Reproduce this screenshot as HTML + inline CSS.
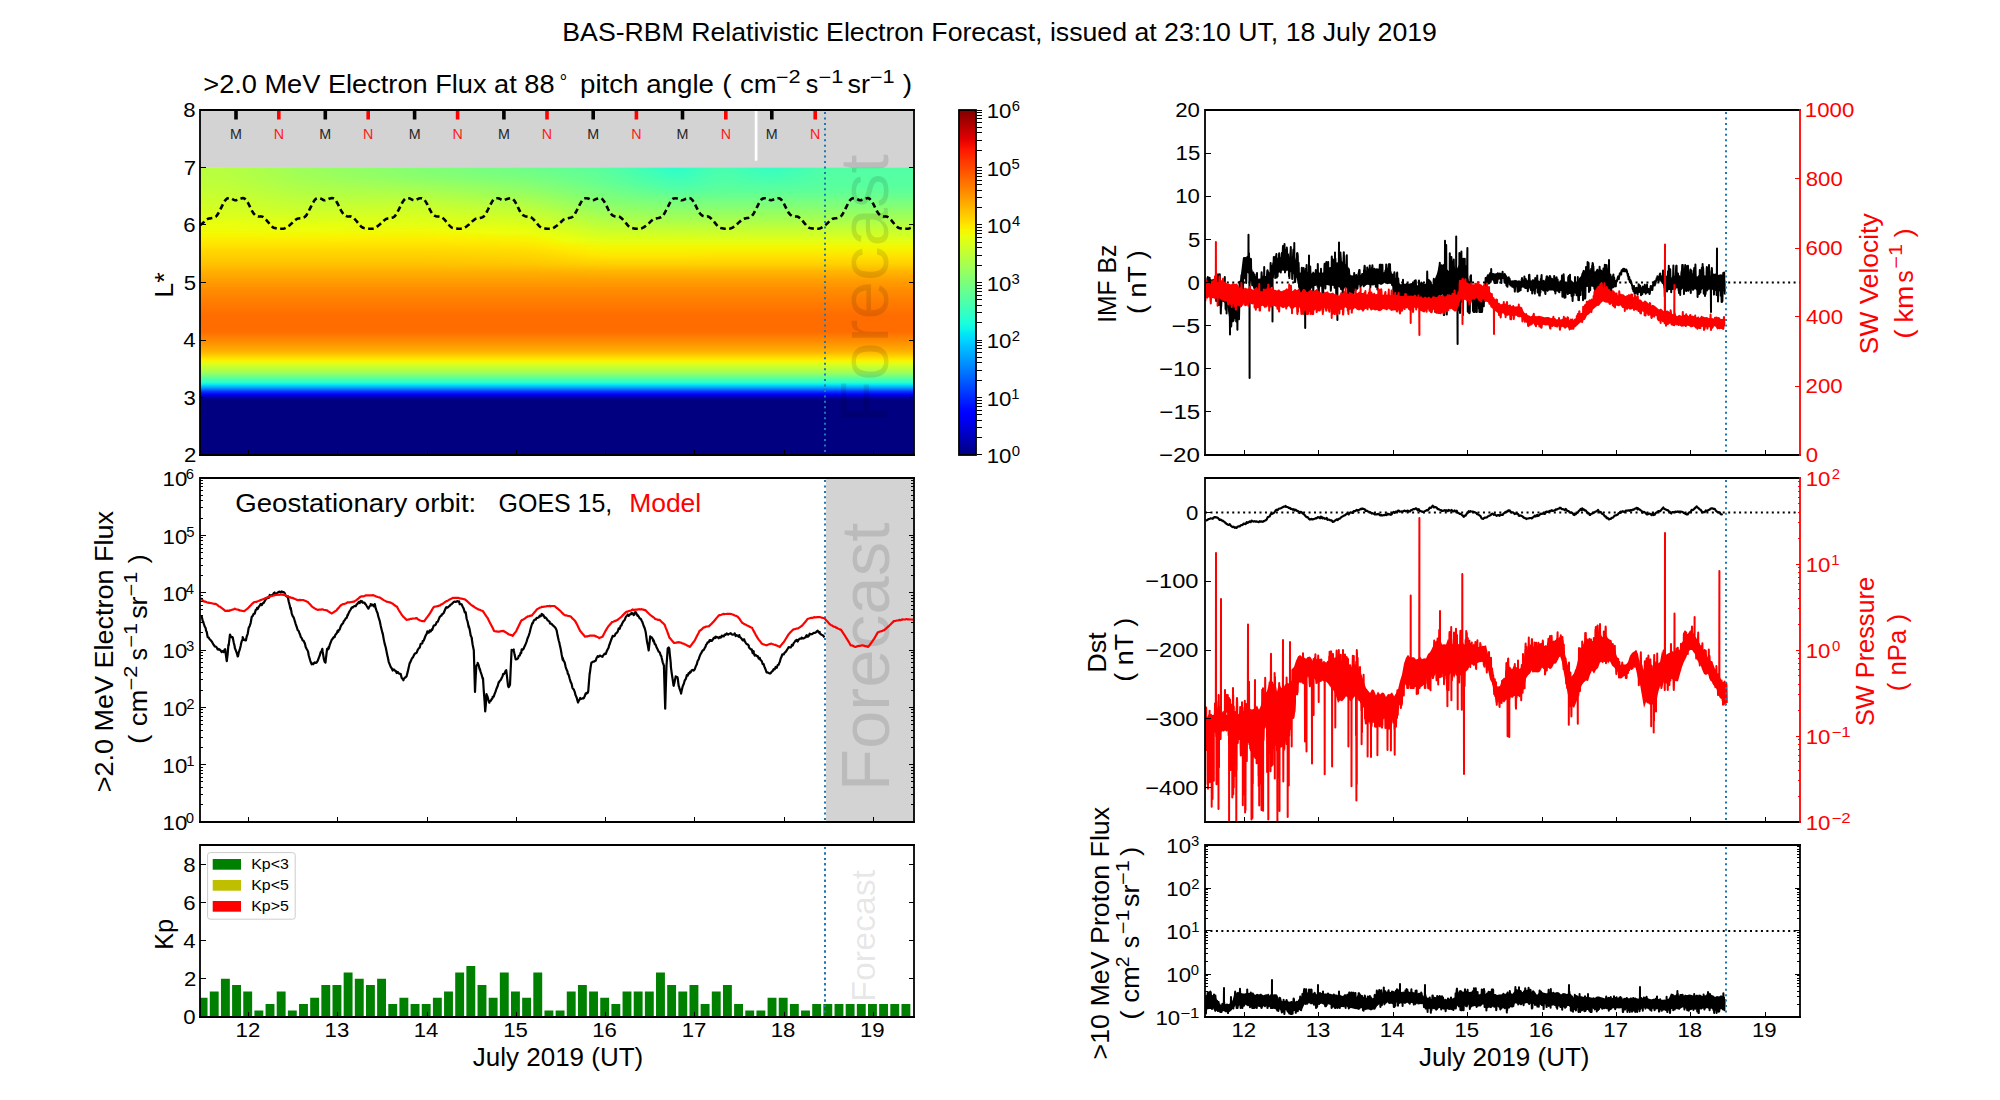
<!DOCTYPE html><html><head><meta charset="utf-8"><style>html,body{margin:0;padding:0;background:#fff}svg{display:block}text{font-family:"Liberation Sans",sans-serif}</style></head><body><svg width="2000" height="1100" viewBox="0 0 2000 1100"><defs><linearGradient id="cbar" x1="0" y1="0" x2="0" y2="1"><stop offset="0.0000" stop-color="#800000"/><stop offset="0.0167" stop-color="#930000"/><stop offset="0.0333" stop-color="#a60000"/><stop offset="0.0500" stop-color="#b90000"/><stop offset="0.0667" stop-color="#cd0000"/><stop offset="0.0833" stop-color="#e00000"/><stop offset="0.1000" stop-color="#f30900"/><stop offset="0.1167" stop-color="#ff1900"/><stop offset="0.1333" stop-color="#ff2900"/><stop offset="0.1500" stop-color="#ff3900"/><stop offset="0.1667" stop-color="#ff4800"/><stop offset="0.1833" stop-color="#ff5800"/><stop offset="0.2000" stop-color="#ff6800"/><stop offset="0.2167" stop-color="#ff7800"/><stop offset="0.2333" stop-color="#ff8700"/><stop offset="0.2500" stop-color="#ff9700"/><stop offset="0.2667" stop-color="#ffa700"/><stop offset="0.2833" stop-color="#ffb700"/><stop offset="0.3000" stop-color="#ffc600"/><stop offset="0.3167" stop-color="#ffd600"/><stop offset="0.3333" stop-color="#ffe600"/><stop offset="0.3500" stop-color="#f7f600"/><stop offset="0.3667" stop-color="#e9ff0e"/><stop offset="0.3833" stop-color="#dbff1b"/><stop offset="0.4000" stop-color="#ceff29"/><stop offset="0.4167" stop-color="#c0ff37"/><stop offset="0.4333" stop-color="#b2ff45"/><stop offset="0.4500" stop-color="#a5ff52"/><stop offset="0.4667" stop-color="#97ff60"/><stop offset="0.4833" stop-color="#89ff6e"/><stop offset="0.5000" stop-color="#7bff7b"/><stop offset="0.5167" stop-color="#6eff89"/><stop offset="0.5333" stop-color="#60ff97"/><stop offset="0.5500" stop-color="#52ffa5"/><stop offset="0.5667" stop-color="#45ffb2"/><stop offset="0.5833" stop-color="#37ffc0"/><stop offset="0.6000" stop-color="#29ffce"/><stop offset="0.6167" stop-color="#1bffdb"/><stop offset="0.6333" stop-color="#0ef7e9"/><stop offset="0.6500" stop-color="#00e5f7"/><stop offset="0.6667" stop-color="#00d5ff"/><stop offset="0.6833" stop-color="#00c3ff"/><stop offset="0.7000" stop-color="#00b3ff"/><stop offset="0.7167" stop-color="#00a2ff"/><stop offset="0.7333" stop-color="#0091ff"/><stop offset="0.7500" stop-color="#0080ff"/><stop offset="0.7667" stop-color="#006eff"/><stop offset="0.7833" stop-color="#005eff"/><stop offset="0.8000" stop-color="#004cff"/><stop offset="0.8167" stop-color="#003cff"/><stop offset="0.8333" stop-color="#002aff"/><stop offset="0.8500" stop-color="#001aff"/><stop offset="0.8667" stop-color="#0008ff"/><stop offset="0.8833" stop-color="#0000ff"/><stop offset="0.9000" stop-color="#0000f3"/><stop offset="0.9167" stop-color="#0000e0"/><stop offset="0.9333" stop-color="#0000cd"/><stop offset="0.9500" stop-color="#0000b9"/><stop offset="0.9667" stop-color="#0000a6"/><stop offset="0.9833" stop-color="#000093"/><stop offset="1.0000" stop-color="#000080"/></linearGradient><linearGradient id="spec" x1="0" y1="0" x2="0" y2="1"><stop offset="0.0000" stop-color="#84ff73"/><stop offset="0.0296" stop-color="#88ff6f"/><stop offset="0.0877" stop-color="#adff4a"/><stop offset="0.1443" stop-color="#ceff29"/><stop offset="0.2017" stop-color="#e6ff10"/><stop offset="0.2299" stop-color="#f7f600"/><stop offset="0.2870" stop-color="#ffd900"/><stop offset="0.3357" stop-color="#ffc200"/><stop offset="0.3440" stop-color="#ffbd00"/><stop offset="0.4007" stop-color="#ff9700"/><stop offset="0.4574" stop-color="#ff8000"/><stop offset="0.5148" stop-color="#ff6d00"/><stop offset="0.5715" stop-color="#ff6d00"/><stop offset="0.5906" stop-color="#ff8000"/><stop offset="0.6157" stop-color="#ff9700"/><stop offset="0.6410" stop-color="#ffb300"/><stop offset="0.6591" stop-color="#ffd900"/><stop offset="0.6713" stop-color="#fbf100"/><stop offset="0.6817" stop-color="#deff19"/><stop offset="0.6991" stop-color="#bdff3a"/><stop offset="0.7169" stop-color="#94ff63"/><stop offset="0.7322" stop-color="#5aff9c"/><stop offset="0.7475" stop-color="#29ffce"/><stop offset="0.7537" stop-color="#08f0ef"/><stop offset="0.7677" stop-color="#0094ff"/><stop offset="0.7802" stop-color="#002eff"/><stop offset="0.7903" stop-color="#0000f3"/><stop offset="0.8003" stop-color="#0000a2"/><stop offset="0.8080" stop-color="#000080"/><stop offset="1.0000" stop-color="#000080"/></linearGradient><linearGradient id="s0" x1="0" y1="0" x2="0" y2="1"><stop offset="0.000" stop-color="#b9ff3e"/><stop offset="0.069" stop-color="#bbff3b"/><stop offset="0.135" stop-color="#c0ff37"/><stop offset="0.200" stop-color="#c7ff30"/><stop offset="0.265" stop-color="#cdff29"/><stop offset="0.331" stop-color="#d3ff24"/><stop offset="0.396" stop-color="#dcff1b"/><stop offset="0.461" stop-color="#e9ff0e"/><stop offset="0.527" stop-color="#f2fb04"/><stop offset="0.592" stop-color="#feed00"/><stop offset="0.657" stop-color="#ffdd00"/><stop offset="0.722" stop-color="#ffcf00"/><stop offset="0.788" stop-color="#ffc200"/><stop offset="0.853" stop-color="#ffaf00"/><stop offset="0.918" stop-color="#ff9f00"/><stop offset="1.000" stop-color="#ff8c00"/></linearGradient><linearGradient id="s1" x1="0" y1="0" x2="0" y2="1"><stop offset="0.000" stop-color="#b8ff3f"/><stop offset="0.069" stop-color="#bbff3c"/><stop offset="0.135" stop-color="#bfff38"/><stop offset="0.200" stop-color="#c6ff31"/><stop offset="0.265" stop-color="#cdff2a"/><stop offset="0.331" stop-color="#d3ff24"/><stop offset="0.396" stop-color="#dcff1b"/><stop offset="0.461" stop-color="#e9ff0e"/><stop offset="0.527" stop-color="#f2fb04"/><stop offset="0.592" stop-color="#feed00"/><stop offset="0.657" stop-color="#ffdd00"/><stop offset="0.722" stop-color="#ffcf00"/><stop offset="0.788" stop-color="#ffc200"/><stop offset="0.853" stop-color="#ffaf00"/><stop offset="0.918" stop-color="#ff9f00"/><stop offset="1.000" stop-color="#ff8c00"/></linearGradient><linearGradient id="s2" x1="0" y1="0" x2="0" y2="1"><stop offset="0.000" stop-color="#b7ff40"/><stop offset="0.069" stop-color="#baff3d"/><stop offset="0.135" stop-color="#beff38"/><stop offset="0.200" stop-color="#c5ff32"/><stop offset="0.265" stop-color="#ccff2a"/><stop offset="0.331" stop-color="#d3ff24"/><stop offset="0.396" stop-color="#dcff1b"/><stop offset="0.461" stop-color="#e9ff0e"/><stop offset="0.527" stop-color="#f2fb04"/><stop offset="0.592" stop-color="#feed00"/><stop offset="0.657" stop-color="#ffdd00"/><stop offset="0.722" stop-color="#ffcf00"/><stop offset="0.788" stop-color="#ffc200"/><stop offset="0.853" stop-color="#ffaf00"/><stop offset="0.918" stop-color="#ff9f00"/><stop offset="1.000" stop-color="#ff8c00"/></linearGradient><linearGradient id="s3" x1="0" y1="0" x2="0" y2="1"><stop offset="0.000" stop-color="#b6ff41"/><stop offset="0.069" stop-color="#b9ff3e"/><stop offset="0.135" stop-color="#beff39"/><stop offset="0.200" stop-color="#c4ff32"/><stop offset="0.265" stop-color="#ccff2b"/><stop offset="0.331" stop-color="#d3ff24"/><stop offset="0.396" stop-color="#dcff1b"/><stop offset="0.461" stop-color="#e9ff0e"/><stop offset="0.527" stop-color="#f2fb04"/><stop offset="0.592" stop-color="#feed00"/><stop offset="0.657" stop-color="#ffdd00"/><stop offset="0.722" stop-color="#ffcf00"/><stop offset="0.788" stop-color="#ffc200"/><stop offset="0.853" stop-color="#ffaf00"/><stop offset="0.918" stop-color="#ff9f00"/><stop offset="1.000" stop-color="#ff8c00"/></linearGradient><linearGradient id="s4" x1="0" y1="0" x2="0" y2="1"><stop offset="0.000" stop-color="#b5ff41"/><stop offset="0.069" stop-color="#b8ff3f"/><stop offset="0.135" stop-color="#bdff3a"/><stop offset="0.200" stop-color="#c4ff33"/><stop offset="0.265" stop-color="#cbff2b"/><stop offset="0.331" stop-color="#d2ff24"/><stop offset="0.396" stop-color="#dcff1b"/><stop offset="0.461" stop-color="#e9ff0e"/><stop offset="0.527" stop-color="#f2fb04"/><stop offset="0.592" stop-color="#feed00"/><stop offset="0.657" stop-color="#ffdd00"/><stop offset="0.722" stop-color="#ffcf00"/><stop offset="0.788" stop-color="#ffc200"/><stop offset="0.853" stop-color="#ffaf00"/><stop offset="0.918" stop-color="#ff9f00"/><stop offset="1.000" stop-color="#ff8c00"/></linearGradient><linearGradient id="s5" x1="0" y1="0" x2="0" y2="1"><stop offset="0.000" stop-color="#b3ff44"/><stop offset="0.069" stop-color="#b6ff41"/><stop offset="0.135" stop-color="#bbff3c"/><stop offset="0.200" stop-color="#c2ff35"/><stop offset="0.265" stop-color="#caff2d"/><stop offset="0.331" stop-color="#d2ff25"/><stop offset="0.396" stop-color="#dcff1b"/><stop offset="0.461" stop-color="#e9ff0e"/><stop offset="0.527" stop-color="#f2fb05"/><stop offset="0.592" stop-color="#feed00"/><stop offset="0.657" stop-color="#ffdd00"/><stop offset="0.722" stop-color="#ffcf00"/><stop offset="0.788" stop-color="#ffc200"/><stop offset="0.853" stop-color="#ffaf00"/><stop offset="0.918" stop-color="#ff9f00"/><stop offset="1.000" stop-color="#ff8c00"/></linearGradient><linearGradient id="s6" x1="0" y1="0" x2="0" y2="1"><stop offset="0.000" stop-color="#b0ff47"/><stop offset="0.069" stop-color="#b3ff44"/><stop offset="0.135" stop-color="#b8ff3e"/><stop offset="0.200" stop-color="#c0ff37"/><stop offset="0.265" stop-color="#c8ff2f"/><stop offset="0.331" stop-color="#d0ff27"/><stop offset="0.396" stop-color="#dbff1c"/><stop offset="0.461" stop-color="#e8ff0f"/><stop offset="0.527" stop-color="#f2fb05"/><stop offset="0.592" stop-color="#feed00"/><stop offset="0.657" stop-color="#ffdd00"/><stop offset="0.722" stop-color="#ffcf00"/><stop offset="0.788" stop-color="#ffc200"/><stop offset="0.853" stop-color="#ffaf00"/><stop offset="0.918" stop-color="#ff9f00"/><stop offset="1.000" stop-color="#ff8c00"/></linearGradient><linearGradient id="s7" x1="0" y1="0" x2="0" y2="1"><stop offset="0.000" stop-color="#acff4b"/><stop offset="0.069" stop-color="#b0ff47"/><stop offset="0.135" stop-color="#b6ff41"/><stop offset="0.200" stop-color="#beff39"/><stop offset="0.265" stop-color="#c6ff31"/><stop offset="0.331" stop-color="#cfff28"/><stop offset="0.396" stop-color="#daff1d"/><stop offset="0.461" stop-color="#e7ff10"/><stop offset="0.527" stop-color="#f2fb05"/><stop offset="0.592" stop-color="#feed00"/><stop offset="0.657" stop-color="#ffdd00"/><stop offset="0.722" stop-color="#ffcf00"/><stop offset="0.788" stop-color="#ffc200"/><stop offset="0.853" stop-color="#ffaf00"/><stop offset="0.918" stop-color="#ff9f00"/><stop offset="1.000" stop-color="#ff8c00"/></linearGradient><linearGradient id="s8" x1="0" y1="0" x2="0" y2="1"><stop offset="0.000" stop-color="#a9ff4e"/><stop offset="0.069" stop-color="#adff4a"/><stop offset="0.135" stop-color="#b3ff44"/><stop offset="0.200" stop-color="#bbff3b"/><stop offset="0.265" stop-color="#c4ff33"/><stop offset="0.331" stop-color="#cdff2a"/><stop offset="0.396" stop-color="#d9ff1e"/><stop offset="0.461" stop-color="#e7ff10"/><stop offset="0.527" stop-color="#f2fc05"/><stop offset="0.592" stop-color="#feed00"/><stop offset="0.657" stop-color="#ffdd00"/><stop offset="0.722" stop-color="#ffcf00"/><stop offset="0.788" stop-color="#ffc200"/><stop offset="0.853" stop-color="#ffaf00"/><stop offset="0.918" stop-color="#ff9f00"/><stop offset="1.000" stop-color="#ff8c00"/></linearGradient><linearGradient id="s9" x1="0" y1="0" x2="0" y2="1"><stop offset="0.000" stop-color="#a5ff52"/><stop offset="0.069" stop-color="#aaff4d"/><stop offset="0.135" stop-color="#b0ff47"/><stop offset="0.200" stop-color="#b9ff3e"/><stop offset="0.265" stop-color="#c2ff35"/><stop offset="0.331" stop-color="#ccff2b"/><stop offset="0.396" stop-color="#d8ff1f"/><stop offset="0.461" stop-color="#e6ff11"/><stop offset="0.527" stop-color="#f1fc05"/><stop offset="0.592" stop-color="#feed00"/><stop offset="0.657" stop-color="#ffdd00"/><stop offset="0.722" stop-color="#ffcf00"/><stop offset="0.788" stop-color="#ffc200"/><stop offset="0.853" stop-color="#ffaf00"/><stop offset="0.918" stop-color="#ff9f00"/><stop offset="1.000" stop-color="#ff8c00"/></linearGradient><linearGradient id="s10" x1="0" y1="0" x2="0" y2="1"><stop offset="0.000" stop-color="#a2ff55"/><stop offset="0.069" stop-color="#a7ff50"/><stop offset="0.135" stop-color="#aeff49"/><stop offset="0.200" stop-color="#b7ff40"/><stop offset="0.265" stop-color="#c0ff37"/><stop offset="0.331" stop-color="#caff2c"/><stop offset="0.396" stop-color="#d7ff20"/><stop offset="0.461" stop-color="#e5ff11"/><stop offset="0.527" stop-color="#f1fc06"/><stop offset="0.592" stop-color="#feed00"/><stop offset="0.657" stop-color="#ffdd00"/><stop offset="0.722" stop-color="#ffcf00"/><stop offset="0.788" stop-color="#ffc200"/><stop offset="0.853" stop-color="#ffaf00"/><stop offset="0.918" stop-color="#ff9f00"/><stop offset="1.000" stop-color="#ff8c00"/></linearGradient><linearGradient id="s11" x1="0" y1="0" x2="0" y2="1"><stop offset="0.000" stop-color="#9eff59"/><stop offset="0.069" stop-color="#a3ff53"/><stop offset="0.135" stop-color="#abff4c"/><stop offset="0.200" stop-color="#b4ff42"/><stop offset="0.265" stop-color="#beff39"/><stop offset="0.331" stop-color="#c9ff2e"/><stop offset="0.396" stop-color="#d6ff21"/><stop offset="0.461" stop-color="#e5ff12"/><stop offset="0.527" stop-color="#f1fc06"/><stop offset="0.592" stop-color="#feed00"/><stop offset="0.657" stop-color="#ffdd00"/><stop offset="0.722" stop-color="#ffcf00"/><stop offset="0.788" stop-color="#ffc200"/><stop offset="0.853" stop-color="#ffaf00"/><stop offset="0.918" stop-color="#ff9f00"/><stop offset="1.000" stop-color="#ff8c00"/></linearGradient><linearGradient id="s12" x1="0" y1="0" x2="0" y2="1"><stop offset="0.000" stop-color="#9bff5c"/><stop offset="0.069" stop-color="#a1ff56"/><stop offset="0.135" stop-color="#a9ff4e"/><stop offset="0.200" stop-color="#b3ff44"/><stop offset="0.265" stop-color="#bdff3a"/><stop offset="0.331" stop-color="#c8ff2e"/><stop offset="0.396" stop-color="#d5ff21"/><stop offset="0.461" stop-color="#e4ff12"/><stop offset="0.527" stop-color="#f1fc06"/><stop offset="0.592" stop-color="#feed00"/><stop offset="0.657" stop-color="#ffdd00"/><stop offset="0.722" stop-color="#ffcf00"/><stop offset="0.788" stop-color="#ffc200"/><stop offset="0.853" stop-color="#ffaf00"/><stop offset="0.918" stop-color="#ff9f00"/><stop offset="1.000" stop-color="#ff8c00"/></linearGradient><linearGradient id="s13" x1="0" y1="0" x2="0" y2="1"><stop offset="0.000" stop-color="#99ff5e"/><stop offset="0.069" stop-color="#9fff58"/><stop offset="0.135" stop-color="#a7ff4f"/><stop offset="0.200" stop-color="#b2ff44"/><stop offset="0.265" stop-color="#bdff3a"/><stop offset="0.331" stop-color="#c9ff2e"/><stop offset="0.396" stop-color="#d6ff21"/><stop offset="0.461" stop-color="#e4ff12"/><stop offset="0.527" stop-color="#f1fc06"/><stop offset="0.592" stop-color="#feed00"/><stop offset="0.657" stop-color="#ffdd00"/><stop offset="0.722" stop-color="#ffcf00"/><stop offset="0.788" stop-color="#ffc200"/><stop offset="0.853" stop-color="#ffaf00"/><stop offset="0.918" stop-color="#ff9f00"/><stop offset="1.000" stop-color="#ff8c00"/></linearGradient><linearGradient id="s14" x1="0" y1="0" x2="0" y2="1"><stop offset="0.000" stop-color="#97ff60"/><stop offset="0.069" stop-color="#9cff5a"/><stop offset="0.135" stop-color="#a6ff51"/><stop offset="0.200" stop-color="#b2ff45"/><stop offset="0.265" stop-color="#bdff3a"/><stop offset="0.331" stop-color="#c9ff2e"/><stop offset="0.396" stop-color="#d6ff21"/><stop offset="0.461" stop-color="#e4ff12"/><stop offset="0.527" stop-color="#f1fc05"/><stop offset="0.592" stop-color="#feed00"/><stop offset="0.657" stop-color="#ffdd00"/><stop offset="0.722" stop-color="#ffcf00"/><stop offset="0.788" stop-color="#ffc200"/><stop offset="0.853" stop-color="#ffaf00"/><stop offset="0.918" stop-color="#ff9f00"/><stop offset="1.000" stop-color="#ff8c00"/></linearGradient><linearGradient id="s15" x1="0" y1="0" x2="0" y2="1"><stop offset="0.000" stop-color="#95ff62"/><stop offset="0.069" stop-color="#9aff5d"/><stop offset="0.135" stop-color="#a5ff52"/><stop offset="0.200" stop-color="#b1ff46"/><stop offset="0.265" stop-color="#bdff3a"/><stop offset="0.331" stop-color="#c9ff2e"/><stop offset="0.396" stop-color="#d6ff21"/><stop offset="0.461" stop-color="#e4ff12"/><stop offset="0.527" stop-color="#f2fc05"/><stop offset="0.592" stop-color="#ffed00"/><stop offset="0.657" stop-color="#ffdd00"/><stop offset="0.722" stop-color="#ffcf00"/><stop offset="0.788" stop-color="#ffc200"/><stop offset="0.853" stop-color="#ffaf00"/><stop offset="0.918" stop-color="#ff9f00"/><stop offset="1.000" stop-color="#ff8c00"/></linearGradient><linearGradient id="s16" x1="0" y1="0" x2="0" y2="1"><stop offset="0.000" stop-color="#93ff64"/><stop offset="0.069" stop-color="#98ff5f"/><stop offset="0.135" stop-color="#a3ff53"/><stop offset="0.200" stop-color="#b0ff47"/><stop offset="0.265" stop-color="#bdff3a"/><stop offset="0.331" stop-color="#c9ff2d"/><stop offset="0.396" stop-color="#d6ff20"/><stop offset="0.461" stop-color="#e4ff12"/><stop offset="0.527" stop-color="#f2fb05"/><stop offset="0.592" stop-color="#ffec00"/><stop offset="0.657" stop-color="#ffdd00"/><stop offset="0.722" stop-color="#ffcf00"/><stop offset="0.788" stop-color="#ffc200"/><stop offset="0.853" stop-color="#ffaf00"/><stop offset="0.918" stop-color="#ff9f00"/><stop offset="1.000" stop-color="#ff8c00"/></linearGradient><linearGradient id="s17" x1="0" y1="0" x2="0" y2="1"><stop offset="0.000" stop-color="#91ff66"/><stop offset="0.069" stop-color="#96ff61"/><stop offset="0.135" stop-color="#a2ff55"/><stop offset="0.200" stop-color="#b0ff47"/><stop offset="0.265" stop-color="#bcff3a"/><stop offset="0.331" stop-color="#caff2d"/><stop offset="0.396" stop-color="#d7ff20"/><stop offset="0.461" stop-color="#e4ff13"/><stop offset="0.527" stop-color="#f2fb05"/><stop offset="0.592" stop-color="#ffec00"/><stop offset="0.657" stop-color="#ffdd00"/><stop offset="0.722" stop-color="#ffcf00"/><stop offset="0.788" stop-color="#ffc200"/><stop offset="0.853" stop-color="#ffaf00"/><stop offset="0.918" stop-color="#ff9f00"/><stop offset="1.000" stop-color="#ff8c00"/></linearGradient><linearGradient id="s18" x1="0" y1="0" x2="0" y2="1"><stop offset="0.000" stop-color="#8fff68"/><stop offset="0.069" stop-color="#94ff63"/><stop offset="0.135" stop-color="#a1ff56"/><stop offset="0.200" stop-color="#afff48"/><stop offset="0.265" stop-color="#bcff3b"/><stop offset="0.331" stop-color="#caff2d"/><stop offset="0.396" stop-color="#d7ff20"/><stop offset="0.461" stop-color="#e4ff13"/><stop offset="0.527" stop-color="#f2fb05"/><stop offset="0.592" stop-color="#ffec00"/><stop offset="0.657" stop-color="#ffdd00"/><stop offset="0.722" stop-color="#ffcf00"/><stop offset="0.788" stop-color="#ffc200"/><stop offset="0.853" stop-color="#ffaf00"/><stop offset="0.918" stop-color="#ff9f00"/><stop offset="1.000" stop-color="#ff8c00"/></linearGradient><linearGradient id="s19" x1="0" y1="0" x2="0" y2="1"><stop offset="0.000" stop-color="#8dff6a"/><stop offset="0.069" stop-color="#92ff65"/><stop offset="0.135" stop-color="#9fff57"/><stop offset="0.200" stop-color="#aeff49"/><stop offset="0.265" stop-color="#bcff3b"/><stop offset="0.331" stop-color="#caff2c"/><stop offset="0.396" stop-color="#d7ff20"/><stop offset="0.461" stop-color="#e4ff13"/><stop offset="0.527" stop-color="#f2fa04"/><stop offset="0.592" stop-color="#ffec00"/><stop offset="0.657" stop-color="#ffdd00"/><stop offset="0.722" stop-color="#ffcf00"/><stop offset="0.788" stop-color="#ffc200"/><stop offset="0.853" stop-color="#ffaf00"/><stop offset="0.918" stop-color="#ff9f00"/><stop offset="1.000" stop-color="#ff8c00"/></linearGradient><linearGradient id="s20" x1="0" y1="0" x2="0" y2="1"><stop offset="0.000" stop-color="#8bff6c"/><stop offset="0.069" stop-color="#8fff67"/><stop offset="0.135" stop-color="#9eff59"/><stop offset="0.200" stop-color="#aeff49"/><stop offset="0.265" stop-color="#bcff3b"/><stop offset="0.331" stop-color="#cbff2c"/><stop offset="0.396" stop-color="#d7ff1f"/><stop offset="0.461" stop-color="#e4ff13"/><stop offset="0.527" stop-color="#f3fa04"/><stop offset="0.592" stop-color="#ffeb00"/><stop offset="0.657" stop-color="#ffdd00"/><stop offset="0.722" stop-color="#ffcf00"/><stop offset="0.788" stop-color="#ffc200"/><stop offset="0.853" stop-color="#ffaf00"/><stop offset="0.918" stop-color="#ff9f00"/><stop offset="1.000" stop-color="#ff8c00"/></linearGradient><linearGradient id="s21" x1="0" y1="0" x2="0" y2="1"><stop offset="0.000" stop-color="#89ff6e"/><stop offset="0.069" stop-color="#8dff6a"/><stop offset="0.135" stop-color="#9dff5a"/><stop offset="0.200" stop-color="#adff4a"/><stop offset="0.265" stop-color="#bcff3b"/><stop offset="0.331" stop-color="#cbff2c"/><stop offset="0.396" stop-color="#d8ff1f"/><stop offset="0.461" stop-color="#e4ff13"/><stop offset="0.527" stop-color="#f3fa04"/><stop offset="0.592" stop-color="#ffeb00"/><stop offset="0.657" stop-color="#ffdd00"/><stop offset="0.722" stop-color="#ffcf00"/><stop offset="0.788" stop-color="#ffc200"/><stop offset="0.853" stop-color="#ffaf00"/><stop offset="0.918" stop-color="#ff9f00"/><stop offset="1.000" stop-color="#ff8c00"/></linearGradient><linearGradient id="s22" x1="0" y1="0" x2="0" y2="1"><stop offset="0.000" stop-color="#87ff70"/><stop offset="0.069" stop-color="#8bff6c"/><stop offset="0.135" stop-color="#9bff5b"/><stop offset="0.200" stop-color="#acff4b"/><stop offset="0.265" stop-color="#bcff3b"/><stop offset="0.331" stop-color="#cbff2c"/><stop offset="0.396" stop-color="#d8ff1f"/><stop offset="0.461" stop-color="#e4ff13"/><stop offset="0.527" stop-color="#f3fa04"/><stop offset="0.592" stop-color="#ffeb00"/><stop offset="0.657" stop-color="#ffdd00"/><stop offset="0.722" stop-color="#ffcf00"/><stop offset="0.788" stop-color="#ffc200"/><stop offset="0.853" stop-color="#ffaf00"/><stop offset="0.918" stop-color="#ff9f00"/><stop offset="1.000" stop-color="#ff8c00"/></linearGradient><linearGradient id="s23" x1="0" y1="0" x2="0" y2="1"><stop offset="0.000" stop-color="#85ff72"/><stop offset="0.069" stop-color="#89ff6e"/><stop offset="0.135" stop-color="#9aff5d"/><stop offset="0.200" stop-color="#acff4b"/><stop offset="0.265" stop-color="#bcff3b"/><stop offset="0.331" stop-color="#cbff2b"/><stop offset="0.396" stop-color="#d8ff1f"/><stop offset="0.461" stop-color="#e4ff13"/><stop offset="0.527" stop-color="#f3f903"/><stop offset="0.592" stop-color="#ffeb00"/><stop offset="0.657" stop-color="#ffdd00"/><stop offset="0.722" stop-color="#ffcf00"/><stop offset="0.788" stop-color="#ffc200"/><stop offset="0.853" stop-color="#ffaf00"/><stop offset="0.918" stop-color="#ff9f00"/><stop offset="1.000" stop-color="#ff8c00"/></linearGradient><linearGradient id="s24" x1="0" y1="0" x2="0" y2="1"><stop offset="0.000" stop-color="#82ff74"/><stop offset="0.069" stop-color="#87ff70"/><stop offset="0.135" stop-color="#98ff5e"/><stop offset="0.200" stop-color="#aaff4d"/><stop offset="0.265" stop-color="#bbff3c"/><stop offset="0.331" stop-color="#cbff2c"/><stop offset="0.396" stop-color="#d8ff1f"/><stop offset="0.461" stop-color="#e4ff13"/><stop offset="0.527" stop-color="#f3fa04"/><stop offset="0.592" stop-color="#ffeb00"/><stop offset="0.657" stop-color="#ffdd00"/><stop offset="0.722" stop-color="#ffcf00"/><stop offset="0.788" stop-color="#ffc200"/><stop offset="0.853" stop-color="#ffaf00"/><stop offset="0.918" stop-color="#ff9f00"/><stop offset="1.000" stop-color="#ff8c00"/></linearGradient><linearGradient id="s25" x1="0" y1="0" x2="0" y2="1"><stop offset="0.000" stop-color="#80ff77"/><stop offset="0.069" stop-color="#85ff71"/><stop offset="0.135" stop-color="#96ff60"/><stop offset="0.200" stop-color="#a8ff4f"/><stop offset="0.265" stop-color="#b9ff3e"/><stop offset="0.331" stop-color="#c9ff2d"/><stop offset="0.396" stop-color="#d6ff20"/><stop offset="0.461" stop-color="#e3ff14"/><stop offset="0.527" stop-color="#f2fb04"/><stop offset="0.592" stop-color="#ffec00"/><stop offset="0.657" stop-color="#ffdd00"/><stop offset="0.722" stop-color="#ffd000"/><stop offset="0.788" stop-color="#ffc200"/><stop offset="0.853" stop-color="#ffaf00"/><stop offset="0.918" stop-color="#ff9f00"/><stop offset="1.000" stop-color="#ff8c00"/></linearGradient><linearGradient id="s26" x1="0" y1="0" x2="0" y2="1"><stop offset="0.000" stop-color="#7eff79"/><stop offset="0.069" stop-color="#84ff73"/><stop offset="0.135" stop-color="#94ff62"/><stop offset="0.200" stop-color="#a6ff51"/><stop offset="0.265" stop-color="#b7ff40"/><stop offset="0.331" stop-color="#c8ff2f"/><stop offset="0.396" stop-color="#d5ff22"/><stop offset="0.461" stop-color="#e2ff15"/><stop offset="0.527" stop-color="#f2fb05"/><stop offset="0.592" stop-color="#ffec00"/><stop offset="0.657" stop-color="#ffde00"/><stop offset="0.722" stop-color="#ffd000"/><stop offset="0.788" stop-color="#ffc300"/><stop offset="0.853" stop-color="#ffaf00"/><stop offset="0.918" stop-color="#ff9f00"/><stop offset="1.000" stop-color="#ff8c00"/></linearGradient><linearGradient id="s27" x1="0" y1="0" x2="0" y2="1"><stop offset="0.000" stop-color="#7cff7b"/><stop offset="0.069" stop-color="#82ff75"/><stop offset="0.135" stop-color="#93ff64"/><stop offset="0.200" stop-color="#a4ff53"/><stop offset="0.265" stop-color="#b5ff42"/><stop offset="0.331" stop-color="#c6ff31"/><stop offset="0.396" stop-color="#d4ff23"/><stop offset="0.461" stop-color="#e2ff15"/><stop offset="0.527" stop-color="#f1fc06"/><stop offset="0.592" stop-color="#feed00"/><stop offset="0.657" stop-color="#ffde00"/><stop offset="0.722" stop-color="#ffd100"/><stop offset="0.788" stop-color="#ffc300"/><stop offset="0.853" stop-color="#ffaf00"/><stop offset="0.918" stop-color="#ff9f00"/><stop offset="1.000" stop-color="#ff8c00"/></linearGradient><linearGradient id="s28" x1="0" y1="0" x2="0" y2="1"><stop offset="0.000" stop-color="#7aff7d"/><stop offset="0.069" stop-color="#81ff76"/><stop offset="0.135" stop-color="#91ff66"/><stop offset="0.200" stop-color="#a2ff55"/><stop offset="0.265" stop-color="#b3ff44"/><stop offset="0.331" stop-color="#c5ff32"/><stop offset="0.396" stop-color="#d3ff24"/><stop offset="0.461" stop-color="#e1ff16"/><stop offset="0.527" stop-color="#f0fd07"/><stop offset="0.592" stop-color="#feee00"/><stop offset="0.657" stop-color="#ffdf00"/><stop offset="0.722" stop-color="#ffd100"/><stop offset="0.788" stop-color="#ffc400"/><stop offset="0.853" stop-color="#ffaf00"/><stop offset="0.918" stop-color="#ff9f00"/><stop offset="1.000" stop-color="#ff8c00"/></linearGradient><linearGradient id="s29" x1="0" y1="0" x2="0" y2="1"><stop offset="0.000" stop-color="#77ff80"/><stop offset="0.069" stop-color="#7fff78"/><stop offset="0.135" stop-color="#8fff68"/><stop offset="0.200" stop-color="#a0ff57"/><stop offset="0.265" stop-color="#b1ff45"/><stop offset="0.331" stop-color="#c3ff34"/><stop offset="0.396" stop-color="#d2ff25"/><stop offset="0.461" stop-color="#e0ff17"/><stop offset="0.527" stop-color="#effe07"/><stop offset="0.592" stop-color="#fdee00"/><stop offset="0.657" stop-color="#ffdf00"/><stop offset="0.722" stop-color="#ffd100"/><stop offset="0.788" stop-color="#ffc400"/><stop offset="0.853" stop-color="#ffaf00"/><stop offset="0.918" stop-color="#ff9f00"/><stop offset="1.000" stop-color="#ff8c00"/></linearGradient><linearGradient id="s30" x1="0" y1="0" x2="0" y2="1"><stop offset="0.000" stop-color="#75ff82"/><stop offset="0.069" stop-color="#7dff79"/><stop offset="0.135" stop-color="#8dff6a"/><stop offset="0.200" stop-color="#9eff59"/><stop offset="0.265" stop-color="#b0ff47"/><stop offset="0.331" stop-color="#c2ff35"/><stop offset="0.396" stop-color="#d1ff26"/><stop offset="0.461" stop-color="#dfff17"/><stop offset="0.527" stop-color="#efff08"/><stop offset="0.592" stop-color="#fcef00"/><stop offset="0.657" stop-color="#ffe000"/><stop offset="0.722" stop-color="#ffd200"/><stop offset="0.788" stop-color="#ffc400"/><stop offset="0.853" stop-color="#ffaf00"/><stop offset="0.918" stop-color="#ff9f00"/><stop offset="1.000" stop-color="#ff8c00"/></linearGradient><linearGradient id="s31" x1="0" y1="0" x2="0" y2="1"><stop offset="0.000" stop-color="#73ff84"/><stop offset="0.069" stop-color="#7cff7b"/><stop offset="0.135" stop-color="#8bff6c"/><stop offset="0.200" stop-color="#9bff5b"/><stop offset="0.265" stop-color="#aeff49"/><stop offset="0.331" stop-color="#c0ff37"/><stop offset="0.396" stop-color="#d0ff27"/><stop offset="0.461" stop-color="#dfff18"/><stop offset="0.527" stop-color="#eeff09"/><stop offset="0.592" stop-color="#fcf000"/><stop offset="0.657" stop-color="#ffe000"/><stop offset="0.722" stop-color="#ffd200"/><stop offset="0.788" stop-color="#ffc500"/><stop offset="0.853" stop-color="#ffaf00"/><stop offset="0.918" stop-color="#ff9f00"/><stop offset="1.000" stop-color="#ff8c00"/></linearGradient><linearGradient id="s32" x1="0" y1="0" x2="0" y2="1"><stop offset="0.000" stop-color="#71ff86"/><stop offset="0.069" stop-color="#7aff7d"/><stop offset="0.135" stop-color="#89ff6e"/><stop offset="0.200" stop-color="#99ff5d"/><stop offset="0.265" stop-color="#acff4b"/><stop offset="0.331" stop-color="#bfff38"/><stop offset="0.396" stop-color="#ceff28"/><stop offset="0.461" stop-color="#deff19"/><stop offset="0.527" stop-color="#edff0a"/><stop offset="0.592" stop-color="#fbf000"/><stop offset="0.657" stop-color="#ffe100"/><stop offset="0.722" stop-color="#ffd300"/><stop offset="0.788" stop-color="#ffc500"/><stop offset="0.853" stop-color="#ffaf00"/><stop offset="0.918" stop-color="#ff9f00"/><stop offset="1.000" stop-color="#ff8c00"/></linearGradient><linearGradient id="s33" x1="0" y1="0" x2="0" y2="1"><stop offset="0.000" stop-color="#6eff88"/><stop offset="0.069" stop-color="#79ff7e"/><stop offset="0.135" stop-color="#87ff70"/><stop offset="0.200" stop-color="#97ff60"/><stop offset="0.265" stop-color="#aaff4d"/><stop offset="0.331" stop-color="#bdff3a"/><stop offset="0.396" stop-color="#cdff29"/><stop offset="0.461" stop-color="#ddff1a"/><stop offset="0.527" stop-color="#ecff0a"/><stop offset="0.592" stop-color="#fbf100"/><stop offset="0.657" stop-color="#ffe100"/><stop offset="0.722" stop-color="#ffd300"/><stop offset="0.788" stop-color="#ffc600"/><stop offset="0.853" stop-color="#ffaf00"/><stop offset="0.918" stop-color="#ff9f00"/><stop offset="1.000" stop-color="#ff8c00"/></linearGradient><linearGradient id="s34" x1="0" y1="0" x2="0" y2="1"><stop offset="0.000" stop-color="#6cff8b"/><stop offset="0.069" stop-color="#77ff80"/><stop offset="0.135" stop-color="#85ff72"/><stop offset="0.200" stop-color="#95ff62"/><stop offset="0.265" stop-color="#a8ff4e"/><stop offset="0.331" stop-color="#bcff3b"/><stop offset="0.396" stop-color="#ccff2b"/><stop offset="0.461" stop-color="#dcff1a"/><stop offset="0.527" stop-color="#ecff0b"/><stop offset="0.592" stop-color="#faf200"/><stop offset="0.657" stop-color="#ffe200"/><stop offset="0.722" stop-color="#ffd400"/><stop offset="0.788" stop-color="#ffc600"/><stop offset="0.853" stop-color="#ffaf00"/><stop offset="0.918" stop-color="#ff9f00"/><stop offset="1.000" stop-color="#ff8c00"/></linearGradient><linearGradient id="s35" x1="0" y1="0" x2="0" y2="1"><stop offset="0.000" stop-color="#6aff8d"/><stop offset="0.069" stop-color="#75ff82"/><stop offset="0.135" stop-color="#82ff75"/><stop offset="0.200" stop-color="#92ff65"/><stop offset="0.265" stop-color="#a5ff52"/><stop offset="0.331" stop-color="#b8ff3f"/><stop offset="0.396" stop-color="#c9ff2e"/><stop offset="0.461" stop-color="#daff1d"/><stop offset="0.527" stop-color="#e9ff0e"/><stop offset="0.592" stop-color="#f8f400"/><stop offset="0.657" stop-color="#ffe300"/><stop offset="0.722" stop-color="#ffd500"/><stop offset="0.788" stop-color="#ffc700"/><stop offset="0.853" stop-color="#ffaf00"/><stop offset="0.918" stop-color="#ff9f00"/><stop offset="1.000" stop-color="#ff8c00"/></linearGradient><linearGradient id="s36" x1="0" y1="0" x2="0" y2="1"><stop offset="0.000" stop-color="#67ff8f"/><stop offset="0.069" stop-color="#71ff85"/><stop offset="0.135" stop-color="#7eff79"/><stop offset="0.200" stop-color="#8eff69"/><stop offset="0.265" stop-color="#a0ff57"/><stop offset="0.331" stop-color="#b2ff44"/><stop offset="0.396" stop-color="#c4ff33"/><stop offset="0.461" stop-color="#d5ff22"/><stop offset="0.527" stop-color="#e5ff12"/><stop offset="0.592" stop-color="#f5f802"/><stop offset="0.657" stop-color="#ffe600"/><stop offset="0.722" stop-color="#ffd800"/><stop offset="0.788" stop-color="#ffc800"/><stop offset="0.853" stop-color="#ffb000"/><stop offset="0.918" stop-color="#ff9f00"/><stop offset="1.000" stop-color="#ff8c00"/></linearGradient><linearGradient id="s37" x1="0" y1="0" x2="0" y2="1"><stop offset="0.000" stop-color="#65ff92"/><stop offset="0.069" stop-color="#6eff89"/><stop offset="0.135" stop-color="#7aff7d"/><stop offset="0.200" stop-color="#89ff6d"/><stop offset="0.265" stop-color="#9bff5c"/><stop offset="0.331" stop-color="#adff4a"/><stop offset="0.396" stop-color="#bfff38"/><stop offset="0.461" stop-color="#d0ff27"/><stop offset="0.527" stop-color="#e1ff16"/><stop offset="0.592" stop-color="#f1fc05"/><stop offset="0.657" stop-color="#ffe900"/><stop offset="0.722" stop-color="#ffda00"/><stop offset="0.788" stop-color="#ffca00"/><stop offset="0.853" stop-color="#ffb000"/><stop offset="0.918" stop-color="#ff9f00"/><stop offset="1.000" stop-color="#ff8c00"/></linearGradient><linearGradient id="s38" x1="0" y1="0" x2="0" y2="1"><stop offset="0.000" stop-color="#63ff94"/><stop offset="0.069" stop-color="#6bff8c"/><stop offset="0.135" stop-color="#76ff80"/><stop offset="0.200" stop-color="#85ff72"/><stop offset="0.265" stop-color="#96ff61"/><stop offset="0.331" stop-color="#a7ff4f"/><stop offset="0.396" stop-color="#b9ff3d"/><stop offset="0.461" stop-color="#cbff2b"/><stop offset="0.527" stop-color="#ddff1a"/><stop offset="0.592" stop-color="#eeff09"/><stop offset="0.657" stop-color="#ffec00"/><stop offset="0.722" stop-color="#ffdd00"/><stop offset="0.788" stop-color="#ffcb00"/><stop offset="0.853" stop-color="#ffb100"/><stop offset="0.918" stop-color="#ff9f00"/><stop offset="1.000" stop-color="#ff8c00"/></linearGradient><linearGradient id="s39" x1="0" y1="0" x2="0" y2="1"><stop offset="0.000" stop-color="#60ff96"/><stop offset="0.069" stop-color="#68ff8f"/><stop offset="0.135" stop-color="#73ff84"/><stop offset="0.200" stop-color="#81ff76"/><stop offset="0.265" stop-color="#90ff66"/><stop offset="0.331" stop-color="#a2ff55"/><stop offset="0.396" stop-color="#b4ff43"/><stop offset="0.461" stop-color="#c7ff30"/><stop offset="0.527" stop-color="#d9ff1e"/><stop offset="0.592" stop-color="#ebff0c"/><stop offset="0.657" stop-color="#fcef00"/><stop offset="0.722" stop-color="#ffe000"/><stop offset="0.788" stop-color="#ffcc00"/><stop offset="0.853" stop-color="#ffb200"/><stop offset="0.918" stop-color="#ff9f00"/><stop offset="1.000" stop-color="#ff8c00"/></linearGradient><linearGradient id="s40" x1="0" y1="0" x2="0" y2="1"><stop offset="0.000" stop-color="#5eff99"/><stop offset="0.069" stop-color="#65ff92"/><stop offset="0.135" stop-color="#6fff88"/><stop offset="0.200" stop-color="#7dff7a"/><stop offset="0.265" stop-color="#8bff6b"/><stop offset="0.331" stop-color="#9cff5a"/><stop offset="0.396" stop-color="#afff48"/><stop offset="0.461" stop-color="#c2ff35"/><stop offset="0.527" stop-color="#d5ff22"/><stop offset="0.592" stop-color="#e7ff10"/><stop offset="0.657" stop-color="#faf200"/><stop offset="0.722" stop-color="#ffe200"/><stop offset="0.788" stop-color="#ffce00"/><stop offset="0.853" stop-color="#ffb200"/><stop offset="0.918" stop-color="#ff9f00"/><stop offset="1.000" stop-color="#ff8c00"/></linearGradient><linearGradient id="s41" x1="0" y1="0" x2="0" y2="1"><stop offset="0.000" stop-color="#5cff9b"/><stop offset="0.069" stop-color="#62ff95"/><stop offset="0.135" stop-color="#6bff8c"/><stop offset="0.200" stop-color="#79ff7e"/><stop offset="0.265" stop-color="#86ff71"/><stop offset="0.331" stop-color="#97ff60"/><stop offset="0.396" stop-color="#aaff4d"/><stop offset="0.461" stop-color="#bdff3a"/><stop offset="0.527" stop-color="#d1ff26"/><stop offset="0.592" stop-color="#e4ff13"/><stop offset="0.657" stop-color="#f7f500"/><stop offset="0.722" stop-color="#ffe500"/><stop offset="0.788" stop-color="#ffcf00"/><stop offset="0.853" stop-color="#ffb300"/><stop offset="0.918" stop-color="#ff9f00"/><stop offset="1.000" stop-color="#ff8c00"/></linearGradient><linearGradient id="s42" x1="0" y1="0" x2="0" y2="1"><stop offset="0.000" stop-color="#57ff9f"/><stop offset="0.069" stop-color="#5dff99"/><stop offset="0.135" stop-color="#67ff90"/><stop offset="0.200" stop-color="#75ff82"/><stop offset="0.265" stop-color="#83ff74"/><stop offset="0.331" stop-color="#93ff64"/><stop offset="0.396" stop-color="#a6ff50"/><stop offset="0.461" stop-color="#baff3c"/><stop offset="0.527" stop-color="#ceff29"/><stop offset="0.592" stop-color="#e2ff15"/><stop offset="0.657" stop-color="#f6f601"/><stop offset="0.722" stop-color="#ffe600"/><stop offset="0.788" stop-color="#ffd000"/><stop offset="0.853" stop-color="#ffb300"/><stop offset="0.918" stop-color="#ff9f00"/><stop offset="1.000" stop-color="#ff8c00"/></linearGradient><linearGradient id="s43" x1="0" y1="0" x2="0" y2="1"><stop offset="0.000" stop-color="#51ffa6"/><stop offset="0.069" stop-color="#58ff9f"/><stop offset="0.135" stop-color="#62ff94"/><stop offset="0.200" stop-color="#71ff86"/><stop offset="0.265" stop-color="#80ff76"/><stop offset="0.331" stop-color="#92ff65"/><stop offset="0.396" stop-color="#a5ff52"/><stop offset="0.461" stop-color="#b9ff3d"/><stop offset="0.527" stop-color="#ceff29"/><stop offset="0.592" stop-color="#e2ff15"/><stop offset="0.657" stop-color="#f6f601"/><stop offset="0.722" stop-color="#ffe600"/><stop offset="0.788" stop-color="#ffd000"/><stop offset="0.853" stop-color="#ffb300"/><stop offset="0.918" stop-color="#ff9f00"/><stop offset="1.000" stop-color="#ff8c00"/></linearGradient><linearGradient id="s44" x1="0" y1="0" x2="0" y2="1"><stop offset="0.000" stop-color="#4bffac"/><stop offset="0.069" stop-color="#53ffa4"/><stop offset="0.135" stop-color="#5eff99"/><stop offset="0.200" stop-color="#6dff8a"/><stop offset="0.265" stop-color="#7eff78"/><stop offset="0.331" stop-color="#90ff67"/><stop offset="0.396" stop-color="#a4ff53"/><stop offset="0.461" stop-color="#b9ff3e"/><stop offset="0.527" stop-color="#cdff29"/><stop offset="0.592" stop-color="#e2ff15"/><stop offset="0.657" stop-color="#f6f601"/><stop offset="0.722" stop-color="#ffe600"/><stop offset="0.788" stop-color="#ffd000"/><stop offset="0.853" stop-color="#ffb300"/><stop offset="0.918" stop-color="#ff9f00"/><stop offset="1.000" stop-color="#ff8c00"/></linearGradient><linearGradient id="s45" x1="0" y1="0" x2="0" y2="1"><stop offset="0.000" stop-color="#44ffb2"/><stop offset="0.069" stop-color="#4dffa9"/><stop offset="0.135" stop-color="#59ff9d"/><stop offset="0.200" stop-color="#69ff8e"/><stop offset="0.265" stop-color="#7cff7b"/><stop offset="0.331" stop-color="#8eff69"/><stop offset="0.396" stop-color="#a3ff54"/><stop offset="0.461" stop-color="#b8ff3f"/><stop offset="0.527" stop-color="#cdff2a"/><stop offset="0.592" stop-color="#e2ff15"/><stop offset="0.657" stop-color="#f6f601"/><stop offset="0.722" stop-color="#ffe600"/><stop offset="0.788" stop-color="#ffd000"/><stop offset="0.853" stop-color="#ffb300"/><stop offset="0.918" stop-color="#ff9f00"/><stop offset="1.000" stop-color="#ff8c00"/></linearGradient><linearGradient id="s46" x1="0" y1="0" x2="0" y2="1"><stop offset="0.000" stop-color="#3effb9"/><stop offset="0.069" stop-color="#48ffaf"/><stop offset="0.135" stop-color="#55ffa2"/><stop offset="0.200" stop-color="#65ff91"/><stop offset="0.265" stop-color="#7aff7d"/><stop offset="0.331" stop-color="#8cff6a"/><stop offset="0.396" stop-color="#a1ff55"/><stop offset="0.461" stop-color="#b7ff40"/><stop offset="0.527" stop-color="#cdff2a"/><stop offset="0.592" stop-color="#e2ff15"/><stop offset="0.657" stop-color="#f6f601"/><stop offset="0.722" stop-color="#ffe600"/><stop offset="0.788" stop-color="#ffd000"/><stop offset="0.853" stop-color="#ffb300"/><stop offset="0.918" stop-color="#ff9f00"/><stop offset="1.000" stop-color="#ff8c00"/></linearGradient><linearGradient id="s47" x1="0" y1="0" x2="0" y2="1"><stop offset="0.000" stop-color="#38ffbf"/><stop offset="0.069" stop-color="#43ffb4"/><stop offset="0.135" stop-color="#50ffa6"/><stop offset="0.200" stop-color="#62ff95"/><stop offset="0.265" stop-color="#78ff7f"/><stop offset="0.331" stop-color="#8bff6c"/><stop offset="0.396" stop-color="#a0ff57"/><stop offset="0.461" stop-color="#b6ff41"/><stop offset="0.527" stop-color="#ccff2b"/><stop offset="0.592" stop-color="#e2ff15"/><stop offset="0.657" stop-color="#f6f601"/><stop offset="0.722" stop-color="#ffe600"/><stop offset="0.788" stop-color="#ffd000"/><stop offset="0.853" stop-color="#ffb300"/><stop offset="0.918" stop-color="#ff9f00"/><stop offset="1.000" stop-color="#ff8c00"/></linearGradient><linearGradient id="s48" x1="0" y1="0" x2="0" y2="1"><stop offset="0.000" stop-color="#31ffc5"/><stop offset="0.069" stop-color="#3dffb9"/><stop offset="0.135" stop-color="#4cffab"/><stop offset="0.200" stop-color="#5eff99"/><stop offset="0.265" stop-color="#76ff81"/><stop offset="0.331" stop-color="#89ff6e"/><stop offset="0.396" stop-color="#9fff58"/><stop offset="0.461" stop-color="#b5ff42"/><stop offset="0.527" stop-color="#ccff2b"/><stop offset="0.592" stop-color="#e2ff15"/><stop offset="0.657" stop-color="#f6f601"/><stop offset="0.722" stop-color="#ffe600"/><stop offset="0.788" stop-color="#ffd000"/><stop offset="0.853" stop-color="#ffb300"/><stop offset="0.918" stop-color="#ff9f00"/><stop offset="1.000" stop-color="#ff8c00"/></linearGradient><linearGradient id="s49" x1="0" y1="0" x2="0" y2="1"><stop offset="0.000" stop-color="#2bffcc"/><stop offset="0.069" stop-color="#38ffbf"/><stop offset="0.135" stop-color="#47ffaf"/><stop offset="0.200" stop-color="#5aff9d"/><stop offset="0.265" stop-color="#74ff83"/><stop offset="0.331" stop-color="#87ff6f"/><stop offset="0.396" stop-color="#9dff59"/><stop offset="0.461" stop-color="#b4ff42"/><stop offset="0.527" stop-color="#cbff2b"/><stop offset="0.592" stop-color="#e2ff15"/><stop offset="0.657" stop-color="#f6f601"/><stop offset="0.722" stop-color="#ffe600"/><stop offset="0.788" stop-color="#ffd000"/><stop offset="0.853" stop-color="#ffb300"/><stop offset="0.918" stop-color="#ff9f00"/><stop offset="1.000" stop-color="#ff8c00"/></linearGradient><linearGradient id="s50" x1="0" y1="0" x2="0" y2="1"><stop offset="0.000" stop-color="#2fffc8"/><stop offset="0.069" stop-color="#3bffbc"/><stop offset="0.135" stop-color="#49ffae"/><stop offset="0.200" stop-color="#5aff9d"/><stop offset="0.265" stop-color="#73ff84"/><stop offset="0.331" stop-color="#87ff70"/><stop offset="0.396" stop-color="#9dff5a"/><stop offset="0.461" stop-color="#b4ff43"/><stop offset="0.527" stop-color="#cbff2c"/><stop offset="0.592" stop-color="#e2ff15"/><stop offset="0.657" stop-color="#f6f601"/><stop offset="0.722" stop-color="#ffe600"/><stop offset="0.788" stop-color="#ffd000"/><stop offset="0.853" stop-color="#ffb300"/><stop offset="0.918" stop-color="#ff9f00"/><stop offset="1.000" stop-color="#ff8c00"/></linearGradient><linearGradient id="s51" x1="0" y1="0" x2="0" y2="1"><stop offset="0.000" stop-color="#36ffc0"/><stop offset="0.069" stop-color="#41ffb6"/><stop offset="0.135" stop-color="#4cffab"/><stop offset="0.200" stop-color="#5cff9b"/><stop offset="0.265" stop-color="#73ff84"/><stop offset="0.331" stop-color="#87ff70"/><stop offset="0.396" stop-color="#9dff5a"/><stop offset="0.461" stop-color="#b4ff43"/><stop offset="0.527" stop-color="#cbff2c"/><stop offset="0.592" stop-color="#e2ff15"/><stop offset="0.657" stop-color="#f6f601"/><stop offset="0.722" stop-color="#ffe500"/><stop offset="0.788" stop-color="#ffd000"/><stop offset="0.853" stop-color="#ffb300"/><stop offset="0.918" stop-color="#ff9f00"/><stop offset="1.000" stop-color="#ff8c00"/></linearGradient><linearGradient id="s52" x1="0" y1="0" x2="0" y2="1"><stop offset="0.000" stop-color="#3effb8"/><stop offset="0.069" stop-color="#47ffb0"/><stop offset="0.135" stop-color="#50ffa7"/><stop offset="0.200" stop-color="#5dff9a"/><stop offset="0.265" stop-color="#73ff84"/><stop offset="0.331" stop-color="#87ff70"/><stop offset="0.396" stop-color="#9dff5a"/><stop offset="0.461" stop-color="#b4ff43"/><stop offset="0.527" stop-color="#cbff2c"/><stop offset="0.592" stop-color="#e2ff15"/><stop offset="0.657" stop-color="#f6f601"/><stop offset="0.722" stop-color="#ffe400"/><stop offset="0.788" stop-color="#ffd000"/><stop offset="0.853" stop-color="#ffb300"/><stop offset="0.918" stop-color="#ff9f00"/><stop offset="1.000" stop-color="#ff8c00"/></linearGradient><linearGradient id="s53" x1="0" y1="0" x2="0" y2="1"><stop offset="0.000" stop-color="#46ffb1"/><stop offset="0.069" stop-color="#4dffaa"/><stop offset="0.135" stop-color="#54ffa3"/><stop offset="0.200" stop-color="#5fff98"/><stop offset="0.265" stop-color="#73ff84"/><stop offset="0.331" stop-color="#87ff70"/><stop offset="0.396" stop-color="#9dff5a"/><stop offset="0.461" stop-color="#b4ff43"/><stop offset="0.527" stop-color="#cbff2c"/><stop offset="0.592" stop-color="#e2ff15"/><stop offset="0.657" stop-color="#f6f601"/><stop offset="0.722" stop-color="#ffe300"/><stop offset="0.788" stop-color="#ffd000"/><stop offset="0.853" stop-color="#ffb300"/><stop offset="0.918" stop-color="#ff9f00"/><stop offset="1.000" stop-color="#ff8c00"/></linearGradient><linearGradient id="s54" x1="0" y1="0" x2="0" y2="1"><stop offset="0.000" stop-color="#48ffaf"/><stop offset="0.069" stop-color="#4effa9"/><stop offset="0.135" stop-color="#55ffa2"/><stop offset="0.200" stop-color="#5fff97"/><stop offset="0.265" stop-color="#73ff84"/><stop offset="0.331" stop-color="#87ff70"/><stop offset="0.396" stop-color="#9dff5a"/><stop offset="0.461" stop-color="#b4ff43"/><stop offset="0.527" stop-color="#cbff2c"/><stop offset="0.592" stop-color="#e2ff15"/><stop offset="0.657" stop-color="#f6f601"/><stop offset="0.722" stop-color="#ffe300"/><stop offset="0.788" stop-color="#ffd000"/><stop offset="0.853" stop-color="#ffb300"/><stop offset="0.918" stop-color="#ff9f00"/><stop offset="1.000" stop-color="#ff8c00"/></linearGradient><linearGradient id="s55" x1="0" y1="0" x2="0" y2="1"><stop offset="0.000" stop-color="#43ffb4"/><stop offset="0.069" stop-color="#4bffac"/><stop offset="0.135" stop-color="#53ffa3"/><stop offset="0.200" stop-color="#5fff97"/><stop offset="0.265" stop-color="#73ff84"/><stop offset="0.331" stop-color="#87ff70"/><stop offset="0.396" stop-color="#9dff5a"/><stop offset="0.461" stop-color="#b4ff43"/><stop offset="0.527" stop-color="#cbff2c"/><stop offset="0.592" stop-color="#e2ff15"/><stop offset="0.657" stop-color="#f6f601"/><stop offset="0.722" stop-color="#ffe300"/><stop offset="0.788" stop-color="#ffd000"/><stop offset="0.853" stop-color="#ffb300"/><stop offset="0.918" stop-color="#ff9f00"/><stop offset="1.000" stop-color="#ff8c00"/></linearGradient><linearGradient id="s56" x1="0" y1="0" x2="0" y2="1"><stop offset="0.000" stop-color="#3effb9"/><stop offset="0.069" stop-color="#47ffaf"/><stop offset="0.135" stop-color="#52ffa5"/><stop offset="0.200" stop-color="#5fff97"/><stop offset="0.265" stop-color="#73ff84"/><stop offset="0.331" stop-color="#87ff70"/><stop offset="0.396" stop-color="#9dff5a"/><stop offset="0.461" stop-color="#b4ff43"/><stop offset="0.527" stop-color="#cbff2c"/><stop offset="0.592" stop-color="#e2ff15"/><stop offset="0.657" stop-color="#f6f601"/><stop offset="0.722" stop-color="#ffe300"/><stop offset="0.788" stop-color="#ffd000"/><stop offset="0.853" stop-color="#ffb300"/><stop offset="0.918" stop-color="#ff9f00"/><stop offset="1.000" stop-color="#ff8c00"/></linearGradient><linearGradient id="s57" x1="0" y1="0" x2="0" y2="1"><stop offset="0.000" stop-color="#39ffbd"/><stop offset="0.069" stop-color="#44ffb3"/><stop offset="0.135" stop-color="#51ffa6"/><stop offset="0.200" stop-color="#5fff97"/><stop offset="0.265" stop-color="#73ff84"/><stop offset="0.331" stop-color="#87ff70"/><stop offset="0.396" stop-color="#9dff5a"/><stop offset="0.461" stop-color="#b4ff43"/><stop offset="0.527" stop-color="#cbff2c"/><stop offset="0.592" stop-color="#e2ff15"/><stop offset="0.657" stop-color="#f6f601"/><stop offset="0.722" stop-color="#ffe300"/><stop offset="0.788" stop-color="#ffd000"/><stop offset="0.853" stop-color="#ffb300"/><stop offset="0.918" stop-color="#ff9f00"/><stop offset="1.000" stop-color="#ff8c00"/></linearGradient><linearGradient id="s58" x1="0" y1="0" x2="0" y2="1"><stop offset="0.000" stop-color="#35ffc2"/><stop offset="0.069" stop-color="#41ffb6"/><stop offset="0.135" stop-color="#4fffa8"/><stop offset="0.200" stop-color="#5fff97"/><stop offset="0.265" stop-color="#73ff84"/><stop offset="0.331" stop-color="#87ff70"/><stop offset="0.396" stop-color="#9dff5a"/><stop offset="0.461" stop-color="#b4ff43"/><stop offset="0.527" stop-color="#cbff2c"/><stop offset="0.592" stop-color="#e2ff15"/><stop offset="0.657" stop-color="#f6f601"/><stop offset="0.722" stop-color="#ffe300"/><stop offset="0.788" stop-color="#ffd000"/><stop offset="0.853" stop-color="#ffb300"/><stop offset="0.918" stop-color="#ff9f00"/><stop offset="1.000" stop-color="#ff8c00"/></linearGradient><linearGradient id="s59" x1="0" y1="0" x2="0" y2="1"><stop offset="0.000" stop-color="#33ffc4"/><stop offset="0.069" stop-color="#40ffb7"/><stop offset="0.135" stop-color="#4fffa8"/><stop offset="0.200" stop-color="#5fff97"/><stop offset="0.265" stop-color="#73ff84"/><stop offset="0.331" stop-color="#87ff70"/><stop offset="0.396" stop-color="#9dff5a"/><stop offset="0.461" stop-color="#b4ff43"/><stop offset="0.527" stop-color="#cbff2c"/><stop offset="0.592" stop-color="#e2ff15"/><stop offset="0.657" stop-color="#f6f601"/><stop offset="0.722" stop-color="#ffe300"/><stop offset="0.788" stop-color="#ffd000"/><stop offset="0.853" stop-color="#ffb300"/><stop offset="0.918" stop-color="#ff9f00"/><stop offset="1.000" stop-color="#ff8c00"/></linearGradient><linearGradient id="s60" x1="0" y1="0" x2="0" y2="1"><stop offset="0.000" stop-color="#39ffbe"/><stop offset="0.069" stop-color="#44ffb3"/><stop offset="0.135" stop-color="#50ffa6"/><stop offset="0.200" stop-color="#5fff97"/><stop offset="0.265" stop-color="#73ff84"/><stop offset="0.331" stop-color="#87ff70"/><stop offset="0.396" stop-color="#9dff5a"/><stop offset="0.461" stop-color="#b4ff43"/><stop offset="0.527" stop-color="#cbff2c"/><stop offset="0.592" stop-color="#e2ff15"/><stop offset="0.657" stop-color="#f6f601"/><stop offset="0.722" stop-color="#ffe300"/><stop offset="0.788" stop-color="#ffd000"/><stop offset="0.853" stop-color="#ffb300"/><stop offset="0.918" stop-color="#ff9f00"/><stop offset="1.000" stop-color="#ff8c00"/></linearGradient><linearGradient id="s61" x1="0" y1="0" x2="0" y2="1"><stop offset="0.000" stop-color="#3effb8"/><stop offset="0.069" stop-color="#48ffaf"/><stop offset="0.135" stop-color="#52ffa5"/><stop offset="0.200" stop-color="#5fff97"/><stop offset="0.265" stop-color="#73ff84"/><stop offset="0.331" stop-color="#87ff70"/><stop offset="0.396" stop-color="#9dff5a"/><stop offset="0.461" stop-color="#b4ff43"/><stop offset="0.527" stop-color="#cbff2c"/><stop offset="0.592" stop-color="#e2ff15"/><stop offset="0.657" stop-color="#f6f601"/><stop offset="0.722" stop-color="#ffe300"/><stop offset="0.788" stop-color="#ffd000"/><stop offset="0.853" stop-color="#ffb300"/><stop offset="0.918" stop-color="#ff9f00"/><stop offset="1.000" stop-color="#ff8c00"/></linearGradient><linearGradient id="s62" x1="0" y1="0" x2="0" y2="1"><stop offset="0.000" stop-color="#44ffb3"/><stop offset="0.069" stop-color="#4bffab"/><stop offset="0.135" stop-color="#54ffa3"/><stop offset="0.200" stop-color="#5fff97"/><stop offset="0.265" stop-color="#73ff84"/><stop offset="0.331" stop-color="#87ff70"/><stop offset="0.396" stop-color="#9dff5a"/><stop offset="0.461" stop-color="#b4ff43"/><stop offset="0.527" stop-color="#cbff2c"/><stop offset="0.592" stop-color="#e2ff15"/><stop offset="0.657" stop-color="#f6f601"/><stop offset="0.722" stop-color="#ffe300"/><stop offset="0.788" stop-color="#ffd000"/><stop offset="0.853" stop-color="#ffb300"/><stop offset="0.918" stop-color="#ff9f00"/><stop offset="1.000" stop-color="#ff8c00"/></linearGradient><linearGradient id="s63" x1="0" y1="0" x2="0" y2="1"><stop offset="0.000" stop-color="#4affad"/><stop offset="0.069" stop-color="#4fffa8"/><stop offset="0.135" stop-color="#55ffa1"/><stop offset="0.200" stop-color="#5fff97"/><stop offset="0.265" stop-color="#73ff84"/><stop offset="0.331" stop-color="#87ff70"/><stop offset="0.396" stop-color="#9dff5a"/><stop offset="0.461" stop-color="#b4ff43"/><stop offset="0.527" stop-color="#cbff2c"/><stop offset="0.592" stop-color="#e2ff15"/><stop offset="0.657" stop-color="#f6f601"/><stop offset="0.722" stop-color="#ffe300"/><stop offset="0.788" stop-color="#ffd000"/><stop offset="0.853" stop-color="#ffb300"/><stop offset="0.918" stop-color="#ff9f00"/><stop offset="1.000" stop-color="#ff8c00"/></linearGradient><linearGradient id="s64" x1="0" y1="0" x2="0" y2="1"><stop offset="0.000" stop-color="#4fffa7"/><stop offset="0.069" stop-color="#53ffa4"/><stop offset="0.135" stop-color="#57ffa0"/><stop offset="0.200" stop-color="#5fff97"/><stop offset="0.265" stop-color="#73ff84"/><stop offset="0.331" stop-color="#87ff70"/><stop offset="0.396" stop-color="#9dff5a"/><stop offset="0.461" stop-color="#b4ff43"/><stop offset="0.527" stop-color="#cbff2c"/><stop offset="0.592" stop-color="#e2ff15"/><stop offset="0.657" stop-color="#f6f601"/><stop offset="0.722" stop-color="#ffe300"/><stop offset="0.788" stop-color="#ffd000"/><stop offset="0.853" stop-color="#ffb300"/><stop offset="0.918" stop-color="#ff9f00"/><stop offset="1.000" stop-color="#ff8c00"/></linearGradient><linearGradient id="s65" x1="0" y1="0" x2="0" y2="1"><stop offset="0.000" stop-color="#52ffa5"/><stop offset="0.069" stop-color="#55ffa2"/><stop offset="0.135" stop-color="#58ff9f"/><stop offset="0.200" stop-color="#5fff97"/><stop offset="0.265" stop-color="#73ff84"/><stop offset="0.331" stop-color="#87ff70"/><stop offset="0.396" stop-color="#9dff5a"/><stop offset="0.461" stop-color="#b4ff43"/><stop offset="0.527" stop-color="#cbff2c"/><stop offset="0.592" stop-color="#e2ff15"/><stop offset="0.657" stop-color="#f6f601"/><stop offset="0.722" stop-color="#ffe300"/><stop offset="0.788" stop-color="#ffd000"/><stop offset="0.853" stop-color="#ffb300"/><stop offset="0.918" stop-color="#ff9f00"/><stop offset="1.000" stop-color="#ff8c00"/></linearGradient><linearGradient id="s66" x1="0" y1="0" x2="0" y2="1"><stop offset="0.000" stop-color="#52ffa5"/><stop offset="0.069" stop-color="#55ffa2"/><stop offset="0.135" stop-color="#58ff9f"/><stop offset="0.200" stop-color="#5fff97"/><stop offset="0.265" stop-color="#73ff84"/><stop offset="0.331" stop-color="#87ff70"/><stop offset="0.396" stop-color="#9dff5a"/><stop offset="0.461" stop-color="#b4ff43"/><stop offset="0.527" stop-color="#cbff2c"/><stop offset="0.592" stop-color="#e2ff15"/><stop offset="0.657" stop-color="#f6f601"/><stop offset="0.722" stop-color="#ffe300"/><stop offset="0.788" stop-color="#ffd000"/><stop offset="0.853" stop-color="#ffb300"/><stop offset="0.918" stop-color="#ff9f00"/><stop offset="1.000" stop-color="#ff8c00"/></linearGradient><linearGradient id="s67" x1="0" y1="0" x2="0" y2="1"><stop offset="0.000" stop-color="#52ffa5"/><stop offset="0.069" stop-color="#55ffa2"/><stop offset="0.135" stop-color="#58ff9f"/><stop offset="0.200" stop-color="#5fff97"/><stop offset="0.265" stop-color="#73ff84"/><stop offset="0.331" stop-color="#87ff70"/><stop offset="0.396" stop-color="#9dff5a"/><stop offset="0.461" stop-color="#b4ff43"/><stop offset="0.527" stop-color="#cbff2c"/><stop offset="0.592" stop-color="#e2ff15"/><stop offset="0.657" stop-color="#f6f601"/><stop offset="0.722" stop-color="#ffe300"/><stop offset="0.788" stop-color="#ffd000"/><stop offset="0.853" stop-color="#ffb300"/><stop offset="0.918" stop-color="#ff9f00"/><stop offset="1.000" stop-color="#ff8c00"/></linearGradient><linearGradient id="s68" x1="0" y1="0" x2="0" y2="1"><stop offset="0.000" stop-color="#52ffa5"/><stop offset="0.069" stop-color="#55ffa2"/><stop offset="0.135" stop-color="#58ff9f"/><stop offset="0.200" stop-color="#5fff97"/><stop offset="0.265" stop-color="#73ff84"/><stop offset="0.331" stop-color="#87ff70"/><stop offset="0.396" stop-color="#9dff5a"/><stop offset="0.461" stop-color="#b4ff43"/><stop offset="0.527" stop-color="#cbff2c"/><stop offset="0.592" stop-color="#e2ff15"/><stop offset="0.657" stop-color="#f6f601"/><stop offset="0.722" stop-color="#ffe300"/><stop offset="0.788" stop-color="#ffd000"/><stop offset="0.853" stop-color="#ffb300"/><stop offset="0.918" stop-color="#ff9f00"/><stop offset="1.000" stop-color="#ff8c00"/></linearGradient><linearGradient id="s69" x1="0" y1="0" x2="0" y2="1"><stop offset="0.000" stop-color="#52ffa5"/><stop offset="0.069" stop-color="#55ffa2"/><stop offset="0.135" stop-color="#58ff9f"/><stop offset="0.200" stop-color="#5fff97"/><stop offset="0.265" stop-color="#73ff84"/><stop offset="0.331" stop-color="#87ff70"/><stop offset="0.396" stop-color="#9dff5a"/><stop offset="0.461" stop-color="#b4ff43"/><stop offset="0.527" stop-color="#cbff2c"/><stop offset="0.592" stop-color="#e2ff15"/><stop offset="0.657" stop-color="#f6f601"/><stop offset="0.722" stop-color="#ffe300"/><stop offset="0.788" stop-color="#ffd000"/><stop offset="0.853" stop-color="#ffb300"/><stop offset="0.918" stop-color="#ff9f00"/><stop offset="1.000" stop-color="#ff8c00"/></linearGradient><linearGradient id="s70" x1="0" y1="0" x2="0" y2="1"><stop offset="0.000" stop-color="#52ffa5"/><stop offset="0.069" stop-color="#55ffa2"/><stop offset="0.135" stop-color="#58ff9f"/><stop offset="0.200" stop-color="#5fff97"/><stop offset="0.265" stop-color="#73ff84"/><stop offset="0.331" stop-color="#87ff70"/><stop offset="0.396" stop-color="#9dff5a"/><stop offset="0.461" stop-color="#b4ff43"/><stop offset="0.527" stop-color="#cbff2c"/><stop offset="0.592" stop-color="#e2ff15"/><stop offset="0.657" stop-color="#f6f601"/><stop offset="0.722" stop-color="#ffe300"/><stop offset="0.788" stop-color="#ffd000"/><stop offset="0.853" stop-color="#ffb300"/><stop offset="0.918" stop-color="#ff9f00"/><stop offset="1.000" stop-color="#ff8c00"/></linearGradient><linearGradient id="s71" x1="0" y1="0" x2="0" y2="1"><stop offset="0.000" stop-color="#52ffa5"/><stop offset="0.069" stop-color="#55ffa2"/><stop offset="0.135" stop-color="#58ff9f"/><stop offset="0.200" stop-color="#5fff97"/><stop offset="0.265" stop-color="#73ff84"/><stop offset="0.331" stop-color="#87ff70"/><stop offset="0.396" stop-color="#9dff5a"/><stop offset="0.461" stop-color="#b4ff43"/><stop offset="0.527" stop-color="#cbff2c"/><stop offset="0.592" stop-color="#e2ff15"/><stop offset="0.657" stop-color="#f6f601"/><stop offset="0.722" stop-color="#ffe300"/><stop offset="0.788" stop-color="#ffd000"/><stop offset="0.853" stop-color="#ffb300"/><stop offset="0.918" stop-color="#ff9f00"/><stop offset="1.000" stop-color="#ff8c00"/></linearGradient><linearGradient id="s72" x1="0" y1="0" x2="0" y2="1"><stop offset="0.000" stop-color="#52ffa5"/><stop offset="0.069" stop-color="#55ffa2"/><stop offset="0.135" stop-color="#58ff9f"/><stop offset="0.200" stop-color="#5fff97"/><stop offset="0.265" stop-color="#73ff84"/><stop offset="0.331" stop-color="#87ff70"/><stop offset="0.396" stop-color="#9dff5a"/><stop offset="0.461" stop-color="#b4ff43"/><stop offset="0.527" stop-color="#cbff2c"/><stop offset="0.592" stop-color="#e2ff15"/><stop offset="0.657" stop-color="#f6f601"/><stop offset="0.722" stop-color="#ffe300"/><stop offset="0.788" stop-color="#ffd000"/><stop offset="0.853" stop-color="#ffb300"/><stop offset="0.918" stop-color="#ff9f00"/><stop offset="1.000" stop-color="#ff8c00"/></linearGradient><linearGradient id="s73" x1="0" y1="0" x2="0" y2="1"><stop offset="0.000" stop-color="#52ffa5"/><stop offset="0.069" stop-color="#55ffa2"/><stop offset="0.135" stop-color="#58ff9f"/><stop offset="0.200" stop-color="#5fff97"/><stop offset="0.265" stop-color="#73ff84"/><stop offset="0.331" stop-color="#87ff70"/><stop offset="0.396" stop-color="#9dff5a"/><stop offset="0.461" stop-color="#b4ff43"/><stop offset="0.527" stop-color="#cbff2c"/><stop offset="0.592" stop-color="#e2ff15"/><stop offset="0.657" stop-color="#f6f601"/><stop offset="0.722" stop-color="#ffe300"/><stop offset="0.788" stop-color="#ffd000"/><stop offset="0.853" stop-color="#ffb300"/><stop offset="0.918" stop-color="#ff9f00"/><stop offset="1.000" stop-color="#ff8c00"/></linearGradient><linearGradient id="s74" x1="0" y1="0" x2="0" y2="1"><stop offset="0.000" stop-color="#52ffa5"/><stop offset="0.069" stop-color="#55ffa2"/><stop offset="0.135" stop-color="#58ff9f"/><stop offset="0.200" stop-color="#5fff97"/><stop offset="0.265" stop-color="#73ff84"/><stop offset="0.331" stop-color="#87ff70"/><stop offset="0.396" stop-color="#9dff5a"/><stop offset="0.461" stop-color="#b4ff43"/><stop offset="0.527" stop-color="#cbff2c"/><stop offset="0.592" stop-color="#e2ff15"/><stop offset="0.657" stop-color="#f6f601"/><stop offset="0.722" stop-color="#ffe300"/><stop offset="0.788" stop-color="#ffd000"/><stop offset="0.853" stop-color="#ffb300"/><stop offset="0.918" stop-color="#ff9f00"/><stop offset="1.000" stop-color="#ff8c00"/></linearGradient><linearGradient id="s75" x1="0" y1="0" x2="0" y2="1"><stop offset="0.000" stop-color="#52ffa5"/><stop offset="0.069" stop-color="#55ffa2"/><stop offset="0.135" stop-color="#58ff9f"/><stop offset="0.200" stop-color="#5fff97"/><stop offset="0.265" stop-color="#73ff84"/><stop offset="0.331" stop-color="#87ff70"/><stop offset="0.396" stop-color="#9dff5a"/><stop offset="0.461" stop-color="#b4ff43"/><stop offset="0.527" stop-color="#cbff2c"/><stop offset="0.592" stop-color="#e2ff15"/><stop offset="0.657" stop-color="#f6f601"/><stop offset="0.722" stop-color="#ffe300"/><stop offset="0.788" stop-color="#ffd000"/><stop offset="0.853" stop-color="#ffb300"/><stop offset="0.918" stop-color="#ff9f00"/><stop offset="1.000" stop-color="#ff8c00"/></linearGradient><filter id="hblur" x="150" y="160" width="820" height="140" filterUnits="userSpaceOnUse"><feGaussianBlur stdDeviation="7 0"/></filter><clipPath id="clipTL"><rect x="200" y="110" width="714" height="345"/></clipPath><clipPath id="clipML"><rect x="200" y="478" width="714" height="344"/></clipPath><clipPath id="clipBL"><rect x="200" y="845" width="714" height="172"/></clipPath><clipPath id="clipTR"><rect x="1205" y="110" width="595" height="345"/></clipPath><clipPath id="clipMR"><rect x="1205" y="478" width="595" height="344"/></clipPath><clipPath id="clipBR"><rect x="1205" y="845" width="595" height="172"/></clipPath></defs>
<text x="562.32" y="40.80" font-size="25.56" fill="#000" textLength="874.61" lengthAdjust="spacingAndGlyphs">BAS-RBM Relativistic Electron Forecast, issued at 23:10 UT, 18 July 2019</text>
<g clip-path="url(#clipTL)">
<rect x="200" y="110" width="714" height="57.5" fill="#d3d3d3"/>
<rect x="200" y="167.5" width="714" height="287.5" fill="url(#spec)"/>
<g filter="url(#hblur)"><rect x="180" y="167.5" width="10.5" height="122.5" fill="url(#s0)"/><rect x="190" y="167.5" width="10.5" height="122.5" fill="url(#s1)"/><rect x="200" y="167.5" width="10.5" height="122.5" fill="url(#s2)"/><rect x="210" y="167.5" width="10.5" height="122.5" fill="url(#s3)"/><rect x="220" y="167.5" width="10.5" height="122.5" fill="url(#s4)"/><rect x="230" y="167.5" width="10.5" height="122.5" fill="url(#s5)"/><rect x="240" y="167.5" width="10.5" height="122.5" fill="url(#s6)"/><rect x="250" y="167.5" width="10.5" height="122.5" fill="url(#s7)"/><rect x="260" y="167.5" width="10.5" height="122.5" fill="url(#s8)"/><rect x="270" y="167.5" width="10.5" height="122.5" fill="url(#s9)"/><rect x="280" y="167.5" width="10.5" height="122.5" fill="url(#s10)"/><rect x="290" y="167.5" width="10.5" height="122.5" fill="url(#s11)"/><rect x="300" y="167.5" width="10.5" height="122.5" fill="url(#s12)"/><rect x="310" y="167.5" width="10.5" height="122.5" fill="url(#s13)"/><rect x="320" y="167.5" width="10.5" height="122.5" fill="url(#s14)"/><rect x="330" y="167.5" width="10.5" height="122.5" fill="url(#s15)"/><rect x="340" y="167.5" width="10.5" height="122.5" fill="url(#s16)"/><rect x="350" y="167.5" width="10.5" height="122.5" fill="url(#s17)"/><rect x="360" y="167.5" width="10.5" height="122.5" fill="url(#s18)"/><rect x="370" y="167.5" width="10.5" height="122.5" fill="url(#s19)"/><rect x="380" y="167.5" width="10.5" height="122.5" fill="url(#s20)"/><rect x="390" y="167.5" width="10.5" height="122.5" fill="url(#s21)"/><rect x="400" y="167.5" width="10.5" height="122.5" fill="url(#s22)"/><rect x="410" y="167.5" width="10.5" height="122.5" fill="url(#s23)"/><rect x="420" y="167.5" width="10.5" height="122.5" fill="url(#s24)"/><rect x="430" y="167.5" width="10.5" height="122.5" fill="url(#s25)"/><rect x="440" y="167.5" width="10.5" height="122.5" fill="url(#s26)"/><rect x="450" y="167.5" width="10.5" height="122.5" fill="url(#s27)"/><rect x="460" y="167.5" width="10.5" height="122.5" fill="url(#s28)"/><rect x="470" y="167.5" width="10.5" height="122.5" fill="url(#s29)"/><rect x="480" y="167.5" width="10.5" height="122.5" fill="url(#s30)"/><rect x="490" y="167.5" width="10.5" height="122.5" fill="url(#s31)"/><rect x="500" y="167.5" width="10.5" height="122.5" fill="url(#s32)"/><rect x="510" y="167.5" width="10.5" height="122.5" fill="url(#s33)"/><rect x="520" y="167.5" width="10.5" height="122.5" fill="url(#s34)"/><rect x="530" y="167.5" width="10.5" height="122.5" fill="url(#s35)"/><rect x="540" y="167.5" width="10.5" height="122.5" fill="url(#s36)"/><rect x="550" y="167.5" width="10.5" height="122.5" fill="url(#s37)"/><rect x="560" y="167.5" width="10.5" height="122.5" fill="url(#s38)"/><rect x="570" y="167.5" width="10.5" height="122.5" fill="url(#s39)"/><rect x="580" y="167.5" width="10.5" height="122.5" fill="url(#s40)"/><rect x="590" y="167.5" width="10.5" height="122.5" fill="url(#s41)"/><rect x="600" y="167.5" width="10.5" height="122.5" fill="url(#s42)"/><rect x="610" y="167.5" width="10.5" height="122.5" fill="url(#s43)"/><rect x="620" y="167.5" width="10.5" height="122.5" fill="url(#s44)"/><rect x="630" y="167.5" width="10.5" height="122.5" fill="url(#s45)"/><rect x="640" y="167.5" width="10.5" height="122.5" fill="url(#s46)"/><rect x="650" y="167.5" width="10.5" height="122.5" fill="url(#s47)"/><rect x="660" y="167.5" width="10.5" height="122.5" fill="url(#s48)"/><rect x="670" y="167.5" width="10.5" height="122.5" fill="url(#s49)"/><rect x="680" y="167.5" width="10.5" height="122.5" fill="url(#s50)"/><rect x="690" y="167.5" width="10.5" height="122.5" fill="url(#s51)"/><rect x="700" y="167.5" width="10.5" height="122.5" fill="url(#s52)"/><rect x="710" y="167.5" width="10.5" height="122.5" fill="url(#s53)"/><rect x="720" y="167.5" width="10.5" height="122.5" fill="url(#s54)"/><rect x="730" y="167.5" width="10.5" height="122.5" fill="url(#s55)"/><rect x="740" y="167.5" width="10.5" height="122.5" fill="url(#s56)"/><rect x="750" y="167.5" width="10.5" height="122.5" fill="url(#s57)"/><rect x="760" y="167.5" width="10.5" height="122.5" fill="url(#s58)"/><rect x="770" y="167.5" width="10.5" height="122.5" fill="url(#s59)"/><rect x="780" y="167.5" width="10.5" height="122.5" fill="url(#s60)"/><rect x="790" y="167.5" width="10.5" height="122.5" fill="url(#s61)"/><rect x="800" y="167.5" width="10.5" height="122.5" fill="url(#s62)"/><rect x="810" y="167.5" width="10.5" height="122.5" fill="url(#s63)"/><rect x="820" y="167.5" width="10.5" height="122.5" fill="url(#s64)"/><rect x="830" y="167.5" width="10.5" height="122.5" fill="url(#s65)"/><rect x="840" y="167.5" width="10.5" height="122.5" fill="url(#s66)"/><rect x="850" y="167.5" width="10.5" height="122.5" fill="url(#s67)"/><rect x="860" y="167.5" width="10.5" height="122.5" fill="url(#s68)"/><rect x="870" y="167.5" width="10.5" height="122.5" fill="url(#s69)"/><rect x="880" y="167.5" width="10.5" height="122.5" fill="url(#s70)"/><rect x="890" y="167.5" width="10.5" height="122.5" fill="url(#s71)"/><rect x="900" y="167.5" width="10.5" height="122.5" fill="url(#s72)"/><rect x="910" y="167.5" width="10.5" height="122.5" fill="url(#s73)"/><rect x="920" y="167.5" width="10.5" height="122.5" fill="url(#s74)"/><rect x="930" y="167.5" width="10.5" height="122.5" fill="url(#s75)"/></g>
</g>
<g clip-path="url(#clipTL)">
<path d="M200.0,225.0 201.0,224.5 202.0,223.8 203.0,222.9 204.0,222.0 205.0,221.0 206.0,220.1 207.0,219.3 208.0,218.8 209.0,218.5 210.0,218.4 211.0,218.2 212.0,218.0 213.0,217.8 214.0,217.5 215.0,217.1 216.0,216.5 217.0,215.4 218.0,213.8 219.0,211.9 220.0,210.0 221.0,208.1 222.0,206.1 223.0,204.1 224.0,202.3 225.0,200.7 226.0,199.5 227.0,198.6 228.0,198.3 229.0,198.2 230.0,198.3 231.0,198.5 232.0,198.8 233.0,199.4 234.0,199.9 235.0,200.3 236.0,200.2 237.0,199.9 238.0,199.5 239.0,199.1 240.0,198.8 241.0,198.5 242.0,198.2 243.0,198.1 244.0,198.3 245.0,198.9 246.0,199.9 247.0,201.3 248.0,202.9 249.0,204.8 250.0,206.9 251.0,209.0 252.0,210.9 253.0,212.5 254.0,213.9 255.0,214.9 256.0,215.6 257.0,216.1 258.0,216.4 259.0,216.5 260.0,216.5 261.0,216.4 262.0,216.6 263.0,217.0 264.0,217.8 265.0,218.7 266.0,219.7 267.0,220.8 268.0,222.0 269.0,223.2 270.0,224.4 271.0,225.6 272.0,226.6 273.0,227.4 274.0,227.9 275.0,228.1 276.0,228.3 277.0,228.5 278.0,228.6 279.0,228.7 280.0,228.7 281.0,228.7 282.0,228.7 283.0,228.7 284.0,228.5 285.0,228.2 286.0,227.7 287.0,227.1 288.0,226.4 289.0,225.7 290.0,224.9 291.0,224.0 292.0,223.1 293.0,222.2 294.0,221.2 295.0,220.3 296.0,219.5 297.0,218.9 298.0,218.6 299.0,218.4 300.0,218.2 301.0,218.1 302.0,217.9 303.0,217.6 304.0,217.3 305.0,216.7 306.0,215.8 307.0,214.2 308.0,212.4 309.0,210.5 310.0,208.6 311.0,206.6 312.0,204.6 313.0,202.7 314.0,201.1 315.0,199.7 316.0,198.8 317.0,198.4 318.0,198.2 319.0,198.2 320.0,198.4 321.0,198.7 322.0,199.2 323.0,199.8 324.0,200.2 325.0,200.3 326.0,200.0 327.0,199.6 328.0,199.2 329.0,198.8 330.0,198.5 331.0,198.3 332.0,198.1 333.0,198.2 334.0,198.7 335.0,199.7 336.0,200.9 337.0,202.5 338.0,204.3 339.0,206.4 340.0,208.4 341.0,210.4 342.0,212.1 343.0,213.5 344.0,214.6 345.0,215.4 346.0,216.0 347.0,216.3 348.0,216.5 349.0,216.5 350.0,216.4 351.0,216.5 352.0,216.9 353.0,217.6 354.0,218.4 355.0,219.4 356.0,220.5 357.0,221.7 358.0,222.9 359.0,224.1 360.0,225.3 361.0,226.4 362.0,227.2 363.0,227.8 364.0,228.1 365.0,228.3 366.0,228.4 367.0,228.6 368.0,228.7 369.0,228.7 370.0,228.7 371.0,228.7 372.0,228.7 373.0,228.6 374.0,228.3 375.0,227.9 376.0,227.3 377.0,226.6 378.0,225.9 379.0,225.1 380.0,224.2 381.0,223.3 382.0,222.4 383.0,221.5 384.0,220.5 385.0,219.7 386.0,219.0 387.0,218.7 388.0,218.4 389.0,218.3 390.0,218.1 391.0,217.9 392.0,217.7 393.0,217.4 394.0,216.9 395.0,216.0 396.0,214.6 397.0,212.9 398.0,211.0 399.0,209.1 400.0,207.1 401.0,205.1 402.0,203.2 403.0,201.4 404.0,200.0 405.0,199.0 406.0,198.5 407.0,198.2 408.0,198.2 409.0,198.3 410.0,198.6 411.0,199.1 412.0,199.6 413.0,200.1 414.0,200.3 415.0,200.1 416.0,199.7 417.0,199.3 418.0,198.9 419.0,198.6 420.0,198.3 421.0,198.2 422.0,198.2 423.0,198.6 424.0,199.4 425.0,200.6 426.0,202.1 427.0,203.8 428.0,205.8 429.0,207.9 430.0,209.9 431.0,211.7 432.0,213.2 433.0,214.4 434.0,215.2 435.0,215.9 436.0,216.3 437.0,216.5 438.0,216.5 439.0,216.5 440.0,216.5 441.0,216.8 442.0,217.4 443.0,218.2 444.0,219.2 445.0,220.2 446.0,221.4 447.0,222.6 448.0,223.8 449.0,225.0 450.0,226.1 451.0,227.0 452.0,227.7 453.0,228.0 454.0,228.2 455.0,228.4 456.0,228.5 457.0,228.6 458.0,228.7 459.0,228.7 460.0,228.7 461.0,228.7 462.0,228.6 463.0,228.4 464.0,228.0 465.0,227.4 466.0,226.8 467.0,226.1 468.0,225.3 469.0,224.5 470.0,223.6 471.0,222.7 472.0,221.7 473.0,220.7 474.0,219.9 475.0,219.2 476.0,218.7 477.0,218.5 478.0,218.3 479.0,218.2 480.0,218.0 481.0,217.7 482.0,217.4 483.0,217.0 484.0,216.2 485.0,215.0 486.0,213.3 487.0,211.5 488.0,209.5 489.0,207.6 490.0,205.6 491.0,203.6 492.0,201.8 493.0,200.3 494.0,199.2 495.0,198.6 496.0,198.3 497.0,198.2 498.0,198.3 499.0,198.5 500.0,198.9 501.0,199.5 502.0,200.0 503.0,200.3 504.0,200.2 505.0,199.8 506.0,199.4 507.0,199.0 508.0,198.7 509.0,198.4 510.0,198.2 511.0,198.1 512.0,198.4 513.0,199.1 514.0,200.2 515.0,201.6 516.0,203.4 517.0,205.3 518.0,207.4 519.0,209.5 520.0,211.3 521.0,212.9 522.0,214.1 523.0,215.1 524.0,215.7 525.0,216.2 526.0,216.5 527.0,216.5 528.0,216.5 529.0,216.4 530.0,216.7 531.0,217.2 532.0,218.0 533.0,218.9 534.0,219.9 535.0,221.1 536.0,222.3 537.0,223.5 538.0,224.7 539.0,225.8 540.0,226.8 541.0,227.5 542.0,228.0 543.0,228.2 544.0,228.4 545.0,228.5 546.0,228.6 547.0,228.7 548.0,228.7 549.0,228.7 550.0,228.7 551.0,228.7 552.0,228.5 553.0,228.1 554.0,227.6 555.0,226.9 556.0,226.2 557.0,225.5 558.0,224.7 559.0,223.8 560.0,222.9 561.0,222.0 562.0,221.0 563.0,220.1 564.0,219.3 565.0,218.8 566.0,218.5 567.0,218.4 568.0,218.2 569.0,218.0 570.0,217.8 571.0,217.5 572.0,217.1 573.0,216.5 574.0,215.4 575.0,213.8 576.0,211.9 577.0,210.0 578.0,208.1 579.0,206.1 580.0,204.1 581.0,202.3 582.0,200.7 583.0,199.5 584.0,198.6 585.0,198.3 586.0,198.2 587.0,198.3 588.0,198.5 589.0,198.8 590.0,199.4 591.0,199.9 592.0,200.3 593.0,200.2 594.0,199.9 595.0,199.5 596.0,199.1 597.0,198.8 598.0,198.5 599.0,198.2 600.0,198.1 601.0,198.3 602.0,198.9 603.0,199.9 604.0,201.3 605.0,202.9 606.0,204.8 607.0,206.9 608.0,209.0 609.0,210.9 610.0,212.5 611.0,213.9 612.0,214.9 613.0,215.6 614.0,216.1 615.0,216.4 616.0,216.5 617.0,216.5 618.0,216.4 619.0,216.6 620.0,217.0 621.0,217.8 622.0,218.7 623.0,219.7 624.0,220.8 625.0,222.0 626.0,223.2 627.0,224.4 628.0,225.6 629.0,226.6 630.0,227.4 631.0,227.9 632.0,228.1 633.0,228.3 634.0,228.5 635.0,228.6 636.0,228.7 637.0,228.7 638.0,228.7 639.0,228.7 640.0,228.7 641.0,228.5 642.0,228.2 643.0,227.7 644.0,227.1 645.0,226.4 646.0,225.7 647.0,224.9 648.0,224.0 649.0,223.1 650.0,222.2 651.0,221.2 652.0,220.3 653.0,219.5 654.0,218.9 655.0,218.6 656.0,218.4 657.0,218.2 658.0,218.1 659.0,217.9 660.0,217.6 661.0,217.3 662.0,216.7 663.0,215.8 664.0,214.2 665.0,212.4 666.0,210.5 667.0,208.6 668.0,206.6 669.0,204.6 670.0,202.7 671.0,201.1 672.0,199.7 673.0,198.8 674.0,198.4 675.0,198.2 676.0,198.2 677.0,198.4 678.0,198.7 679.0,199.2 680.0,199.8 681.0,200.2 682.0,200.3 683.0,200.0 684.0,199.6 685.0,199.2 686.0,198.8 687.0,198.5 688.0,198.3 689.0,198.1 690.0,198.2 691.0,198.7 692.0,199.7 693.0,200.9 694.0,202.5 695.0,204.3 696.0,206.4 697.0,208.4 698.0,210.4 699.0,212.1 700.0,213.5 701.0,214.6 702.0,215.4 703.0,216.0 704.0,216.3 705.0,216.5 706.0,216.5 707.0,216.4 708.0,216.5 709.0,216.9 710.0,217.6 711.0,218.4 712.0,219.4 713.0,220.5 714.0,221.7 715.0,222.9 716.0,224.1 717.0,225.3 718.0,226.4 719.0,227.2 720.0,227.8 721.0,228.1 722.0,228.3 723.0,228.4 724.0,228.6 725.0,228.7 726.0,228.7 727.0,228.7 728.0,228.7 729.0,228.7 730.0,228.6 731.0,228.3 732.0,227.9 733.0,227.3 734.0,226.6 735.0,225.9 736.0,225.1 737.0,224.2 738.0,223.3 739.0,222.4 740.0,221.5 741.0,220.5 742.0,219.7 743.0,219.0 744.0,218.7 745.0,218.4 746.0,218.3 747.0,218.1 748.0,217.9 749.0,217.7 750.0,217.4 751.0,216.9 752.0,216.0 753.0,214.6 754.0,212.9 755.0,211.0 756.0,209.1 757.0,207.1 758.0,205.1 759.0,203.2 760.0,201.4 761.0,200.0 762.0,199.0 763.0,198.5 764.0,198.2 765.0,198.2 766.0,198.3 767.0,198.6 768.0,199.1 769.0,199.6 770.0,200.1 771.0,200.3 772.0,200.1 773.0,199.7 774.0,199.3 775.0,198.9 776.0,198.6 777.0,198.3 778.0,198.2 779.0,198.2 780.0,198.6 781.0,199.4 782.0,200.6 783.0,202.1 784.0,203.8 785.0,205.8 786.0,207.9 787.0,209.9 788.0,211.7 789.0,213.2 790.0,214.4 791.0,215.2 792.0,215.9 793.0,216.3 794.0,216.5 795.0,216.5 796.0,216.5 797.0,216.5 798.0,216.8 799.0,217.4 800.0,218.2 801.0,219.2 802.0,220.2 803.0,221.4 804.0,222.6 805.0,223.8 806.0,225.0 807.0,226.1 808.0,227.0 809.0,227.7 810.0,228.0 811.0,228.2 812.0,228.4 813.0,228.5 814.0,228.6 815.0,228.7 816.0,228.7 817.0,228.7 818.0,228.7 819.0,228.6 820.0,228.4 821.0,228.0 822.0,227.4 823.0,226.8 824.0,226.1 825.0,225.3 826.0,224.5 827.0,223.6 828.0,222.7 829.0,221.7 830.0,220.7 831.0,219.9 832.0,219.2 833.0,218.7 834.0,218.5 835.0,218.3 836.0,218.2 837.0,218.0 838.0,217.7 839.0,217.4 840.0,217.0 841.0,216.2 842.0,215.0 843.0,213.3 844.0,211.5 845.0,209.5 846.0,207.6 847.0,205.6 848.0,203.6 849.0,201.8 850.0,200.3 851.0,199.2 852.0,198.6 853.0,198.3 854.0,198.2 855.0,198.3 856.0,198.5 857.0,198.9 858.0,199.5 859.0,200.0 860.0,200.3 861.0,200.2 862.0,199.8 863.0,199.4 864.0,199.0 865.0,198.7 866.0,198.4 867.0,198.2 868.0,198.1 869.0,198.4 870.0,199.1 871.0,200.2 872.0,201.6 873.0,203.4 874.0,205.3 875.0,207.4 876.0,209.5 877.0,211.3 878.0,212.9 879.0,214.1 880.0,215.1 881.0,215.7 882.0,216.2 883.0,216.5 884.0,216.5 885.0,216.5 886.0,216.4 887.0,216.7 888.0,217.2 889.0,218.0 890.0,218.9 891.0,219.9 892.0,221.1 893.0,222.3 894.0,223.5 895.0,224.7 896.0,225.8 897.0,226.8 898.0,227.5 899.0,228.0 900.0,228.2 901.0,228.4 902.0,228.5 903.0,228.6 904.0,228.7 905.0,228.7 906.0,228.7 907.0,228.7 908.0,228.7 909.0,228.5 910.0,228.1 911.0,227.6 912.0,226.9 913.0,226.4 914.0,226.0" fill="none" stroke="#000" stroke-width="2.6" stroke-linejoin="round" stroke-dasharray="5.6 3.4"/>
</g>
<g clip-path="url(#clipTL)">
<text transform="translate(888.00,417.00) rotate(-90)" x="-6.03" y="0" font-size="67.63" fill="#000" fill-opacity="0.11" textLength="268.71" lengthAdjust="spacingAndGlyphs">Forecast</text>
</g>
<path d="M756.1,110 V160.7" stroke="#fff" stroke-width="2.7"/>
<path d="M236.0,110.5 V119.5" stroke="#000" stroke-width="3.6"/>
<path d="M278.8,110.5 V119.5" stroke="#f00" stroke-width="3.6"/>
<text x="230.07" y="139.00" font-size="14.70" fill="#262626" textLength="11.91" lengthAdjust="spacingAndGlyphs">M</text>
<text x="273.66" y="139.00" font-size="14.70" fill="#ff1a1a" textLength="10.32" lengthAdjust="spacingAndGlyphs">N</text>
<path d="M325.3,110.5 V119.5" stroke="#000" stroke-width="3.6"/>
<path d="M368.2,110.5 V119.5" stroke="#f00" stroke-width="3.6"/>
<text x="319.37" y="139.00" font-size="14.70" fill="#262626" textLength="11.91" lengthAdjust="spacingAndGlyphs">M</text>
<text x="363.06" y="139.00" font-size="14.70" fill="#ff1a1a" textLength="10.32" lengthAdjust="spacingAndGlyphs">N</text>
<path d="M414.6,110.5 V119.5" stroke="#000" stroke-width="3.6"/>
<path d="M457.6,110.5 V119.5" stroke="#f00" stroke-width="3.6"/>
<text x="408.67" y="139.00" font-size="14.70" fill="#262626" textLength="11.91" lengthAdjust="spacingAndGlyphs">M</text>
<text x="452.46" y="139.00" font-size="14.70" fill="#ff1a1a" textLength="10.32" lengthAdjust="spacingAndGlyphs">N</text>
<path d="M503.9,110.5 V119.5" stroke="#000" stroke-width="3.6"/>
<path d="M547.0,110.5 V119.5" stroke="#f00" stroke-width="3.6"/>
<text x="497.97" y="139.00" font-size="14.70" fill="#262626" textLength="11.91" lengthAdjust="spacingAndGlyphs">M</text>
<text x="541.86" y="139.00" font-size="14.70" fill="#ff1a1a" textLength="10.32" lengthAdjust="spacingAndGlyphs">N</text>
<path d="M593.2,110.5 V119.5" stroke="#000" stroke-width="3.6"/>
<path d="M636.4,110.5 V119.5" stroke="#f00" stroke-width="3.6"/>
<text x="587.27" y="139.00" font-size="14.70" fill="#262626" textLength="11.91" lengthAdjust="spacingAndGlyphs">M</text>
<text x="631.26" y="139.00" font-size="14.70" fill="#ff1a1a" textLength="10.32" lengthAdjust="spacingAndGlyphs">N</text>
<path d="M682.5,110.5 V119.5" stroke="#000" stroke-width="3.6"/>
<path d="M725.8,110.5 V119.5" stroke="#f00" stroke-width="3.6"/>
<text x="676.57" y="139.00" font-size="14.70" fill="#262626" textLength="11.91" lengthAdjust="spacingAndGlyphs">M</text>
<text x="720.66" y="139.00" font-size="14.70" fill="#ff1a1a" textLength="10.32" lengthAdjust="spacingAndGlyphs">N</text>
<path d="M771.8,110.5 V119.5" stroke="#000" stroke-width="3.6"/>
<path d="M815.2,110.5 V119.5" stroke="#f00" stroke-width="3.6"/>
<text x="765.87" y="139.00" font-size="14.70" fill="#262626" textLength="11.91" lengthAdjust="spacingAndGlyphs">M</text>
<text x="810.06" y="139.00" font-size="14.70" fill="#ff1a1a" textLength="10.32" lengthAdjust="spacingAndGlyphs">N</text>
<path d="M825,112 V455" stroke="#1f77b4" stroke-width="2" stroke-dasharray="2 3.45"/>
<path d="M825,480 V822" stroke="#1f77b4" stroke-width="2" stroke-dasharray="2 3.45"/>
<path d="M825,847 V1017" stroke="#1f77b4" stroke-width="2" stroke-dasharray="2 3.45"/>
<path d="M200,455 L200,110 L914,110" fill="none" stroke="#000" stroke-width="1.8" stroke-linecap="square"/>
<path d="M200,455 L914,455" fill="none" stroke="#000" stroke-width="1.8" stroke-linecap="square"/>
<path d="M914,110 L914,455" fill="none" stroke="#000" stroke-width="1.8" stroke-linecap="square"/>
<path d="M200.00,397.50h5.50M200.00,340.50h5.50M200.00,282.50h5.50M200.00,224.50h5.50M200.00,167.50h5.50" stroke="#000" stroke-width="1.15" fill="none" shape-rendering="crispEdges"/>
<path d="M914.00,397.50h-5.50M914.00,340.50h-5.50M914.00,282.50h-5.50M914.00,224.50h-5.50M914.00,167.50h-5.50" stroke="#000" stroke-width="1.15" fill="none" shape-rendering="crispEdges"/>
<path d="M248.50,455.00v-5.50M337.50,455.00v-5.50M427.50,455.00v-5.50M516.50,455.00v-5.50M605.50,455.00v-5.50M694.50,455.00v-5.50M784.50,455.00v-5.50M873.50,455.00v-5.50" stroke="#000" stroke-width="1.15" fill="none" shape-rendering="crispEdges"/>
<text x="184.02" y="462.20" font-size="20.66" fill="#000" textLength="12.34" lengthAdjust="spacingAndGlyphs">2</text>
<text x="183.63" y="404.70" font-size="20.66" fill="#000" textLength="12.34" lengthAdjust="spacingAndGlyphs">3</text>
<text x="183.15" y="347.20" font-size="20.66" fill="#000" textLength="12.34" lengthAdjust="spacingAndGlyphs">4</text>
<text x="183.73" y="289.70" font-size="20.66" fill="#000" textLength="12.34" lengthAdjust="spacingAndGlyphs">5</text>
<text x="183.25" y="232.20" font-size="20.66" fill="#000" textLength="12.34" lengthAdjust="spacingAndGlyphs">6</text>
<text x="183.73" y="174.70" font-size="20.66" fill="#000" textLength="12.34" lengthAdjust="spacingAndGlyphs">7</text>
<text x="183.34" y="117.20" font-size="20.66" fill="#000" textLength="12.34" lengthAdjust="spacingAndGlyphs">8</text>
<text transform="translate(172.80,295.50) rotate(-90)" x="-2.28" y="0" font-size="25.56" fill="#000" textLength="25.37" lengthAdjust="spacingAndGlyphs">L*</text>
<text x="203.28" y="92.90" font-size="25.56" fill="#000" textLength="351.30" lengthAdjust="spacingAndGlyphs">&gt;2.0 MeV Electron Flux at 88</text>
<text x="558.30" y="82.00" font-size="17.89" fill="#000" textLength="10.52" lengthAdjust="spacingAndGlyphs">∘</text>
<text x="580.04" y="92.90" font-size="25.56" fill="#000" textLength="133.94" lengthAdjust="spacingAndGlyphs">pitch angle</text>
<text x="722.26" y="92.90" font-size="25.56" fill="#000" textLength="9.36" lengthAdjust="spacingAndGlyphs">(</text>
<text x="740.08" y="92.90" font-size="25.56" fill="#000" textLength="36.58" lengthAdjust="spacingAndGlyphs">cm</text>
<text x="775.74" y="82.80" font-size="17.89" fill="#000" textLength="24.77" lengthAdjust="spacingAndGlyphs">−2</text>
<text x="805.68" y="92.90" font-size="25.56" fill="#000" textLength="12.50" lengthAdjust="spacingAndGlyphs">s</text>
<text x="818.54" y="82.80" font-size="17.89" fill="#000" textLength="24.77" lengthAdjust="spacingAndGlyphs">−1</text>
<text x="847.48" y="92.90" font-size="25.56" fill="#000" textLength="22.37" lengthAdjust="spacingAndGlyphs">sr</text>
<text x="869.84" y="82.80" font-size="17.89" fill="#000" textLength="24.77" lengthAdjust="spacingAndGlyphs">−1</text>
<text x="902.88" y="92.90" font-size="25.56" fill="#000" textLength="9.36" lengthAdjust="spacingAndGlyphs">)</text>
<rect x="959" y="110" width="17" height="345" fill="url(#cbar)"/>
<rect x="959" y="110" width="17" height="345" fill="none" stroke="#000" stroke-width="1.8"/>
<path d="M976.60,437.50h5.00M976.60,427.50h5.00M976.60,420.50h5.00M976.60,414.50h5.00M976.60,410.50h5.00M976.60,406.50h5.00M976.60,403.50h5.00M976.60,400.50h5.00M976.60,380.50h5.00M976.60,370.50h5.00M976.60,362.50h5.00M976.60,357.50h5.00M976.60,352.50h5.00M976.60,348.50h5.00M976.60,345.50h5.00M976.60,342.50h5.00M976.60,322.50h5.00M976.60,312.50h5.00M976.60,305.50h5.00M976.60,299.50h5.00M976.60,295.50h5.00M976.60,291.50h5.00M976.60,288.50h5.00M976.60,285.50h5.00M976.60,265.50h5.00M976.60,255.50h5.00M976.60,247.50h5.00M976.60,242.50h5.00M976.60,237.50h5.00M976.60,233.50h5.00M976.60,230.50h5.00M976.60,227.50h5.00M976.60,207.50h5.00M976.60,197.50h5.00M976.60,190.50h5.00M976.60,184.50h5.00M976.60,180.50h5.00M976.60,176.50h5.00M976.60,173.50h5.00M976.60,170.50h5.00M976.60,150.50h5.00M976.60,140.50h5.00M976.60,132.50h5.00M976.60,127.50h5.00M976.60,122.50h5.00M976.60,118.50h5.00M976.60,115.50h5.00M976.60,112.50h5.00M976.60,454.50h5.00M976.60,397.50h5.00M976.60,340.50h5.00M976.60,282.50h5.00M976.60,224.50h5.00M976.60,167.50h5.00M976.60,110.50h5.00" stroke="#000" stroke-width="1.15" fill="none" shape-rendering="crispEdges"/>
<text x="986.77" y="463.20" font-size="20.66" fill="#000" textLength="24.69" lengthAdjust="spacingAndGlyphs">10</text>
<text x="1011.75" y="456.20" font-size="13.84" fill="#000" textLength="8.27" lengthAdjust="spacingAndGlyphs">0</text>
<text x="986.77" y="405.70" font-size="20.66" fill="#000" textLength="24.69" lengthAdjust="spacingAndGlyphs">10</text>
<text x="1011.17" y="398.70" font-size="13.84" fill="#000" textLength="8.27" lengthAdjust="spacingAndGlyphs">1</text>
<text x="986.77" y="348.20" font-size="20.66" fill="#000" textLength="24.69" lengthAdjust="spacingAndGlyphs">10</text>
<text x="1011.69" y="341.20" font-size="13.84" fill="#000" textLength="8.27" lengthAdjust="spacingAndGlyphs">2</text>
<text x="986.77" y="290.70" font-size="20.66" fill="#000" textLength="24.69" lengthAdjust="spacingAndGlyphs">10</text>
<text x="1011.62" y="283.70" font-size="13.84" fill="#000" textLength="8.27" lengthAdjust="spacingAndGlyphs">3</text>
<text x="986.77" y="233.20" font-size="20.66" fill="#000" textLength="24.69" lengthAdjust="spacingAndGlyphs">10</text>
<text x="1011.95" y="226.20" font-size="13.84" fill="#000" textLength="8.27" lengthAdjust="spacingAndGlyphs">4</text>
<text x="986.77" y="175.70" font-size="20.66" fill="#000" textLength="24.69" lengthAdjust="spacingAndGlyphs">10</text>
<text x="1011.62" y="168.70" font-size="13.84" fill="#000" textLength="8.27" lengthAdjust="spacingAndGlyphs">5</text>
<text x="986.77" y="118.20" font-size="20.66" fill="#000" textLength="24.69" lengthAdjust="spacingAndGlyphs">10</text>
<text x="1011.69" y="111.20" font-size="13.84" fill="#000" textLength="8.27" lengthAdjust="spacingAndGlyphs">6</text>
<rect x="826" y="478" width="88" height="344" fill="#d3d3d3"/>
<g clip-path="url(#clipML)">
<text transform="translate(888.90,785.30) rotate(-90)" x="-6.03" y="0" font-size="67.63" fill="#000" fill-opacity="0.11" textLength="268.71" lengthAdjust="spacingAndGlyphs">Forecast</text>
</g>
<g clip-path="url(#clipML)">
<path d="M200.7,616.4 201.7,616.1 202.7,621.0 203.0,621.0 203.7,623.4 204.7,626.5 205.7,628.3 206.1,630.8 206.7,631.8 207.7,637.2 208.7,637.6 209.3,638.6 209.7,639.2 210.7,640.3 211.7,641.4 212.7,643.2 213.7,645.1 214.1,645.1 214.7,646.5 215.7,646.5 216.7,647.5 217.7,649.5 218.7,649.6 218.9,649.0 219.7,649.7 220.7,650.6 221.7,652.1 222.7,651.0 223.6,651.4 223.7,652.2 224.7,649.5 225.2,649.2 225.7,653.7 226.7,660.9 226.8,661.2 227.7,653.5 228.4,644.9 228.7,645.3 229.7,637.0 230.0,634.5 230.7,636.3 231.7,637.3 232.5,637.0 232.7,637.3 233.7,642.4 234.7,646.6 234.8,647.8 235.7,650.2 236.7,652.8 237.7,656.5 238.0,656.2 238.7,652.7 239.7,649.7 240.7,645.7 241.1,643.5 241.7,641.3 242.7,639.1 242.7,637.1 243.7,639.9 244.7,640.2 245.7,639.2 245.9,640.5 246.7,636.5 247.7,633.8 248.7,627.8 249.1,627.1 249.7,626.0 250.7,622.8 251.7,617.0 252.3,616.3 252.7,616.1 253.7,613.8 254.7,613.6 255.7,610.0 256.7,609.4 257.1,607.9 257.7,609.0 258.7,607.0 259.7,605.7 260.7,603.8 261.7,605.2 262.7,603.5 263.4,602.8 263.7,602.8 264.7,601.2 265.7,599.5 266.7,598.4 267.7,597.4 268.7,597.9 269.7,595.0 269.8,595.5 270.7,595.3 271.7,595.2 272.7,595.0 273.7,593.2 274.6,592.5 274.7,593.6 275.7,594.1 276.7,593.4 277.7,592.6 278.7,591.8 279.3,592.0 279.7,591.6 280.7,592.5 281.7,591.4 282.7,592.1 283.7,592.0 284.1,592.5 284.7,593.0 285.7,595.8 286.7,596.3 287.3,597.0 287.7,596.3 288.7,601.5 289.7,605.3 290.5,609.0 290.7,607.8 291.7,613.3 292.7,616.2 293.7,617.5 294.7,620.8 295.2,622.4 295.7,624.1 296.7,626.9 297.7,630.2 298.7,631.0 299.7,634.0 300.0,634.2 300.7,636.8 301.7,638.1 302.7,640.5 303.7,640.8 304.7,643.4 304.8,643.1 305.7,647.1 306.7,649.0 307.7,650.8 308.0,651.3 308.7,655.2 309.7,658.7 310.2,660.5 310.7,662.0 311.7,664.4 312.7,663.5 313.4,664.0 313.7,663.3 314.7,662.4 315.7,662.9 316.7,662.4 317.5,661.2 317.7,660.9 318.7,658.2 319.7,655.7 320.7,652.1 320.7,652.8 321.7,650.8 322.3,648.8 322.7,651.9 323.7,658.0 323.9,659.3 324.7,661.9 325.5,662.5 325.7,660.3 326.7,652.0 327.1,648.9 327.7,649.6 328.7,647.0 328.7,648.8 329.7,644.9 330.7,642.3 331.7,639.8 331.8,639.6 332.7,638.7 333.7,637.1 334.7,637.1 335.0,635.5 335.7,634.4 336.7,633.3 337.7,630.7 338.2,631.8 338.7,630.2 339.7,629.5 340.7,626.4 341.7,624.6 342.7,623.5 343.0,623.5 343.7,621.3 344.7,620.3 345.7,618.4 346.7,617.8 347.7,614.6 347.7,615.7 348.7,612.9 349.7,611.0 350.7,609.5 351.7,607.5 352.5,607.2 352.7,607.6 353.7,606.4 354.7,606.0 355.7,606.1 356.7,604.4 357.3,604.0 357.7,603.5 358.7,602.0 359.7,603.1 360.7,600.8 361.7,602.0 362.1,601.3 362.7,602.7 363.7,602.6 364.7,602.9 365.2,604.1 365.7,604.2 366.7,606.0 367.7,607.6 368.4,608.6 368.7,608.1 369.7,606.2 370.7,605.3 370.7,604.0 371.7,605.4 372.7,604.6 373.7,606.3 374.7,606.4 374.8,604.1 375.7,608.4 376.7,611.2 377.7,613.5 378.0,615.4 378.7,617.7 379.7,620.8 380.7,625.8 381.7,629.9 382.7,634.1 382.7,633.2 383.7,639.1 384.7,643.9 385.7,647.2 386.7,652.2 387.5,656.3 387.7,656.7 388.7,661.8 389.7,664.3 390.7,666.8 390.7,667.0 391.7,668.2 392.7,670.5 393.7,669.4 394.7,670.3 395.5,671.1 395.7,670.8 396.7,673.1 397.7,671.8 398.7,673.4 399.7,673.7 400.3,674.3 400.7,674.0 401.7,678.1 402.7,678.8 403.4,680.3 403.7,679.2 404.7,677.8 405.7,677.2 406.6,676.2 406.7,675.6 407.7,671.9 408.7,667.5 409.7,663.0 409.8,663.3 410.7,661.3 411.7,658.8 412.7,657.4 413.0,657.3 413.7,655.6 414.7,653.8 415.7,653.2 416.7,652.7 417.7,649.9 417.8,650.0 418.7,648.3 419.7,647.6 420.7,643.8 421.7,643.7 422.5,642.9 422.7,641.1 423.7,640.7 424.7,638.0 425.7,635.3 426.7,633.8 427.3,631.4 427.7,631.8 428.7,632.8 429.7,630.3 430.7,631.5 431.7,629.5 432.1,630.0 432.7,628.5 433.7,625.6 434.7,625.4 435.7,624.6 436.7,622.3 436.8,622.0 437.7,621.8 438.7,619.4 439.7,617.0 440.7,616.0 441.6,615.6 441.7,614.5 442.7,614.0 443.7,613.0 444.7,610.5 445.7,608.2 446.4,607.1 446.7,607.7 447.7,607.6 448.7,606.5 449.7,605.9 450.7,604.5 451.7,604.2 452.7,602.9 452.8,603.0 453.7,602.0 454.7,601.5 455.7,602.0 456.7,601.3 457.7,601.1 458.7,601.9 459.1,601.3 459.7,604.2 460.7,604.1 461.7,604.3 462.3,606.0 462.7,606.8 463.7,608.6 464.7,612.3 465.5,612.9 465.7,612.3 466.7,619.0 467.7,622.0 468.7,627.2 468.7,625.9 469.7,629.6 470.7,635.5 471.7,637.6 471.8,639.0 472.7,645.0 473.7,649.9 473.8,650.0 474.7,681.6 475.0,692.0 475.7,676.9 476.3,666.4 476.7,665.3 477.6,664.4 477.7,662.9 478.7,665.4 479.7,669.4 479.8,668.8 480.7,672.1 481.7,675.0 482.7,678.7 483.0,678.2 483.7,689.7 484.7,703.0 485.2,711.4 485.7,706.1 486.5,694.1 486.7,694.7 487.7,697.2 488.7,701.2 489.4,702.7 489.7,701.1 490.7,700.9 491.7,699.1 492.5,698.3 492.7,696.9 493.7,696.6 494.7,693.7 495.7,691.3 495.7,691.0 496.7,688.2 497.7,686.0 498.7,682.2 498.9,682.6 499.7,681.0 500.7,680.0 501.7,678.1 502.7,675.9 503.0,674.1 503.7,674.4 504.7,673.0 505.7,670.7 506.2,670.1 506.7,673.9 507.7,682.8 508.1,686.0 508.7,687.1 509.7,685.4 510.0,684.7 510.7,668.9 511.6,649.9 511.7,651.0 512.7,650.3 513.7,649.5 513.9,651.0 514.7,655.1 515.7,659.4 515.8,659.5 516.7,659.3 517.7,658.5 518.0,658.5 518.7,656.0 519.7,655.6 520.7,652.7 521.2,653.0 521.7,649.3 522.7,649.8 523.7,648.5 524.4,646.6 524.7,646.2 525.7,643.9 526.7,641.3 527.5,638.5 527.7,638.1 528.7,635.6 529.7,632.5 530.7,628.3 531.7,625.0 532.3,623.1 532.7,623.3 533.7,620.8 534.7,619.6 535.7,619.6 536.7,617.8 537.1,617.8 537.7,617.8 538.7,617.4 539.7,615.7 540.7,616.3 541.7,613.9 541.9,615.4 542.7,614.6 543.7,615.6 544.7,617.8 545.0,617.3 545.7,617.6 546.7,618.8 547.7,620.4 548.7,621.0 549.7,621.9 549.8,622.8 550.0,623.4 550.7,623.7 551.7,623.9 552.7,625.3 553.2,625.3 553.7,626.3 554.7,626.9 555.7,628.3 556.4,629.9 556.7,630.7 557.7,636.1 558.7,640.5 559.5,643.2 559.7,644.4 560.7,648.9 561.7,654.7 562.7,659.8 562.7,657.9 563.7,661.0 564.7,662.4 565.7,667.1 566.7,670.0 567.5,671.5 567.7,673.5 568.7,674.9 569.7,678.8 570.7,682.1 571.7,684.1 572.3,687.2 572.7,688.5 573.7,689.3 574.7,691.8 575.5,695.0 575.7,695.4 576.7,697.7 577.7,701.5 578.0,702.5 578.7,700.9 579.7,699.4 580.2,698.0 580.7,699.0 581.7,698.7 582.7,698.2 583.4,698.5 583.7,698.2 584.7,696.3 585.7,693.4 586.6,693.6 586.7,692.9 587.7,693.0 588.2,691.5 588.7,685.3 589.7,673.1 589.8,673.5 590.7,666.7 591.4,662.6 591.7,662.8 592.7,661.8 593.7,661.7 594.6,661.2 594.7,661.1 595.7,660.7 596.7,657.6 597.7,656.4 597.7,656.2 598.7,656.9 599.7,655.6 600.7,655.9 601.7,656.4 602.5,656.8 602.7,656.1 603.7,654.8 604.7,653.6 605.7,653.6 605.7,654.1 606.7,651.3 607.7,649.3 608.7,647.4 608.9,646.2 609.7,644.0 610.7,641.1 611.7,638.5 612.1,637.3 612.7,635.8 613.7,636.4 614.7,635.8 615.7,633.4 616.7,632.9 616.8,632.7 617.7,631.6 618.7,628.3 619.7,628.8 620.7,625.7 621.6,625.4 621.7,624.4 622.7,622.4 623.7,620.9 624.7,620.0 625.7,617.1 626.4,616.3 626.7,616.0 627.7,614.5 628.7,615.9 629.7,614.8 630.7,613.7 631.1,614.2 631.7,612.9 632.7,613.7 633.7,615.1 634.3,614.7 634.7,612.6 635.7,612.1 636.7,614.1 637.5,615.8 637.7,615.0 638.7,616.5 639.7,618.4 640.7,618.7 641.7,620.8 642.3,621.9 642.7,623.0 643.7,626.0 644.7,628.3 645.5,631.3 645.7,632.2 646.7,639.4 647.1,642.3 647.7,644.7 648.6,650.1 648.7,650.5 649.7,641.1 650.2,636.4 650.7,637.2 651.7,637.4 652.7,638.9 653.4,641.4 653.7,640.3 654.7,643.9 655.7,644.9 656.6,647.4 656.7,647.6 657.7,649.6 658.7,651.7 659.7,652.4 660.7,655.3 661.4,656.4 661.7,657.9 662.7,662.3 663.7,665.0 663.9,665.4 664.7,692.6 665.2,708.7 665.7,691.4 666.5,665.4 666.7,663.2 667.7,648.8 667.7,648.3 668.7,647.5 669.3,648.6 669.7,653.3 670.7,662.6 670.9,666.8 671.7,673.1 672.7,679.7 673.5,685.4 673.7,685.8 674.7,681.4 675.7,676.4 675.7,677.1 676.7,677.0 677.3,677.0 677.7,678.1 678.7,686.2 678.9,686.2 679.7,689.2 680.7,691.8 681.1,693.6 681.7,690.4 682.7,686.3 683.7,683.8 683.7,684.2 684.7,680.5 685.7,679.2 686.7,675.9 686.8,675.1 687.7,675.7 688.7,673.0 689.7,673.3 690.0,671.9 690.7,672.1 691.7,670.3 692.7,669.9 693.7,670.6 694.7,669.3 694.8,669.1 695.7,666.5 696.7,664.6 697.7,660.8 698.0,660.4 698.7,659.2 699.7,656.2 700.7,653.8 701.2,653.2 701.7,652.1 702.7,650.4 703.7,650.1 704.7,648.0 705.7,646.4 705.9,645.2 706.7,644.1 707.7,642.4 708.7,642.2 709.7,640.0 710.7,640.1 710.7,641.0 711.7,640.9 712.7,639.8 713.7,637.9 714.7,638.1 715.5,636.7 715.7,637.8 716.7,636.9 717.7,637.3 718.7,638.3 719.7,636.9 720.7,637.6 721.7,635.9 721.8,635.5 722.7,636.4 723.7,636.4 724.7,634.6 725.7,634.8 726.7,633.5 727.7,634.1 728.2,634.7 728.7,634.0 729.7,633.7 730.7,633.1 731.7,634.4 732.7,634.7 733.7,634.5 734.6,634.3 734.7,633.3 735.7,636.0 736.7,635.2 737.7,635.7 738.7,636.8 739.3,635.1 739.7,636.9 740.7,637.7 741.7,638.8 742.7,640.3 743.7,640.5 744.1,639.2 744.7,641.1 745.7,642.8 746.7,644.1 747.7,644.4 748.7,645.5 748.9,647.2 749.7,648.2 750.7,649.3 751.7,649.4 752.7,653.2 753.7,651.2 753.7,653.0 754.7,655.6 755.7,655.0 756.7,656.1 757.7,656.0 758.7,658.7 759.7,657.8 760.0,659.1 760.7,660.2 761.7,661.0 762.7,664.1 763.7,664.1 763.8,664.8 764.7,667.5 765.7,669.7 766.4,672.0 766.7,672.5 767.7,672.4 768.7,672.9 769.6,673.5 769.7,673.5 770.7,673.3 771.7,671.6 772.7,671.0 772.8,670.6 773.7,669.1 774.7,669.3 775.7,667.0 775.9,667.5 776.7,667.8 777.7,665.0 778.7,664.7 779.1,663.2 779.7,662.2 780.7,658.5 781.7,656.3 782.3,654.4 782.7,654.5 783.7,654.5 784.7,652.6 785.7,651.8 786.7,650.3 787.1,649.8 787.7,648.8 788.7,647.1 789.7,647.4 790.7,647.5 791.7,645.7 791.8,644.9 792.7,645.5 793.7,643.1 794.7,641.9 795.7,640.5 796.6,639.8 796.7,640.3 797.7,641.5 798.7,639.6 799.7,638.7 800.7,638.7 801.4,638.7 801.7,637.5 802.7,638.3 803.7,638.3 804.7,637.6 805.7,637.3 806.2,635.8 806.7,635.2 807.7,636.7 808.7,636.1 809.7,633.7 810.7,634.4 810.9,634.1 811.7,634.2 812.7,633.7 813.7,632.8 814.7,633.0 815.7,632.6 815.7,632.5 816.7,631.4 817.7,630.7 818.7,632.4 819.7,632.0 819.8,633.3 820.7,634.3 821.7,634.8 822.7,635.2 823.7,636.3 824.3,637.5" fill="none" stroke="#000" stroke-width="2.2" stroke-linejoin="round"/>
<path d="M200.7,598.4 202.2,599.7 203.7,601.2 204.5,601.7 205.2,601.6 206.7,602.2 208.2,602.6 209.3,602.9 209.7,602.8 211.2,603.2 212.7,603.5 214.2,603.8 215.7,603.9 215.7,604.0 217.2,604.7 218.7,606.2 220.2,606.7 220.5,607.2 221.7,608.0 223.2,609.2 224.7,610.4 225.2,610.8 226.2,610.9 227.7,610.7 229.2,610.8 230.0,610.3 230.7,610.3 232.2,609.7 233.7,609.4 234.8,608.7 235.2,609.0 236.7,609.5 238.2,609.7 239.6,610.4 239.7,610.3 241.2,610.7 242.7,611.0 244.2,611.1 244.3,611.1 245.7,610.0 247.2,608.8 248.7,607.5 249.1,607.0 250.2,605.9 251.7,604.3 253.2,602.9 253.9,602.3 254.7,602.0 256.2,601.9 257.7,601.2 258.6,601.0 259.2,600.8 260.7,600.1 262.2,599.5 263.7,599.0 265.0,598.6 265.2,598.2 266.7,597.9 268.2,597.1 269.7,596.6 271.2,596.1 271.4,596.0 272.7,595.8 274.2,595.4 275.7,595.0 277.2,594.8 277.7,594.5 278.7,594.8 280.2,594.6 281.7,594.5 283.2,594.9 284.1,594.6 284.7,594.8 286.2,595.8 287.7,596.2 289.2,597.1 290.5,597.4 290.7,597.6 292.2,597.9 293.7,598.4 295.2,599.1 296.7,599.7 296.8,599.8 298.2,600.1 299.7,599.8 301.2,600.1 302.7,600.0 303.2,600.0 304.2,600.4 305.7,601.1 307.2,601.8 308.0,602.1 308.7,603.0 310.2,604.5 311.7,606.2 312.7,607.1 313.2,607.4 314.7,608.4 316.2,609.2 317.5,609.9 317.7,609.9 319.2,609.7 320.7,609.6 322.2,609.4 322.3,609.3 323.7,609.8 325.2,610.0 326.7,610.5 327.1,610.4 328.2,611.4 329.7,612.2 331.2,613.1 331.8,613.5 332.7,612.8 334.2,611.8 335.7,611.0 336.6,610.3 337.2,609.4 338.7,607.9 340.2,605.9 341.4,605.0 341.7,604.7 343.2,604.1 344.7,603.8 346.2,603.2 347.7,602.3 347.7,602.4 349.2,602.3 350.7,602.2 352.2,601.8 353.7,601.7 354.1,601.8 355.2,600.8 356.7,599.8 358.2,598.6 359.7,597.3 360.5,596.8 361.2,596.4 362.7,596.3 364.2,596.1 365.7,595.4 366.8,595.4 367.2,595.4 368.7,595.3 370.2,595.3 371.7,595.3 373.2,595.2 373.2,595.3 374.7,595.8 376.2,596.4 377.7,597.0 379.2,597.3 379.6,597.6 380.7,598.1 382.2,599.1 383.7,600.1 385.2,600.9 385.9,601.3 386.7,601.6 388.2,602.0 389.7,602.4 391.2,602.9 392.3,603.4 392.7,603.6 394.2,605.0 395.7,606.0 397.1,606.7 397.2,607.3 398.7,610.0 400.2,612.3 401.7,614.8 401.8,614.9 403.2,616.6 404.7,618.0 406.2,619.5 406.6,619.8 407.7,619.7 409.2,619.4 410.7,618.8 411.4,618.9 412.2,618.7 413.7,618.5 415.2,618.4 416.2,618.2 416.7,618.1 418.2,619.5 419.7,620.2 420.9,620.7 421.2,620.8 422.7,621.1 424.1,621.2 424.2,621.3 425.7,619.2 427.2,617.2 428.7,615.1 428.9,614.9 430.2,612.9 431.7,610.4 433.2,607.8 433.7,607.1 434.7,606.7 436.2,606.5 437.7,606.2 439.2,605.5 440.0,605.6 440.7,604.8 442.2,604.0 443.7,603.1 445.2,601.9 446.4,601.2 446.7,601.2 448.2,600.4 449.7,599.4 451.2,598.8 452.7,597.8 452.8,598.0 454.2,597.8 455.7,597.9 457.2,597.9 458.7,597.9 459.1,598.1 460.2,598.4 461.7,598.7 463.2,599.0 464.7,599.4 465.5,599.7 466.2,600.4 467.7,601.7 469.2,603.1 470.7,604.5 471.8,605.5 472.2,605.5 473.7,606.5 475.2,607.6 476.7,608.5 478.2,609.2 478.2,609.4 479.7,609.8 481.2,610.5 482.7,610.9 483.0,611.3 484.2,613.0 485.7,615.3 487.2,617.5 487.8,618.2 488.7,620.2 490.2,623.3 491.7,626.1 493.2,629.1 494.1,630.9 494.7,631.1 496.2,631.3 497.7,631.6 498.9,631.6 499.2,631.7 500.7,631.2 502.2,631.2 503.7,630.9 503.7,631.2 505.2,632.0 506.7,632.9 508.2,634.0 508.4,634.2 509.7,634.6 511.2,635.1 512.6,635.6 512.7,635.9 514.2,633.7 515.7,631.9 516.4,630.8 517.2,629.0 518.7,625.9 520.2,622.7 521.2,620.8 521.7,620.3 523.2,619.5 524.7,618.6 526.2,617.4 527.5,616.7 527.7,616.4 529.2,616.1 530.7,615.6 532.2,615.3 532.3,614.9 533.7,613.3 535.2,611.6 536.7,609.6 537.1,609.3 538.2,608.6 539.7,607.8 541.2,607.2 541.9,606.8 542.7,607.0 544.2,606.7 545.7,606.5 547.2,606.2 548.2,606.1 548.7,606.1 550.0,605.8 550.2,606.3 551.7,606.0 553.2,606.0 554.7,606.1 554.8,606.2 556.2,607.5 557.7,608.6 559.2,610.0 559.5,610.2 560.7,611.3 562.2,612.9 563.7,614.4 564.3,614.8 565.2,615.4 566.7,615.4 568.2,616.0 569.7,616.2 570.7,616.5 571.2,617.1 572.7,618.7 574.2,620.0 575.5,621.4 575.7,622.1 577.2,624.8 578.7,627.9 580.2,631.0 580.2,630.9 581.7,632.8 583.2,634.4 584.7,636.4 585.0,636.7 586.2,636.3 587.7,636.3 589.2,635.8 589.8,635.7 590.7,635.6 592.2,635.6 593.7,635.7 594.6,635.7 595.2,636.1 596.7,636.6 598.2,637.4 599.3,638.1 599.7,637.8 601.2,637.2 602.5,636.8 602.7,636.3 604.2,633.5 605.7,630.6 607.2,628.1 607.3,627.9 608.7,625.9 610.2,624.3 611.7,622.3 612.1,622.1 613.2,621.7 614.7,621.1 616.2,620.6 616.8,620.2 617.7,619.8 619.2,618.5 620.7,617.3 621.6,616.7 622.2,615.9 623.7,614.4 625.2,612.9 626.4,611.7 626.7,612.0 628.2,611.3 629.7,610.8 631.2,610.5 632.7,609.5 632.7,609.9 634.2,609.8 635.7,609.6 637.2,609.6 638.7,609.2 640.2,609.3 640.7,609.4 641.7,609.2 643.2,609.6 644.7,610.1 645.5,610.2 646.2,610.9 647.7,612.5 649.2,614.0 650.2,614.8 650.7,615.4 652.2,616.4 653.7,617.5 655.0,618.5 655.2,619.0 656.7,619.3 658.2,619.9 659.7,619.9 659.8,620.0 661.2,621.5 662.7,622.8 664.2,624.3 664.6,624.6 665.7,627.6 667.2,631.4 668.7,635.5 669.3,637.5 670.2,638.4 671.7,640.3 673.2,641.9 674.1,643.0 674.7,642.8 676.2,642.6 677.7,642.3 678.9,642.1 679.2,642.4 680.7,642.6 682.2,643.3 683.7,643.5 683.7,643.8 685.2,644.4 686.7,645.2 688.2,645.9 689.7,646.9 690.0,646.8 691.2,645.1 692.7,643.1 694.2,641.2 694.8,640.4 695.7,638.5 697.2,635.6 698.7,632.7 699.6,630.8 700.2,630.5 701.7,629.4 703.2,627.8 704.3,627.3 704.7,627.3 706.2,626.6 707.7,626.5 709.1,626.0 709.2,626.1 710.7,624.5 712.2,623.1 713.7,621.4 713.9,621.3 715.2,619.7 716.7,617.9 718.2,616.1 718.7,615.6 719.7,615.1 721.2,614.8 722.7,614.3 723.4,613.8 724.2,614.1 725.7,614.0 727.2,613.9 728.7,613.9 730.2,613.9 731.4,614.0 731.7,614.2 733.2,614.6 734.7,615.5 736.2,615.9 737.7,616.7 737.7,616.7 739.2,618.4 740.7,620.7 742.2,622.8 742.5,622.9 743.7,623.7 745.2,624.4 746.7,625.2 747.3,625.5 748.2,625.9 749.7,626.7 751.2,627.5 752.1,627.7 752.7,629.2 754.2,631.9 755.7,634.7 756.8,636.6 757.2,637.4 758.7,639.6 760.2,641.4 761.6,643.5 761.7,643.6 763.2,644.3 764.7,644.8 766.2,645.2 766.4,645.3 767.7,644.9 769.2,644.1 770.7,643.9 771.2,643.6 772.2,644.0 773.7,644.5 775.2,644.9 775.9,645.1 776.7,645.6 778.2,646.2 779.7,646.8 779.8,647.0 781.2,645.1 782.7,643.3 783.9,642.0 784.2,641.5 785.7,639.0 787.2,636.6 788.7,634.2 788.7,634.2 790.2,632.6 791.7,631.0 793.2,629.7 793.4,629.3 794.7,629.1 796.2,628.7 797.7,628.5 798.2,628.3 799.2,627.6 800.7,626.6 802.2,625.5 803.0,624.7 803.7,623.7 805.2,622.0 806.7,620.1 807.8,618.8 808.2,618.7 809.7,618.3 811.2,617.9 812.7,617.8 814.1,617.2 814.2,617.2 815.7,617.3 817.2,617.2 818.7,617.1 820.2,617.1 820.5,617.3 821.7,617.6 823.2,618.0 824.3,618.1 824.7,618.6 826.2,620.4 827.7,621.8 829.2,623.6 830.0,624.4 830.7,624.9 832.2,625.6 833.7,626.6 835.2,626.8 836.4,627.9 836.7,627.8 838.2,628.6 839.7,629.4 841.2,629.9 841.2,630.1 842.7,632.4 844.2,634.6 845.7,636.9 845.9,637.3 847.2,639.4 848.7,641.8 850.2,644.6 850.7,645.3 851.7,645.3 853.2,646.0 854.7,646.8 855.5,647.0 856.2,646.7 857.7,646.1 859.2,645.9 860.7,645.7 861.9,645.3 862.2,645.3 863.7,645.6 865.2,646.2 866.7,646.4 868.2,646.9 868.2,646.9 869.7,645.0 871.2,642.9 872.7,640.9 873.0,640.3 874.2,638.6 875.7,636.0 877.2,633.4 877.8,632.3 878.7,632.1 880.2,631.5 881.7,631.2 883.2,630.4 884.1,630.1 884.7,629.6 886.2,628.5 887.7,627.0 888.9,626.1 889.2,625.7 890.7,624.3 892.2,622.8 893.7,621.4 893.7,621.2 895.2,621.0 896.7,620.5 898.2,620.5 899.7,619.8 900.0,620.1 901.2,619.9 902.7,619.4 904.2,619.5 905.7,619.3 906.4,619.0 907.2,619.3 908.7,619.3 910.2,619.5 911.7,619.5 913.2,619.7 914.4,619.8" fill="none" stroke="#f00" stroke-width="2.2" stroke-linejoin="round"/>
</g>
<path d="M200,822 L200,478 L914,478" fill="none" stroke="#000" stroke-width="1.8" stroke-linecap="square"/>
<path d="M200,822 L914,822" fill="none" stroke="#000" stroke-width="1.8" stroke-linecap="square"/>
<path d="M914,478 L914,822" fill="none" stroke="#000" stroke-width="1.8" stroke-linecap="square"/>
<path d="M200.00,764.50h5.50M200.00,707.50h5.50M200.00,650.50h5.50M200.00,592.50h5.50M200.00,535.50h5.50" stroke="#000" stroke-width="1.15" fill="none" shape-rendering="crispEdges"/>
<path d="M200.00,804.50h3.00M200.00,794.50h3.00M200.00,787.50h3.00M200.00,781.50h3.00M200.00,777.50h3.00M200.00,773.50h3.00M200.00,770.50h3.00M200.00,767.50h3.00M200.00,747.50h3.00M200.00,737.50h3.00M200.00,730.50h3.00M200.00,724.50h3.00M200.00,720.50h3.00M200.00,716.50h3.00M200.00,712.50h3.00M200.00,709.50h3.00M200.00,690.50h3.00M200.00,679.50h3.00M200.00,672.50h3.00M200.00,667.50h3.00M200.00,662.50h3.00M200.00,658.50h3.00M200.00,655.50h3.00M200.00,652.50h3.00M200.00,632.50h3.00M200.00,622.50h3.00M200.00,615.50h3.00M200.00,609.50h3.00M200.00,605.50h3.00M200.00,601.50h3.00M200.00,598.50h3.00M200.00,595.50h3.00M200.00,575.50h3.00M200.00,565.50h3.00M200.00,558.50h3.00M200.00,552.50h3.00M200.00,548.50h3.00M200.00,544.50h3.00M200.00,540.50h3.00M200.00,537.50h3.00M200.00,518.50h3.00M200.00,507.50h3.00M200.00,500.50h3.00M200.00,495.50h3.00M200.00,490.50h3.00M200.00,486.50h3.00M200.00,483.50h3.00M200.00,480.50h3.00" stroke="#000" stroke-width="1.15" fill="none" shape-rendering="crispEdges"/>
<path d="M914.00,764.50h-5.50M914.00,707.50h-5.50M914.00,650.50h-5.50M914.00,592.50h-5.50M914.00,535.50h-5.50" stroke="#000" stroke-width="1.15" fill="none" shape-rendering="crispEdges"/>
<path d="M914.00,804.50h-3.00M914.00,794.50h-3.00M914.00,787.50h-3.00M914.00,781.50h-3.00M914.00,777.50h-3.00M914.00,773.50h-3.00M914.00,770.50h-3.00M914.00,767.50h-3.00M914.00,747.50h-3.00M914.00,737.50h-3.00M914.00,730.50h-3.00M914.00,724.50h-3.00M914.00,720.50h-3.00M914.00,716.50h-3.00M914.00,712.50h-3.00M914.00,709.50h-3.00M914.00,690.50h-3.00M914.00,679.50h-3.00M914.00,672.50h-3.00M914.00,667.50h-3.00M914.00,662.50h-3.00M914.00,658.50h-3.00M914.00,655.50h-3.00M914.00,652.50h-3.00M914.00,632.50h-3.00M914.00,622.50h-3.00M914.00,615.50h-3.00M914.00,609.50h-3.00M914.00,605.50h-3.00M914.00,601.50h-3.00M914.00,598.50h-3.00M914.00,595.50h-3.00M914.00,575.50h-3.00M914.00,565.50h-3.00M914.00,558.50h-3.00M914.00,552.50h-3.00M914.00,548.50h-3.00M914.00,544.50h-3.00M914.00,540.50h-3.00M914.00,537.50h-3.00M914.00,518.50h-3.00M914.00,507.50h-3.00M914.00,500.50h-3.00M914.00,495.50h-3.00M914.00,490.50h-3.00M914.00,486.50h-3.00M914.00,483.50h-3.00M914.00,480.50h-3.00" stroke="#000" stroke-width="1.15" fill="none" shape-rendering="crispEdges"/>
<path d="M248.50,822.00v-5.50M337.50,822.00v-5.50M427.50,822.00v-5.50M516.50,822.00v-5.50M605.50,822.00v-5.50M694.50,822.00v-5.50M784.50,822.00v-5.50M873.50,822.00v-5.50" stroke="#000" stroke-width="1.15" fill="none" shape-rendering="crispEdges"/>
<text x="185.89" y="823.20" font-size="13.84" fill="#000" textLength="8.27" lengthAdjust="spacingAndGlyphs">0</text>
<text x="162.62" y="830.20" font-size="20.66" fill="#000" textLength="24.69" lengthAdjust="spacingAndGlyphs">10</text>
<text x="186.22" y="765.87" font-size="13.84" fill="#000" textLength="8.27" lengthAdjust="spacingAndGlyphs">1</text>
<text x="162.62" y="772.87" font-size="20.66" fill="#000" textLength="24.69" lengthAdjust="spacingAndGlyphs">10</text>
<text x="186.34" y="708.53" font-size="13.84" fill="#000" textLength="8.27" lengthAdjust="spacingAndGlyphs">2</text>
<text x="162.62" y="715.53" font-size="20.66" fill="#000" textLength="24.69" lengthAdjust="spacingAndGlyphs">10</text>
<text x="186.09" y="651.20" font-size="13.84" fill="#000" textLength="8.27" lengthAdjust="spacingAndGlyphs">3</text>
<text x="162.62" y="658.20" font-size="20.66" fill="#000" textLength="24.69" lengthAdjust="spacingAndGlyphs">10</text>
<text x="185.76" y="593.87" font-size="13.84" fill="#000" textLength="8.27" lengthAdjust="spacingAndGlyphs">4</text>
<text x="162.62" y="600.87" font-size="20.66" fill="#000" textLength="24.69" lengthAdjust="spacingAndGlyphs">10</text>
<text x="186.15" y="536.54" font-size="13.84" fill="#000" textLength="8.27" lengthAdjust="spacingAndGlyphs">5</text>
<text x="162.62" y="543.54" font-size="20.66" fill="#000" textLength="24.69" lengthAdjust="spacingAndGlyphs">10</text>
<text x="185.83" y="479.20" font-size="13.84" fill="#000" textLength="8.27" lengthAdjust="spacingAndGlyphs">6</text>
<text x="162.62" y="486.20" font-size="20.66" fill="#000" textLength="24.69" lengthAdjust="spacingAndGlyphs">10</text>
<text x="235.28" y="511.80" font-size="25.56" fill="#000" textLength="241.00" lengthAdjust="spacingAndGlyphs">Geostationary orbit:</text>
<text x="498.58" y="511.80" font-size="25.56" fill="#000" textLength="113.69" lengthAdjust="spacingAndGlyphs">GOES 15,</text>
<text x="629.16" y="511.80" font-size="25.56" fill="#f00" textLength="72.06" lengthAdjust="spacingAndGlyphs">Model</text>
<text transform="translate(113.30,789.80) rotate(-90)" x="-2.52" y="0" font-size="25.56" fill="#000" textLength="281.39" lengthAdjust="spacingAndGlyphs">&gt;2.0 MeV Electron Flux</text>
<text transform="translate(146.60,742.00) rotate(-90)" x="-2.04" y="0" font-size="25.56" fill="#000" textLength="9.36" lengthAdjust="spacingAndGlyphs">(</text>
<text transform="translate(146.60,724.90) rotate(-90)" x="-1.32" y="0" font-size="25.56" fill="#000" textLength="36.58" lengthAdjust="spacingAndGlyphs">cm</text>
<text transform="translate(136.50,688.80) rotate(-90)" x="-1.76" y="0" font-size="17.89" fill="#000" textLength="24.77" lengthAdjust="spacingAndGlyphs">−2</text>
<text transform="translate(146.60,659.30) rotate(-90)" x="-1.32" y="0" font-size="25.56" fill="#000" textLength="12.50" lengthAdjust="spacingAndGlyphs">s</text>
<text transform="translate(136.50,646.00) rotate(-90)" x="-1.76" y="0" font-size="17.89" fill="#000" textLength="24.77" lengthAdjust="spacingAndGlyphs">−1</text>
<text transform="translate(146.60,617.50) rotate(-90)" x="-1.32" y="0" font-size="25.56" fill="#000" textLength="22.37" lengthAdjust="spacingAndGlyphs">sr</text>
<text transform="translate(136.50,594.70) rotate(-90)" x="-1.76" y="0" font-size="17.89" fill="#000" textLength="24.77" lengthAdjust="spacingAndGlyphs">−1</text>
<text transform="translate(146.60,561.50) rotate(-90)" x="-1.92" y="0" font-size="25.56" fill="#000" textLength="9.36" lengthAdjust="spacingAndGlyphs">)</text>
<g clip-path="url(#clipBL)">
<text transform="translate(875.30,998.80) rotate(-90)" x="-2.96" y="0" font-size="33.23" fill="#000" fill-opacity="0.11" textLength="132.03" lengthAdjust="spacingAndGlyphs">Forecast</text>
<path d="M198.63,997.80H207.53V1017H198.63ZM209.78,991.53H218.68V1017H209.78ZM220.94,978.80H229.84V1017H220.94ZM232.09,985.07H240.99V1017H232.09ZM243.25,991.53H252.15V1017H243.25ZM254.41,1010.53H263.31V1017H254.41ZM265.56,1004.07H274.46V1017H265.56ZM276.72,991.53H285.62V1017H276.72ZM287.87,1010.53H296.77V1017H287.87ZM299.03,1004.07H307.93V1017H299.03ZM310.19,997.80H319.09V1017H310.19ZM321.34,985.07H330.24V1017H321.34ZM332.50,985.07H341.40V1017H332.50ZM343.65,972.53H352.55V1017H343.65ZM354.81,978.80H363.71V1017H354.81ZM365.97,985.07H374.87V1017H365.97ZM377.12,978.80H386.02V1017H377.12ZM388.28,1004.07H397.18V1017H388.28ZM399.43,997.80H408.33V1017H399.43ZM410.59,1004.07H419.49V1017H410.59ZM421.75,1004.07H430.65V1017H421.75ZM432.90,997.80H441.80V1017H432.90ZM444.06,991.53H452.96V1017H444.06ZM455.21,972.53H464.11V1017H455.21ZM466.37,966.07H475.27V1017H466.37ZM477.53,985.07H486.43V1017H477.53ZM488.68,997.80H497.58V1017H488.68ZM499.84,972.53H508.74V1017H499.84ZM510.99,991.53H519.89V1017H510.99ZM522.15,997.80H531.05V1017H522.15ZM533.31,972.53H542.21V1017H533.31ZM544.46,1010.53H553.36V1017H544.46ZM555.62,1010.53H564.52V1017H555.62ZM566.77,991.53H575.67V1017H566.77ZM577.93,985.07H586.83V1017H577.93ZM589.09,991.53H597.99V1017H589.09ZM600.24,997.80H609.14V1017H600.24ZM611.40,1004.07H620.30V1017H611.40ZM622.55,991.53H631.45V1017H622.55ZM633.71,991.53H642.61V1017H633.71ZM644.87,991.53H653.77V1017H644.87ZM656.02,972.53H664.92V1017H656.02ZM667.18,985.07H676.08V1017H667.18ZM678.33,991.53H687.23V1017H678.33ZM689.49,985.07H698.39V1017H689.49ZM700.65,1004.07H709.55V1017H700.65ZM711.80,991.53H720.70V1017H711.80ZM722.96,985.07H731.86V1017H722.96ZM734.11,1004.07H743.01V1017H734.11ZM745.27,1010.53H754.17V1017H745.27ZM756.43,1010.53H765.33V1017H756.43ZM767.58,997.80H776.48V1017H767.58ZM778.74,997.80H787.64V1017H778.74ZM789.89,1004.07H798.79V1017H789.89ZM801.05,1010.53H809.95V1017H801.05ZM812.21,1004.07H821.11V1017H812.21ZM823.36,1004.07H832.26V1017H823.36ZM834.52,1004.07H843.42V1017H834.52ZM845.67,1004.07H854.57V1017H845.67ZM856.83,1004.07H865.73V1017H856.83ZM867.99,1004.07H876.89V1017H867.99ZM879.14,1004.07H888.04V1017H879.14ZM890.30,1004.07H899.20V1017H890.30ZM901.45,1004.07H910.35V1017H901.45Z" fill="#008000"/>
</g>
<path d="M825,847 V1017" stroke="#1f77b4" stroke-width="2" stroke-dasharray="2 3.45"/>
<rect x="207.6" y="852.6" width="87.6" height="66.6" rx="2.5" fill="#fff" fill-opacity="0.8" stroke="#cccccc" stroke-width="1"/>
<rect x="212.7" y="859.0" width="28.3" height="10.7" fill="#008000"/>
<text x="251.21" y="868.80" font-size="14.48" fill="#000" textLength="37.60" lengthAdjust="spacingAndGlyphs">Kp&lt;3</text>
<rect x="212.7" y="880.0" width="28.3" height="10.7" fill="#bfbf00"/>
<text x="251.21" y="889.80" font-size="14.48" fill="#000" textLength="37.60" lengthAdjust="spacingAndGlyphs">Kp&lt;5</text>
<rect x="212.7" y="901.0" width="28.3" height="10.7" fill="#ff0000"/>
<text x="251.21" y="910.80" font-size="14.48" fill="#000" textLength="37.60" lengthAdjust="spacingAndGlyphs">Kp&gt;5</text>
<path d="M200,1017 L200,845 L914,845" fill="none" stroke="#000" stroke-width="1.8" stroke-linecap="square"/>
<path d="M200,1017 L914,1017" fill="none" stroke="#000" stroke-width="1.8" stroke-linecap="square"/>
<path d="M914,845 L914,1017" fill="none" stroke="#000" stroke-width="1.8" stroke-linecap="square"/>
<path d="M200.00,978.50h5.50M200.00,940.50h5.50M200.00,902.50h5.50M200.00,864.50h5.50" stroke="#000" stroke-width="1.15" fill="none" shape-rendering="crispEdges"/>
<path d="M914.00,978.50h-5.50M914.00,940.50h-5.50M914.00,902.50h-5.50M914.00,864.50h-5.50" stroke="#000" stroke-width="1.15" fill="none" shape-rendering="crispEdges"/>
<path d="M248.50,1017.00v-5.50M337.50,1017.00v-5.50M427.50,1017.00v-5.50M516.50,1017.00v-5.50M605.50,1017.00v-5.50M694.50,1017.00v-5.50M784.50,1017.00v-5.50M873.50,1017.00v-5.50" stroke="#000" stroke-width="1.15" fill="none" shape-rendering="crispEdges"/>
<text x="183.34" y="1024.00" font-size="20.66" fill="#000" textLength="12.34" lengthAdjust="spacingAndGlyphs">0</text>
<text x="184.02" y="986.00" font-size="20.66" fill="#000" textLength="12.34" lengthAdjust="spacingAndGlyphs">2</text>
<text x="183.15" y="948.00" font-size="20.66" fill="#000" textLength="12.34" lengthAdjust="spacingAndGlyphs">4</text>
<text x="183.25" y="910.00" font-size="20.66" fill="#000" textLength="12.34" lengthAdjust="spacingAndGlyphs">6</text>
<text x="183.34" y="872.00" font-size="20.66" fill="#000" textLength="12.34" lengthAdjust="spacingAndGlyphs">8</text>
<text x="235.58" y="1037.00" font-size="20.66" fill="#000" textLength="24.69" lengthAdjust="spacingAndGlyphs">12</text>
<text x="324.64" y="1037.00" font-size="20.66" fill="#000" textLength="24.69" lengthAdjust="spacingAndGlyphs">13</text>
<text x="413.65" y="1037.00" font-size="20.66" fill="#000" textLength="24.69" lengthAdjust="spacingAndGlyphs">14</text>
<text x="503.19" y="1037.00" font-size="20.66" fill="#000" textLength="24.69" lengthAdjust="spacingAndGlyphs">15</text>
<text x="592.20" y="1037.00" font-size="20.66" fill="#000" textLength="24.69" lengthAdjust="spacingAndGlyphs">16</text>
<text x="681.69" y="1037.00" font-size="20.66" fill="#000" textLength="24.69" lengthAdjust="spacingAndGlyphs">17</text>
<text x="770.74" y="1037.00" font-size="20.66" fill="#000" textLength="24.69" lengthAdjust="spacingAndGlyphs">18</text>
<text x="860.04" y="1037.00" font-size="20.66" fill="#000" textLength="24.69" lengthAdjust="spacingAndGlyphs">19</text>
<text transform="translate(173.00,947.50) rotate(-90)" x="-2.28" y="0" font-size="25.56" fill="#000" textLength="30.97" lengthAdjust="spacingAndGlyphs">Kp</text>
<text x="472.82" y="1065.80" font-size="25.56" fill="#000" textLength="170.45" lengthAdjust="spacingAndGlyphs">July 2019 (UT)</text>
<g clip-path="url(#clipTR)">
<path d="M1205,282.5 H1800" stroke="#000" stroke-width="2" stroke-dasharray="2 3.45"/>
<path d="M1205.0,281.3 1207.0,281.1 1209.0,281.4 1211.0,282.1 1213.0,281.1 1215.0,282.2 1217.0,284.1 1219.0,283.7 1221.0,284.0 1223.0,284.1 1225.0,284.5 1227.0,290.1 1229.0,298.0 1231.0,303.6 1233.0,303.9 1235.0,302.7 1237.0,303.4 1239.0,288.3 1241.0,273.4 1243.0,257.3 1245.0,257.0 1247.0,257.3 1249.0,255.4 1251.0,262.9 1253.0,274.4 1255.0,280.6 1257.0,278.6 1259.0,278.9 1261.0,278.2 1263.0,278.2 1265.0,276.0 1267.0,279.7 1269.0,278.8 1271.0,268.9 1273.0,263.3 1275.0,256.1 1277.0,257.4 1279.0,258.6 1281.0,256.6 1283.0,256.7 1285.0,258.1 1287.0,257.5 1289.0,256.9 1291.0,257.8 1293.0,256.9 1295.0,256.7 1297.0,264.2 1299.0,272.3 1301.0,278.3 1303.0,277.8 1305.0,278.6 1307.0,280.3 1309.0,275.9 1311.0,275.1 1313.0,271.3 1315.0,273.3 1317.0,271.3 1319.0,272.2 1321.0,273.5 1323.0,272.5 1325.0,272.1 1327.0,271.9 1329.0,273.2 1331.0,271.2 1333.0,267.2 1335.0,265.9 1337.0,264.7 1339.0,263.8 1341.0,267.9 1343.0,264.7 1345.0,263.0 1347.0,269.2 1349.0,273.4 1351.0,275.3 1353.0,275.5 1355.0,274.6 1357.0,275.4 1359.0,276.1 1361.0,274.7 1363.0,274.8 1365.0,273.6 1367.0,274.0 1369.0,275.4 1371.0,274.8 1373.0,272.9 1375.0,272.9 1377.0,273.9 1379.0,273.2 1381.0,272.7 1383.0,272.5 1385.0,272.0 1387.0,272.4 1389.0,272.5 1391.0,272.5 1393.0,274.7 1395.0,281.3 1397.0,282.9 1399.0,282.9 1401.0,284.5 1403.0,282.9 1405.0,284.0 1407.0,282.7 1409.0,283.8 1411.0,283.2 1413.0,282.8 1415.0,283.8 1417.0,285.2 1419.0,285.3 1421.0,281.2 1423.0,282.8 1425.0,283.9 1427.0,283.2 1429.0,284.0 1431.0,283.2 1433.0,284.5 1435.0,278.5 1437.0,273.6 1439.0,265.0 1441.0,268.2 1443.0,264.6 1445.0,262.8 1447.0,269.2 1449.0,271.2 1451.0,264.7 1453.0,260.6 1455.0,268.1 1457.0,268.6 1459.0,264.8 1461.0,267.8 1463.0,267.1 1465.0,266.7 1467.0,272.5 1469.0,281.4 1471.0,287.9 1473.0,288.4 1475.0,289.1 1477.0,288.5 1479.0,289.2 1481.0,288.2 1483.0,289.3 1485.0,284.1 1487.0,277.3 1489.0,273.2 1491.0,273.2 1493.0,273.0 1495.0,273.4 1497.0,273.3 1499.0,273.0 1501.0,273.1 1503.0,273.7 1505.0,272.8 1507.0,276.1 1509.0,278.9 1511.0,281.3 1513.0,280.9 1515.0,279.8 1517.0,280.9 1519.0,280.2 1521.0,281.3 1523.0,280.2 1525.0,279.8 1527.0,280.5 1529.0,280.8 1531.0,280.4 1533.0,280.3 1535.0,280.4 1537.0,279.6 1539.0,280.8 1541.0,281.4 1543.0,281.2 1545.0,281.2 1547.0,281.2 1549.0,281.4 1551.0,281.3 1553.0,282.7 1555.0,281.0 1557.0,282.1 1559.0,282.7 1561.0,281.4 1563.0,281.0 1565.0,281.7 1567.0,282.0 1569.0,283.0 1571.0,280.0 1573.0,281.7 1575.0,283.4 1577.0,283.2 1579.0,278.3 1581.0,275.9 1583.0,269.7 1585.0,270.5 1587.0,268.3 1589.0,268.7 1591.0,273.4 1593.0,269.8 1595.0,272.0 1597.0,268.5 1599.0,269.7 1601.0,269.2 1603.0,271.3 1605.0,267.5 1607.0,267.3 1609.0,271.3 1611.0,276.1 1613.0,281.8 1615.0,284.8 1617.0,280.4 1619.0,275.2 1621.0,271.0 1623.0,267.8 1625.0,267.9 1627.0,271.6 1629.0,276.7 1631.0,281.9 1633.0,285.3 1635.0,287.5 1637.0,287.4 1639.0,287.3 1641.0,287.3 1643.0,287.2 1645.0,287.3 1647.0,288.5 1649.0,289.2 1651.0,288.4 1653.0,285.1 1655.0,281.7 1657.0,278.4 1659.0,275.9 1661.0,275.8 1663.0,276.3 1665.0,275.7 1667.0,275.7 1669.0,276.5 1671.0,278.1 1673.0,275.6 1675.0,275.7 1677.0,277.4 1679.0,275.0 1681.0,276.5 1683.0,276.9 1685.0,275.6 1687.0,275.8 1689.0,275.4 1691.0,277.3 1693.0,273.5 1695.0,276.1 1697.0,277.1 1699.0,274.7 1701.0,275.7 1703.0,274.9 1705.0,275.6 1707.0,275.2 1709.0,274.8 1711.0,275.9 1713.0,274.2 1715.0,275.5 1717.0,275.9 1719.0,274.8 1721.0,274.3 1723.0,275.0 1725.0,275.7 L1725.0,291.0 1723.0,291.4 1721.0,289.0 1719.0,291.1 1717.0,290.5 1715.0,291.1 1713.0,290.0 1711.0,289.2 1709.0,288.7 1707.0,292.0 1705.0,289.4 1703.0,288.7 1701.0,290.4 1699.0,290.7 1697.0,290.8 1695.0,289.1 1693.0,291.2 1691.0,288.7 1689.0,288.8 1687.0,288.5 1685.0,292.3 1683.0,288.5 1681.0,290.0 1679.0,290.2 1677.0,287.7 1675.0,290.5 1673.0,289.5 1671.0,290.0 1669.0,290.1 1667.0,291.0 1665.0,288.6 1663.0,284.7 1661.0,281.0 1659.0,279.7 1657.0,280.8 1655.0,284.2 1653.0,287.4 1651.0,291.3 1649.0,292.7 1647.0,293.6 1645.0,293.0 1643.0,292.7 1641.0,292.5 1639.0,293.0 1637.0,292.9 1635.0,291.6 1633.0,288.7 1631.0,284.0 1629.0,278.6 1627.0,273.8 1625.0,270.2 1623.0,270.2 1621.0,273.1 1619.0,277.7 1617.0,282.3 1615.0,286.9 1613.0,288.6 1611.0,288.2 1609.0,288.0 1607.0,289.2 1605.0,287.2 1603.0,289.4 1601.0,288.9 1599.0,287.2 1597.0,289.5 1595.0,287.4 1593.0,286.9 1591.0,286.1 1589.0,286.5 1587.0,287.1 1585.0,286.7 1583.0,288.3 1581.0,291.9 1579.0,292.6 1577.0,294.0 1575.0,293.3 1573.0,293.7 1571.0,293.9 1569.0,294.0 1567.0,293.6 1565.0,291.9 1563.0,291.8 1561.0,291.1 1559.0,290.9 1557.0,291.5 1555.0,291.6 1553.0,290.5 1551.0,290.6 1549.0,290.6 1547.0,291.4 1545.0,289.6 1543.0,290.7 1541.0,289.8 1539.0,289.4 1537.0,288.6 1535.0,289.4 1533.0,288.3 1531.0,288.4 1529.0,288.4 1527.0,287.7 1525.0,287.5 1523.0,287.2 1521.0,287.1 1519.0,287.4 1517.0,286.5 1515.0,287.3 1513.0,287.3 1511.0,286.3 1509.0,284.0 1507.0,281.0 1505.0,279.1 1503.0,277.8 1501.0,278.4 1499.0,279.3 1497.0,279.0 1495.0,279.2 1493.0,279.0 1491.0,278.1 1489.0,279.6 1487.0,286.2 1485.0,293.7 1483.0,300.4 1481.0,302.6 1479.0,300.9 1477.0,302.0 1475.0,302.0 1473.0,300.1 1471.0,301.6 1469.0,298.8 1467.0,296.4 1465.0,295.6 1463.0,295.4 1461.0,292.4 1459.0,295.2 1457.0,296.4 1455.0,293.8 1453.0,293.6 1451.0,292.1 1449.0,296.1 1447.0,294.0 1445.0,297.2 1443.0,294.2 1441.0,295.1 1439.0,292.6 1437.0,297.7 1435.0,298.6 1433.0,298.3 1431.0,297.9 1429.0,300.9 1427.0,298.5 1425.0,297.0 1423.0,301.4 1421.0,299.2 1419.0,298.3 1417.0,296.1 1415.0,297.9 1413.0,298.3 1411.0,297.1 1409.0,297.0 1407.0,296.2 1405.0,297.9 1403.0,297.5 1401.0,296.2 1399.0,297.3 1397.0,295.5 1395.0,292.8 1393.0,287.2 1391.0,283.8 1389.0,283.7 1387.0,284.2 1385.0,282.3 1383.0,283.9 1381.0,284.9 1379.0,283.9 1377.0,283.9 1375.0,284.8 1373.0,285.5 1371.0,285.3 1369.0,284.9 1367.0,284.5 1365.0,286.3 1363.0,285.0 1361.0,286.4 1359.0,284.4 1357.0,288.0 1355.0,287.3 1353.0,287.0 1351.0,287.8 1349.0,286.0 1347.0,288.4 1345.0,287.9 1343.0,289.8 1341.0,289.5 1339.0,287.0 1337.0,287.6 1335.0,286.3 1333.0,285.7 1331.0,286.2 1329.0,285.4 1327.0,284.9 1325.0,285.1 1323.0,285.7 1321.0,287.2 1319.0,284.1 1317.0,285.8 1315.0,284.4 1313.0,285.7 1311.0,289.4 1309.0,292.8 1307.0,297.0 1305.0,299.9 1303.0,297.5 1301.0,299.2 1299.0,289.4 1297.0,280.1 1295.0,272.8 1293.0,270.9 1291.0,271.3 1289.0,270.4 1287.0,270.7 1285.0,271.0 1283.0,270.6 1281.0,270.9 1279.0,273.1 1277.0,271.9 1275.0,270.4 1273.0,279.0 1271.0,286.3 1269.0,294.5 1267.0,293.8 1265.0,294.7 1263.0,292.6 1261.0,293.3 1259.0,292.0 1257.0,292.8 1255.0,293.8 1253.0,287.2 1251.0,278.8 1249.0,273.6 1247.0,272.7 1245.0,272.5 1243.0,274.0 1241.0,288.9 1239.0,301.3 1237.0,318.6 1235.0,319.6 1233.0,317.8 1231.0,317.8 1229.0,317.0 1227.0,304.7 1225.0,302.9 1223.0,301.7 1221.0,301.3 1219.0,303.7 1217.0,297.4 1215.0,292.5 1213.0,286.9 1211.0,287.5 1209.0,287.0 1207.0,286.7 1205.0,287.8Z" fill="#000"/>
<path d="M1205.0,285.0 1205.2,288.2 1205.4,285.5 1205.6,286.6 1205.8,287.0 1206.0,289.8 1206.2,288.7 1206.4,285.4 1206.6,287.0 1206.8,285.3 1207.0,281.9 1207.2,283.7 1207.4,278.1 1207.6,279.0 1207.8,277.0 1208.0,282.4 1208.2,280.7 1208.4,283.8 1208.6,285.3 1208.8,283.5 1209.0,284.4 1209.2,286.4 1209.4,282.5 1209.6,277.8 1209.8,281.5 1210.0,286.1 1210.2,286.3 1210.4,286.8 1210.6,286.6 1210.8,279.9 1211.0,280.9 1211.2,280.8 1211.4,282.7 1211.6,284.4 1211.8,284.8 1212.0,287.0 1212.2,284.7 1212.4,288.0 1212.6,281.8 1212.8,284.2 1213.0,281.8 1213.2,279.8 1213.4,285.4 1213.6,283.6 1213.8,285.1 1214.0,290.8 1214.2,286.3 1214.4,291.5 1214.6,286.1 1214.8,285.9 1215.0,283.3 1215.2,286.2 1215.4,284.9 1215.6,284.1 1215.8,284.0 1216.0,292.4 1216.2,301.0 1216.4,291.3 1216.6,298.3 1216.8,288.8 1217.0,291.8 1217.2,288.4 1217.4,290.6 1217.6,291.1 1217.8,288.4 1218.0,274.2 1218.2,287.2 1218.4,293.3 1218.6,302.7 1218.8,305.1 1219.0,292.8 1219.2,287.4 1219.4,284.7 1219.6,289.6 1219.8,274.3 1220.0,285.4 1220.2,292.8 1220.4,288.0 1220.6,298.6 1220.8,313.6 1221.0,307.5 1221.2,306.2 1221.4,302.4 1221.6,286.2 1221.8,284.5 1222.0,286.5 1222.2,298.2 1222.4,299.7 1222.6,294.0 1222.8,291.1 1223.0,294.3 1223.2,285.3 1223.4,284.3 1223.6,288.3 1223.8,294.0 1224.0,285.1 1224.2,300.8 1224.4,288.2 1224.6,280.6 1224.8,276.9 1225.0,290.7 1225.2,297.6 1225.4,302.4 1225.6,308.9 1225.8,307.3 1226.0,308.2 1226.2,310.2 1226.4,297.2 1226.6,313.6 1226.8,304.8 1227.0,300.8 1227.2,301.3 1227.4,302.7 1227.6,296.1 1227.8,286.7 1228.0,302.0 1228.2,303.7 1228.4,300.9 1228.6,304.2 1228.8,301.9 1229.0,307.5 1229.2,295.8 1229.4,299.4 1229.6,311.7 1229.8,307.9 1230.0,334.6 1230.0,316.3 1230.2,320.8 1230.4,322.9 1230.6,323.1 1230.8,323.1 1231.0,320.5 1231.2,326.5 1231.4,322.8 1231.6,310.0 1231.8,313.0 1232.0,316.3 1232.2,300.1 1232.4,307.9 1232.6,310.9 1232.8,314.4 1233.0,321.2 1233.2,318.9 1233.4,307.4 1233.6,320.4 1233.8,314.3 1234.0,310.0 1234.2,306.6 1234.4,299.5 1234.6,301.5 1234.8,304.9 1235.0,308.5 1235.2,315.4 1235.4,305.9 1235.6,307.9 1235.8,297.3 1236.0,308.4 1236.2,321.6 1236.4,320.6 1236.6,311.6 1236.8,312.5 1237.0,319.2 1237.2,311.4 1237.4,329.7 1237.6,303.1 1237.8,302.0 1238.0,306.9 1238.2,316.0 1238.4,314.2 1238.6,314.6 1238.8,314.6 1239.0,319.3 1239.2,310.5 1239.4,301.7 1239.6,281.7 1239.8,294.2 1240.0,303.5 1240.2,300.3 1240.4,295.1 1240.6,306.2 1240.8,306.0 1241.0,282.9 1241.2,286.1 1241.4,285.6 1241.6,274.9 1241.8,276.4 1242.0,282.7 1242.2,284.0 1242.4,287.6 1242.6,278.3 1242.8,289.7 1243.0,289.5 1243.2,276.4 1243.4,274.9 1243.6,276.3 1243.8,268.3 1244.0,278.5 1244.2,275.7 1244.4,274.1 1244.6,274.3 1244.8,274.0 1245.0,273.1 1245.2,274.1 1245.4,264.6 1245.6,264.9 1245.8,265.5 1246.0,278.0 1246.2,282.9 1246.4,274.5 1246.6,270.1 1246.8,269.0 1247.0,266.8 1247.2,266.7 1247.4,256.8 1247.6,259.1 1247.8,268.9 1248.0,258.0 1248.2,257.2 1248.4,259.5 1248.5,234.7 1248.6,272.6 1248.8,263.5 1249.0,253.2 1249.2,264.8 1249.4,261.5 1249.6,378.0 1249.6,272.1 1249.8,265.3 1250.0,269.0 1250.2,266.8 1250.4,280.4 1250.6,274.1 1250.8,258.7 1251.0,259.5 1251.2,272.2 1251.4,270.1 1251.6,278.4 1251.8,272.3 1252.0,278.5 1252.2,285.2 1252.4,283.2 1252.6,285.2 1252.8,283.2 1253.0,273.3 1253.2,272.4 1253.4,274.6 1253.6,278.6 1253.8,285.9 1254.0,284.9 1254.2,281.1 1254.4,282.6 1254.6,274.5 1254.8,284.0 1255.0,284.9 1255.2,276.7 1255.4,283.0 1255.6,279.1 1255.8,287.7 1256.0,293.5 1256.2,288.8 1256.4,287.5 1256.6,279.1 1256.8,277.5 1257.0,273.1 1257.2,290.0 1257.4,293.7 1257.6,284.5 1257.8,279.9 1258.0,285.0 1258.2,288.8 1258.4,280.7 1258.6,287.1 1258.8,291.6 1259.0,279.4 1259.2,282.9 1259.4,281.3 1259.6,292.4 1259.8,289.9 1260.0,295.7 1260.2,294.7 1260.4,288.1 1260.6,288.1 1260.8,291.4 1261.0,292.2 1261.2,283.5 1261.4,277.4 1261.6,272.3 1261.8,276.5 1262.0,283.3 1262.2,284.3 1262.4,286.5 1262.6,283.4 1262.8,288.5 1263.0,295.9 1263.2,276.6 1263.4,291.0 1263.6,293.1 1263.8,288.4 1264.0,287.0 1264.2,267.0 1264.4,288.7 1264.6,290.4 1264.8,283.7 1265.0,292.9 1265.2,290.7 1265.4,277.0 1265.6,292.3 1265.8,299.0 1266.0,290.2 1266.2,288.3 1266.4,297.3 1266.6,295.7 1266.8,279.2 1267.0,275.2 1267.2,271.9 1267.4,270.3 1267.6,270.5 1267.8,277.5 1268.0,271.8 1268.2,277.9 1268.4,285.0 1268.6,286.5 1268.8,288.7 1269.0,281.6 1269.2,286.6 1269.4,282.0 1269.6,291.1 1269.8,273.0 1270.0,277.3 1270.2,282.6 1270.4,278.1 1270.6,262.9 1270.8,270.7 1271.0,279.9 1271.2,286.0 1271.4,274.3 1271.6,278.6 1271.8,280.0 1272.0,280.5 1272.2,271.3 1272.4,269.7 1272.5,321.5 1272.6,265.6 1272.8,268.8 1273.0,277.3 1273.2,263.3 1273.4,274.1 1273.6,262.1 1273.8,256.9 1274.0,269.4 1274.2,266.0 1274.4,263.3 1274.6,267.4 1274.8,266.3 1275.0,266.8 1275.2,278.0 1275.4,263.3 1275.6,256.6 1275.8,261.5 1276.0,256.3 1276.2,256.0 1276.4,254.1 1276.6,271.3 1276.8,277.5 1277.0,268.1 1277.2,268.5 1277.4,271.9 1277.6,276.2 1277.8,264.0 1278.0,265.0 1278.2,264.0 1278.4,269.9 1278.6,267.5 1278.8,264.3 1279.0,255.0 1279.2,253.2 1279.4,254.1 1279.6,264.0 1279.8,258.7 1280.0,258.6 1280.2,262.2 1280.4,260.8 1280.6,262.3 1280.8,272.5 1281.0,264.5 1281.2,265.2 1281.4,259.0 1281.6,262.6 1281.8,257.8 1282.0,252.7 1282.2,261.4 1282.4,266.3 1282.6,256.2 1282.8,250.0 1283.0,246.1 1283.2,247.5 1283.4,269.3 1283.6,256.7 1283.8,265.1 1284.0,251.5 1284.2,262.2 1284.4,254.8 1284.5,244.0 1284.6,263.4 1284.8,256.8 1285.0,272.4 1285.2,271.3 1285.4,267.3 1285.6,262.6 1285.8,249.7 1286.0,250.5 1286.2,257.9 1286.4,251.2 1286.6,254.0 1286.8,247.6 1287.0,250.1 1287.2,256.7 1287.4,263.2 1287.6,263.2 1287.8,261.0 1288.0,254.2 1288.2,257.3 1288.4,262.2 1288.6,265.6 1288.8,265.5 1289.0,276.3 1289.2,271.3 1289.4,278.1 1289.6,272.7 1289.8,260.4 1290.0,258.9 1290.2,258.1 1290.4,252.8 1290.6,251.6 1290.8,247.1 1291.0,259.4 1291.2,267.6 1291.4,265.9 1291.6,271.7 1291.8,270.6 1292.0,268.1 1292.2,279.0 1292.4,272.5 1292.6,271.9 1292.8,270.9 1293.0,257.3 1293.2,252.5 1293.4,249.6 1293.6,257.0 1293.8,264.7 1294.0,273.1 1294.2,254.2 1294.3,243.0 1294.4,258.0 1294.6,274.3 1294.8,282.0 1295.0,281.4 1295.2,282.0 1295.4,274.3 1295.6,261.3 1295.8,263.6 1296.0,267.4 1296.2,275.9 1296.4,276.9 1296.6,274.3 1296.8,270.9 1297.0,253.2 1297.2,261.6 1297.4,253.1 1297.6,254.2 1297.8,256.3 1298.0,270.0 1298.2,275.3 1298.4,273.7 1298.6,262.7 1298.8,268.3 1299.0,282.8 1299.2,287.0 1299.4,286.8 1299.6,279.9 1299.8,273.3 1300.0,281.1 1300.2,293.1 1300.4,287.8 1300.6,290.9 1300.8,300.4 1301.0,288.8 1301.2,287.6 1301.4,276.0 1301.6,274.2 1301.8,267.8 1302.0,278.8 1302.2,294.9 1302.4,296.5 1302.6,294.8 1302.8,297.0 1303.0,279.8 1303.2,276.1 1303.4,286.7 1303.6,267.9 1303.8,271.7 1304.0,274.3 1304.2,277.9 1304.4,274.4 1304.6,280.8 1304.8,302.7 1305.0,294.2 1305.2,328.0 1305.2,286.9 1305.4,290.9 1305.6,291.5 1305.8,268.8 1306.0,296.3 1306.2,287.4 1306.4,274.7 1306.6,264.9 1306.8,275.9 1307.0,285.3 1307.2,302.6 1307.4,280.4 1307.6,292.3 1307.8,294.4 1308.0,278.8 1308.2,293.9 1308.4,283.4 1308.6,272.7 1308.8,281.6 1309.0,255.5 1309.0,270.3 1309.2,275.7 1309.4,277.7 1309.6,283.4 1309.8,282.7 1310.0,283.7 1310.2,266.4 1310.4,271.6 1310.6,274.4 1310.8,278.2 1311.0,274.0 1311.2,287.0 1311.4,279.5 1311.6,280.8 1311.8,284.6 1312.0,284.9 1312.2,275.5 1312.4,274.5 1312.6,279.4 1312.8,274.4 1313.0,281.5 1313.2,293.4 1313.4,287.9 1313.6,285.1 1313.8,273.8 1314.0,275.5 1314.2,276.0 1314.4,283.4 1314.6,277.8 1314.8,277.6 1315.0,276.8 1315.2,284.9 1315.4,276.3 1315.6,274.4 1315.8,270.0 1316.0,279.5 1316.2,273.8 1316.4,278.0 1316.6,284.2 1316.8,275.0 1317.0,280.2 1317.2,281.9 1317.4,279.4 1317.6,286.6 1317.8,264.0 1318.0,275.4 1318.2,284.7 1318.4,293.8 1318.6,293.8 1318.8,294.2 1319.0,285.9 1319.2,287.1 1319.4,284.3 1319.6,284.8 1319.8,285.8 1320.0,280.5 1320.2,277.7 1320.4,279.1 1320.6,281.3 1320.8,275.1 1321.0,268.7 1321.2,275.6 1321.4,280.1 1321.6,273.3 1321.8,273.5 1322.0,275.0 1322.2,284.9 1322.4,292.1 1322.6,296.0 1322.8,291.7 1323.0,292.2 1323.2,296.0 1323.4,278.7 1323.6,276.6 1323.8,280.1 1324.0,276.8 1324.2,276.1 1324.4,266.8 1324.6,263.8 1324.8,267.2 1325.0,265.6 1325.2,269.5 1325.4,288.4 1325.6,278.1 1325.8,268.8 1326.0,270.4 1326.2,263.3 1326.4,262.0 1326.6,271.0 1326.8,275.4 1327.0,280.4 1327.2,280.3 1327.4,275.0 1327.6,277.7 1327.8,269.3 1328.0,276.3 1328.2,262.0 1328.4,281.6 1328.6,274.7 1328.8,278.6 1329.0,276.4 1329.2,280.9 1329.4,268.4 1329.6,273.1 1329.8,278.0 1330.0,280.2 1330.2,267.9 1330.4,283.6 1330.6,279.8 1330.8,290.7 1331.0,287.7 1331.2,277.4 1331.4,271.0 1331.6,273.1 1331.8,256.6 1332.0,269.4 1332.2,270.0 1332.4,280.5 1332.6,271.8 1332.8,270.7 1333.0,259.5 1333.2,261.9 1333.4,269.0 1333.6,271.8 1333.8,266.5 1334.0,265.3 1334.2,273.4 1334.4,262.5 1334.6,287.8 1334.8,281.1 1335.0,252.5 1335.2,277.4 1335.4,258.8 1335.6,270.7 1335.8,284.4 1336.0,283.8 1336.2,292.3 1336.4,297.5 1336.6,284.8 1336.8,269.8 1337.0,271.5 1337.2,263.2 1337.4,320.0 1337.4,271.5 1337.6,264.1 1337.8,278.5 1338.0,275.5 1338.2,272.3 1338.4,265.9 1338.6,275.7 1338.8,269.4 1339.0,242.5 1339.0,270.8 1339.2,283.3 1339.4,286.1 1339.6,266.5 1339.8,272.2 1340.0,282.3 1340.2,275.0 1340.4,252.4 1340.6,255.8 1340.8,258.3 1341.0,263.6 1341.2,289.2 1341.4,288.1 1341.6,272.8 1341.8,282.7 1342.0,262.5 1342.2,263.1 1342.4,264.7 1342.6,287.0 1342.8,296.7 1343.0,270.3 1343.2,276.5 1343.4,263.0 1343.6,256.9 1343.8,252.2 1344.0,257.0 1344.2,262.3 1344.4,281.6 1344.6,282.6 1344.8,281.2 1345.0,278.4 1345.2,265.1 1345.4,265.8 1345.6,277.6 1345.8,280.9 1346.0,280.8 1346.2,264.7 1346.4,272.4 1346.6,256.0 1346.8,255.3 1347.0,270.8 1347.2,271.5 1347.4,283.1 1347.6,267.5 1347.8,279.5 1348.0,291.1 1348.2,297.2 1348.4,289.6 1348.6,297.2 1348.8,269.1 1349.0,270.2 1349.2,273.6 1349.4,282.4 1349.6,278.0 1349.8,283.4 1350.0,287.4 1350.2,296.2 1350.4,292.1 1350.6,282.5 1350.8,284.4 1351.0,291.3 1351.2,282.2 1351.4,288.1 1351.6,287.4 1351.8,291.3 1352.0,289.4 1352.2,289.4 1352.4,292.4 1352.6,293.1 1352.8,282.2 1353.0,285.7 1353.2,284.8 1353.4,286.9 1353.6,293.5 1353.8,287.8 1354.0,277.2 1354.2,272.9 1354.4,282.1 1354.6,278.5 1354.8,279.7 1355.0,282.2 1355.2,283.4 1355.4,282.2 1355.6,290.6 1355.8,289.8 1356.0,282.5 1356.2,277.0 1356.4,275.1 1356.6,283.9 1356.8,288.0 1357.0,288.2 1357.2,286.3 1357.4,288.7 1357.6,287.0 1357.8,277.9 1358.0,282.5 1358.2,280.0 1358.4,278.9 1358.6,273.0 1358.8,275.4 1359.0,271.9 1359.2,270.1 1359.4,272.3 1359.6,270.0 1359.8,277.3 1360.0,275.9 1360.2,278.6 1360.4,287.1 1360.6,285.5 1360.8,280.3 1361.0,283.2 1361.2,281.1 1361.4,279.3 1361.6,279.0 1361.8,276.8 1362.0,274.9 1362.2,273.9 1362.4,277.5 1362.6,274.2 1362.8,283.3 1363.0,281.4 1363.2,280.8 1363.4,279.4 1363.6,285.9 1363.8,286.3 1364.0,270.2 1364.2,280.0 1364.4,267.8 1364.6,265.7 1364.8,266.2 1365.0,270.7 1365.2,271.0 1365.4,275.8 1365.6,281.9 1365.8,276.4 1366.0,283.8 1366.2,280.9 1366.4,281.5 1366.6,283.8 1366.8,283.3 1367.0,280.3 1367.2,267.4 1367.4,279.6 1367.6,274.7 1367.8,281.0 1368.0,282.5 1368.2,278.6 1368.4,282.4 1368.6,277.3 1368.8,269.2 1369.0,274.9 1369.2,274.2 1369.4,271.2 1369.6,268.5 1369.8,265.4 1370.0,278.4 1370.2,280.0 1370.4,287.4 1370.6,275.6 1370.8,274.4 1371.0,276.4 1371.2,276.7 1371.4,269.2 1371.6,272.5 1371.8,271.0 1372.0,267.6 1372.2,267.7 1372.4,265.3 1372.6,267.9 1372.8,271.0 1373.0,270.2 1373.2,274.4 1373.4,284.0 1373.6,280.1 1373.8,282.2 1374.0,269.3 1374.2,274.0 1374.4,280.2 1374.6,268.7 1374.8,279.5 1375.0,269.5 1375.2,278.5 1375.4,274.4 1375.6,276.4 1375.8,286.3 1376.0,286.8 1376.2,282.8 1376.4,274.5 1376.6,270.0 1376.8,269.3 1377.0,271.2 1377.2,274.0 1377.4,289.6 1377.6,283.2 1377.8,274.1 1378.0,269.5 1378.2,276.9 1378.4,276.4 1378.6,270.2 1378.8,273.4 1379.0,278.8 1379.2,278.8 1379.4,270.1 1379.6,269.9 1379.8,264.8 1380.0,266.8 1380.2,265.2 1380.4,264.8 1380.6,267.2 1380.8,266.2 1381.0,264.7 1381.2,269.1 1381.4,275.5 1381.6,269.9 1381.8,278.4 1382.0,271.3 1382.2,278.8 1382.4,264.8 1382.6,272.3 1382.8,275.4 1383.0,278.1 1383.2,277.7 1383.4,278.8 1383.6,273.4 1383.8,282.1 1384.0,281.8 1384.2,276.6 1384.4,278.5 1384.6,276.3 1384.8,273.3 1385.0,279.8 1385.2,274.6 1385.4,270.5 1385.6,275.6 1385.8,279.6 1386.0,270.5 1386.2,264.4 1386.4,266.3 1386.6,275.3 1386.8,268.3 1387.0,271.4 1387.2,269.3 1387.4,273.5 1387.6,280.9 1387.8,281.5 1388.0,275.3 1388.2,272.8 1388.4,271.3 1388.6,274.8 1388.8,264.3 1389.0,273.6 1389.2,268.3 1389.4,264.2 1389.6,266.0 1389.8,269.6 1390.0,264.2 1390.2,272.2 1390.4,273.8 1390.6,271.8 1390.8,273.2 1391.0,275.6 1391.2,277.9 1391.4,278.6 1391.6,278.3 1391.8,283.6 1392.0,282.9 1392.2,285.1 1392.4,277.7 1392.6,277.0 1392.8,278.9 1393.0,274.5 1393.2,278.8 1393.4,294.1 1393.6,286.8 1393.8,291.5 1394.0,276.2 1394.2,280.5 1394.4,272.2 1394.6,278.2 1394.8,280.4 1395.0,290.3 1395.2,295.0 1395.4,288.5 1395.6,284.9 1395.8,294.0 1396.0,280.4 1396.2,295.6 1396.4,301.7 1396.6,291.4 1396.8,273.5 1397.0,284.5 1397.2,272.6 1397.4,282.5 1397.6,303.3 1397.8,285.3 1398.0,288.6 1398.2,278.3 1398.4,280.9 1398.6,284.3 1398.8,293.8 1399.0,298.1 1399.2,287.5 1399.4,293.8 1399.6,294.9 1399.8,292.7 1400.0,289.8 1400.2,294.9 1400.4,304.3 1400.6,296.8 1400.8,286.5 1401.0,307.0 1401.2,306.7 1401.4,307.0 1401.6,306.2 1401.8,299.1 1402.0,296.6 1402.2,307.0 1402.4,293.1 1402.6,295.1 1402.8,299.9 1403.0,279.8 1403.2,290.5 1403.4,289.0 1403.6,295.4 1403.8,294.8 1404.0,290.9 1404.2,288.9 1404.4,291.0 1404.6,298.5 1404.8,307.0 1405.0,301.3 1405.2,291.5 1405.4,299.1 1405.6,291.2 1405.8,304.9 1406.0,290.5 1406.2,294.9 1406.4,297.3 1406.6,299.9 1406.8,305.3 1407.0,303.6 1407.2,297.6 1407.4,293.2 1407.6,291.1 1407.8,292.4 1408.0,296.4 1408.2,305.9 1408.4,292.7 1408.6,294.1 1408.8,298.8 1409.0,293.0 1409.2,296.5 1409.4,289.8 1409.6,289.8 1409.8,294.3 1410.0,291.1 1410.2,287.1 1410.4,293.5 1410.6,294.9 1410.8,295.2 1411.0,285.7 1411.2,284.4 1411.4,294.4 1411.6,307.0 1411.8,298.0 1412.0,304.2 1412.2,291.3 1412.4,287.4 1412.6,295.9 1412.8,292.7 1413.0,292.5 1413.2,287.8 1413.4,283.4 1413.6,299.3 1413.8,301.3 1414.0,296.8 1414.2,286.6 1414.4,285.4 1414.6,280.7 1414.8,292.0 1415.0,287.1 1415.2,297.4 1415.4,297.0 1415.6,289.5 1415.8,280.2 1416.0,285.6 1416.2,291.8 1416.4,292.4 1416.6,296.2 1416.8,297.5 1417.0,301.8 1417.2,306.4 1417.4,297.9 1417.6,300.7 1417.8,305.5 1418.0,302.0 1418.2,296.5 1418.4,301.4 1418.6,296.3 1418.8,292.6 1419.0,280.5 1419.2,286.3 1419.4,292.0 1419.6,308.3 1419.8,301.8 1420.0,302.3 1420.2,296.3 1420.4,304.0 1420.6,294.6 1420.8,297.2 1421.0,309.3 1421.2,303.9 1421.4,297.9 1421.6,298.2 1421.8,296.0 1422.0,299.8 1422.2,304.6 1422.4,304.7 1422.6,300.3 1422.8,285.5 1423.0,310.6 1423.2,310.7 1423.4,309.5 1423.6,310.9 1423.8,293.9 1424.0,299.3 1424.2,297.0 1424.4,299.2 1424.6,296.6 1424.8,303.4 1425.0,305.8 1425.2,296.4 1425.4,290.6 1425.6,287.5 1425.8,294.2 1426.0,301.3 1426.2,290.4 1426.4,295.7 1426.6,291.4 1426.8,282.8 1427.0,286.3 1427.2,271.6 1427.4,281.1 1427.6,289.2 1427.8,280.5 1428.0,292.5 1428.2,297.1 1428.4,294.4 1428.6,282.2 1428.8,280.0 1429.0,282.0 1429.2,289.5 1429.4,300.5 1429.6,290.5 1429.8,287.5 1430.0,281.2 1430.2,289.8 1430.4,303.9 1430.6,292.2 1430.8,282.3 1431.0,288.8 1431.2,288.8 1431.4,286.3 1431.6,311.0 1431.8,309.6 1432.0,300.5 1432.2,295.3 1432.4,294.7 1432.6,295.2 1432.8,286.6 1433.0,299.9 1433.2,293.9 1433.4,298.6 1433.6,282.0 1433.8,278.8 1434.0,290.8 1434.2,280.9 1434.4,282.9 1434.6,279.8 1434.8,292.0 1435.0,291.5 1435.2,312.1 1435.4,309.0 1435.6,292.1 1435.8,305.7 1436.0,295.1 1436.2,287.7 1436.4,281.2 1436.6,282.2 1436.8,288.9 1437.0,292.8 1437.2,291.7 1437.4,293.8 1437.6,299.1 1437.8,304.2 1438.0,277.7 1438.2,277.0 1438.4,281.7 1438.6,299.8 1438.8,301.2 1439.0,273.7 1439.2,268.8 1439.4,277.9 1439.6,266.3 1439.8,262.8 1440.0,283.5 1440.2,270.6 1440.4,298.7 1440.6,291.3 1440.8,273.5 1441.0,272.9 1441.2,280.3 1441.4,266.7 1441.6,265.3 1441.8,271.3 1442.0,281.6 1442.2,265.6 1442.4,280.6 1442.6,281.3 1442.8,274.2 1443.0,285.1 1443.2,280.0 1443.4,289.0 1443.6,297.8 1443.8,315.0 1444.0,295.8 1444.2,315.0 1444.4,311.4 1444.6,297.8 1444.8,298.8 1445.0,240.8 1445.0,308.6 1445.2,286.1 1445.4,285.4 1445.6,279.9 1445.8,263.5 1446.0,256.6 1446.2,245.0 1446.4,274.2 1446.6,295.6 1446.8,314.4 1447.0,285.2 1447.2,279.3 1447.4,282.4 1447.6,290.7 1447.8,275.5 1448.0,277.6 1448.2,288.7 1448.4,303.9 1448.6,286.6 1448.8,279.6 1449.0,282.2 1449.2,288.9 1449.4,292.5 1449.6,287.1 1449.8,253.2 1450.0,277.0 1450.2,275.9 1450.4,271.5 1450.6,276.9 1450.8,298.4 1451.0,286.6 1451.2,262.6 1451.4,257.0 1451.6,260.6 1451.8,273.0 1452.0,282.4 1452.2,306.3 1452.4,305.0 1452.6,281.4 1452.8,285.1 1453.0,266.2 1453.2,261.8 1453.4,286.8 1453.6,277.2 1453.8,259.6 1454.0,272.6 1454.2,275.3 1454.4,297.8 1454.6,287.7 1454.8,281.8 1455.0,286.3 1455.2,283.6 1455.4,280.0 1455.6,284.7 1455.8,299.3 1456.0,291.6 1456.2,236.5 1456.2,284.6 1456.4,291.6 1456.6,289.8 1456.8,294.0 1457.0,277.0 1457.2,303.4 1457.4,299.6 1457.6,343.9 1457.6,284.8 1457.8,295.1 1458.0,310.3 1458.2,298.1 1458.4,290.1 1458.6,310.2 1458.8,284.2 1459.0,293.7 1459.2,281.0 1459.4,253.0 1459.6,268.9 1459.8,279.0 1460.0,312.9 1460.2,309.8 1460.4,301.9 1460.6,290.3 1460.8,277.2 1461.0,291.2 1461.2,280.0 1461.4,251.5 1461.6,269.1 1461.8,292.6 1462.0,301.4 1462.2,300.1 1462.4,298.9 1462.6,283.8 1462.8,281.4 1463.0,315.0 1463.2,275.1 1463.4,258.8 1463.6,270.4 1463.8,265.0 1464.0,273.8 1464.2,292.2 1464.4,274.7 1464.6,279.4 1464.8,258.8 1465.0,294.1 1465.2,290.7 1465.4,272.3 1465.6,281.6 1465.8,293.3 1466.0,266.6 1466.2,270.0 1466.4,269.2 1466.6,289.5 1466.8,284.7 1467.0,287.1 1467.2,260.0 1467.4,248.0 1467.4,272.4 1467.6,294.2 1467.8,311.7 1468.0,304.5 1468.2,292.2 1468.4,289.4 1468.6,303.6 1468.8,284.4 1469.0,291.3 1469.2,313.2 1469.4,310.2 1469.6,313.0 1469.8,311.9 1470.0,281.8 1470.2,292.0 1470.4,276.3 1470.6,283.8 1470.8,294.3 1471.0,275.2 1471.2,286.5 1471.4,294.4 1471.6,298.1 1471.8,300.1 1472.0,291.3 1472.2,297.3 1472.4,299.3 1472.6,297.0 1472.8,297.8 1473.0,311.1 1473.2,303.4 1473.4,309.3 1473.6,312.0 1473.8,312.0 1474.0,309.8 1474.2,308.1 1474.4,312.0 1474.6,309.4 1474.8,304.8 1475.0,298.8 1475.2,296.5 1475.4,299.6 1475.6,305.0 1475.8,309.5 1476.0,300.3 1476.2,312.0 1476.4,312.0 1476.6,312.0 1476.8,312.0 1477.0,301.6 1477.2,300.8 1477.4,301.8 1477.6,304.7 1477.8,301.9 1478.0,295.2 1478.2,288.2 1478.4,297.6 1478.6,297.0 1478.8,300.0 1479.0,308.8 1479.2,305.7 1479.4,312.0 1479.6,309.6 1479.8,312.0 1480.0,303.7 1480.2,305.0 1480.4,312.0 1480.6,312.0 1480.8,301.6 1481.0,301.3 1481.2,305.0 1481.4,312.0 1481.6,310.4 1481.8,312.0 1482.0,312.0 1482.2,310.2 1482.4,302.8 1482.6,293.6 1482.8,293.2 1483.0,296.5 1483.2,294.7 1483.4,296.6 1483.6,302.9 1483.8,306.2 1484.0,298.7 1484.2,290.6 1484.4,285.8 1484.6,288.2 1484.8,284.6 1485.0,288.4 1485.2,288.4 1485.4,286.3 1485.6,278.0 1485.8,284.8 1486.0,290.8 1486.2,288.3 1486.4,279.9 1486.6,277.5 1486.8,279.8 1487.0,279.2 1487.2,279.4 1487.4,281.1 1487.6,277.9 1487.8,275.2 1488.0,275.2 1488.2,278.9 1488.4,282.4 1488.6,283.6 1488.8,280.3 1489.0,283.0 1489.2,282.1 1489.4,283.0 1489.6,280.0 1489.8,281.5 1490.0,277.0 1490.2,273.1 1490.4,279.1 1490.6,279.5 1490.8,281.8 1491.0,275.1 1491.2,269.0 1491.4,277.6 1491.6,276.7 1491.8,278.0 1492.0,276.0 1492.2,275.5 1492.4,277.5 1492.6,279.5 1492.8,278.3 1493.0,275.7 1493.2,275.7 1493.4,276.5 1493.6,278.8 1493.8,280.6 1494.0,279.2 1494.2,278.4 1494.4,281.9 1494.6,283.0 1494.8,283.0 1495.0,282.3 1495.2,282.0 1495.4,281.0 1495.6,283.0 1495.8,282.3 1496.0,280.4 1496.2,278.8 1496.4,277.0 1496.6,274.4 1496.8,281.9 1497.0,283.0 1497.2,281.8 1497.4,281.4 1497.6,275.6 1497.8,273.2 1498.0,274.6 1498.2,277.1 1498.4,278.8 1498.6,274.9 1498.8,274.6 1499.0,274.2 1499.2,276.4 1499.4,274.6 1499.6,275.0 1499.8,273.6 1500.0,277.6 1500.2,278.2 1500.4,276.0 1500.6,279.7 1500.8,277.8 1501.0,279.4 1501.2,281.2 1501.4,283.0 1501.6,276.3 1501.8,278.3 1502.0,277.6 1502.2,273.4 1502.4,274.5 1502.6,271.8 1502.8,276.2 1503.0,277.4 1503.2,277.9 1503.4,276.9 1503.6,276.6 1503.8,277.7 1504.0,275.8 1504.2,277.9 1504.4,281.0 1504.6,282.6 1504.8,282.7 1505.0,277.4 1505.2,277.6 1505.4,278.6 1505.6,282.3 1505.8,281.9 1506.0,278.0 1506.2,279.2 1506.4,285.4 1506.6,285.7 1506.8,281.9 1507.0,281.5 1507.2,281.2 1507.4,286.8 1507.6,285.1 1507.8,284.6 1508.0,279.2 1508.2,280.5 1508.4,279.0 1508.6,280.0 1508.8,277.3 1509.0,281.3 1509.2,278.8 1509.4,281.5 1509.6,278.7 1509.8,280.5 1510.0,284.3 1510.2,282.4 1510.4,285.5 1510.6,281.2 1510.8,284.3 1511.0,283.2 1511.2,283.5 1511.4,281.4 1511.6,283.6 1511.8,283.8 1512.0,282.2 1512.2,286.4 1512.4,286.8 1512.6,284.9 1512.8,281.3 1513.0,281.8 1513.2,284.5 1513.4,281.4 1513.6,282.8 1513.8,285.5 1514.0,284.8 1514.2,287.9 1514.4,283.6 1514.6,285.6 1514.8,291.6 1515.0,288.9 1515.2,287.0 1515.4,283.1 1515.6,284.9 1515.8,283.8 1516.0,285.9 1516.2,281.8 1516.4,283.1 1516.6,281.3 1516.8,281.8 1517.0,282.3 1517.2,282.8 1517.4,288.9 1517.6,291.8 1517.8,291.8 1518.0,284.1 1518.2,286.6 1518.4,288.4 1518.6,291.4 1518.8,291.2 1519.0,291.0 1519.2,289.7 1519.4,289.1 1519.6,283.6 1519.8,285.6 1520.0,285.0 1520.2,288.0 1520.4,288.9 1520.6,290.2 1520.8,285.5 1521.0,284.0 1521.2,283.1 1521.4,287.2 1521.6,279.8 1521.8,280.2 1522.0,278.1 1522.2,281.7 1522.4,280.2 1522.6,280.4 1522.8,282.3 1523.0,285.6 1523.2,286.3 1523.4,286.4 1523.6,285.9 1523.8,286.8 1524.0,285.9 1524.2,284.1 1524.4,276.4 1524.6,279.7 1524.8,284.4 1525.0,283.5 1525.2,288.0 1525.4,287.6 1525.6,282.8 1525.8,279.1 1526.0,280.7 1526.2,283.5 1526.4,288.1 1526.6,287.7 1526.8,282.0 1527.0,284.8 1527.2,287.8 1527.4,284.5 1527.6,282.7 1527.8,291.2 1528.0,288.8 1528.2,280.6 1528.4,283.2 1528.6,282.5 1528.8,282.4 1529.0,275.1 1529.2,277.5 1529.4,274.8 1529.6,280.4 1529.8,279.9 1530.0,284.1 1530.2,282.3 1530.4,282.4 1530.6,287.2 1530.8,289.9 1531.0,288.9 1531.2,285.1 1531.4,287.7 1531.6,285.4 1531.8,288.1 1532.0,285.3 1532.2,293.4 1532.4,291.3 1532.6,286.4 1532.8,280.2 1533.0,282.6 1533.2,287.7 1533.4,287.1 1533.6,285.8 1533.8,280.5 1534.0,290.1 1534.2,287.1 1534.4,290.8 1534.6,289.7 1534.8,293.6 1535.0,289.5 1535.2,277.9 1535.4,280.9 1535.6,283.4 1535.8,285.6 1536.0,286.0 1536.2,285.2 1536.4,280.2 1536.6,285.1 1536.8,285.1 1537.0,285.5 1537.2,275.4 1537.4,282.0 1537.6,292.6 1537.8,290.3 1538.0,288.6 1538.2,291.1 1538.4,286.2 1538.6,291.6 1538.8,292.8 1539.0,292.8 1539.2,295.5 1539.4,291.6 1539.6,294.4 1539.8,295.6 1540.0,291.0 1540.2,290.1 1540.4,292.4 1540.6,284.8 1540.8,279.0 1541.0,282.7 1541.2,283.3 1541.4,276.7 1541.6,275.0 1541.8,283.5 1542.0,283.8 1542.2,287.8 1542.4,286.6 1542.6,283.9 1542.8,281.7 1543.0,284.1 1543.2,287.6 1543.4,290.4 1543.6,286.1 1543.8,280.8 1544.0,285.4 1544.2,287.4 1544.4,283.2 1544.6,282.3 1544.8,283.6 1545.0,286.6 1545.2,293.1 1545.4,294.0 1545.6,284.9 1545.8,286.3 1546.0,280.9 1546.2,278.9 1546.4,287.7 1546.6,276.5 1546.8,276.2 1547.0,276.9 1547.2,285.3 1547.4,285.9 1547.6,290.8 1547.8,278.7 1548.0,277.5 1548.2,283.3 1548.4,281.8 1548.6,283.1 1548.8,283.1 1549.0,286.0 1549.2,283.1 1549.4,282.7 1549.6,280.2 1549.8,276.1 1550.0,278.9 1550.2,276.3 1550.4,277.6 1550.6,281.8 1550.8,285.0 1551.0,286.3 1551.2,288.6 1551.4,285.9 1551.6,281.5 1551.8,281.9 1552.0,278.7 1552.2,285.5 1552.4,285.8 1552.6,286.7 1552.8,283.8 1553.0,280.8 1553.2,288.6 1553.4,283.9 1553.6,288.9 1553.8,287.4 1554.0,283.6 1554.2,275.9 1554.4,278.6 1554.6,277.7 1554.8,290.8 1555.0,291.5 1555.2,289.0 1555.4,293.5 1555.6,284.9 1555.8,283.7 1556.0,287.8 1556.2,288.0 1556.4,284.4 1556.6,277.3 1556.8,284.4 1557.0,286.6 1557.2,283.3 1557.4,281.7 1557.6,279.4 1557.8,282.5 1558.0,281.9 1558.2,287.9 1558.4,291.3 1558.6,290.6 1558.8,287.9 1559.0,289.4 1559.2,292.2 1559.4,292.2 1559.6,287.1 1559.8,288.5 1560.0,287.5 1560.2,289.8 1560.4,281.3 1560.6,283.3 1560.8,289.2 1561.0,289.3 1561.2,283.7 1561.4,282.9 1561.6,281.3 1561.8,280.8 1562.0,275.6 1562.2,282.6 1562.4,296.8 1562.6,287.0 1562.8,289.0 1563.0,281.8 1563.2,282.2 1563.4,278.0 1563.6,274.3 1563.8,277.3 1564.0,283.8 1564.2,290.1 1564.4,297.8 1564.6,291.8 1564.8,289.4 1565.0,292.8 1565.2,294.0 1565.4,297.6 1565.6,292.1 1565.8,291.6 1566.0,289.3 1566.2,292.2 1566.4,287.1 1566.6,285.9 1566.8,286.0 1567.0,286.4 1567.2,291.0 1567.4,288.1 1567.6,291.3 1567.8,294.1 1568.0,290.2 1568.2,277.2 1568.4,288.1 1568.6,284.5 1568.8,275.9 1569.0,282.1 1569.2,284.9 1569.4,286.8 1569.6,285.2 1569.8,284.0 1570.0,274.8 1570.2,286.1 1570.4,291.7 1570.6,293.1 1570.8,292.7 1571.0,291.6 1571.2,285.3 1571.4,292.9 1571.6,296.0 1571.8,291.6 1572.0,286.1 1572.2,288.2 1572.4,295.2 1572.6,300.9 1572.8,293.1 1573.0,287.2 1573.2,287.0 1573.4,294.7 1573.6,295.4 1573.8,291.8 1574.0,289.8 1574.2,288.0 1574.4,292.1 1574.6,284.6 1574.8,286.7 1575.0,277.0 1575.2,285.6 1575.4,282.2 1575.6,287.2 1575.8,285.5 1576.0,287.3 1576.2,293.5 1576.4,290.7 1576.6,295.2 1576.8,290.5 1577.0,292.3 1577.2,286.7 1577.4,283.2 1577.6,291.4 1577.8,277.1 1578.0,290.7 1578.2,294.4 1578.4,300.1 1578.6,300.0 1578.8,293.0 1579.0,300.3 1579.2,292.4 1579.4,292.7 1579.6,291.5 1579.8,294.0 1580.0,292.0 1580.2,294.6 1580.4,291.1 1580.6,294.9 1580.8,283.9 1581.0,280.8 1581.2,283.1 1581.4,278.3 1581.6,287.4 1581.8,278.1 1582.0,285.1 1582.2,279.6 1582.4,281.0 1582.6,273.7 1582.8,281.9 1583.0,300.3 1583.2,285.6 1583.4,285.6 1583.6,286.5 1583.8,282.8 1584.0,298.5 1584.2,287.0 1584.4,294.5 1584.6,297.6 1584.8,288.3 1585.0,292.1 1585.2,298.4 1585.4,295.7 1585.6,272.2 1585.8,275.2 1586.0,267.1 1586.2,270.6 1586.4,274.0 1586.6,275.5 1586.8,275.7 1587.0,268.9 1587.2,281.3 1587.4,276.0 1587.6,262.1 1587.8,266.8 1588.0,269.3 1588.2,263.4 1588.4,270.3 1588.6,262.9 1588.8,281.2 1589.0,291.9 1589.2,280.7 1589.4,270.6 1589.6,280.5 1589.8,285.1 1590.0,283.8 1590.2,290.2 1590.4,276.0 1590.6,286.5 1590.8,281.7 1591.0,279.6 1591.2,268.7 1591.4,270.1 1591.6,278.2 1591.8,273.1 1592.0,269.6 1592.2,265.6 1592.4,271.3 1592.6,262.9 1592.8,267.2 1593.0,264.1 1593.2,276.5 1593.4,266.4 1593.6,271.9 1593.8,280.8 1594.0,283.6 1594.2,274.5 1594.4,288.8 1594.6,288.4 1594.8,279.5 1595.0,290.2 1595.2,283.0 1595.4,281.0 1595.6,272.8 1595.8,289.7 1596.0,299.0 1596.2,294.5 1596.4,293.6 1596.6,282.6 1596.8,293.1 1597.0,281.8 1597.2,273.4 1597.4,272.3 1597.6,278.9 1597.8,287.3 1598.0,286.8 1598.2,279.1 1598.4,284.5 1598.6,287.7 1598.8,289.4 1599.0,296.4 1599.2,282.6 1599.4,282.1 1599.6,266.8 1599.8,275.2 1600.0,288.4 1600.2,286.6 1600.4,272.4 1600.6,281.0 1600.8,278.2 1601.0,281.4 1601.2,282.9 1601.4,277.7 1601.6,285.4 1601.8,274.7 1602.0,288.0 1602.2,284.3 1602.4,271.6 1602.6,278.5 1602.8,282.6 1603.0,281.6 1603.2,279.6 1603.4,268.5 1603.6,273.0 1603.8,282.0 1604.0,287.6 1604.2,279.3 1604.4,269.2 1604.6,275.6 1604.8,264.7 1605.0,265.6 1605.2,273.1 1605.4,273.5 1605.6,265.0 1605.8,276.6 1606.0,274.9 1606.2,267.6 1606.4,265.9 1606.6,265.1 1606.8,269.6 1607.0,270.8 1607.2,277.7 1607.4,282.8 1607.6,273.3 1607.8,280.1 1608.0,282.8 1608.2,286.8 1608.4,282.1 1608.6,289.4 1608.8,280.9 1609.0,260.0 1609.2,280.3 1609.4,290.4 1609.6,287.6 1609.8,280.1 1610.0,277.0 1610.2,274.5 1610.4,274.8 1610.6,275.9 1610.8,277.6 1611.0,288.9 1611.2,293.8 1611.4,280.4 1611.6,283.5 1611.8,286.0 1612.0,279.3 1612.2,281.8 1612.4,284.3 1612.6,280.3 1612.8,276.2 1613.0,278.8 1613.2,276.5 1613.4,274.5 1613.6,281.1 1613.8,282.1 1614.0,283.5 1614.2,277.5 1614.4,283.3 1614.6,280.8 1614.8,281.6 1615.0,281.8 1615.2,285.1 1615.4,284.0 1615.6,285.3 1615.8,286.4 1616.0,283.3 1616.2,281.6 1616.4,280.5 1616.6,281.8 1616.8,281.4 1617.0,280.8 1617.2,279.5 1617.4,279.6 1617.6,278.8 1617.8,277.2 1618.0,276.9 1618.2,276.4 1618.4,277.0 1618.6,277.5 1618.8,279.2 1619.0,278.3 1619.2,276.4 1619.4,276.3 1619.6,275.1 1619.8,273.4 1620.0,274.7 1620.2,274.4 1620.4,273.0 1620.6,272.5 1620.8,272.7 1621.0,272.9 1621.2,274.6 1621.4,272.0 1621.6,270.3 1621.8,271.9 1622.0,270.6 1622.2,271.0 1622.4,269.9 1622.6,271.0 1622.8,270.6 1623.0,269.2 1623.2,270.3 1623.4,269.6 1623.6,270.1 1623.8,268.9 1624.0,271.3 1624.2,270.6 1624.4,271.2 1624.6,271.3 1624.8,270.9 1625.0,271.3 1625.2,271.4 1625.4,270.1 1625.6,270.0 1625.8,270.3 1626.0,269.6 1626.2,269.5 1626.4,270.0 1626.6,270.3 1626.8,271.4 1627.0,271.1 1627.2,273.0 1627.4,273.2 1627.6,274.2 1627.8,275.9 1628.0,273.8 1628.2,275.1 1628.4,277.0 1628.6,279.3 1628.8,276.9 1629.0,278.0 1629.2,276.9 1629.4,278.3 1629.6,280.0 1629.8,282.0 1630.0,281.7 1630.2,282.2 1630.4,281.9 1630.6,280.2 1630.8,281.1 1631.0,283.2 1631.2,282.0 1631.4,283.7 1631.6,283.7 1631.8,284.4 1632.0,285.6 1632.2,285.4 1632.4,286.3 1632.6,288.7 1632.8,289.2 1633.0,288.1 1633.2,289.0 1633.4,291.2 1633.6,288.8 1633.8,286.6 1634.0,285.9 1634.2,289.2 1634.4,290.6 1634.6,293.7 1634.8,292.9 1635.0,293.4 1635.2,291.4 1635.4,293.4 1635.6,292.1 1635.8,292.2 1636.0,290.0 1636.2,287.9 1636.4,287.7 1636.6,288.0 1636.8,292.4 1637.0,291.8 1637.2,290.7 1637.4,292.7 1637.6,294.6 1637.8,290.4 1638.0,288.6 1638.2,289.7 1638.4,292.2 1638.6,284.2 1638.8,288.3 1639.0,288.2 1639.2,290.2 1639.4,285.1 1639.6,285.7 1639.8,286.7 1640.0,285.8 1640.2,286.0 1640.4,290.3 1640.6,291.1 1640.8,292.1 1641.0,295.2 1641.2,294.2 1641.4,294.9 1641.6,293.7 1641.8,291.6 1642.0,291.2 1642.2,291.8 1642.4,293.9 1642.6,287.8 1642.8,286.5 1643.0,290.6 1643.2,288.6 1643.4,287.5 1643.6,288.0 1643.8,288.7 1644.0,289.6 1644.2,291.8 1644.4,291.0 1644.6,286.3 1644.8,284.7 1645.0,289.3 1645.2,291.2 1645.4,292.3 1645.6,293.7 1645.8,293.1 1646.0,293.0 1646.2,291.8 1646.4,289.4 1646.6,286.0 1646.8,287.9 1647.0,284.5 1647.2,288.2 1647.4,291.7 1647.6,291.1 1647.8,288.9 1648.0,290.7 1648.2,291.7 1648.4,290.5 1648.6,288.9 1648.8,292.0 1649.0,292.9 1649.2,289.8 1649.4,292.7 1649.6,294.0 1649.8,293.7 1650.0,290.5 1650.2,289.8 1650.4,287.9 1650.6,287.1 1650.8,285.9 1651.0,286.5 1651.2,288.4 1651.4,289.8 1651.6,289.3 1651.8,289.4 1652.0,287.9 1652.2,289.4 1652.4,290.0 1652.6,287.4 1652.8,285.4 1653.0,284.8 1653.2,284.8 1653.4,283.5 1653.6,282.3 1653.8,285.1 1654.0,283.3 1654.2,284.8 1654.4,283.5 1654.6,281.3 1654.8,285.4 1655.0,282.0 1655.2,283.0 1655.4,283.7 1655.6,282.7 1655.8,281.4 1656.0,280.7 1656.2,280.4 1656.4,279.9 1656.6,278.3 1656.8,279.4 1657.0,278.6 1657.2,279.2 1657.4,276.2 1657.6,276.6 1657.8,278.0 1658.0,277.7 1658.2,278.2 1658.4,280.1 1658.6,281.6 1658.8,280.0 1659.0,279.4 1659.2,278.1 1659.4,276.2 1659.6,277.3 1659.8,274.1 1660.0,279.4 1660.2,273.5 1660.4,277.0 1660.6,277.2 1660.8,277.0 1661.0,279.9 1661.2,278.4 1661.4,281.3 1661.6,279.2 1661.8,276.5 1662.0,281.5 1662.2,281.9 1662.4,281.4 1662.6,282.8 1662.8,280.7 1663.0,270.4 1663.2,277.5 1663.4,277.3 1663.6,273.8 1663.8,280.5 1664.0,283.8 1664.2,284.0 1664.4,288.0 1664.6,288.3 1664.8,296.8 1665.0,284.8 1665.2,275.9 1665.4,285.8 1665.6,290.9 1665.8,279.2 1666.0,284.5 1666.2,285.7 1666.4,279.9 1666.6,286.1 1666.8,277.6 1667.0,291.6 1667.2,280.7 1667.4,285.9 1667.6,286.9 1667.8,276.9 1668.0,271.2 1668.2,280.5 1668.4,274.6 1668.6,276.6 1668.8,265.8 1669.0,274.1 1669.2,276.9 1669.4,276.8 1669.6,279.1 1669.8,281.5 1670.0,274.2 1670.2,269.3 1670.4,275.3 1670.6,284.9 1670.8,285.4 1671.0,282.4 1671.2,292.3 1671.4,281.6 1671.6,287.8 1671.8,285.9 1672.0,288.6 1672.2,286.7 1672.4,288.9 1672.6,284.9 1672.8,286.9 1673.0,283.4 1673.2,272.0 1673.4,265.6 1673.6,276.9 1673.8,284.1 1674.0,277.2 1674.2,282.8 1674.4,287.9 1674.6,280.0 1674.8,286.2 1675.0,285.1 1675.2,280.1 1675.4,285.2 1675.6,287.0 1675.8,274.7 1676.0,270.6 1676.2,265.8 1676.4,279.1 1676.6,265.8 1676.8,277.6 1677.0,275.2 1677.2,274.3 1677.4,281.7 1677.6,286.1 1677.8,282.8 1678.0,273.6 1678.2,279.1 1678.4,280.4 1678.6,290.4 1678.8,287.9 1679.0,292.9 1679.2,292.1 1679.4,277.5 1679.6,289.8 1679.8,276.7 1680.0,283.0 1680.2,294.9 1680.4,284.9 1680.6,282.4 1680.8,286.5 1681.0,289.1 1681.2,276.6 1681.4,273.0 1681.6,271.6 1681.8,270.7 1682.0,271.2 1682.2,265.1 1682.4,269.9 1682.6,276.1 1682.8,265.1 1683.0,269.6 1683.2,273.2 1683.4,278.1 1683.6,280.5 1683.8,287.4 1684.0,294.1 1684.2,282.6 1684.4,276.3 1684.6,276.7 1684.8,272.3 1685.0,268.3 1685.2,265.1 1685.4,272.7 1685.6,268.3 1685.8,273.7 1686.0,281.5 1686.2,286.7 1686.4,291.1 1686.6,277.2 1686.8,277.4 1687.0,273.1 1687.2,266.0 1687.4,283.5 1687.6,283.2 1687.8,287.5 1688.0,265.8 1688.2,279.2 1688.4,290.7 1688.6,276.6 1688.8,289.9 1689.0,286.9 1689.2,278.3 1689.4,281.6 1689.6,283.0 1689.8,272.7 1690.0,279.4 1690.2,270.8 1690.4,269.6 1690.6,277.6 1690.8,293.1 1691.0,277.0 1691.2,274.6 1691.4,270.5 1691.6,271.4 1691.8,279.4 1692.0,282.3 1692.2,276.4 1692.4,279.5 1692.6,280.1 1692.8,278.1 1693.0,284.4 1693.2,274.1 1693.4,278.9 1693.6,282.3 1693.8,281.3 1694.0,270.5 1694.2,268.0 1694.4,275.7 1694.6,281.8 1694.8,279.2 1695.0,283.1 1695.2,271.2 1695.4,264.5 1695.6,271.1 1695.8,278.9 1696.0,278.0 1696.2,283.4 1696.4,282.0 1696.6,277.4 1696.8,287.1 1697.0,277.5 1697.2,279.5 1697.4,288.2 1697.6,297.1 1697.8,286.7 1698.0,290.8 1698.2,284.9 1698.4,281.1 1698.6,280.9 1698.8,279.4 1699.0,280.6 1699.2,294.0 1699.4,291.9 1699.6,277.3 1699.8,269.9 1700.0,283.8 1700.2,289.3 1700.4,292.4 1700.6,273.9 1700.8,277.0 1701.0,273.3 1701.2,273.9 1701.4,273.6 1701.6,278.4 1701.8,267.8 1702.0,278.0 1702.2,277.0 1702.4,274.2 1702.6,264.1 1702.8,276.2 1703.0,266.9 1703.2,269.0 1703.4,273.0 1703.6,285.9 1703.8,293.6 1704.0,284.9 1704.2,293.7 1704.4,292.2 1704.6,292.2 1704.8,287.7 1705.0,295.9 1705.2,286.4 1705.4,289.7 1705.6,294.0 1705.8,287.9 1706.0,285.7 1706.2,284.8 1706.4,282.5 1706.6,271.4 1706.8,267.0 1707.0,269.4 1707.2,283.3 1707.4,276.8 1707.6,289.6 1707.8,288.7 1708.0,282.4 1708.2,285.9 1708.4,278.7 1708.6,273.6 1708.8,269.3 1709.0,264.9 1709.2,276.0 1709.4,281.4 1709.6,277.2 1709.8,286.5 1710.0,281.3 1710.2,289.1 1710.4,278.1 1710.6,280.7 1710.8,289.8 1711.0,312.0 1711.0,286.9 1711.2,282.0 1711.4,271.0 1711.6,273.5 1711.8,267.9 1712.0,269.8 1712.2,282.9 1712.4,287.4 1712.6,277.7 1712.8,279.7 1713.0,280.3 1713.2,287.7 1713.4,281.8 1713.6,274.4 1713.8,288.2 1714.0,294.6 1714.2,284.2 1714.4,278.4 1714.6,277.2 1714.8,282.1 1715.0,279.2 1715.2,281.4 1715.4,274.4 1715.6,287.4 1715.8,278.0 1716.0,275.5 1716.2,281.4 1716.4,284.4 1716.6,295.1 1716.8,286.4 1717.0,248.5 1717.0,279.1 1717.2,278.1 1717.4,279.5 1717.6,282.8 1717.8,278.3 1718.0,301.5 1718.2,293.9 1718.4,296.0 1718.6,275.7 1718.8,283.7 1719.0,283.2 1719.2,281.5 1719.4,277.2 1719.6,282.1 1719.8,290.5 1720.0,287.4 1720.2,288.2 1720.4,289.8 1720.6,290.4 1720.8,287.7 1721.0,295.9 1721.2,281.5 1721.4,290.7 1721.6,301.9 1721.8,301.9 1722.0,300.3 1722.2,301.7 1722.4,301.0 1722.6,291.2 1722.8,289.7 1723.0,280.8 1723.2,273.0 1723.4,278.5 1723.6,285.0 1723.8,285.2 1724.0,280.4 1724.2,272.4 1724.4,285.9 1724.6,281.1 1724.8,294.5" fill="none" stroke="#000" stroke-width="2.0" stroke-linejoin="round"/>
<path d="M1205.0,280.6 1207.0,281.6 1209.0,281.7 1211.0,284.6 1213.0,279.2 1215.0,280.2 1217.0,282.4 1219.0,281.2 1221.0,282.1 1223.0,283.4 1225.0,281.5 1227.0,283.5 1229.0,283.8 1231.0,284.6 1233.0,283.1 1235.0,284.1 1237.0,283.4 1239.0,287.2 1241.0,288.3 1243.0,289.6 1245.0,287.6 1247.0,288.5 1249.0,288.4 1251.0,288.4 1253.0,290.2 1255.0,288.2 1257.0,286.8 1259.0,291.3 1261.0,291.5 1263.0,291.3 1265.0,288.6 1267.0,289.6 1269.0,288.5 1271.0,289.1 1273.0,289.8 1275.0,289.8 1277.0,290.4 1279.0,289.2 1281.0,291.5 1283.0,290.7 1285.0,289.8 1287.0,287.9 1289.0,291.1 1291.0,291.5 1293.0,290.8 1295.0,288.8 1297.0,290.3 1299.0,288.3 1301.0,292.7 1303.0,288.9 1305.0,289.2 1307.0,292.6 1309.0,290.8 1311.0,289.6 1313.0,291.2 1315.0,290.3 1317.0,288.8 1319.0,291.6 1321.0,292.5 1323.0,293.3 1325.0,291.7 1327.0,293.0 1329.0,293.1 1331.0,293.2 1333.0,292.4 1335.0,294.5 1337.0,295.0 1339.0,296.1 1341.0,291.8 1343.0,293.2 1345.0,291.5 1347.0,293.3 1349.0,294.2 1351.0,292.8 1353.0,293.4 1355.0,294.9 1357.0,294.4 1359.0,291.2 1361.0,293.0 1363.0,293.0 1365.0,293.9 1367.0,294.5 1369.0,292.7 1371.0,293.9 1373.0,294.8 1375.0,294.1 1377.0,295.1 1379.0,293.9 1381.0,292.9 1383.0,295.2 1385.0,292.7 1387.0,295.2 1389.0,294.3 1391.0,295.5 1393.0,294.9 1395.0,294.7 1397.0,295.3 1399.0,295.8 1401.0,295.9 1403.0,296.3 1405.0,297.2 1407.0,296.1 1409.0,295.7 1411.0,295.5 1413.0,296.0 1415.0,294.7 1417.0,296.7 1419.0,297.5 1421.0,295.9 1423.0,298.1 1425.0,296.4 1427.0,297.8 1429.0,296.6 1431.0,298.5 1433.0,295.9 1435.0,296.7 1437.0,297.3 1439.0,294.7 1441.0,295.4 1443.0,296.0 1445.0,296.6 1447.0,295.8 1449.0,295.8 1451.0,294.7 1453.0,294.5 1455.0,296.0 1457.0,295.7 1459.0,290.1 1461.0,285.6 1463.0,284.8 1465.0,284.3 1467.0,283.5 1469.0,282.9 1471.0,285.3 1473.0,283.9 1475.0,285.1 1477.0,282.3 1479.0,284.8 1481.0,284.2 1483.0,285.9 1485.0,285.9 1487.0,286.5 1489.0,290.5 1491.0,293.1 1493.0,298.3 1495.0,299.6 1497.0,303.6 1499.0,302.5 1501.0,304.4 1503.0,303.6 1505.0,305.9 1507.0,304.8 1509.0,306.1 1511.0,306.1 1513.0,306.0 1515.0,306.5 1517.0,306.4 1519.0,306.4 1521.0,307.4 1523.0,310.3 1525.0,314.2 1527.0,315.4 1529.0,315.3 1531.0,316.7 1533.0,315.2 1535.0,316.0 1537.0,316.3 1539.0,315.8 1541.0,316.2 1543.0,316.7 1545.0,317.7 1547.0,317.1 1549.0,317.3 1551.0,318.3 1553.0,317.4 1555.0,317.9 1557.0,319.7 1559.0,318.6 1561.0,319.7 1563.0,318.5 1565.0,318.9 1567.0,320.3 1569.0,320.4 1571.0,320.1 1573.0,320.5 1575.0,319.0 1577.0,317.7 1579.0,316.0 1581.0,313.0 1583.0,312.4 1585.0,308.3 1587.0,305.4 1589.0,303.8 1591.0,301.9 1593.0,298.4 1595.0,294.6 1597.0,293.8 1599.0,292.8 1601.0,287.7 1603.0,289.6 1605.0,287.2 1607.0,289.2 1609.0,288.6 1611.0,291.2 1613.0,290.0 1615.0,291.9 1617.0,294.7 1619.0,295.7 1621.0,294.9 1623.0,294.1 1625.0,295.7 1627.0,296.4 1629.0,297.3 1631.0,297.1 1633.0,298.0 1635.0,298.7 1637.0,300.3 1639.0,299.2 1641.0,299.7 1643.0,302.3 1645.0,300.3 1647.0,302.1 1649.0,303.7 1651.0,305.6 1653.0,304.8 1655.0,305.9 1657.0,307.7 1659.0,309.6 1661.0,308.5 1663.0,310.8 1665.0,311.7 1667.0,310.2 1669.0,311.6 1671.0,313.0 1673.0,314.3 1675.0,313.8 1677.0,316.4 1679.0,314.8 1681.0,315.8 1683.0,316.5 1685.0,317.0 1687.0,315.4 1689.0,315.9 1691.0,316.0 1693.0,315.6 1695.0,317.1 1697.0,317.5 1699.0,318.1 1701.0,317.1 1703.0,316.5 1705.0,317.3 1707.0,316.9 1709.0,318.3 1711.0,318.0 1713.0,318.3 1715.0,318.8 1717.0,316.9 1719.0,317.7 1721.0,318.9 1723.0,319.1 1725.0,318.8 L1725.0,326.2 1723.0,326.7 1721.0,327.0 1719.0,327.6 1717.0,328.2 1715.0,326.2 1713.0,326.6 1711.0,326.6 1709.0,327.5 1707.0,326.0 1705.0,326.4 1703.0,326.4 1701.0,327.1 1699.0,326.3 1697.0,327.2 1695.0,327.2 1693.0,326.2 1691.0,327.6 1689.0,326.1 1687.0,325.8 1685.0,326.1 1683.0,326.4 1681.0,324.9 1679.0,323.5 1677.0,325.5 1675.0,324.5 1673.0,323.8 1671.0,323.4 1669.0,323.9 1667.0,321.6 1665.0,321.2 1663.0,320.9 1661.0,318.9 1659.0,317.7 1657.0,316.3 1655.0,315.8 1653.0,315.2 1651.0,314.5 1649.0,313.7 1647.0,312.8 1645.0,312.0 1643.0,311.6 1641.0,310.9 1639.0,309.9 1637.0,310.7 1635.0,309.8 1633.0,308.8 1631.0,309.4 1629.0,307.7 1627.0,310.4 1625.0,307.4 1623.0,308.2 1621.0,305.4 1619.0,305.6 1617.0,305.8 1615.0,305.4 1613.0,303.4 1611.0,304.0 1609.0,302.8 1607.0,302.7 1605.0,302.4 1603.0,301.3 1601.0,302.9 1599.0,305.8 1597.0,306.1 1595.0,307.8 1593.0,309.5 1591.0,312.0 1589.0,314.3 1587.0,315.4 1585.0,319.8 1583.0,320.5 1581.0,322.1 1579.0,323.7 1577.0,325.8 1575.0,327.5 1573.0,327.4 1571.0,326.9 1569.0,327.2 1567.0,327.3 1565.0,329.0 1563.0,326.7 1561.0,327.5 1559.0,326.1 1557.0,327.2 1555.0,327.1 1553.0,325.8 1551.0,326.6 1549.0,325.4 1547.0,325.3 1545.0,325.3 1543.0,324.7 1541.0,326.7 1539.0,324.0 1537.0,324.6 1535.0,324.2 1533.0,323.4 1531.0,322.9 1529.0,323.2 1527.0,322.9 1525.0,322.0 1523.0,319.5 1521.0,316.4 1519.0,317.6 1517.0,316.1 1515.0,315.6 1513.0,315.8 1511.0,315.9 1509.0,315.2 1507.0,315.9 1505.0,315.6 1503.0,313.0 1501.0,315.0 1499.0,314.6 1497.0,312.2 1495.0,311.1 1493.0,309.1 1491.0,306.9 1489.0,302.9 1487.0,301.6 1485.0,302.0 1483.0,298.5 1481.0,300.7 1479.0,301.2 1477.0,298.2 1475.0,298.5 1473.0,298.9 1471.0,298.4 1469.0,299.7 1467.0,301.2 1465.0,299.8 1463.0,300.3 1461.0,298.6 1459.0,304.8 1457.0,310.3 1455.0,311.7 1453.0,310.2 1451.0,308.6 1449.0,308.3 1447.0,310.0 1445.0,308.7 1443.0,308.8 1441.0,307.9 1439.0,309.2 1437.0,308.5 1435.0,309.6 1433.0,308.5 1431.0,308.2 1429.0,306.7 1427.0,308.3 1425.0,307.9 1423.0,307.6 1421.0,306.0 1419.0,306.2 1417.0,308.6 1415.0,306.9 1413.0,309.2 1411.0,308.5 1409.0,307.9 1407.0,308.6 1405.0,308.1 1403.0,308.9 1401.0,307.8 1399.0,309.4 1397.0,309.0 1395.0,310.3 1393.0,310.6 1391.0,310.9 1389.0,307.9 1387.0,310.5 1385.0,309.6 1383.0,308.9 1381.0,310.8 1379.0,311.3 1377.0,310.0 1375.0,310.6 1373.0,309.4 1371.0,310.8 1369.0,307.6 1367.0,308.3 1365.0,309.3 1363.0,311.9 1361.0,309.6 1359.0,310.4 1357.0,309.7 1355.0,308.1 1353.0,309.7 1351.0,309.2 1349.0,310.2 1347.0,308.6 1345.0,307.0 1343.0,308.6 1341.0,309.9 1339.0,309.1 1337.0,308.2 1335.0,310.3 1333.0,307.5 1331.0,309.0 1329.0,307.6 1327.0,309.2 1325.0,308.8 1323.0,306.5 1321.0,311.3 1319.0,309.1 1317.0,306.3 1315.0,306.8 1313.0,306.8 1311.0,307.8 1309.0,308.8 1307.0,308.7 1305.0,308.0 1303.0,308.6 1301.0,310.0 1299.0,306.6 1297.0,307.7 1295.0,306.9 1293.0,309.1 1291.0,309.2 1289.0,305.9 1287.0,307.4 1285.0,307.3 1283.0,308.3 1281.0,307.1 1279.0,305.1 1277.0,303.6 1275.0,304.4 1273.0,306.0 1271.0,305.7 1269.0,306.9 1267.0,305.0 1265.0,308.5 1263.0,305.7 1261.0,305.9 1259.0,304.1 1257.0,303.9 1255.0,302.8 1253.0,304.5 1251.0,304.1 1249.0,301.7 1247.0,305.8 1245.0,305.7 1243.0,303.1 1241.0,305.3 1239.0,305.9 1237.0,302.3 1235.0,304.0 1233.0,302.3 1231.0,303.4 1229.0,304.1 1227.0,301.7 1225.0,300.9 1223.0,300.0 1221.0,299.3 1219.0,298.2 1217.0,298.2 1215.0,299.0 1213.0,298.0 1211.0,298.5 1209.0,297.0 1207.0,298.9 1205.0,296.3Z" fill="#f00"/>
<path d="M1205.0,290.2 1205.2,294.6 1205.4,300.5 1205.6,291.1 1205.8,290.2 1206.0,290.2 1206.2,280.0 1206.4,281.4 1206.6,291.7 1206.8,291.9 1207.0,295.4 1207.2,291.0 1207.4,287.8 1207.6,287.7 1207.8,292.6 1208.0,295.4 1208.2,288.8 1208.4,288.0 1208.6,289.2 1208.8,290.6 1209.0,292.0 1209.2,295.8 1209.4,296.2 1209.6,289.7 1209.8,287.7 1210.0,286.6 1210.2,293.0 1210.4,298.7 1210.6,301.0 1210.8,303.4 1211.0,298.9 1211.2,298.3 1211.4,286.0 1211.6,290.9 1211.8,281.7 1212.0,284.2 1212.2,287.4 1212.4,295.9 1212.6,296.0 1212.8,286.9 1213.0,292.7 1213.2,295.6 1213.4,296.8 1213.6,289.8 1213.8,292.5 1214.0,297.3 1214.2,292.3 1214.4,294.2 1214.6,297.0 1214.8,288.6 1215.0,276.3 1215.2,282.9 1215.4,283.6 1215.6,286.8 1215.8,287.5 1215.9,242.0 1216.0,292.4 1216.2,289.7 1216.4,282.2 1216.6,291.3 1216.8,290.7 1217.0,296.5 1217.2,288.5 1217.4,292.2 1217.6,305.7 1217.8,295.2 1218.0,283.1 1218.2,295.6 1218.4,288.7 1218.6,292.6 1218.8,292.4 1219.0,292.9 1219.2,288.0 1219.4,276.5 1219.6,281.3 1219.8,279.1 1220.0,290.7 1220.2,292.2 1220.4,293.0 1220.6,291.2 1220.8,284.7 1221.0,285.1 1221.2,282.2 1221.4,288.3 1221.6,281.3 1221.8,288.5 1222.0,294.2 1222.2,299.8 1222.4,291.6 1222.6,286.4 1222.8,280.6 1223.0,278.7 1223.2,282.5 1223.4,287.3 1223.6,288.2 1223.8,297.9 1224.0,295.4 1224.2,300.3 1224.4,298.5 1224.6,292.9 1224.8,292.2 1225.0,282.6 1225.2,295.7 1225.4,296.1 1225.6,297.4 1225.8,290.3 1226.0,291.9 1226.2,291.8 1226.4,296.4 1226.6,297.3 1226.8,297.3 1227.0,298.9 1227.2,295.2 1227.4,289.3 1227.6,289.3 1227.8,293.4 1228.0,304.0 1228.2,304.4 1228.4,302.4 1228.6,297.3 1228.8,298.5 1229.0,292.6 1229.2,288.0 1229.4,287.7 1229.6,294.8 1229.8,292.4 1230.0,289.8 1230.2,295.0 1230.4,296.3 1230.6,303.7 1230.8,293.6 1231.0,286.5 1231.2,292.7 1231.4,295.1 1231.6,299.7 1231.8,307.1 1232.0,296.2 1232.2,289.1 1232.4,287.6 1232.6,287.9 1232.8,289.4 1233.0,300.9 1233.2,303.5 1233.4,300.6 1233.6,291.2 1233.8,292.6 1234.0,293.7 1234.2,294.3 1234.4,295.8 1234.6,302.0 1234.8,306.3 1235.0,301.0 1235.2,297.0 1235.4,298.9 1235.6,297.1 1235.8,309.6 1236.0,309.6 1236.2,303.0 1236.4,299.7 1236.6,286.0 1236.8,296.5 1237.0,297.6 1237.2,300.4 1237.4,300.3 1237.6,286.4 1237.8,290.1 1238.0,301.2 1238.2,305.3 1238.4,298.5 1238.6,298.2 1238.8,295.9 1239.0,293.7 1239.2,294.4 1239.4,303.3 1239.6,296.6 1239.8,297.2 1240.0,296.3 1240.2,300.7 1240.4,303.9 1240.6,306.3 1240.8,305.0 1241.0,287.8 1241.2,293.3 1241.4,283.1 1241.6,285.9 1241.8,293.3 1242.0,301.0 1242.2,304.0 1242.4,303.7 1242.6,304.7 1242.8,300.3 1243.0,296.7 1243.2,294.6 1243.4,298.1 1243.6,295.2 1243.8,293.9 1244.0,292.0 1244.2,296.9 1244.4,302.3 1244.6,299.9 1244.8,298.7 1245.0,298.4 1245.2,304.8 1245.4,305.3 1245.6,296.6 1245.8,294.8 1246.0,291.6 1246.2,291.1 1246.4,289.9 1246.6,303.1 1246.8,303.5 1247.0,303.5 1247.2,298.7 1247.4,296.1 1247.6,292.5 1247.8,293.1 1248.0,299.0 1248.2,304.2 1248.4,305.8 1248.6,299.0 1248.8,296.0 1249.0,295.9 1249.2,302.0 1249.4,300.3 1249.6,288.5 1249.8,287.6 1250.0,286.9 1250.2,296.5 1250.4,299.4 1250.6,292.4 1250.8,297.9 1251.0,297.8 1251.2,299.0 1251.4,294.7 1251.6,290.1 1251.8,298.0 1252.0,299.5 1252.2,297.7 1252.4,300.7 1252.6,300.4 1252.8,302.0 1253.0,297.3 1253.2,296.1 1253.4,300.4 1253.6,296.1 1253.8,296.8 1254.0,302.2 1254.2,300.5 1254.4,303.1 1254.6,307.4 1254.8,300.6 1255.0,297.2 1255.2,299.8 1255.4,301.1 1255.6,302.7 1255.8,309.7 1256.0,306.2 1256.2,300.8 1256.4,306.4 1256.6,307.6 1256.8,300.7 1257.0,304.8 1257.2,302.0 1257.4,305.0 1257.6,305.9 1257.8,302.1 1258.0,301.4 1258.2,306.9 1258.4,302.2 1258.6,299.4 1258.8,292.2 1259.0,290.9 1259.2,284.1 1259.4,298.5 1259.6,310.6 1259.8,309.5 1260.0,310.6 1260.2,307.3 1260.4,305.6 1260.6,303.7 1260.8,292.0 1261.0,300.1 1261.2,302.5 1261.4,296.5 1261.6,299.1 1261.8,300.1 1262.0,304.3 1262.2,297.0 1262.4,297.3 1262.6,296.7 1262.8,298.5 1263.0,301.0 1263.2,295.9 1263.4,297.0 1263.6,295.7 1263.8,289.4 1264.0,291.8 1264.2,297.0 1264.4,299.2 1264.6,305.8 1264.8,296.5 1265.0,300.0 1265.2,295.7 1265.4,301.5 1265.6,298.4 1265.8,297.9 1266.0,299.7 1266.2,295.0 1266.4,305.9 1266.6,306.2 1266.8,303.1 1267.0,300.7 1267.2,295.7 1267.4,288.6 1267.6,295.0 1267.8,293.0 1268.0,292.9 1268.2,284.6 1268.4,300.0 1268.6,301.3 1268.8,299.3 1269.0,298.7 1269.2,310.8 1269.4,307.8 1269.6,299.8 1269.8,304.6 1270.0,295.7 1270.2,288.9 1270.4,298.3 1270.6,302.1 1270.8,296.9 1271.0,303.3 1271.2,301.4 1271.4,306.6 1271.6,298.6 1271.8,290.7 1272.0,290.2 1272.2,303.4 1272.4,293.1 1272.6,295.2 1272.8,295.4 1273.0,287.5 1273.2,294.5 1273.4,298.1 1273.6,297.6 1273.8,298.5 1274.0,295.9 1274.2,303.2 1274.4,304.9 1274.6,303.8 1274.8,303.4 1275.0,294.8 1275.2,299.3 1275.4,298.1 1275.6,305.7 1275.8,299.8 1276.0,302.3 1276.2,297.1 1276.4,294.4 1276.6,298.4 1276.8,297.7 1277.0,303.9 1277.2,304.4 1277.4,308.8 1277.6,304.3 1277.8,300.7 1278.0,298.7 1278.2,298.5 1278.4,303.0 1278.6,299.6 1278.8,305.9 1279.0,311.4 1279.2,311.4 1279.4,299.6 1279.6,303.6 1279.8,294.3 1280.0,295.2 1280.2,299.1 1280.4,300.3 1280.6,296.0 1280.8,291.9 1281.0,296.2 1281.2,299.7 1281.4,305.7 1281.6,304.0 1281.8,306.0 1282.0,300.0 1282.2,302.2 1282.4,302.1 1282.6,296.4 1282.8,302.0 1283.0,301.0 1283.2,291.4 1283.4,297.4 1283.6,298.1 1283.8,301.0 1284.0,303.1 1284.2,300.9 1284.4,296.5 1284.6,294.3 1284.8,300.5 1285.0,301.2 1285.2,300.2 1285.4,300.0 1285.6,294.1 1285.8,299.8 1286.0,299.7 1286.2,308.5 1286.4,304.4 1286.6,303.3 1286.8,294.7 1287.0,293.4 1287.2,295.0 1287.4,292.8 1287.6,293.5 1287.8,293.5 1288.0,292.0 1288.2,293.0 1288.4,290.0 1288.6,290.2 1288.8,295.7 1289.0,292.4 1289.2,284.4 1289.4,294.1 1289.6,293.2 1289.8,298.2 1290.0,299.8 1290.2,300.6 1290.4,298.9 1290.6,289.6 1290.8,291.4 1291.0,285.7 1291.2,292.7 1291.4,294.2 1291.6,299.1 1291.8,301.1 1292.0,313.2 1292.2,303.5 1292.4,305.7 1292.6,303.4 1292.8,306.3 1293.0,304.3 1293.2,301.2 1293.4,302.2 1293.6,303.9 1293.8,304.7 1294.0,299.6 1294.2,299.6 1294.4,298.9 1294.6,292.0 1294.8,296.0 1295.0,297.3 1295.2,301.6 1295.4,300.6 1295.6,296.4 1295.8,295.6 1296.0,299.5 1296.2,300.0 1296.4,293.4 1296.6,299.7 1296.8,305.0 1297.0,302.2 1297.2,311.1 1297.4,313.9 1297.6,309.1 1297.8,309.8 1298.0,311.7 1298.2,297.4 1298.4,301.8 1298.6,303.1 1298.8,297.5 1299.0,296.8 1299.2,294.9 1299.4,303.3 1299.6,299.1 1299.8,294.6 1300.0,304.0 1300.2,296.1 1300.4,303.1 1300.6,308.0 1300.8,306.3 1301.0,305.0 1301.2,311.1 1301.4,314.0 1301.6,301.3 1301.8,298.7 1302.0,293.1 1302.2,298.1 1302.4,306.6 1302.6,305.4 1302.8,302.6 1303.0,300.4 1303.2,314.0 1303.4,311.4 1303.6,308.3 1303.8,309.6 1304.0,306.1 1304.2,296.4 1304.4,302.9 1304.6,299.8 1304.8,309.7 1305.0,306.6 1305.2,307.2 1305.4,302.6 1305.6,299.0 1305.8,296.9 1306.0,306.1 1306.2,306.1 1306.4,307.4 1306.6,312.1 1306.8,314.0 1307.0,310.7 1307.2,303.2 1307.4,307.5 1307.6,301.9 1307.8,314.0 1308.0,313.9 1308.2,310.1 1308.4,300.8 1308.6,307.0 1308.8,307.0 1309.0,299.5 1309.2,301.7 1309.4,300.9 1309.6,305.1 1309.8,305.0 1310.0,311.3 1310.2,309.5 1310.4,314.0 1310.6,310.9 1310.8,295.4 1311.0,304.4 1311.2,310.9 1311.4,304.0 1311.6,305.4 1311.8,306.4 1312.0,308.0 1312.2,314.0 1312.4,307.4 1312.6,313.0 1312.8,314.0 1313.0,314.0 1313.2,314.0 1313.4,305.8 1313.6,302.7 1313.8,293.3 1314.0,304.8 1314.2,309.4 1314.4,309.5 1314.6,307.3 1314.8,305.8 1315.0,308.0 1315.2,308.4 1315.4,302.1 1315.6,302.5 1315.8,305.6 1316.0,305.1 1316.2,308.5 1316.4,303.4 1316.6,312.1 1316.8,306.4 1317.0,303.1 1317.2,297.2 1317.4,300.5 1317.6,308.6 1317.8,310.6 1318.0,309.3 1318.2,304.1 1318.4,306.6 1318.6,307.1 1318.8,294.7 1319.0,295.7 1319.2,293.3 1319.4,310.6 1319.6,307.6 1319.8,304.2 1320.0,308.3 1320.2,300.7 1320.4,299.3 1320.6,300.9 1320.8,303.5 1321.0,306.2 1321.2,304.6 1321.4,302.0 1321.6,298.3 1321.8,304.0 1322.0,298.1 1322.2,298.7 1322.4,296.4 1322.6,305.1 1322.8,314.0 1323.0,306.3 1323.2,311.6 1323.4,304.6 1323.6,298.9 1323.8,302.9 1324.0,304.7 1324.2,300.6 1324.4,299.9 1324.6,304.9 1324.8,305.1 1325.0,300.4 1325.2,294.9 1325.4,296.5 1325.6,295.7 1325.8,309.5 1326.0,304.2 1326.2,310.7 1326.4,309.0 1326.6,303.2 1326.8,301.6 1327.0,292.6 1327.2,301.6 1327.4,298.2 1327.6,292.5 1327.8,293.8 1328.0,301.8 1328.2,304.3 1328.4,306.5 1328.6,304.3 1328.8,310.4 1329.0,307.0 1329.2,303.6 1329.4,311.8 1329.6,305.4 1329.8,303.7 1330.0,305.4 1330.2,306.8 1330.4,306.9 1330.6,304.7 1330.8,299.2 1331.0,305.1 1331.2,306.8 1331.4,303.1 1331.6,309.7 1331.7,318.0 1331.8,308.4 1332.0,301.2 1332.2,310.3 1332.4,314.0 1332.6,313.6 1332.8,309.6 1333.0,304.6 1333.2,311.6 1333.4,305.9 1333.6,313.3 1333.8,306.3 1334.0,311.4 1334.2,308.7 1334.4,307.5 1334.6,310.5 1334.8,314.1 1335.0,310.4 1335.2,307.8 1335.4,300.7 1335.6,295.6 1335.8,295.0 1336.0,296.8 1336.2,301.2 1336.4,301.8 1336.6,303.6 1336.8,311.1 1337.0,314.2 1337.2,311.3 1337.4,301.8 1337.6,298.8 1337.8,309.4 1338.0,302.7 1338.2,305.1 1338.4,305.2 1338.6,304.0 1338.8,305.4 1339.0,301.3 1339.2,310.7 1339.4,313.6 1339.6,304.5 1339.8,308.0 1340.0,305.8 1340.2,302.8 1340.4,302.9 1340.6,305.7 1340.8,300.8 1341.0,300.5 1341.2,308.6 1341.4,295.2 1341.6,299.3 1341.8,301.7 1342.0,295.7 1342.2,298.1 1342.4,298.8 1342.6,303.9 1342.8,301.9 1343.0,314.4 1343.2,314.4 1343.4,310.5 1343.6,306.2 1343.8,302.6 1344.0,304.7 1344.2,306.5 1344.4,306.7 1344.6,300.2 1344.8,292.1 1345.0,305.1 1345.2,305.4 1345.4,300.7 1345.6,288.0 1345.8,291.4 1346.0,295.7 1346.2,295.9 1346.4,298.1 1346.6,301.1 1346.8,303.7 1347.0,303.1 1347.2,302.6 1347.4,300.6 1347.6,306.4 1347.8,310.8 1348.0,304.5 1348.2,306.5 1348.4,314.0 1348.6,302.3 1348.8,300.1 1349.0,295.8 1349.2,296.9 1349.4,293.8 1349.6,293.9 1349.8,292.9 1350.0,303.8 1350.2,295.4 1350.4,294.6 1350.6,298.3 1350.8,299.0 1351.0,301.7 1351.2,300.4 1351.4,302.2 1351.6,307.0 1351.8,312.6 1352.0,309.4 1352.2,302.5 1352.4,302.3 1352.6,303.9 1352.8,302.8 1353.0,304.0 1353.2,303.0 1353.4,298.0 1353.6,296.0 1353.8,295.2 1354.0,300.3 1354.2,298.6 1354.4,301.4 1354.6,298.1 1354.8,297.1 1355.0,306.2 1355.2,300.7 1355.4,297.1 1355.6,289.4 1355.8,294.1 1356.0,299.1 1356.2,299.2 1356.4,301.9 1356.6,303.8 1356.8,302.5 1357.0,295.3 1357.2,293.9 1357.4,303.9 1357.6,306.9 1357.8,299.6 1358.0,294.5 1358.2,294.8 1358.4,295.2 1358.6,300.5 1358.8,303.6 1359.0,308.7 1359.2,295.4 1359.4,299.5 1359.6,304.0 1359.8,301.7 1360.0,294.8 1360.2,299.9 1360.4,298.3 1360.6,288.2 1360.8,297.9 1361.0,293.8 1361.2,298.1 1361.4,299.2 1361.6,296.4 1361.8,295.1 1362.0,294.8 1362.2,300.0 1362.4,296.8 1362.6,294.5 1362.8,298.8 1363.0,296.3 1363.2,300.0 1363.4,305.9 1363.6,303.4 1363.8,301.3 1364.0,296.7 1364.2,293.2 1364.4,298.1 1364.6,296.5 1364.8,303.7 1365.0,304.8 1365.2,293.7 1365.4,291.0 1365.6,297.0 1365.8,300.9 1366.0,307.8 1366.2,307.7 1366.4,305.1 1366.6,299.8 1366.8,299.7 1367.0,308.0 1367.2,297.7 1367.4,307.1 1367.6,309.3 1367.8,306.7 1368.0,302.4 1368.2,299.8 1368.4,303.7 1368.6,298.0 1368.8,293.4 1369.0,292.4 1369.2,294.1 1369.4,292.4 1369.6,292.4 1369.8,288.7 1370.0,296.2 1370.2,307.2 1370.4,300.9 1370.6,301.4 1370.8,302.3 1371.0,301.6 1371.2,295.4 1371.4,292.6 1371.6,296.2 1371.8,293.6 1372.0,296.8 1372.2,301.0 1372.4,307.0 1372.6,307.0 1372.8,297.1 1373.0,295.2 1373.2,303.2 1373.4,299.0 1373.6,304.1 1373.8,300.3 1374.0,294.4 1374.2,293.8 1374.4,298.1 1374.6,295.8 1374.8,300.5 1375.0,300.8 1375.2,302.2 1375.4,301.7 1375.6,298.8 1375.8,297.8 1376.0,304.0 1376.2,297.2 1376.4,295.1 1376.6,304.1 1376.8,295.8 1377.0,296.2 1377.2,296.5 1377.4,300.6 1377.6,303.1 1377.8,298.7 1378.0,297.0 1378.2,295.6 1378.4,289.0 1378.6,294.8 1378.8,294.9 1379.0,298.5 1379.2,302.8 1379.4,300.9 1379.6,300.0 1379.8,302.7 1380.0,292.6 1380.2,296.4 1380.4,289.7 1380.6,299.8 1380.8,293.3 1381.0,290.9 1381.2,289.2 1381.4,290.8 1381.6,293.7 1381.8,302.7 1382.0,302.8 1382.2,301.3 1382.4,306.3 1382.6,300.4 1382.8,303.4 1383.0,300.8 1383.2,304.5 1383.4,304.3 1383.6,301.0 1383.8,299.2 1384.0,299.3 1384.2,298.3 1384.4,299.5 1384.6,296.0 1384.8,295.5 1385.0,298.6 1385.2,292.7 1385.4,291.9 1385.6,301.6 1385.8,302.6 1386.0,296.2 1386.2,296.3 1386.4,296.5 1386.6,307.7 1386.8,302.9 1387.0,306.9 1387.2,306.6 1387.4,298.4 1387.6,303.8 1387.8,303.6 1388.0,301.5 1388.2,296.3 1388.4,293.7 1388.6,293.5 1388.8,289.6 1389.0,297.9 1389.2,308.5 1389.4,304.4 1389.6,303.4 1389.8,301.1 1390.0,296.8 1390.2,303.5 1390.4,303.5 1390.6,300.5 1390.8,301.4 1391.0,301.3 1391.2,302.5 1391.4,294.5 1391.6,290.6 1391.8,292.8 1392.0,298.0 1392.2,305.1 1392.4,304.6 1392.6,297.0 1392.8,295.3 1393.0,304.6 1393.2,301.5 1393.4,307.0 1393.6,303.6 1393.8,302.6 1394.0,304.9 1394.2,302.4 1394.4,300.0 1394.6,308.5 1394.8,303.6 1395.0,296.4 1395.2,293.1 1395.4,300.8 1395.6,303.4 1395.8,309.1 1396.0,305.7 1396.2,306.0 1396.4,310.4 1396.6,308.5 1396.8,296.3 1397.0,311.4 1397.2,307.8 1397.4,300.2 1397.6,299.3 1397.8,301.3 1398.0,296.6 1398.2,294.6 1398.4,298.3 1398.6,293.0 1398.8,298.5 1399.0,304.5 1399.2,310.5 1399.4,310.2 1399.6,312.2 1399.8,308.1 1400.0,313.5 1400.2,307.1 1400.4,309.3 1400.6,311.5 1400.8,310.3 1401.0,302.4 1401.2,303.6 1401.4,298.8 1401.6,307.6 1401.8,310.3 1402.0,304.8 1402.2,310.5 1402.4,302.0 1402.6,301.3 1402.8,299.3 1403.0,298.1 1403.2,296.8 1403.4,305.7 1403.6,303.6 1403.8,303.1 1404.0,305.3 1404.2,301.8 1404.4,302.9 1404.6,309.1 1404.8,306.1 1405.0,302.2 1405.2,294.1 1405.4,296.9 1405.6,304.0 1405.8,294.1 1406.0,294.5 1406.2,302.0 1406.4,299.7 1406.6,302.9 1406.8,301.5 1407.0,300.1 1407.2,302.2 1407.4,303.9 1407.6,301.4 1407.8,301.2 1408.0,305.8 1408.2,302.8 1408.4,301.5 1408.6,303.4 1408.8,304.7 1409.0,309.0 1409.2,308.8 1409.4,305.1 1409.6,305.8 1409.8,309.3 1410.0,309.8 1410.2,306.3 1410.4,301.0 1410.6,303.8 1410.7,323.0 1410.8,304.2 1411.0,299.6 1411.2,305.9 1411.4,308.4 1411.6,302.9 1411.8,308.0 1412.0,307.3 1412.2,307.6 1412.4,307.6 1412.6,306.8 1412.8,309.2 1413.0,311.9 1413.2,311.2 1413.4,304.3 1413.6,301.9 1413.8,301.3 1414.0,299.3 1414.2,301.0 1414.4,297.7 1414.6,298.5 1414.8,295.8 1415.0,296.4 1415.2,302.8 1415.4,305.3 1415.6,307.1 1415.8,306.7 1416.0,304.7 1416.2,309.4 1416.4,303.4 1416.6,307.8 1416.8,301.9 1417.0,304.0 1417.2,298.9 1417.4,301.8 1417.6,304.5 1417.8,299.4 1418.0,300.1 1418.2,301.7 1418.4,295.5 1418.6,303.3 1418.8,302.5 1419.0,302.0 1419.2,309.4 1419.4,335.0 1419.4,304.3 1419.6,306.3 1419.8,307.5 1420.0,306.8 1420.2,299.2 1420.4,300.2 1420.6,303.1 1420.8,302.1 1421.0,305.7 1421.2,304.5 1421.4,310.2 1421.6,307.6 1421.8,309.0 1422.0,308.2 1422.2,306.8 1422.4,309.0 1422.6,310.6 1422.8,306.2 1423.0,307.0 1423.2,309.2 1423.4,306.0 1423.6,305.6 1423.8,309.5 1424.0,311.4 1424.2,304.1 1424.4,307.4 1424.6,304.3 1424.8,310.5 1425.0,307.5 1425.2,307.4 1425.4,308.4 1425.6,305.3 1425.8,306.4 1426.0,306.0 1426.2,309.6 1426.4,310.0 1426.6,311.7 1426.8,309.2 1427.0,307.2 1427.2,307.6 1427.4,306.5 1427.6,306.7 1427.8,308.0 1428.0,308.3 1428.2,308.5 1428.4,305.9 1428.6,302.9 1428.8,303.3 1429.0,306.7 1429.2,307.4 1429.4,310.8 1429.6,309.6 1429.8,306.5 1430.0,306.6 1430.2,311.0 1430.4,308.9 1430.6,309.3 1430.8,310.8 1431.0,312.1 1431.2,312.2 1431.4,312.2 1431.6,312.2 1431.8,306.8 1432.0,305.9 1432.2,307.1 1432.4,305.0 1432.6,305.0 1432.8,304.8 1433.0,308.7 1433.2,305.6 1433.4,302.9 1433.6,301.8 1433.8,302.7 1434.0,303.5 1434.2,302.5 1434.4,309.3 1434.6,307.9 1434.8,310.4 1435.0,309.3 1435.2,308.5 1435.4,308.0 1435.6,304.0 1435.8,312.2 1436.0,307.9 1436.2,308.8 1436.4,312.7 1436.6,306.9 1436.8,306.4 1437.0,308.9 1437.2,312.8 1437.4,310.7 1437.6,306.6 1437.8,305.6 1438.0,304.6 1438.2,312.9 1438.4,312.9 1438.6,312.9 1438.8,313.0 1439.0,311.7 1439.2,308.5 1439.4,309.8 1439.6,311.9 1439.8,313.1 1440.0,311.5 1440.2,312.7 1440.4,313.1 1440.6,310.6 1440.8,313.2 1441.0,310.1 1441.2,306.9 1441.4,305.8 1441.6,312.3 1441.8,301.4 1442.0,304.5 1442.2,305.5 1442.4,298.9 1442.6,299.0 1442.8,296.1 1443.0,300.1 1443.2,303.8 1443.4,305.0 1443.6,313.5 1443.8,312.7 1444.0,311.2 1444.2,308.3 1444.4,304.4 1444.6,304.6 1444.8,301.2 1445.0,305.7 1445.2,306.7 1445.4,303.4 1445.6,305.2 1445.8,305.3 1446.0,307.8 1446.2,310.6 1446.4,307.1 1446.6,308.8 1446.8,301.8 1447.0,305.2 1447.2,311.3 1447.4,302.7 1447.6,295.2 1447.8,298.8 1448.0,309.1 1448.2,304.7 1448.4,309.9 1448.6,301.3 1448.8,298.5 1449.0,297.6 1449.2,303.3 1449.4,295.3 1449.6,296.9 1449.8,297.5 1450.0,306.8 1450.2,307.1 1450.4,308.2 1450.6,302.8 1450.8,304.3 1451.0,301.9 1451.2,297.2 1451.4,298.9 1451.6,305.0 1451.8,302.4 1452.0,305.9 1452.2,302.4 1452.4,298.2 1452.6,293.8 1452.8,296.7 1453.0,303.7 1453.2,303.2 1453.4,306.0 1453.6,305.0 1453.8,299.5 1454.0,298.5 1454.2,299.6 1454.4,294.7 1454.6,290.4 1454.8,294.1 1455.0,302.6 1455.2,301.1 1455.4,306.7 1455.6,301.3 1455.8,296.8 1456.0,299.1 1456.2,295.2 1456.4,297.2 1456.6,298.8 1456.8,305.5 1457.0,305.3 1457.2,306.9 1457.4,305.7 1457.6,304.2 1457.8,303.0 1458.0,298.1 1458.2,297.2 1458.4,292.3 1458.6,297.7 1458.8,297.0 1459.0,301.3 1459.2,299.4 1459.4,300.3 1459.6,285.7 1459.8,281.2 1460.0,280.7 1460.2,285.5 1460.4,289.3 1460.6,295.2 1460.8,290.4 1461.0,285.2 1461.2,289.1 1461.4,280.7 1461.6,280.9 1461.8,288.2 1462.0,289.8 1462.2,284.2 1462.4,279.1 1462.5,324.0 1462.6,279.1 1462.8,286.9 1463.0,288.2 1463.2,279.2 1463.4,284.1 1463.6,291.5 1463.8,292.0 1464.0,289.6 1464.2,283.7 1464.4,290.0 1464.6,292.6 1464.8,287.2 1465.0,283.4 1465.2,283.9 1465.4,279.3 1465.6,283.4 1465.8,285.7 1466.0,283.7 1466.2,284.0 1466.4,289.3 1466.6,289.9 1466.8,283.6 1467.0,284.5 1467.2,283.4 1467.4,286.6 1467.6,291.6 1467.8,289.0 1468.0,291.7 1468.2,288.4 1468.4,295.6 1468.6,299.6 1468.8,298.0 1469.0,299.4 1469.2,302.2 1469.4,304.4 1469.6,292.9 1469.8,293.8 1470.0,289.6 1470.2,299.6 1470.4,299.6 1470.6,298.9 1470.8,302.0 1471.0,298.1 1471.2,283.3 1471.4,290.3 1471.6,294.5 1471.8,298.9 1472.0,295.8 1472.2,293.9 1472.4,286.5 1472.6,288.5 1472.8,298.3 1473.0,295.3 1473.2,298.1 1473.4,294.5 1473.6,288.8 1473.8,289.2 1474.0,291.1 1474.2,298.8 1474.4,290.9 1474.6,292.4 1474.8,287.4 1475.0,290.1 1475.2,283.7 1475.4,296.2 1475.6,287.1 1475.8,289.8 1476.0,290.6 1476.2,286.4 1476.4,286.9 1476.6,291.2 1476.8,289.3 1477.0,287.6 1477.2,291.2 1477.4,292.8 1477.6,289.4 1477.8,286.4 1478.0,282.1 1478.2,283.9 1478.4,284.7 1478.6,291.0 1478.8,298.7 1479.0,294.2 1479.2,299.5 1479.4,295.2 1479.6,298.0 1479.8,285.1 1480.0,285.6 1480.2,294.4 1480.4,293.6 1480.6,292.8 1480.8,297.3 1481.0,298.3 1481.2,301.6 1481.4,300.4 1481.6,294.1 1481.8,296.0 1482.0,295.2 1482.2,298.5 1482.4,297.9 1482.6,290.2 1482.8,292.6 1483.0,287.8 1483.2,290.9 1483.4,288.6 1483.6,297.6 1483.8,298.0 1484.0,293.5 1484.2,285.0 1484.4,292.5 1484.6,289.9 1484.8,290.1 1485.0,290.2 1485.2,293.9 1485.4,296.8 1485.6,297.5 1485.8,299.3 1486.0,293.1 1486.2,298.6 1486.4,300.1 1486.6,294.8 1486.8,288.3 1487.0,283.5 1487.2,292.0 1487.4,301.0 1487.6,299.7 1487.8,299.2 1488.0,295.2 1488.2,290.5 1488.4,296.8 1488.6,293.7 1488.8,290.7 1489.0,287.1 1489.2,297.4 1489.4,303.8 1489.6,293.0 1489.8,293.5 1490.0,296.7 1490.2,299.7 1490.4,295.2 1490.6,294.5 1490.8,295.6 1491.0,298.2 1491.2,297.6 1491.4,306.6 1491.6,301.7 1491.8,293.9 1492.0,296.4 1492.2,300.8 1492.4,302.7 1492.6,307.2 1492.8,301.6 1493.0,304.7 1493.2,307.4 1493.4,298.1 1493.6,298.3 1493.8,300.2 1494.0,334.0 1494.0,302.0 1494.2,299.8 1494.4,299.8 1494.6,309.2 1494.8,307.8 1495.0,307.1 1495.2,303.0 1495.4,307.4 1495.6,305.9 1495.8,310.1 1496.0,305.9 1496.2,304.6 1496.4,299.5 1496.6,302.5 1496.8,300.3 1497.0,299.9 1497.2,304.5 1497.4,308.4 1497.6,303.8 1497.8,309.8 1498.0,305.0 1498.2,304.5 1498.4,306.1 1498.6,308.5 1498.8,309.7 1499.0,315.0 1499.2,309.4 1499.4,313.3 1499.6,314.8 1499.8,310.6 1500.0,312.6 1500.2,315.5 1500.4,315.5 1500.6,317.4 1500.8,317.1 1501.0,311.3 1501.2,312.3 1501.4,306.4 1501.6,306.9 1501.8,308.7 1502.0,310.8 1502.2,307.1 1502.4,305.0 1502.6,306.3 1502.8,307.7 1503.0,307.1 1503.2,310.6 1503.4,306.7 1503.6,307.5 1503.8,302.0 1504.0,309.0 1504.2,307.8 1504.4,306.2 1504.6,306.2 1504.8,307.7 1505.0,306.8 1505.2,310.4 1505.4,304.6 1505.6,317.3 1505.8,312.0 1506.0,304.6 1506.2,313.3 1506.4,306.3 1506.6,305.1 1506.8,305.8 1507.0,302.0 1507.2,304.2 1507.4,307.3 1507.6,312.8 1507.8,307.8 1508.0,313.4 1508.2,312.6 1508.4,306.7 1508.6,307.3 1508.8,311.6 1509.0,306.0 1509.2,307.8 1509.4,309.9 1509.6,307.1 1509.8,305.6 1510.0,305.4 1510.2,315.3 1510.4,319.2 1510.6,314.0 1510.8,315.0 1511.0,319.2 1511.2,319.3 1511.4,313.7 1511.6,312.8 1511.8,311.2 1512.0,310.7 1512.2,314.4 1512.4,311.8 1512.6,313.7 1512.8,310.0 1513.0,308.6 1513.2,306.1 1513.4,307.7 1513.6,314.5 1513.8,319.0 1514.0,316.2 1514.2,312.1 1514.4,315.9 1514.6,310.0 1514.8,313.9 1515.0,309.3 1515.2,311.8 1515.4,309.0 1515.6,311.5 1515.8,310.6 1516.0,312.2 1516.2,312.6 1516.4,311.0 1516.6,309.4 1516.8,309.0 1517.0,311.9 1517.2,307.6 1517.4,309.1 1517.6,314.1 1517.8,315.7 1518.0,315.4 1518.2,312.7 1518.4,311.2 1518.6,310.7 1518.8,304.6 1519.0,308.0 1519.2,307.3 1519.4,311.2 1519.6,313.1 1519.8,307.2 1520.0,308.5 1520.2,311.3 1520.4,312.0 1520.6,308.1 1520.8,313.5 1521.0,316.3 1521.2,308.3 1521.4,308.0 1521.6,312.7 1521.8,314.4 1522.0,310.0 1522.2,314.6 1522.4,321.4 1522.6,315.9 1522.8,314.0 1523.0,313.5 1523.2,315.8 1523.4,316.6 1523.6,318.1 1523.8,314.0 1524.0,316.9 1524.2,313.7 1524.4,317.2 1524.6,319.2 1524.8,321.7 1525.0,319.8 1525.2,316.0 1525.4,317.3 1525.6,318.5 1525.8,314.6 1526.0,316.6 1526.2,314.1 1526.4,315.6 1526.6,320.4 1526.8,315.2 1527.0,315.5 1527.2,319.1 1527.4,321.4 1527.6,319.9 1527.8,319.1 1528.0,325.3 1528.2,326.1 1528.4,323.3 1528.6,320.6 1528.8,324.1 1529.0,322.9 1529.2,324.0 1529.4,325.3 1529.6,323.0 1529.8,323.2 1530.0,322.5 1530.2,322.9 1530.4,323.0 1530.6,319.7 1530.8,318.0 1531.0,324.5 1531.2,318.3 1531.4,317.1 1531.6,320.0 1531.8,320.8 1532.0,323.8 1532.2,322.6 1532.4,322.7 1532.6,319.2 1532.8,319.6 1533.0,318.7 1533.2,316.4 1533.4,314.8 1533.6,315.3 1533.8,313.7 1534.0,317.4 1534.2,320.6 1534.4,320.3 1534.6,318.5 1534.8,323.2 1535.0,324.5 1535.2,322.0 1535.4,319.6 1535.6,318.6 1535.8,322.4 1536.0,326.2 1536.2,325.6 1536.4,323.2 1536.6,320.8 1536.8,320.4 1537.0,323.9 1537.2,323.6 1537.4,322.5 1537.6,323.1 1537.8,317.9 1538.0,322.1 1538.2,317.5 1538.4,319.4 1538.6,324.2 1538.8,324.2 1539.0,324.6 1539.2,324.4 1539.4,326.4 1539.6,325.5 1539.8,321.9 1540.0,320.6 1540.2,322.6 1540.4,325.8 1540.6,325.0 1540.8,324.1 1541.0,327.4 1541.2,327.0 1541.4,327.7 1541.6,327.5 1541.8,325.1 1542.0,321.2 1542.2,320.2 1542.4,323.5 1542.6,321.7 1542.8,319.8 1543.0,320.0 1543.2,320.4 1543.4,320.5 1543.6,320.1 1543.8,323.2 1544.0,318.5 1544.2,320.9 1544.4,321.0 1544.6,318.5 1544.8,320.7 1545.0,320.2 1545.2,324.3 1545.4,318.3 1545.6,322.5 1545.8,321.2 1546.0,322.8 1546.2,324.3 1546.4,321.4 1546.6,318.7 1546.8,320.1 1547.0,322.5 1547.2,319.1 1547.4,320.2 1547.6,317.9 1547.8,318.5 1548.0,319.0 1548.2,322.8 1548.4,321.8 1548.6,321.7 1548.8,318.5 1549.0,318.7 1549.2,323.4 1549.4,321.9 1549.6,324.8 1549.8,326.8 1550.0,327.7 1550.2,328.6 1550.4,328.6 1550.6,323.4 1550.8,323.9 1551.0,322.3 1551.2,324.6 1551.4,324.5 1551.6,320.2 1551.8,322.0 1552.0,324.3 1552.2,321.4 1552.4,326.0 1552.6,323.0 1552.8,321.7 1553.0,319.2 1553.2,322.8 1553.4,316.7 1553.6,322.1 1553.8,324.9 1554.0,324.9 1554.2,321.3 1554.4,322.2 1554.6,319.4 1554.8,320.9 1555.0,324.3 1555.2,321.8 1555.4,323.8 1555.6,322.5 1555.8,325.4 1556.0,325.2 1556.2,322.1 1556.4,323.9 1556.6,324.9 1556.8,324.3 1557.0,323.0 1557.2,326.5 1557.4,320.4 1557.6,324.8 1557.8,320.8 1558.0,323.3 1558.2,322.4 1558.4,323.8 1558.6,323.9 1558.8,323.2 1559.0,318.1 1559.2,319.6 1559.4,320.5 1559.6,325.4 1559.8,329.3 1560.0,329.6 1560.2,326.6 1560.4,324.0 1560.6,323.2 1560.8,321.2 1561.0,323.9 1561.2,324.5 1561.4,324.8 1561.6,322.9 1561.8,320.8 1562.0,320.4 1562.2,321.3 1562.4,323.9 1562.6,322.1 1562.8,324.7 1563.0,325.1 1563.2,322.7 1563.4,323.1 1563.6,320.5 1563.8,316.7 1564.0,319.5 1564.2,320.3 1564.4,321.5 1564.6,323.6 1564.8,321.5 1565.0,321.7 1565.2,321.0 1565.4,318.2 1565.6,323.0 1565.8,322.4 1566.0,322.2 1566.2,322.2 1566.4,320.3 1566.6,323.5 1566.8,321.8 1567.0,322.7 1567.2,319.8 1567.4,318.6 1567.6,317.2 1567.8,319.9 1568.0,323.6 1568.2,318.0 1568.4,323.3 1568.6,325.3 1568.8,326.0 1569.0,327.6 1569.2,327.0 1569.4,327.0 1569.6,329.4 1569.8,328.4 1570.0,323.3 1570.2,320.9 1570.4,325.2 1570.6,328.8 1570.8,319.5 1571.0,320.7 1571.2,326.3 1571.4,327.7 1571.6,325.4 1571.8,328.7 1572.0,323.8 1572.2,320.8 1572.4,319.4 1572.6,322.0 1572.8,326.4 1573.0,325.4 1573.2,324.6 1573.4,328.8 1573.6,324.2 1573.8,326.3 1574.0,324.3 1574.2,324.5 1574.4,323.7 1574.6,324.7 1574.8,320.5 1575.0,319.5 1575.2,321.1 1575.4,320.9 1575.6,321.1 1575.8,319.4 1576.0,320.1 1576.2,323.9 1576.4,323.0 1576.6,322.1 1576.8,316.1 1577.0,319.0 1577.2,320.6 1577.4,316.4 1577.6,316.2 1577.8,314.0 1578.0,315.1 1578.2,320.4 1578.4,320.5 1578.6,318.3 1578.8,318.8 1579.0,321.4 1579.2,311.4 1579.4,311.2 1579.6,314.6 1579.8,317.0 1580.0,317.7 1580.2,317.4 1580.4,316.4 1580.6,316.3 1580.8,314.2 1581.0,319.0 1581.2,321.5 1581.4,316.5 1581.6,321.7 1581.8,317.3 1582.0,317.1 1582.2,321.9 1582.4,319.7 1582.6,318.7 1582.8,316.8 1583.0,314.3 1583.2,306.8 1583.4,308.2 1583.6,315.1 1583.8,315.2 1584.0,309.9 1584.2,310.5 1584.4,308.2 1584.6,311.6 1584.8,306.7 1585.0,305.5 1585.2,306.8 1585.4,304.7 1585.6,306.6 1585.8,308.5 1586.0,312.0 1586.2,308.0 1586.4,307.1 1586.6,306.8 1586.8,301.7 1587.0,308.1 1587.2,308.9 1587.4,302.7 1587.6,305.0 1587.8,309.2 1588.0,305.0 1588.2,303.5 1588.4,301.4 1588.6,301.8 1588.8,307.8 1589.0,307.0 1589.2,304.6 1589.4,303.2 1589.6,300.7 1589.8,300.2 1590.0,301.3 1590.2,304.9 1590.4,301.6 1590.6,304.6 1590.8,308.8 1591.0,306.2 1591.2,308.6 1591.4,312.1 1591.6,301.7 1591.8,299.6 1592.0,299.7 1592.2,299.7 1592.4,301.9 1592.6,302.3 1592.8,305.3 1593.0,303.0 1593.2,301.8 1593.4,302.3 1593.6,296.1 1593.8,298.2 1594.0,297.2 1594.2,299.4 1594.4,293.0 1594.6,291.6 1594.8,291.7 1595.0,291.1 1595.2,290.9 1595.4,295.2 1595.6,296.6 1595.8,294.5 1596.0,295.0 1596.2,304.7 1596.4,297.6 1596.6,289.2 1596.8,292.0 1597.0,297.9 1597.2,295.5 1597.4,289.0 1597.6,287.8 1597.8,287.5 1598.0,298.9 1598.2,299.1 1598.4,287.0 1598.6,286.9 1598.8,286.6 1599.0,289.1 1599.2,302.4 1599.4,296.8 1599.6,291.4 1599.8,296.5 1600.0,286.3 1600.2,285.5 1600.4,284.2 1600.6,285.2 1600.8,293.6 1601.0,293.2 1601.2,296.0 1601.4,292.3 1601.6,283.1 1601.8,283.9 1602.0,287.7 1602.2,289.4 1602.4,289.8 1602.6,289.3 1602.8,294.4 1603.0,294.4 1603.2,293.6 1603.4,290.5 1603.6,293.8 1603.8,294.9 1604.0,300.2 1604.2,292.8 1604.4,283.2 1604.6,289.1 1604.8,288.1 1605.0,296.8 1605.2,295.9 1605.4,294.6 1605.6,300.9 1605.8,300.6 1606.0,297.0 1606.2,297.9 1606.4,300.1 1606.6,292.3 1606.8,287.1 1607.0,288.0 1607.2,293.2 1607.4,298.2 1607.6,294.7 1607.8,295.1 1608.0,290.7 1608.2,290.7 1608.4,292.9 1608.6,292.1 1608.8,294.0 1609.0,294.1 1609.2,302.9 1609.4,298.6 1609.6,303.8 1609.8,300.5 1610.0,303.9 1610.2,294.0 1610.4,295.0 1610.6,297.8 1610.8,293.1 1611.0,297.4 1611.2,297.8 1611.4,298.4 1611.6,299.7 1611.8,296.6 1612.0,300.3 1612.2,301.8 1612.4,302.0 1612.6,295.1 1612.8,305.3 1613.0,305.1 1613.2,301.6 1613.4,303.1 1613.6,306.2 1613.8,302.5 1614.0,300.3 1614.2,297.3 1614.4,301.2 1614.6,306.4 1614.8,304.8 1615.0,307.5 1615.2,296.9 1615.4,294.3 1615.6,300.5 1615.8,299.2 1616.0,303.1 1616.2,300.7 1616.4,299.3 1616.6,293.5 1616.8,298.9 1617.0,299.4 1617.2,301.1 1617.4,300.4 1617.6,304.3 1617.8,304.7 1618.0,304.5 1618.2,301.5 1618.4,299.8 1618.6,302.6 1618.8,305.2 1619.0,299.3 1619.2,291.2 1619.4,292.9 1619.6,297.8 1619.8,302.2 1620.0,297.2 1620.2,296.9 1620.4,299.7 1620.6,297.6 1620.8,297.4 1621.0,294.8 1621.2,300.7 1621.4,298.0 1621.6,298.0 1621.8,301.9 1622.0,303.9 1622.2,305.8 1622.4,305.7 1622.6,306.5 1622.8,305.7 1623.0,306.9 1623.2,305.6 1623.4,301.6 1623.6,300.0 1623.8,299.5 1624.0,297.7 1624.2,299.6 1624.4,302.8 1624.6,303.4 1624.8,310.9 1625.0,306.6 1625.2,303.5 1625.4,302.3 1625.6,302.3 1625.8,302.3 1626.0,302.4 1626.2,301.4 1626.4,298.3 1626.6,303.4 1626.8,299.1 1627.0,299.8 1627.2,296.0 1627.4,297.3 1627.6,299.1 1627.8,299.3 1628.0,303.4 1628.2,303.6 1628.4,307.6 1628.6,305.4 1628.8,300.0 1629.0,295.0 1629.2,295.6 1629.4,302.5 1629.6,304.8 1629.8,304.8 1630.0,308.7 1630.2,297.2 1630.4,300.6 1630.6,298.9 1630.8,299.5 1631.0,302.1 1631.2,294.4 1631.4,301.7 1631.6,303.5 1631.8,299.9 1632.0,295.8 1632.2,294.7 1632.4,302.2 1632.6,297.3 1632.8,301.2 1633.0,300.7 1633.2,297.9 1633.4,301.5 1633.6,302.6 1633.8,306.8 1634.0,310.0 1634.2,305.0 1634.4,307.2 1634.6,300.8 1634.8,299.5 1635.0,295.6 1635.2,303.1 1635.4,299.0 1635.6,303.2 1635.8,303.4 1636.0,302.6 1636.2,302.1 1636.4,300.5 1636.6,300.3 1636.8,298.1 1637.0,299.1 1637.2,296.4 1637.4,296.4 1637.6,296.5 1637.8,296.6 1638.0,300.6 1638.2,307.3 1638.4,307.9 1638.6,311.1 1638.8,304.6 1639.0,310.1 1639.2,305.7 1639.4,307.1 1639.6,304.5 1639.8,307.4 1640.0,308.1 1640.2,313.0 1640.4,310.8 1640.6,307.0 1640.8,307.9 1641.0,313.4 1641.2,308.8 1641.4,309.9 1641.6,308.4 1641.8,303.4 1642.0,304.6 1642.2,306.8 1642.4,304.1 1642.6,306.3 1642.8,307.4 1643.0,307.3 1643.2,304.3 1643.4,307.0 1643.6,310.7 1643.8,304.8 1644.0,303.3 1644.2,306.4 1644.4,308.1 1644.6,315.3 1644.8,307.7 1645.0,308.8 1645.2,312.1 1645.4,314.1 1645.6,315.5 1645.8,310.8 1646.0,310.5 1646.2,309.2 1646.4,310.3 1646.6,306.3 1646.8,309.3 1647.0,311.5 1647.2,310.5 1647.4,312.8 1647.6,309.2 1647.8,307.5 1648.0,307.2 1648.2,314.6 1648.4,310.9 1648.6,314.7 1648.8,315.0 1649.0,311.5 1649.2,310.8 1649.4,313.8 1649.6,309.2 1649.8,303.1 1650.0,304.5 1650.2,303.5 1650.4,307.5 1650.6,310.5 1650.8,309.7 1651.0,311.9 1651.2,315.8 1651.4,317.6 1651.6,317.9 1651.8,316.4 1652.0,317.1 1652.2,315.9 1652.4,310.2 1652.6,315.6 1652.8,311.8 1653.0,310.5 1653.2,307.1 1653.4,315.1 1653.6,311.1 1653.8,314.8 1654.0,315.4 1654.2,316.6 1654.4,312.0 1654.6,313.8 1654.8,311.8 1655.0,312.8 1655.2,313.2 1655.4,312.4 1655.6,310.0 1655.8,312.8 1656.0,311.6 1656.2,312.0 1656.4,314.0 1656.6,314.1 1656.8,310.6 1657.0,314.9 1657.2,313.8 1657.4,312.1 1657.6,312.9 1657.8,318.9 1658.0,318.2 1658.2,318.8 1658.4,312.7 1658.6,320.3 1658.8,315.0 1659.0,317.7 1659.2,314.3 1659.4,316.0 1659.6,317.9 1659.8,316.7 1660.0,320.2 1660.2,319.5 1660.4,319.1 1660.6,322.9 1660.8,317.9 1661.0,318.3 1661.2,320.2 1661.4,310.9 1661.6,318.8 1661.8,315.2 1662.0,320.0 1662.2,312.1 1662.4,312.4 1662.6,315.0 1662.8,318.7 1663.0,321.3 1663.2,321.2 1663.4,319.9 1663.6,317.6 1663.8,320.9 1664.0,319.0 1664.2,318.9 1664.4,318.3 1664.6,323.3 1664.8,321.0 1665.0,244.6 1665.0,314.5 1665.2,318.7 1665.4,321.0 1665.6,322.0 1665.8,320.8 1666.0,325.8 1666.2,319.5 1666.4,319.0 1666.6,320.6 1666.8,320.4 1667.0,317.5 1667.2,319.3 1667.4,319.7 1667.6,320.7 1667.8,324.2 1668.0,323.2 1668.2,320.5 1668.4,319.2 1668.6,315.8 1668.8,316.1 1669.0,315.5 1669.2,316.5 1669.4,317.5 1669.6,319.2 1669.8,320.6 1670.0,317.5 1670.2,316.5 1670.4,313.9 1670.6,310.3 1670.8,311.5 1671.0,313.8 1671.2,318.1 1671.4,321.0 1671.6,324.5 1671.8,324.1 1672.0,322.3 1672.2,321.7 1672.4,320.5 1672.6,319.6 1672.8,321.1 1673.0,320.8 1673.2,324.9 1673.4,318.9 1673.6,321.2 1673.8,316.4 1674.0,317.2 1674.2,315.6 1674.4,285.0 1674.4,325.2 1674.6,313.3 1674.8,313.2 1675.0,317.1 1675.2,317.6 1675.4,317.9 1675.6,318.6 1675.8,323.4 1676.0,320.7 1676.2,321.3 1676.4,323.2 1676.6,319.0 1676.8,317.0 1677.0,321.7 1677.2,324.2 1677.4,319.6 1677.6,319.9 1677.8,318.2 1678.0,322.0 1678.2,320.5 1678.4,318.4 1678.6,321.0 1678.8,325.1 1679.0,323.4 1679.2,323.9 1679.4,323.7 1679.6,320.7 1679.8,319.7 1680.0,316.5 1680.2,317.9 1680.4,320.1 1680.6,319.0 1680.8,323.1 1681.0,325.3 1681.2,319.6 1681.4,322.3 1681.6,319.6 1681.8,323.9 1682.0,325.8 1682.2,320.4 1682.4,320.8 1682.6,316.3 1682.8,311.9 1683.0,318.9 1683.2,320.6 1683.4,316.9 1683.6,315.7 1683.8,320.0 1684.0,321.4 1684.2,318.5 1684.4,319.2 1684.6,319.6 1684.8,318.1 1685.0,318.0 1685.2,315.5 1685.4,316.7 1685.6,318.4 1685.8,326.1 1686.0,321.4 1686.2,314.3 1686.4,322.7 1686.6,317.4 1686.8,319.5 1687.0,316.6 1687.2,316.2 1687.4,318.2 1687.6,322.2 1687.8,320.3 1688.0,321.6 1688.2,318.1 1688.4,319.1 1688.6,321.0 1688.8,321.7 1689.0,321.8 1689.2,319.8 1689.4,320.0 1689.6,321.2 1689.8,317.9 1690.0,315.2 1690.2,316.8 1690.4,315.0 1690.6,321.3 1690.8,318.4 1691.0,319.6 1691.2,318.8 1691.4,320.4 1691.6,323.4 1691.8,319.4 1692.0,322.6 1692.2,326.1 1692.4,319.0 1692.6,317.5 1692.8,321.8 1693.0,323.9 1693.2,320.7 1693.4,322.7 1693.6,321.5 1693.8,318.7 1694.0,323.7 1694.2,321.6 1694.4,319.7 1694.6,319.2 1694.8,321.5 1695.0,316.9 1695.2,315.6 1695.4,320.6 1695.6,320.5 1695.8,327.5 1696.0,324.8 1696.2,325.8 1696.4,324.1 1696.6,324.9 1696.8,321.7 1697.0,318.5 1697.2,325.8 1697.4,328.7 1697.6,328.1 1697.8,325.3 1698.0,321.8 1698.2,317.6 1698.4,321.9 1698.6,324.4 1698.8,324.3 1699.0,324.6 1699.2,322.1 1699.4,328.0 1699.6,323.3 1699.8,325.7 1700.0,326.7 1700.2,327.4 1700.4,328.1 1700.6,323.1 1700.8,326.2 1701.0,325.1 1701.2,323.2 1701.4,324.2 1701.6,316.7 1701.8,323.0 1702.0,324.5 1702.2,322.3 1702.4,325.5 1702.6,323.2 1702.8,325.0 1703.0,322.8 1703.2,319.3 1703.4,320.6 1703.6,325.9 1703.8,326.8 1704.0,330.0 1704.2,327.9 1704.4,325.6 1704.6,328.8 1704.8,327.1 1705.0,323.9 1705.2,323.6 1705.4,326.4 1705.6,323.1 1705.8,326.1 1706.0,325.6 1706.2,320.6 1706.4,323.9 1706.6,324.2 1706.8,323.1 1707.0,323.2 1707.2,326.8 1707.4,328.6 1707.6,323.6 1707.8,326.8 1708.0,324.4 1708.2,325.3 1708.4,323.9 1708.6,319.8 1708.8,322.0 1709.0,322.5 1709.2,324.0 1709.4,325.1 1709.6,322.8 1709.8,323.1 1710.0,325.3 1710.2,324.5 1710.4,317.9 1710.6,314.6 1710.8,327.6 1711.0,330.0 1711.2,326.9 1711.4,323.3 1711.6,322.9 1711.8,327.4 1712.0,328.0 1712.2,321.2 1712.4,322.7 1712.6,321.8 1712.8,327.0 1713.0,322.0 1713.2,321.6 1713.4,320.4 1713.6,320.2 1713.8,320.5 1714.0,321.7 1714.2,322.9 1714.4,322.3 1714.6,324.2 1714.8,323.6 1715.0,317.7 1715.2,320.8 1715.4,318.2 1715.6,323.9 1715.8,324.7 1716.0,322.2 1716.2,320.4 1716.4,317.4 1716.6,321.7 1716.8,318.8 1717.0,322.4 1717.2,323.9 1717.4,325.1 1717.6,328.4 1717.8,328.3 1718.0,324.2 1718.2,327.0 1718.4,324.9 1718.6,325.1 1718.8,318.0 1719.0,318.6 1719.2,322.1 1719.4,324.4 1719.6,328.3 1719.8,322.5 1720.0,324.5 1720.2,324.9 1720.4,324.1 1720.6,322.3 1720.8,320.7 1721.0,324.9 1721.2,326.4 1721.4,328.1 1721.6,325.5 1721.8,322.2 1722.0,324.2 1722.2,327.1 1722.4,327.4 1722.6,328.1 1722.8,328.5 1723.0,327.4 1723.2,328.9 1723.4,328.0 1723.6,324.7 1723.8,318.2 1724.0,317.0 1724.2,321.6 1724.4,322.7 1724.6,323.4 1724.8,323.8" fill="none" stroke="#f00" stroke-width="2.0" stroke-linejoin="round"/>
</g>
<path d="M1205,455 L1205,110 L1800,110" fill="none" stroke="#000" stroke-width="1.8" stroke-linecap="square"/>
<path d="M1205,455 L1800,455" fill="none" stroke="#000" stroke-width="1.8" stroke-linecap="square"/>
<path d="M1800,110 L1800,455" fill="none" stroke="#f00" stroke-width="1.8" stroke-linecap="square"/>
<path d="M1205.00,411.50h5.50M1205.00,368.50h5.50M1205.00,325.50h5.50M1205.00,282.50h5.50M1205.00,239.50h5.50M1205.00,196.50h5.50M1205.00,153.50h5.50" stroke="#000" stroke-width="1.15" fill="none" shape-rendering="crispEdges"/>
<path d="M1244.50,455.00v-5.50M1318.50,455.00v-5.50M1393.50,455.00v-5.50M1467.50,455.00v-5.50M1542.50,455.00v-5.50M1616.50,455.00v-5.50M1690.50,455.00v-5.50M1765.50,455.00v-5.50" stroke="#000" stroke-width="1.15" fill="none" shape-rendering="crispEdges"/>
<path d="M1800.00,386.50h-5.50M1800.00,316.50h-5.50M1800.00,248.50h-5.50M1800.00,178.50h-5.50" stroke="#f00" stroke-width="1.15" fill="none" shape-rendering="crispEdges"/>
<text x="1158.93" y="462.20" font-size="20.66" fill="#000" textLength="40.94" lengthAdjust="spacingAndGlyphs">−20</text>
<text x="1159.31" y="419.07" font-size="20.66" fill="#000" textLength="40.94" lengthAdjust="spacingAndGlyphs">−15</text>
<text x="1158.93" y="375.95" font-size="20.66" fill="#000" textLength="40.94" lengthAdjust="spacingAndGlyphs">−10</text>
<text x="1171.63" y="332.82" font-size="20.66" fill="#000" textLength="28.60" lengthAdjust="spacingAndGlyphs">−5</text>
<text x="1187.54" y="289.70" font-size="20.66" fill="#000" textLength="12.34" lengthAdjust="spacingAndGlyphs">0</text>
<text x="1187.93" y="246.57" font-size="20.66" fill="#000" textLength="12.34" lengthAdjust="spacingAndGlyphs">5</text>
<text x="1175.22" y="203.45" font-size="20.66" fill="#000" textLength="24.69" lengthAdjust="spacingAndGlyphs">10</text>
<text x="1175.61" y="160.32" font-size="20.66" fill="#000" textLength="24.69" lengthAdjust="spacingAndGlyphs">15</text>
<text x="1175.22" y="117.20" font-size="20.66" fill="#000" textLength="24.69" lengthAdjust="spacingAndGlyphs">20</text>
<text x="1805.74" y="462.20" font-size="20.66" fill="#f00" textLength="12.34" lengthAdjust="spacingAndGlyphs">0</text>
<text x="1805.64" y="393.20" font-size="20.66" fill="#f00" textLength="37.03" lengthAdjust="spacingAndGlyphs">200</text>
<text x="1806.03" y="324.20" font-size="20.66" fill="#f00" textLength="37.03" lengthAdjust="spacingAndGlyphs">400</text>
<text x="1805.64" y="255.20" font-size="20.66" fill="#f00" textLength="37.03" lengthAdjust="spacingAndGlyphs">600</text>
<text x="1805.74" y="186.20" font-size="20.66" fill="#f00" textLength="37.03" lengthAdjust="spacingAndGlyphs">800</text>
<text x="1804.87" y="117.20" font-size="20.66" fill="#f00" textLength="49.37" lengthAdjust="spacingAndGlyphs">1000</text>
<text transform="translate(1116.00,320.60) rotate(-90)" x="-2.28" y="0" font-size="25.56" fill="#000" textLength="78.28" lengthAdjust="spacingAndGlyphs">IMF Bz</text>
<text transform="translate(1145.60,312.00) rotate(-90)" x="-2.04" y="0" font-size="25.56" fill="#000" textLength="63.86" lengthAdjust="spacingAndGlyphs">( nT )</text>
<text transform="translate(1878.40,352.60) rotate(-90)" x="-1.56" y="0" font-size="25.56" fill="#f00" textLength="140.74" lengthAdjust="spacingAndGlyphs">SW Velocity</text>
<text transform="translate(1912.50,336.70) rotate(-90)" x="-2.04" y="0" font-size="25.56" fill="#f00" textLength="9.36" lengthAdjust="spacingAndGlyphs">(</text>
<text transform="translate(1912.50,320.70) rotate(-90)" x="-2.16" y="0" font-size="25.56" fill="#f00" textLength="37.28" lengthAdjust="spacingAndGlyphs">km</text>
<text transform="translate(1912.50,281.50) rotate(-90)" x="-1.32" y="0" font-size="25.56" fill="#f00" textLength="12.50" lengthAdjust="spacingAndGlyphs">s</text>
<text transform="translate(1902.40,266.90) rotate(-90)" x="-1.76" y="0" font-size="17.89" fill="#f00" textLength="24.77" lengthAdjust="spacingAndGlyphs">−1</text>
<text transform="translate(1912.50,235.60) rotate(-90)" x="-1.92" y="0" font-size="25.56" fill="#f00" textLength="9.36" lengthAdjust="spacingAndGlyphs">)</text>
<g clip-path="url(#clipMR)">
<path d="M1205,512.4 H1800" stroke="#000" stroke-width="2" stroke-dasharray="2 3.45"/>
<path d="M1205.7,520.5 1206.7,520.3 1207.7,519.7 1208.7,519.0 1209.7,518.9 1210.7,518.3 1211.7,518.5 1212.7,518.8 1213.7,517.5 1214.7,517.1 1215.7,517.3 1215.9,517.2 1216.7,517.6 1217.7,517.7 1218.7,518.9 1219.7,519.9 1220.7,519.5 1221.7,520.6 1222.7,520.6 1223.7,521.6 1224.7,522.0 1225.5,523.2 1225.7,522.9 1226.7,524.1 1227.7,524.6 1228.7,524.9 1229.7,524.2 1230.7,525.7 1231.7,526.5 1232.7,527.1 1233.7,526.7 1234.7,527.8 1235.0,527.6 1235.7,527.4 1236.7,527.9 1237.7,526.5 1238.7,526.4 1239.7,526.4 1240.7,525.3 1241.4,525.2 1241.7,525.2 1242.7,524.7 1243.7,523.6 1244.7,523.8 1245.7,524.1 1246.7,522.2 1247.7,522.9 1248.7,522.1 1249.7,521.3 1250.7,522.2 1250.9,521.5 1251.7,520.6 1252.7,521.3 1253.7,521.6 1254.7,521.2 1255.7,521.7 1256.7,521.4 1257.7,521.8 1258.7,522.2 1259.7,521.2 1260.7,521.7 1261.7,521.4 1262.7,521.8 1263.6,521.2 1263.7,521.4 1264.7,520.7 1265.7,520.3 1266.7,519.5 1267.7,517.3 1268.7,516.7 1269.7,516.4 1270.7,514.2 1271.7,514.0 1272.7,513.3 1273.7,513.1 1274.7,511.8 1275.7,510.4 1276.4,509.8 1276.7,509.7 1277.7,510.2 1278.7,508.8 1279.7,508.5 1280.7,508.4 1281.7,507.8 1282.7,507.3 1283.7,506.5 1284.7,506.6 1285.7,506.0 1285.9,506.8 1286.7,506.9 1287.7,507.0 1288.7,507.8 1289.7,507.8 1290.7,509.0 1291.7,508.9 1292.7,509.7 1293.7,509.2 1294.7,510.5 1295.4,509.8 1295.7,509.7 1296.7,510.9 1297.7,510.9 1298.7,511.7 1299.7,513.0 1300.7,511.8 1301.7,512.2 1301.8,512.6 1302.7,513.6 1303.7,514.1 1304.7,515.0 1305.7,516.3 1306.7,517.1 1307.7,517.2 1308.7,518.6 1309.7,519.5 1309.8,519.0 1310.7,519.5 1311.7,518.8 1312.7,519.5 1313.7,519.0 1314.7,518.7 1315.7,518.2 1316.7,518.3 1317.7,517.2 1318.7,517.4 1319.7,518.0 1320.7,516.6 1320.9,518.1 1321.7,516.9 1322.7,518.4 1323.7,517.8 1324.7,518.8 1325.7,518.7 1326.7,518.0 1327.3,519.5 1327.7,519.8 1328.7,519.5 1329.7,519.9 1330.7,520.4 1331.7,520.4 1332.7,521.9 1333.6,521.5 1333.7,521.7 1334.7,520.7 1335.7,520.2 1336.7,519.3 1337.7,520.0 1338.7,518.8 1339.7,518.7 1340.7,517.7 1341.7,516.8 1342.7,516.4 1343.7,515.7 1344.7,515.4 1345.7,514.6 1346.3,514.3 1346.7,513.6 1347.7,513.5 1348.7,514.4 1349.7,512.9 1350.7,512.3 1351.7,512.7 1352.7,512.9 1353.7,511.1 1354.7,511.3 1355.7,510.8 1356.7,509.8 1357.7,510.7 1358.7,510.0 1359.7,509.7 1360.7,508.9 1361.7,509.1 1362.2,508.5 1362.7,508.9 1363.7,508.9 1364.7,509.3 1365.7,511.0 1366.7,510.6 1367.7,511.4 1368.7,511.7 1369.7,512.0 1370.7,512.4 1371.7,513.5 1371.8,513.0 1372.7,513.3 1373.7,513.6 1374.7,514.4 1375.7,514.3 1376.7,514.4 1377.7,514.1 1378.7,513.9 1379.7,515.2 1380.7,515.4 1381.3,515.0 1381.7,515.3 1382.7,515.3 1383.7,515.2 1384.7,515.1 1385.7,514.3 1386.7,515.1 1387.7,513.6 1388.7,514.5 1389.7,514.2 1390.7,514.3 1390.9,514.8 1391.7,514.3 1392.7,512.6 1393.7,512.0 1394.7,512.9 1395.7,511.6 1396.7,511.8 1397.2,512.0 1397.7,510.8 1398.7,510.5 1399.7,511.7 1400.7,511.5 1401.7,511.4 1402.7,511.5 1403.7,511.0 1404.7,510.6 1405.7,511.3 1406.7,510.9 1407.7,510.5 1408.7,511.6 1409.7,511.2 1410.0,511.5 1410.7,510.4 1411.7,510.1 1412.7,509.5 1413.7,509.1 1414.7,509.2 1415.7,508.3 1416.3,508.6 1416.7,508.8 1417.7,510.3 1418.7,509.1 1419.7,510.9 1420.7,511.0 1421.7,511.6 1422.7,511.5 1422.7,512.0 1423.7,512.1 1424.7,511.2 1425.7,510.8 1426.7,510.1 1427.7,510.4 1428.7,509.3 1429.7,507.7 1430.7,508.0 1431.7,506.9 1432.7,505.7 1433.7,506.6 1433.8,507.5 1434.7,507.3 1435.7,507.1 1436.7,507.7 1437.7,509.2 1438.7,509.2 1439.7,509.7 1440.7,510.1 1441.7,510.6 1441.8,511.0 1442.7,510.9 1443.7,510.7 1444.7,510.1 1445.7,510.9 1446.7,510.3 1447.7,511.2 1448.7,510.0 1449.7,510.6 1450.7,510.6 1451.7,510.0 1452.7,511.5 1453.7,511.4 1454.5,510.4 1454.7,511.1 1455.7,511.6 1456.7,510.7 1457.7,512.7 1458.7,513.1 1459.7,513.8 1460.7,513.8 1461.7,514.8 1462.7,515.5 1463.7,516.8 1464.1,516.5 1464.7,515.7 1465.7,515.6 1466.7,513.7 1467.7,512.9 1468.7,511.2 1469.7,512.0 1470.4,511.1 1470.7,511.2 1471.7,511.5 1472.7,511.6 1473.7,512.1 1474.7,512.2 1475.7,512.7 1476.7,513.2 1476.8,513.9 1477.7,514.3 1478.7,514.9 1479.7,515.5 1480.7,516.4 1481.7,518.4 1482.7,518.8 1483.1,518.9 1483.7,518.4 1484.7,517.6 1485.7,517.6 1486.7,517.5 1487.7,516.4 1488.7,516.0 1489.7,515.5 1490.7,515.2 1491.7,513.8 1492.7,514.0 1492.7,513.7 1493.7,514.8 1494.7,514.2 1495.7,515.1 1496.7,515.8 1497.7,515.1 1498.7,515.2 1499.5,515.8 1499.7,515.6 1500.7,514.6 1501.7,514.8 1502.7,515.0 1503.7,513.4 1504.7,512.8 1505.7,511.9 1506.7,512.0 1507.7,510.7 1508.7,510.3 1509.1,511.3 1509.7,510.4 1510.7,511.9 1511.7,512.5 1512.7,512.3 1513.7,512.9 1514.7,514.0 1515.7,513.4 1516.7,513.6 1517.7,513.7 1518.6,514.8 1518.7,515.6 1519.7,515.8 1520.7,515.4 1521.7,515.9 1522.7,516.6 1523.7,517.6 1524.7,517.8 1525.7,518.6 1526.6,519.0 1526.7,518.7 1527.7,518.5 1528.7,518.4 1529.7,518.0 1530.7,518.0 1531.7,518.4 1532.7,517.4 1533.7,516.9 1534.7,515.7 1535.7,516.5 1536.7,515.0 1537.7,515.0 1537.7,516.1 1538.7,515.7 1539.7,514.8 1540.7,513.7 1541.7,513.9 1542.7,513.4 1543.7,513.6 1544.7,514.0 1545.7,512.6 1545.7,512.1 1546.7,511.6 1547.7,511.9 1548.7,511.6 1549.7,510.8 1550.7,511.1 1551.7,510.2 1552.7,511.0 1553.7,510.7 1554.7,510.5 1555.7,509.4 1556.7,509.6 1557.7,509.0 1558.7,508.6 1559.7,508.3 1560.0,507.7 1560.7,507.9 1561.7,509.2 1562.7,509.0 1563.7,509.4 1564.7,510.1 1565.7,509.0 1566.3,509.6 1566.7,510.3 1567.7,511.0 1568.7,511.2 1569.7,512.5 1570.7,512.7 1571.7,512.6 1572.7,513.4 1573.7,514.8 1574.3,515.0 1574.7,513.5 1575.7,514.3 1576.7,513.1 1577.7,512.7 1578.7,511.0 1579.7,510.3 1580.7,509.0 1581.7,510.1 1582.2,508.3 1582.7,509.6 1583.7,509.3 1584.7,510.5 1585.7,510.4 1586.7,511.8 1587.7,513.3 1588.7,513.0 1589.7,514.9 1590.2,514.9 1590.7,514.0 1591.7,513.7 1592.7,513.2 1593.7,512.9 1594.7,512.1 1595.7,511.5 1596.7,511.2 1597.7,510.3 1598.1,510.0 1598.7,511.1 1599.7,512.3 1600.7,511.9 1601.7,513.5 1602.7,514.0 1603.7,514.6 1604.7,516.3 1605.7,516.4 1606.7,518.2 1607.7,517.9 1608.7,519.3 1609.3,519.4 1609.7,518.9 1610.7,518.9 1611.7,517.9 1612.7,517.7 1613.7,516.7 1614.7,515.6 1615.7,515.4 1616.7,514.9 1617.7,514.7 1618.7,513.1 1619.7,512.9 1620.4,511.7 1620.7,512.8 1621.7,511.7 1622.7,511.2 1623.7,511.8 1624.7,512.2 1625.7,510.7 1626.7,510.7 1627.7,510.7 1628.7,510.3 1629.7,510.9 1629.9,510.2 1630.7,510.0 1631.7,510.4 1632.7,509.5 1633.7,509.8 1634.7,508.8 1635.7,508.4 1636.7,507.8 1637.7,509.4 1637.9,508.2 1638.7,509.1 1639.7,509.6 1640.7,510.4 1641.7,511.0 1642.7,512.6 1643.7,511.8 1644.7,512.3 1645.7,513.2 1645.9,513.1 1646.7,514.3 1647.7,514.4 1648.7,513.7 1649.7,513.6 1650.7,514.2 1651.7,515.2 1652.7,513.2 1653.7,515.0 1653.8,514.2 1654.7,514.7 1655.7,512.9 1656.7,512.7 1657.7,511.4 1658.7,511.0 1659.7,511.5 1660.7,510.6 1661.7,509.3 1662.7,508.4 1663.3,507.5 1663.7,508.4 1664.7,509.1 1665.7,509.6 1666.7,510.1 1667.7,510.1 1668.7,511.2 1669.7,511.7 1670.7,512.9 1671.3,513.5 1671.7,512.4 1672.7,512.0 1673.7,512.3 1674.7,511.9 1675.7,511.7 1676.7,512.0 1677.7,511.4 1678.7,512.1 1679.7,511.6 1680.7,511.7 1680.8,511.5 1681.7,511.7 1682.7,512.0 1683.7,512.9 1684.7,513.2 1685.7,514.1 1686.7,514.5 1687.2,514.1 1687.7,514.4 1688.7,512.8 1689.7,512.3 1690.7,511.7 1691.7,509.9 1692.7,510.2 1693.7,509.4 1694.7,508.4 1695.7,507.4 1696.7,506.6 1696.7,506.3 1697.7,507.6 1698.7,508.3 1699.7,509.5 1700.7,509.8 1701.7,511.4 1702.7,512.3 1703.1,512.5 1703.7,512.0 1704.7,512.1 1705.7,510.5 1706.7,511.1 1707.7,510.5 1708.7,510.0 1709.7,509.6 1710.7,508.6 1711.7,508.4 1712.6,508.4 1712.7,508.4 1713.7,508.9 1714.7,508.8 1715.7,510.5 1716.7,511.5 1717.7,512.1 1718.7,512.5 1719.7,512.3 1720.7,514.2 1721.7,514.4 1722.2,513.5" fill="none" stroke="#000" stroke-width="2.2" stroke-linejoin="round"/>
<path d="M1205.0,711.7 1207.0,717.5 1209.0,713.8 1211.0,715.1 1213.0,715.0 1215.0,714.7 1217.0,717.0 1219.0,714.8 1221.0,715.6 1223.0,710.4 1225.0,714.4 1227.0,715.1 1229.0,715.1 1231.0,715.6 1233.0,716.1 1235.0,715.3 1237.0,714.3 1239.0,713.9 1241.0,710.8 1243.0,711.2 1245.0,709.6 1247.0,705.6 1249.0,707.6 1251.0,709.6 1253.0,709.2 1255.0,708.0 1257.0,705.6 1259.0,709.9 1261.0,705.2 1263.0,697.9 1265.0,697.1 1267.0,691.1 1269.0,683.6 1271.0,684.2 1273.0,685.3 1275.0,683.9 1277.0,691.8 1279.0,683.0 1281.0,687.5 1283.0,689.0 1285.0,684.6 1287.0,683.5 1289.0,683.8 1291.0,682.7 1293.0,678.3 L1293.0,700.4 1291.0,709.9 1289.0,709.5 1287.0,713.4 1285.0,713.9 1283.0,716.2 1281.0,718.1 1279.0,717.3 1277.0,717.4 1275.0,719.7 1273.0,712.0 1271.0,715.2 1269.0,716.1 1267.0,723.1 1265.0,721.5 1263.0,728.1 1261.0,728.6 1259.0,737.5 1257.0,733.1 1255.0,734.5 1253.0,732.7 1251.0,729.3 1249.0,735.2 1247.0,734.0 1245.0,730.9 1243.0,729.0 1241.0,733.2 1239.0,730.6 1237.0,732.0 1235.0,729.7 1233.0,732.4 1231.0,732.6 1229.0,728.5 1227.0,731.8 1225.0,730.5 1223.0,731.1 1221.0,732.1 1219.0,732.0 1217.0,730.0 1215.0,730.9 1213.0,732.4 1211.0,731.2 1209.0,731.8 1207.0,732.6 1205.0,730.7Z" fill="#f00"/>
<path d="M1292.0,669.0 1294.0,666.9 1296.0,660.8 1298.0,656.4 1300.0,655.1 1302.0,656.7 1304.0,657.6 1306.0,658.7 1308.0,657.1 1310.0,656.5 1312.0,659.5 1314.0,662.8 1316.0,662.3 1318.0,658.2 1320.0,660.4 1322.0,663.6 1324.0,660.9 1326.0,662.6 1328.0,661.8 1330.0,662.4 1332.0,663.7 1334.0,661.7 1336.0,663.8 1338.0,666.0 1340.0,663.3 1342.0,662.2 1344.0,668.7 1346.0,665.1 1348.0,667.0 1350.0,664.9 1352.0,667.8 1354.0,664.3 1356.0,664.5 1358.0,665.2 1360.0,672.2 1362.0,675.7 1364.0,682.4 1366.0,688.1 1368.0,690.4 1370.0,693.1 1372.0,689.2 1374.0,690.3 1376.0,695.6 1378.0,691.6 1380.0,694.5 1382.0,692.6 1384.0,692.9 1386.0,696.9 1388.0,693.9 1390.0,694.2 1392.0,692.3 1394.0,696.5 1396.0,693.2 1398.0,689.5 1400.0,680.9 1402.0,674.5 1404.0,663.5 1406.0,657.7 1408.0,654.7 1410.0,657.5 1412.0,657.2 1414.0,657.2 1416.0,659.5 1418.0,658.7 1420.0,656.4 1422.0,659.2 1424.0,658.3 1426.0,658.6 1428.0,654.0 1430.0,652.3 1432.0,648.5 1434.0,644.1 1436.0,640.9 1438.0,643.4 1440.0,638.8 1442.0,644.5 1444.0,644.3 1446.0,644.5 1448.0,638.7 1450.0,642.1 1452.0,643.7 1454.0,644.1 1456.0,640.1 1458.0,643.9 1460.0,644.5 1462.0,639.6 1464.0,644.8 1466.0,643.5 1468.0,643.6 1470.0,645.1 1472.0,645.4 1474.0,643.5 1476.0,646.1 1478.0,647.1 1480.0,647.9 1482.0,645.8 1484.0,646.0 1486.0,645.2 1488.0,654.3 1490.0,662.4 1492.0,670.8 1494.0,678.6 1496.0,685.9 1498.0,686.5 1500.0,686.0 1502.0,679.8 1504.0,677.8 1506.0,677.7 1508.0,667.6 1510.0,666.6 1512.0,669.5 1514.0,665.3 1516.0,667.3 1518.0,668.8 1520.0,668.8 1522.0,665.2 1524.0,658.7 1526.0,652.4 1528.0,650.8 1530.0,645.1 1532.0,642.5 1534.0,648.1 1536.0,645.4 1538.0,646.5 1540.0,647.8 1542.0,647.8 1544.0,645.9 1546.0,645.1 1548.0,646.9 1550.0,645.8 1552.0,644.6 1554.0,643.3 1556.0,640.2 1558.0,638.8 1560.0,636.6 1562.0,640.4 1564.0,650.1 1566.0,658.9 1568.0,665.5 1570.0,677.2 1572.0,675.9 1574.0,673.2 1576.0,667.9 1578.0,660.0 1580.0,658.2 1582.0,656.3 1584.0,642.0 1586.0,644.2 1588.0,649.7 1590.0,643.4 1592.0,644.2 1594.0,646.0 1596.0,640.3 1598.0,638.1 1600.0,631.7 1602.0,637.1 1604.0,636.7 1606.0,637.4 1608.0,638.2 1610.0,639.8 1612.0,643.2 1614.0,647.4 1616.0,653.4 1618.0,660.0 1620.0,664.9 1622.0,664.0 1624.0,664.6 1626.0,664.5 1628.0,662.0 1630.0,655.7 1632.0,653.1 1634.0,651.4 1636.0,650.4 1638.0,653.8 1640.0,665.0 1642.0,666.0 1644.0,670.2 1646.0,667.5 1648.0,669.5 1650.0,669.8 1652.0,669.3 1654.0,664.4 1656.0,660.7 1658.0,664.2 1660.0,661.9 1662.0,651.1 1664.0,655.5 1666.0,654.7 1668.0,653.5 1670.0,652.6 1672.0,651.6 1674.0,652.8 1676.0,655.3 1678.0,652.6 1680.0,648.9 1682.0,641.9 1684.0,640.9 1686.0,638.6 1688.0,633.8 1690.0,630.5 1692.0,633.2 1694.0,635.3 1696.0,637.6 1698.0,641.2 1700.0,643.8 1702.0,651.5 1704.0,653.3 1706.0,653.1 1708.0,657.9 1710.0,660.3 1712.0,661.4 1714.0,665.9 1716.0,671.8 1718.0,675.3 1720.0,677.0 1722.0,681.5 1724.0,683.7 1726.0,686.5 L1726.0,705.9 1724.0,703.2 1722.0,697.8 1720.0,698.4 1718.0,693.1 1716.0,688.1 1714.0,685.8 1712.0,682.0 1710.0,680.3 1708.0,673.8 1706.0,675.0 1704.0,673.9 1702.0,669.3 1700.0,663.1 1698.0,661.2 1696.0,656.4 1694.0,652.3 1692.0,649.9 1690.0,650.1 1688.0,652.5 1686.0,658.0 1684.0,661.8 1682.0,667.1 1680.0,674.0 1678.0,681.2 1676.0,681.2 1674.0,680.8 1672.0,679.0 1670.0,678.7 1668.0,680.5 1666.0,680.4 1664.0,681.3 1662.0,688.0 1660.0,685.8 1658.0,693.2 1656.0,702.9 1654.0,701.0 1652.0,704.6 1650.0,702.0 1648.0,703.7 1646.0,702.0 1644.0,708.0 1642.0,695.9 1640.0,684.3 1638.0,678.7 1636.0,669.6 1634.0,663.4 1632.0,666.5 1630.0,668.0 1628.0,672.4 1626.0,673.7 1624.0,673.3 1622.0,673.7 1620.0,673.6 1618.0,672.5 1616.0,669.7 1614.0,667.3 1612.0,665.4 1610.0,661.1 1608.0,663.6 1606.0,659.1 1604.0,661.6 1602.0,661.8 1600.0,662.6 1598.0,668.0 1596.0,669.8 1594.0,673.8 1592.0,670.4 1590.0,674.7 1588.0,680.9 1586.0,680.5 1584.0,682.2 1582.0,684.7 1580.0,689.8 1578.0,697.5 1576.0,703.0 1574.0,707.9 1572.0,705.9 1570.0,706.8 1568.0,695.2 1566.0,684.5 1564.0,673.5 1562.0,662.2 1560.0,655.3 1558.0,659.7 1556.0,663.5 1554.0,663.8 1552.0,667.8 1550.0,669.3 1548.0,667.3 1546.0,669.4 1544.0,669.6 1542.0,667.6 1540.0,671.4 1538.0,672.5 1536.0,672.2 1534.0,672.3 1532.0,670.2 1530.0,673.5 1528.0,675.3 1526.0,678.5 1524.0,688.4 1522.0,691.4 1520.0,697.5 1518.0,696.0 1516.0,696.0 1514.0,696.0 1512.0,697.5 1510.0,694.8 1508.0,698.4 1506.0,699.9 1504.0,702.4 1502.0,700.9 1500.0,701.5 1498.0,702.1 1496.0,703.2 1494.0,692.1 1492.0,683.0 1490.0,679.5 1488.0,669.7 1486.0,663.0 1484.0,663.0 1482.0,661.8 1480.0,662.2 1478.0,661.9 1476.0,663.1 1474.0,666.0 1472.0,664.3 1470.0,665.3 1468.0,669.7 1466.0,671.6 1464.0,671.7 1462.0,674.0 1460.0,675.7 1458.0,678.9 1456.0,673.1 1454.0,678.6 1452.0,671.9 1450.0,674.3 1448.0,677.8 1446.0,676.2 1444.0,673.6 1442.0,673.5 1440.0,674.0 1438.0,678.0 1436.0,673.3 1434.0,676.7 1432.0,676.6 1430.0,677.3 1428.0,679.7 1426.0,675.8 1424.0,679.6 1422.0,679.6 1420.0,679.4 1418.0,681.4 1416.0,677.7 1414.0,679.0 1412.0,679.2 1410.0,679.6 1408.0,678.9 1406.0,679.3 1404.0,688.7 1402.0,698.5 1400.0,701.2 1398.0,712.7 1396.0,719.4 1394.0,721.3 1392.0,715.5 1390.0,717.0 1388.0,720.4 1386.0,719.0 1384.0,717.1 1382.0,718.4 1380.0,717.1 1378.0,716.3 1376.0,718.1 1374.0,718.8 1372.0,717.8 1370.0,717.6 1368.0,716.1 1366.0,712.8 1364.0,708.3 1362.0,705.0 1360.0,701.8 1358.0,699.9 1356.0,695.3 1354.0,697.2 1352.0,699.9 1350.0,701.3 1348.0,697.7 1346.0,696.2 1344.0,699.2 1342.0,701.3 1340.0,700.5 1338.0,703.1 1336.0,696.0 1334.0,691.2 1332.0,688.6 1330.0,686.5 1328.0,683.4 1326.0,681.4 1324.0,681.6 1322.0,680.5 1320.0,681.8 1318.0,683.9 1316.0,680.4 1314.0,678.4 1312.0,682.5 1310.0,680.4 1308.0,675.9 1306.0,680.5 1304.0,677.7 1302.0,680.6 1300.0,681.1 1298.0,679.2 1296.0,695.4 1294.0,698.8 1292.0,708.6Z" fill="#f00"/>
<path d="M1205.0,728.0 1205.1,788.6 1205.2,710.0 1205.4,716.7 1205.6,711.5 1205.8,716.5 1206.0,727.4 1206.2,707.4 1206.4,732.5 1206.6,750.1 1206.8,730.4 1207.0,735.6 1207.2,723.4 1207.4,725.1 1207.6,730.1 1207.7,784.3 1207.8,723.0 1208.0,788.8 1208.0,731.0 1208.1,762.1 1208.2,719.6 1208.4,730.3 1208.6,733.6 1208.8,733.3 1209.0,734.2 1209.2,729.6 1209.4,719.3 1209.6,710.8 1209.7,782.3 1209.8,721.0 1210.0,724.3 1210.2,740.8 1210.4,745.1 1210.6,728.7 1210.8,727.9 1211.0,719.7 1211.2,715.1 1211.4,728.1 1211.6,726.6 1211.7,806.8 1211.8,725.7 1212.0,719.3 1212.2,728.4 1212.4,725.2 1212.5,799.1 1212.6,732.0 1212.8,725.9 1213.0,726.8 1213.2,739.8 1213.4,739.7 1213.6,741.5 1213.8,780.7 1213.8,738.9 1214.0,716.5 1214.2,717.4 1214.4,731.4 1214.6,714.4 1214.8,718.9 1215.0,703.5 1215.2,715.6 1215.4,707.6 1215.6,702.6 1215.8,724.4 1216.0,553.0 1216.0,729.1 1216.2,736.8 1216.4,729.6 1216.5,784.2 1216.6,740.0 1216.8,722.1 1217.0,722.0 1217.2,714.5 1217.2,781.9 1217.4,734.2 1217.6,738.3 1217.8,710.4 1218.0,709.0 1218.2,706.3 1218.4,701.3 1218.5,809.1 1218.6,695.0 1218.8,719.2 1219.0,767.2 1219.0,724.5 1219.2,719.1 1219.4,724.1 1219.6,715.7 1219.8,707.7 1220.0,719.9 1220.2,716.3 1220.4,729.3 1220.6,738.9 1220.8,723.9 1221.0,599.0 1221.0,726.3 1221.2,720.8 1221.4,729.0 1221.6,717.2 1221.8,714.5 1222.0,717.1 1222.2,723.0 1222.4,727.0 1222.6,719.4 1222.8,714.5 1223.0,718.0 1223.2,727.3 1223.4,721.4 1223.6,730.6 1223.8,712.2 1224.0,712.5 1224.2,721.9 1224.4,718.8 1224.6,725.3 1224.8,715.7 1225.0,690.0 1225.0,708.9 1225.2,704.5 1225.4,721.3 1225.6,708.6 1225.8,712.2 1226.0,695.0 1226.2,704.9 1226.4,695.0 1226.6,695.0 1226.8,698.3 1227.0,711.5 1227.2,707.0 1227.4,708.2 1227.6,708.2 1227.8,695.0 1228.0,704.9 1228.2,724.4 1228.4,716.1 1228.6,735.2 1228.8,714.5 1229.0,697.9 1229.1,820.4 1229.2,706.4 1229.4,712.0 1229.6,703.9 1229.8,704.4 1230.0,699.6 1230.2,704.7 1230.4,720.2 1230.5,770.0 1230.6,704.5 1230.8,706.2 1231.0,718.4 1231.2,711.1 1231.4,726.4 1231.6,709.8 1231.8,704.8 1232.0,714.4 1232.2,708.9 1232.3,797.4 1232.4,721.6 1232.6,715.1 1232.8,715.8 1233.0,688.0 1233.0,704.6 1233.2,695.0 1233.3,794.2 1233.4,710.4 1233.6,706.2 1233.8,706.5 1233.8,787.4 1233.8,765.6 1234.0,719.8 1234.2,728.8 1234.2,776.6 1234.2,772.8 1234.4,712.1 1234.6,711.8 1234.8,716.6 1235.0,728.6 1235.2,723.5 1235.4,717.0 1235.6,722.4 1235.8,719.6 1236.0,715.0 1236.2,722.8 1236.3,820.6 1236.4,717.8 1236.6,708.4 1236.6,770.0 1236.8,702.3 1237.0,698.1 1237.2,702.9 1237.4,721.7 1237.6,729.4 1237.8,742.9 1238.0,733.4 1238.2,734.1 1238.4,728.4 1238.6,732.3 1238.8,732.6 1239.0,729.2 1239.2,718.9 1239.4,738.9 1239.6,724.8 1239.8,717.6 1240.0,714.1 1240.2,706.9 1240.4,725.5 1240.6,747.8 1240.8,755.4 1241.0,747.2 1241.2,742.4 1241.4,732.3 1241.6,746.5 1241.8,741.8 1242.0,702.3 1242.2,718.6 1242.4,707.6 1242.6,740.7 1242.8,741.5 1242.8,805.2 1243.0,745.7 1243.2,746.5 1243.4,739.6 1243.6,794.5 1243.6,729.7 1243.8,720.8 1244.0,743.0 1244.2,744.7 1244.4,793.1 1244.4,719.6 1244.6,714.3 1244.8,700.8 1245.0,731.0 1245.1,812.5 1245.2,726.5 1245.3,803.7 1245.4,727.7 1245.5,809.9 1245.6,751.1 1245.8,703.8 1246.0,723.8 1246.2,727.9 1246.4,759.1 1246.6,760.9 1246.8,761.0 1247.0,738.4 1247.2,742.0 1247.4,742.6 1247.6,709.5 1247.8,703.6 1248.0,624.5 1248.0,689.6 1248.2,719.5 1248.4,724.3 1248.6,709.8 1248.8,701.0 1249.0,681.8 1249.2,721.3 1249.4,744.3 1249.6,724.7 1249.8,737.3 1250.0,718.1 1250.2,748.5 1250.4,739.4 1250.6,738.1 1250.8,750.4 1251.0,745.2 1251.2,727.0 1251.4,737.3 1251.5,819.5 1251.6,740.7 1251.8,753.5 1252.0,762.3 1252.2,721.4 1252.4,727.7 1252.4,817.9 1252.6,730.4 1252.8,783.4 1252.8,736.0 1253.0,731.4 1253.2,732.0 1253.4,733.5 1253.6,728.4 1253.8,737.9 1254.0,756.6 1254.2,750.8 1254.4,713.1 1254.6,729.7 1254.8,719.2 1255.0,680.0 1255.0,745.0 1255.2,731.4 1255.4,757.9 1255.6,745.1 1255.8,719.2 1256.0,721.4 1256.2,709.6 1256.4,726.1 1256.6,763.3 1256.8,752.9 1257.0,726.7 1257.2,737.6 1257.4,750.7 1257.6,746.5 1257.8,738.8 1258.0,743.5 1258.2,747.3 1258.4,731.8 1258.5,776.1 1258.6,731.9 1258.7,785.9 1258.8,753.3 1259.0,744.7 1259.2,710.5 1259.2,805.6 1259.4,724.4 1259.6,720.3 1259.8,725.9 1260.0,727.1 1260.2,732.8 1260.4,731.1 1260.6,762.9 1260.8,728.9 1261.0,783.5 1261.0,749.7 1261.2,739.5 1261.4,717.8 1261.5,810.0 1261.6,733.7 1261.8,756.5 1262.0,733.4 1262.2,689.8 1262.4,698.2 1262.6,809.4 1262.6,726.3 1262.8,691.7 1263.0,688.2 1263.1,810.8 1263.2,697.1 1263.4,739.1 1263.6,740.0 1263.8,729.8 1264.0,724.0 1264.2,717.7 1264.4,708.5 1264.6,704.9 1264.8,727.4 1265.0,696.4 1265.2,677.7 1265.4,725.4 1265.6,694.5 1265.8,715.9 1266.0,718.5 1266.2,692.7 1266.4,711.2 1266.6,710.2 1266.8,699.5 1267.0,720.0 1267.1,772.0 1267.2,699.4 1267.4,697.5 1267.6,705.0 1267.8,695.3 1268.0,707.3 1268.2,708.1 1268.3,819.4 1268.4,744.1 1268.6,753.0 1268.8,752.8 1269.0,740.5 1269.2,721.7 1269.4,702.6 1269.6,682.6 1269.8,683.8 1270.0,714.8 1270.2,690.0 1270.4,688.6 1270.5,771.3 1270.6,680.2 1270.8,679.5 1271.0,653.7 1271.2,693.2 1271.4,693.3 1271.5,766.0 1271.6,715.8 1271.8,751.5 1272.0,712.9 1272.2,682.6 1272.4,698.5 1272.6,706.4 1272.6,764.8 1272.8,728.7 1273.0,728.1 1273.2,696.7 1273.4,685.2 1273.5,747.9 1273.6,711.3 1273.8,719.9 1274.0,736.7 1274.2,722.2 1274.4,715.1 1274.6,673.1 1274.8,778.4 1274.8,694.5 1275.0,677.0 1275.2,699.0 1275.4,687.4 1275.6,710.3 1275.8,716.9 1276.0,706.8 1276.2,740.4 1276.4,715.6 1276.6,718.7 1276.8,745.4 1276.8,718.2 1277.0,751.1 1277.2,717.0 1277.4,821.4 1277.4,711.3 1277.6,735.6 1277.6,777.0 1277.8,721.9 1278.0,726.9 1278.2,711.3 1278.4,707.2 1278.6,721.7 1278.8,708.3 1279.0,695.9 1279.2,682.9 1279.4,705.1 1279.5,810.9 1279.6,695.4 1279.8,728.4 1280.0,702.2 1280.2,740.1 1280.4,730.0 1280.6,734.4 1280.8,723.5 1281.0,724.6 1281.2,746.6 1281.4,725.9 1281.6,733.9 1281.8,724.3 1282.0,707.6 1282.2,723.2 1282.4,718.9 1282.6,696.7 1282.8,699.9 1283.0,640.0 1283.0,738.8 1283.2,744.8 1283.3,781.5 1283.4,727.1 1283.6,700.6 1283.8,750.3 1284.0,738.7 1284.2,738.0 1284.4,748.8 1284.6,722.4 1284.8,707.7 1285.0,740.6 1285.2,703.1 1285.4,719.1 1285.6,710.2 1285.8,734.3 1286.0,723.7 1286.2,736.0 1286.4,691.0 1286.6,744.1 1286.6,677.6 1286.8,715.3 1287.0,714.7 1287.2,729.9 1287.4,705.7 1287.6,742.5 1287.6,718.3 1287.7,816.9 1287.8,684.0 1288.0,775.5 1288.0,732.6 1288.2,718.6 1288.4,733.4 1288.6,732.7 1288.8,785.4 1288.8,730.4 1289.0,724.1 1289.2,735.9 1289.4,726.4 1289.6,699.0 1289.8,719.4 1290.0,642.0 1290.0,715.6 1290.2,698.7 1290.4,702.3 1290.6,707.8 1290.8,729.1 1291.0,725.1 1291.2,703.8 1291.4,707.7 1291.6,681.6 1291.7,746.4 1291.8,695.0 1292.0,688.8 1292.2,694.8 1292.4,670.0 1292.6,706.7 1292.8,692.7 1293.0,681.1 1293.2,710.4 1293.4,717.9 1293.6,716.7 1293.8,715.5 1294.0,712.7 1294.2,697.1 1294.4,711.8 1294.6,710.5 1294.8,707.2 1295.0,702.1 1295.0,686.1 1295.2,669.8 1295.4,677.6 1295.6,674.7 1295.8,692.1 1296.0,678.0 1296.2,689.5 1296.4,694.2 1296.6,686.0 1296.8,684.4 1297.0,692.2 1297.2,694.3 1297.4,682.6 1297.6,692.2 1297.8,685.0 1298.0,682.7 1298.2,675.0 1298.4,671.2 1298.6,673.1 1298.8,658.6 1299.0,657.4 1299.2,665.2 1299.4,666.7 1299.6,674.8 1299.8,681.6 1300.0,680.0 1300.2,678.4 1300.4,677.0 1300.6,681.7 1300.8,676.6 1301.0,673.8 1301.2,666.6 1301.4,669.8 1301.6,670.7 1301.8,671.5 1302.0,673.3 1302.2,675.9 1302.4,682.0 1302.6,682.7 1302.8,662.4 1303.0,653.2 1303.2,660.4 1303.4,661.6 1303.6,670.8 1303.8,672.5 1304.0,683.5 1304.2,665.8 1304.4,666.3 1304.6,672.4 1304.8,662.1 1305.0,741.4 1305.0,666.9 1305.2,672.6 1305.4,667.2 1305.6,677.2 1305.8,665.0 1306.0,660.5 1306.2,663.6 1306.4,662.5 1306.5,751.6 1306.6,663.2 1306.8,667.3 1307.0,667.5 1307.2,665.8 1307.4,667.7 1307.6,665.4 1307.8,666.0 1308.0,658.2 1308.2,674.7 1308.4,668.6 1308.6,671.7 1308.8,663.0 1309.0,669.9 1309.2,670.4 1309.4,678.9 1309.6,683.0 1309.8,686.3 1310.0,679.1 1310.2,673.2 1310.4,674.0 1310.6,674.1 1310.8,661.2 1311.0,666.3 1311.2,668.4 1311.4,682.4 1311.6,679.8 1311.8,666.7 1312.0,763.6 1312.0,670.2 1312.2,665.4 1312.4,670.7 1312.6,681.4 1312.8,683.6 1313.0,671.5 1313.2,667.8 1313.4,674.3 1313.6,714.9 1313.6,658.9 1313.8,661.9 1314.0,667.9 1314.2,664.9 1314.4,663.4 1314.6,668.8 1314.8,663.9 1315.0,657.4 1315.2,659.4 1315.4,654.2 1315.6,660.0 1315.8,667.3 1316.0,675.4 1316.2,681.2 1316.4,683.1 1316.6,674.0 1316.8,661.5 1317.0,671.6 1317.2,674.7 1317.4,670.1 1317.6,659.7 1317.8,659.2 1318.0,661.6 1318.2,655.5 1318.4,676.0 1318.6,671.0 1318.7,702.0 1318.8,677.1 1319.0,666.3 1319.2,667.6 1319.4,666.4 1319.6,660.4 1319.8,662.0 1320.0,659.7 1320.2,666.2 1320.4,670.7 1320.6,674.3 1320.8,681.0 1321.0,670.3 1321.2,659.5 1321.4,659.7 1321.6,673.6 1321.8,671.7 1322.0,668.7 1322.2,672.1 1322.4,676.1 1322.6,666.3 1322.8,663.4 1323.0,673.8 1323.2,673.9 1323.4,665.6 1323.6,662.2 1323.8,666.5 1324.0,669.6 1324.2,677.6 1324.4,671.9 1324.6,674.1 1324.7,774.2 1324.8,672.8 1325.0,679.4 1325.2,677.5 1325.4,666.9 1325.6,664.9 1325.8,666.8 1326.0,668.4 1326.2,675.5 1326.4,674.2 1326.6,668.9 1326.8,674.6 1327.0,674.3 1327.2,677.2 1327.4,668.4 1327.6,674.6 1327.8,661.8 1328.0,669.2 1328.2,680.2 1328.4,665.5 1328.6,661.9 1328.8,664.3 1329.0,666.4 1329.2,656.6 1329.4,665.8 1329.6,651.8 1329.8,651.8 1330.0,661.6 1330.2,662.2 1330.4,665.5 1330.6,661.7 1330.8,651.6 1331.0,657.6 1331.2,651.5 1331.4,662.7 1331.6,664.5 1331.8,666.6 1332.0,670.8 1332.1,766.4 1332.2,661.6 1332.4,665.9 1332.6,672.1 1332.8,664.9 1333.0,654.1 1333.2,661.7 1333.4,660.1 1333.6,658.5 1333.8,666.8 1334.0,678.9 1334.2,675.2 1334.4,673.7 1334.6,673.3 1334.8,664.7 1335.0,661.9 1335.2,658.5 1335.3,727.5 1335.4,664.2 1335.6,665.2 1335.8,673.9 1336.0,675.4 1336.2,682.4 1336.4,659.4 1336.6,650.4 1336.8,662.1 1337.0,665.9 1337.2,665.0 1337.4,666.1 1337.6,664.0 1337.8,667.8 1338.0,669.3 1338.2,665.8 1338.4,679.7 1338.6,666.9 1338.8,650.0 1339.0,659.0 1339.2,670.9 1339.4,672.5 1339.6,655.2 1339.8,668.5 1340.0,668.2 1340.2,680.9 1340.4,666.9 1340.6,662.1 1340.8,654.7 1341.0,676.7 1341.2,682.4 1341.4,666.4 1341.6,687.0 1341.8,690.7 1342.0,689.1 1342.2,662.2 1342.4,666.6 1342.6,661.5 1342.8,677.5 1343.0,650.0 1343.2,677.1 1343.4,661.1 1343.6,665.8 1343.8,669.9 1344.0,671.0 1344.2,673.3 1344.4,675.1 1344.6,673.3 1344.8,669.6 1345.0,654.6 1345.2,665.4 1345.4,674.5 1345.6,663.6 1345.8,664.9 1346.0,672.7 1346.2,677.5 1346.4,663.2 1346.6,657.0 1346.8,671.0 1347.0,670.9 1347.2,671.1 1347.4,676.6 1347.6,658.6 1347.8,665.9 1348.0,659.1 1348.2,682.7 1348.4,664.8 1348.4,746.5 1348.6,667.7 1348.8,680.0 1349.0,680.1 1349.2,671.5 1349.4,670.8 1349.6,689.9 1349.8,674.5 1350.0,666.5 1350.2,665.2 1350.4,682.1 1350.6,676.6 1350.8,669.4 1351.0,667.9 1351.2,681.3 1351.4,680.1 1351.5,786.2 1351.6,676.0 1351.8,685.8 1352.0,687.4 1352.2,669.9 1352.4,671.8 1352.6,664.5 1352.8,655.7 1353.0,677.0 1353.2,672.7 1353.4,661.6 1353.6,660.3 1353.8,655.9 1354.0,677.8 1354.2,681.8 1354.4,673.4 1354.6,674.3 1354.8,681.0 1355.0,671.9 1355.2,671.3 1355.4,674.6 1355.6,674.2 1355.8,678.2 1356.0,685.0 1356.0,735.3 1356.2,661.7 1356.4,800.6 1356.4,683.6 1356.6,669.7 1356.8,784.1 1356.8,650.0 1357.0,653.3 1357.2,678.2 1357.4,663.6 1357.6,657.8 1357.8,669.4 1358.0,671.4 1358.2,676.6 1358.4,688.2 1358.6,678.9 1358.8,677.1 1359.0,684.7 1359.2,699.8 1359.4,696.1 1359.6,695.6 1359.8,677.7 1360.0,667.1 1360.2,679.0 1360.4,674.1 1360.6,691.8 1360.8,691.3 1361.0,703.1 1361.2,700.1 1361.4,710.8 1361.6,702.6 1361.6,744.3 1361.8,699.4 1362.0,732.2 1362.0,707.6 1362.2,700.9 1362.4,690.7 1362.6,706.2 1362.8,682.2 1363.0,681.8 1363.2,690.5 1363.4,689.1 1363.6,674.7 1363.8,688.6 1364.0,694.7 1364.2,697.2 1364.4,696.4 1364.6,701.9 1364.8,704.0 1365.0,718.6 1365.2,718.0 1365.4,718.7 1365.6,720.2 1365.8,723.4 1366.0,716.5 1366.2,691.6 1366.4,706.4 1366.6,707.0 1366.8,692.4 1367.0,693.5 1367.2,708.8 1367.4,713.1 1367.6,706.5 1367.6,756.5 1367.8,701.5 1368.0,696.9 1368.2,708.5 1368.4,719.6 1368.6,721.4 1368.8,720.8 1369.0,700.7 1369.2,701.2 1369.4,712.8 1369.6,714.9 1369.8,720.0 1370.0,709.8 1370.2,703.8 1370.4,723.4 1370.6,705.1 1370.8,698.0 1371.0,756.9 1371.0,700.4 1371.2,712.4 1371.4,713.9 1371.6,726.1 1371.8,713.1 1372.0,713.0 1372.2,721.3 1372.4,716.4 1372.6,703.8 1372.8,718.9 1373.0,720.2 1373.2,721.8 1373.4,716.3 1373.6,714.3 1373.8,702.5 1374.0,712.2 1374.2,709.6 1374.4,701.2 1374.6,704.8 1374.8,712.9 1375.0,726.6 1375.2,708.6 1375.4,710.2 1375.6,708.8 1375.8,698.0 1376.0,725.4 1376.2,726.8 1376.4,725.1 1376.6,709.6 1376.8,705.4 1377.0,703.0 1377.2,722.1 1377.4,703.9 1377.4,755.2 1377.6,716.7 1377.8,716.9 1378.0,723.8 1378.2,720.4 1378.4,701.0 1378.6,706.8 1378.8,705.8 1379.0,712.1 1379.2,703.7 1379.4,711.3 1379.6,726.3 1379.8,724.5 1380.0,711.7 1380.2,708.9 1380.4,717.1 1380.6,716.9 1380.8,713.3 1381.0,712.7 1381.2,713.4 1381.4,709.8 1381.6,725.3 1381.8,727.5 1382.0,727.6 1382.2,718.5 1382.4,725.9 1382.6,705.2 1382.8,703.5 1383.0,718.7 1383.2,711.8 1383.4,717.8 1383.6,708.5 1383.8,707.6 1384.0,704.9 1384.2,707.1 1384.4,707.2 1384.6,700.5 1384.8,707.8 1385.0,709.6 1385.2,715.4 1385.4,728.0 1385.6,728.0 1385.8,726.9 1386.0,718.6 1386.2,715.1 1386.4,725.8 1386.6,716.1 1386.8,713.0 1387.0,705.6 1387.2,728.3 1387.4,728.3 1387.5,750.1 1387.6,728.3 1387.8,720.4 1388.0,728.4 1388.2,724.6 1388.4,713.0 1388.6,726.5 1388.8,715.4 1389.0,725.5 1389.2,718.0 1389.4,728.6 1389.6,725.2 1389.8,723.6 1390.0,717.2 1390.2,707.3 1390.4,715.6 1390.6,708.7 1390.8,699.0 1390.9,750.6 1391.0,718.6 1391.2,724.2 1391.4,717.8 1391.6,706.3 1391.8,702.1 1392.0,713.3 1392.2,706.4 1392.4,708.9 1392.6,696.1 1392.8,712.8 1393.0,709.0 1393.2,713.8 1393.4,721.8 1393.6,722.5 1393.8,722.9 1394.0,716.3 1394.2,714.7 1394.4,729.2 1394.6,729.3 1394.7,754.8 1394.8,729.3 1395.0,724.5 1395.2,703.5 1395.4,712.1 1395.6,699.2 1395.8,709.4 1396.0,726.6 1396.2,720.3 1396.4,708.0 1396.6,707.3 1396.8,709.3 1397.0,717.9 1397.2,698.3 1397.4,690.2 1397.6,695.4 1397.8,714.8 1398.0,700.2 1398.2,694.7 1398.4,701.8 1398.6,699.2 1398.8,695.1 1399.0,701.2 1399.2,704.0 1399.4,694.6 1399.6,698.2 1399.8,697.7 1400.0,696.4 1400.2,694.6 1400.4,699.3 1400.6,697.5 1400.8,708.0 1401.0,707.2 1401.2,699.2 1401.4,705.5 1401.6,704.7 1401.8,703.9 1402.0,703.1 1402.2,687.9 1402.4,680.4 1402.6,684.9 1402.8,690.1 1403.0,682.9 1403.2,684.9 1403.4,690.9 1403.6,681.9 1403.8,695.4 1404.0,675.1 1404.2,675.0 1404.4,683.5 1404.6,679.4 1404.8,677.0 1405.0,679.1 1405.2,671.3 1405.4,676.3 1405.6,669.0 1405.8,666.4 1406.0,668.3 1406.2,676.7 1406.4,684.8 1406.6,677.5 1406.8,679.9 1407.0,664.1 1407.2,688.0 1407.4,688.0 1407.6,688.0 1407.8,687.3 1408.0,681.3 1408.2,688.0 1408.4,679.4 1408.6,666.4 1408.8,684.5 1409.0,676.0 1409.2,676.1 1409.4,681.5 1409.6,675.3 1409.8,682.7 1410.0,677.8 1410.2,668.8 1410.4,680.2 1410.6,688.0 1410.7,595.6 1410.8,685.8 1411.0,676.6 1411.2,667.1 1411.4,681.4 1411.6,688.0 1411.8,687.0 1412.0,688.0 1412.2,682.4 1412.4,681.2 1412.6,676.6 1412.8,670.7 1413.0,687.0 1413.2,688.0 1413.4,685.3 1413.6,688.0 1413.8,688.0 1414.0,682.1 1414.2,673.8 1414.4,686.1 1414.6,682.6 1414.8,673.9 1415.0,680.0 1415.2,684.4 1415.4,686.1 1415.6,685.0 1415.8,683.2 1416.0,678.0 1416.2,680.9 1416.4,673.1 1416.6,667.4 1416.7,694.0 1416.8,675.5 1417.0,681.1 1417.2,677.9 1417.4,680.7 1417.6,685.8 1417.8,688.0 1418.0,680.8 1418.1,693.6 1418.2,688.0 1418.4,688.0 1418.6,668.5 1418.8,668.6 1419.0,670.1 1419.2,668.4 1419.4,518.0 1419.4,676.9 1419.6,688.0 1419.8,687.1 1420.0,685.1 1420.2,678.3 1420.4,675.8 1420.6,674.9 1420.8,674.8 1421.0,680.6 1421.2,677.5 1421.4,685.7 1421.6,680.1 1421.8,682.8 1422.0,685.3 1422.2,679.5 1422.4,671.9 1422.6,680.2 1422.8,670.9 1423.0,670.2 1423.2,675.0 1423.4,677.5 1423.6,677.2 1423.8,684.2 1424.0,664.0 1424.2,671.9 1424.4,684.6 1424.6,681.7 1424.8,688.0 1425.0,678.9 1425.2,678.8 1425.4,688.0 1425.6,680.8 1425.8,683.7 1426.0,673.1 1426.2,675.0 1426.4,673.3 1426.6,669.0 1426.8,668.4 1427.0,674.2 1427.2,667.4 1427.4,676.1 1427.6,673.2 1427.8,671.6 1428.0,684.1 1428.2,688.3 1428.4,681.2 1428.6,687.9 1428.8,688.4 1429.0,688.5 1429.2,681.0 1429.4,681.6 1429.6,668.9 1429.8,668.6 1430.0,672.3 1430.2,669.2 1430.4,676.5 1430.5,690.2 1430.6,671.2 1430.8,659.9 1431.0,655.6 1431.2,655.0 1431.4,658.8 1431.6,662.8 1431.8,658.9 1432.0,666.7 1432.2,659.2 1432.4,665.4 1432.6,674.7 1432.8,678.1 1433.0,675.2 1433.2,677.7 1433.4,665.9 1433.6,672.3 1433.8,647.4 1434.0,647.4 1434.2,640.5 1434.4,655.7 1434.6,664.9 1434.8,646.6 1435.0,654.6 1435.2,652.3 1435.4,648.2 1435.6,654.2 1435.8,649.9 1436.0,642.5 1436.2,666.0 1436.4,677.8 1436.6,680.3 1436.8,655.0 1437.0,654.8 1437.2,641.0 1437.4,643.5 1437.6,638.4 1437.8,662.5 1438.0,663.7 1438.2,684.6 1438.4,650.4 1438.6,658.8 1438.8,647.4 1439.0,645.6 1439.2,630.0 1439.4,659.0 1439.6,664.4 1439.8,667.9 1440.0,611.0 1440.0,677.2 1440.2,650.7 1440.4,672.4 1440.6,675.3 1440.8,673.6 1441.0,674.7 1441.2,669.1 1441.4,655.1 1441.6,655.8 1441.8,676.5 1442.0,656.8 1442.2,658.6 1442.4,670.7 1442.6,658.5 1442.8,663.5 1443.0,663.3 1443.2,653.9 1443.4,662.0 1443.6,651.2 1443.8,646.2 1444.0,684.2 1444.2,681.1 1444.4,669.2 1444.6,649.1 1444.8,666.3 1445.0,658.9 1445.2,670.8 1445.4,674.5 1445.6,657.4 1445.8,664.0 1446.0,645.9 1446.2,673.3 1446.4,666.7 1446.6,679.0 1446.8,659.7 1447.0,690.0 1447.2,670.5 1447.4,706.2 1447.4,661.3 1447.6,672.9 1447.8,656.1 1448.0,653.5 1448.2,661.1 1448.4,685.3 1448.6,690.0 1448.8,671.8 1449.0,660.1 1449.2,670.4 1449.4,634.3 1449.6,631.9 1449.8,635.1 1450.0,642.0 1450.2,649.3 1450.4,665.2 1450.6,667.2 1450.8,668.9 1451.0,667.6 1451.2,627.0 1451.4,700.3 1451.4,639.3 1451.6,664.7 1451.8,674.8 1452.0,680.3 1452.2,655.9 1452.4,655.0 1452.6,660.0 1452.8,654.7 1453.0,670.6 1453.2,663.3 1453.4,672.8 1453.6,664.4 1453.8,647.3 1454.0,632.4 1454.2,668.8 1454.4,659.2 1454.6,664.8 1454.8,667.2 1455.0,662.5 1455.2,666.9 1455.4,664.0 1455.6,661.8 1455.8,659.9 1456.0,628.8 1456.2,637.5 1456.4,652.3 1456.6,674.7 1456.8,665.5 1457.0,635.1 1457.2,666.3 1457.4,661.3 1457.6,665.7 1457.7,709.3 1457.8,659.7 1458.0,663.4 1458.2,671.6 1458.4,657.6 1458.6,646.0 1458.8,655.2 1459.0,681.3 1459.2,682.4 1459.4,667.0 1459.6,670.7 1459.8,668.1 1460.0,650.0 1460.2,636.0 1460.4,630.8 1460.6,641.7 1460.8,652.3 1461.0,657.7 1461.2,663.2 1461.4,645.7 1461.6,653.6 1461.8,709.8 1461.8,660.4 1462.0,655.1 1462.2,669.7 1462.3,574.0 1462.4,656.1 1462.6,655.1 1462.8,667.4 1463.0,650.6 1463.2,659.9 1463.4,663.4 1463.6,668.4 1463.8,655.0 1464.0,774.0 1464.0,661.3 1464.2,660.8 1464.4,680.8 1464.6,686.0 1464.8,673.8 1465.0,663.9 1465.2,649.4 1465.4,649.2 1465.6,640.1 1465.8,655.8 1466.0,648.5 1466.2,631.0 1466.4,645.1 1466.6,645.0 1466.8,633.1 1467.0,643.0 1467.2,664.0 1467.4,663.5 1467.6,653.6 1467.8,638.1 1468.0,653.7 1468.2,655.0 1468.4,657.1 1468.6,652.5 1468.8,641.4 1469.0,646.1 1469.2,641.2 1469.4,640.7 1469.6,654.3 1469.8,656.0 1470.0,650.9 1470.2,667.1 1470.4,659.3 1470.6,647.8 1470.8,650.4 1471.0,651.3 1471.2,643.7 1471.4,651.9 1471.6,653.4 1471.8,642.4 1472.0,651.9 1472.2,651.5 1472.4,653.4 1472.6,647.8 1472.8,653.2 1473.0,660.4 1473.2,658.2 1473.4,653.9 1473.6,663.1 1473.8,664.5 1474.0,651.1 1474.2,651.3 1474.4,663.3 1474.6,660.1 1474.8,654.9 1475.0,656.2 1475.2,652.1 1475.4,641.9 1475.6,645.1 1475.8,665.6 1476.0,668.2 1476.2,669.0 1476.4,658.2 1476.6,649.1 1476.8,658.9 1477.0,647.3 1477.2,649.7 1477.4,640.3 1477.6,657.4 1477.8,662.1 1478.0,661.0 1478.2,655.4 1478.4,654.1 1478.6,649.5 1478.8,651.2 1479.0,659.4 1479.2,647.7 1479.4,657.7 1479.6,650.6 1479.8,652.9 1480.0,648.7 1480.2,643.0 1480.4,644.0 1480.6,644.7 1480.8,654.7 1481.0,648.6 1481.2,659.1 1481.4,653.2 1481.6,660.4 1481.8,654.5 1482.0,649.6 1482.2,649.6 1482.4,651.6 1482.6,651.3 1482.8,651.4 1483.0,647.9 1483.2,648.1 1483.4,649.5 1483.6,655.9 1483.8,664.9 1484.0,664.8 1484.2,660.9 1484.4,666.8 1484.6,658.2 1484.8,654.6 1485.0,658.9 1485.2,655.2 1485.4,655.1 1485.6,659.0 1485.8,659.9 1486.0,662.2 1486.2,651.6 1486.4,661.0 1486.6,668.5 1486.8,672.5 1487.0,664.0 1487.2,669.9 1487.4,664.8 1487.6,657.6 1487.8,668.7 1488.0,663.5 1488.2,661.9 1488.4,665.8 1488.6,663.0 1488.8,663.0 1489.0,652.0 1489.2,658.8 1489.4,669.8 1489.6,662.7 1489.8,666.6 1490.0,662.8 1490.2,662.9 1490.4,670.5 1490.6,670.9 1490.8,660.0 1491.0,657.7 1491.2,671.0 1491.4,669.2 1491.6,668.6 1491.8,675.5 1492.0,668.3 1492.2,670.5 1492.4,675.0 1492.6,672.1 1492.8,676.9 1493.0,684.1 1493.2,675.0 1493.4,677.7 1493.6,680.7 1493.8,685.2 1494.0,691.0 1494.2,694.2 1494.4,688.6 1494.6,689.2 1494.8,679.3 1495.0,689.1 1495.2,696.0 1495.4,695.6 1495.6,691.6 1495.8,695.6 1496.0,682.3 1496.2,694.3 1496.4,697.2 1496.6,702.4 1496.8,704.8 1497.0,698.6 1497.2,695.6 1497.4,698.7 1497.6,699.8 1497.8,695.6 1498.0,697.3 1498.2,699.8 1498.4,692.6 1498.6,698.8 1498.8,699.8 1499.0,698.6 1499.2,701.9 1499.4,705.1 1499.6,707.0 1499.8,699.6 1500.0,700.4 1500.2,698.7 1500.4,690.5 1500.6,695.9 1500.8,694.1 1501.0,700.6 1501.2,691.6 1501.4,700.2 1501.6,703.0 1501.8,697.4 1502.0,680.9 1502.2,687.2 1502.4,693.3 1502.6,693.7 1502.8,692.7 1503.0,694.9 1503.2,688.6 1503.4,693.9 1503.6,687.2 1503.8,696.5 1504.0,700.7 1504.2,690.3 1504.4,683.8 1504.6,689.7 1504.8,686.8 1505.0,687.9 1505.2,681.0 1505.4,683.5 1505.6,683.9 1505.8,689.9 1506.0,672.1 1506.2,670.2 1506.4,663.0 1506.6,683.9 1506.8,684.8 1507.0,688.8 1507.2,683.7 1507.4,674.7 1507.6,736.3 1507.6,670.8 1507.8,667.7 1508.0,659.0 1508.2,658.5 1508.4,664.5 1508.6,668.2 1508.8,678.2 1509.0,670.7 1509.2,673.7 1509.3,737.1 1509.4,674.7 1509.6,698.9 1509.8,686.6 1510.0,690.6 1510.2,685.5 1510.4,694.6 1510.6,680.5 1510.8,680.5 1511.0,673.1 1511.2,687.2 1511.4,696.4 1511.6,682.9 1511.8,692.1 1512.0,691.0 1512.2,690.8 1512.4,696.7 1512.6,693.4 1512.8,690.0 1513.0,684.3 1513.2,690.0 1513.4,681.7 1513.6,685.9 1513.8,692.7 1514.0,693.3 1514.2,681.6 1514.4,674.1 1514.6,677.4 1514.8,664.0 1515.0,684.2 1515.2,685.5 1515.4,691.6 1515.6,689.2 1515.8,706.1 1516.0,708.7 1516.2,696.2 1516.4,684.8 1516.6,697.6 1516.8,688.4 1517.0,668.1 1517.2,677.8 1517.4,676.7 1517.6,675.0 1517.8,686.9 1518.0,660.4 1518.2,673.9 1518.4,679.4 1518.6,687.9 1518.8,677.9 1519.0,679.2 1519.2,682.5 1519.4,678.0 1519.6,682.0 1519.8,688.4 1520.0,676.3 1520.2,683.1 1520.4,684.2 1520.6,690.4 1520.8,683.2 1521.0,690.1 1521.2,700.3 1521.4,689.7 1521.6,673.8 1521.8,664.9 1522.0,667.7 1522.2,671.1 1522.4,668.9 1522.6,692.8 1522.8,673.4 1523.0,654.1 1523.2,671.4 1523.4,688.4 1523.6,666.8 1523.8,668.8 1524.0,678.1 1524.2,674.4 1524.4,673.9 1524.6,688.3 1524.8,670.7 1525.0,661.7 1525.2,651.7 1525.4,648.9 1525.6,643.6 1525.8,652.5 1526.0,654.0 1526.2,653.1 1526.4,646.8 1526.6,657.2 1526.8,664.4 1527.0,661.3 1527.2,674.7 1527.4,652.4 1527.6,653.0 1527.8,651.3 1528.0,651.5 1528.2,655.3 1528.4,656.0 1528.6,644.4 1528.8,637.5 1529.0,652.4 1529.2,653.7 1529.4,652.2 1529.6,653.9 1529.8,649.6 1530.0,657.5 1530.2,653.4 1530.4,667.2 1530.6,653.9 1530.8,661.2 1531.0,661.5 1531.2,659.3 1531.4,651.4 1531.6,652.8 1531.8,639.8 1532.0,639.1 1532.2,645.3 1532.4,657.0 1532.6,656.7 1532.8,661.6 1533.0,671.5 1533.2,657.6 1533.4,648.2 1533.6,648.8 1533.8,666.8 1534.0,666.3 1534.2,664.7 1534.4,656.1 1534.6,642.5 1534.8,649.6 1535.0,648.1 1535.2,656.3 1535.4,650.6 1535.6,649.0 1535.8,650.9 1536.0,651.6 1536.2,642.7 1536.4,649.9 1536.6,657.2 1536.8,651.0 1537.0,652.2 1537.2,659.3 1537.4,669.1 1537.6,656.6 1537.8,655.5 1538.0,653.3 1538.2,651.1 1538.4,642.8 1538.6,648.1 1538.8,652.9 1539.0,644.0 1539.2,656.3 1539.4,667.0 1539.6,647.1 1539.8,664.9 1540.0,666.6 1540.2,657.9 1540.4,644.6 1540.6,653.9 1540.8,654.0 1541.0,662.9 1541.2,652.5 1541.4,643.7 1541.6,644.6 1541.8,647.6 1542.0,649.8 1542.2,651.9 1542.4,656.6 1542.6,652.4 1542.8,640.6 1543.0,642.1 1543.2,652.2 1543.4,656.9 1543.6,655.6 1543.8,647.9 1544.0,655.9 1544.2,658.2 1544.4,659.6 1544.6,652.8 1544.8,660.4 1545.0,674.4 1545.2,673.8 1545.4,660.1 1545.6,648.7 1545.8,651.9 1546.0,652.6 1546.2,666.7 1546.4,661.7 1546.6,665.0 1546.8,670.5 1547.0,661.2 1547.2,665.0 1547.4,648.5 1547.6,648.5 1547.8,645.9 1548.0,643.1 1548.2,643.2 1548.4,638.8 1548.6,639.7 1548.8,645.8 1549.0,666.7 1549.2,667.3 1549.4,666.0 1549.6,655.2 1549.8,639.8 1550.0,636.0 1550.2,651.7 1550.4,663.1 1550.6,649.1 1550.8,638.2 1551.0,649.2 1551.2,641.8 1551.4,636.2 1551.6,635.9 1551.8,641.2 1552.0,660.0 1552.2,654.7 1552.4,652.1 1552.6,654.6 1552.8,654.2 1553.0,655.4 1553.2,660.4 1553.4,651.9 1553.6,642.8 1553.8,641.5 1554.0,651.8 1554.2,649.6 1554.4,653.1 1554.6,654.4 1554.8,650.9 1555.0,658.1 1555.2,657.1 1555.4,648.3 1555.6,643.1 1555.8,640.7 1556.0,646.1 1556.2,650.9 1556.4,653.7 1556.6,651.2 1556.8,652.5 1557.0,639.1 1557.2,652.1 1557.4,637.0 1557.6,632.2 1557.8,647.5 1558.0,653.3 1558.2,651.4 1558.4,649.7 1558.6,648.7 1558.8,647.8 1559.0,656.1 1559.2,655.8 1559.4,640.0 1559.6,642.2 1559.8,638.8 1560.0,644.8 1560.2,641.0 1560.4,645.6 1560.6,647.1 1560.8,635.3 1561.0,649.2 1561.2,654.5 1561.4,656.7 1561.6,643.9 1561.8,648.2 1562.0,645.2 1562.2,643.9 1562.4,636.9 1562.6,642.9 1562.8,640.7 1563.0,645.4 1563.2,653.4 1563.4,663.0 1563.6,669.3 1563.8,644.4 1564.0,651.8 1564.2,661.0 1564.4,656.0 1564.6,662.2 1564.8,659.8 1565.0,666.9 1565.2,667.5 1565.4,664.6 1565.6,658.5 1565.8,670.0 1566.0,674.5 1566.2,683.7 1566.4,677.8 1566.6,674.2 1566.8,672.1 1567.0,670.2 1567.2,688.1 1567.4,681.3 1567.6,687.0 1567.8,684.6 1568.0,671.5 1568.2,683.6 1568.4,685.4 1568.6,671.9 1568.8,668.0 1568.8,724.7 1569.0,662.4 1569.2,683.6 1569.4,678.3 1569.6,696.4 1569.8,705.7 1570.0,697.4 1570.2,695.4 1570.4,672.6 1570.6,680.8 1570.8,689.1 1571.0,687.8 1571.2,706.8 1571.4,716.6 1571.6,701.6 1571.8,701.2 1572.0,692.0 1572.2,686.9 1572.4,694.0 1572.6,682.7 1572.8,682.8 1573.0,684.3 1573.2,696.8 1573.4,696.9 1573.6,691.2 1573.8,690.7 1574.0,678.1 1574.2,691.8 1574.4,680.3 1574.6,691.5 1574.8,700.2 1575.0,687.7 1575.2,692.0 1575.4,679.4 1575.6,680.4 1575.8,670.5 1576.0,680.2 1576.2,687.4 1576.4,670.3 1576.6,686.6 1576.8,698.3 1577.0,692.8 1577.2,671.3 1577.4,667.9 1577.6,685.5 1577.8,723.8 1577.8,671.1 1578.0,682.3 1578.2,688.4 1578.4,695.4 1578.6,681.3 1578.8,665.4 1579.0,647.9 1579.2,653.8 1579.4,658.8 1579.6,664.8 1579.8,678.5 1580.0,691.1 1580.2,656.6 1580.4,665.5 1580.6,669.8 1580.8,648.5 1581.0,650.0 1581.2,680.2 1581.4,682.9 1581.6,658.8 1581.8,651.1 1582.0,668.2 1582.2,641.6 1582.4,666.0 1582.6,668.5 1582.8,653.7 1583.0,645.0 1583.2,652.7 1583.4,651.8 1583.6,653.7 1583.8,657.3 1584.0,674.3 1584.2,661.3 1584.4,652.6 1584.6,654.4 1584.8,642.7 1585.0,645.0 1585.2,633.0 1585.4,633.0 1585.6,633.0 1585.8,633.0 1586.0,650.4 1586.2,654.8 1586.4,647.9 1586.6,645.5 1586.8,647.2 1587.0,639.5 1587.2,641.9 1587.4,651.6 1587.6,640.0 1587.8,666.6 1588.0,671.6 1588.2,662.4 1588.4,663.3 1588.6,652.9 1588.8,651.2 1589.0,654.4 1589.2,650.2 1589.4,638.7 1589.6,649.1 1589.8,660.4 1590.0,663.6 1590.2,651.7 1590.4,659.9 1590.6,642.7 1590.8,651.3 1591.0,639.6 1591.2,656.3 1591.4,655.8 1591.6,646.9 1591.8,641.6 1592.0,645.4 1592.2,649.8 1592.4,662.0 1592.6,662.6 1592.8,661.1 1593.0,652.6 1593.2,662.3 1593.4,657.5 1593.6,656.7 1593.8,638.1 1594.0,658.0 1594.2,648.0 1594.4,669.5 1594.6,664.5 1594.8,639.9 1595.0,644.7 1595.2,656.2 1595.4,629.8 1595.6,641.7 1595.8,626.9 1596.0,634.3 1596.2,653.1 1596.4,636.1 1596.6,664.2 1596.8,642.6 1597.0,627.8 1597.2,627.6 1597.4,626.6 1597.6,625.4 1597.8,638.0 1598.0,635.0 1598.2,639.1 1598.4,643.6 1598.6,638.0 1598.8,641.4 1599.0,632.2 1599.2,644.6 1599.4,644.5 1599.6,640.2 1599.8,628.8 1600.0,624.1 1600.2,639.0 1600.4,655.3 1600.6,636.7 1600.8,641.0 1601.0,645.4 1601.2,637.7 1601.4,637.7 1601.6,644.7 1601.8,637.8 1602.0,650.6 1602.2,648.1 1602.4,656.6 1602.6,661.9 1602.8,643.0 1603.0,658.7 1603.2,647.6 1603.4,660.0 1603.6,650.6 1603.8,631.6 1604.0,639.8 1604.2,647.6 1604.4,661.1 1604.6,641.2 1604.8,639.1 1605.0,654.0 1605.2,646.3 1605.4,636.2 1605.6,626.4 1605.8,627.9 1606.0,663.2 1606.2,636.7 1606.4,651.8 1606.6,658.1 1606.8,648.8 1607.0,638.2 1607.2,653.1 1607.4,653.0 1607.6,646.5 1607.8,652.1 1608.0,650.1 1608.2,651.2 1608.4,650.2 1608.6,651.0 1608.8,655.4 1609.0,653.6 1609.2,654.2 1609.4,653.5 1609.6,646.2 1609.8,643.9 1610.0,647.7 1610.2,655.0 1610.4,645.9 1610.6,640.7 1610.8,641.6 1611.0,652.1 1611.2,661.3 1611.4,653.9 1611.6,660.3 1611.8,658.0 1612.0,656.4 1612.2,661.8 1612.4,662.3 1612.6,656.1 1612.8,644.0 1613.0,648.8 1613.2,659.0 1613.4,661.3 1613.6,660.5 1613.8,656.8 1614.0,656.8 1614.2,659.0 1614.4,649.2 1614.6,651.3 1614.8,645.8 1615.0,653.0 1615.2,663.8 1615.4,658.0 1615.6,661.1 1615.8,662.2 1616.0,662.4 1616.2,672.1 1616.4,674.1 1616.6,666.0 1616.8,667.4 1617.0,659.9 1617.2,661.4 1617.4,658.6 1617.6,659.1 1617.8,661.3 1618.0,660.2 1618.2,659.1 1618.4,665.7 1618.6,667.5 1618.8,666.5 1619.0,677.6 1619.2,672.2 1619.4,662.0 1619.6,669.5 1619.8,670.1 1620.0,675.6 1620.2,675.1 1620.4,668.7 1620.6,677.4 1620.8,675.3 1621.0,670.3 1621.2,672.7 1621.4,674.9 1621.6,677.2 1621.8,673.3 1622.0,671.5 1622.2,662.4 1622.4,666.5 1622.6,670.3 1622.8,669.5 1623.0,675.8 1623.2,674.2 1623.4,669.3 1623.6,674.5 1623.8,669.5 1624.0,669.6 1624.2,675.0 1624.4,672.4 1624.6,674.6 1624.8,674.9 1625.0,674.1 1625.2,665.7 1625.4,673.1 1625.6,672.9 1625.8,678.0 1626.0,676.7 1626.2,678.0 1626.4,677.9 1626.6,677.8 1626.8,668.0 1627.0,664.9 1627.2,667.9 1627.4,664.7 1627.6,667.1 1627.8,668.7 1628.0,672.9 1628.2,666.2 1628.4,669.6 1628.6,664.8 1628.8,665.7 1629.0,665.7 1629.2,670.3 1629.4,665.1 1629.6,662.7 1629.8,661.6 1630.0,663.3 1630.2,658.7 1630.4,665.3 1630.6,664.6 1630.8,668.0 1631.0,661.7 1631.2,662.7 1631.4,668.9 1631.6,667.3 1631.8,659.5 1632.0,663.6 1632.2,664.2 1632.4,664.4 1632.6,668.2 1632.8,658.1 1633.0,656.4 1633.2,653.8 1633.4,664.4 1633.6,665.6 1633.8,654.9 1634.0,663.6 1634.2,666.2 1634.4,666.7 1634.6,660.3 1634.8,664.9 1635.0,656.9 1635.2,659.8 1635.4,659.2 1635.6,657.0 1635.8,656.0 1636.0,651.2 1636.2,656.0 1636.4,659.7 1636.6,664.1 1636.8,666.2 1637.0,668.6 1637.2,662.9 1637.4,664.8 1637.6,665.2 1637.8,661.6 1638.0,669.6 1638.2,673.4 1638.4,665.4 1638.6,668.3 1638.8,685.2 1639.0,680.7 1639.2,682.0 1639.4,672.8 1639.6,668.5 1639.8,673.4 1640.0,675.2 1640.2,663.2 1640.4,660.3 1640.6,662.0 1640.8,652.3 1641.0,660.3 1641.2,680.4 1641.4,677.0 1641.6,665.3 1641.8,683.4 1642.0,686.1 1642.2,675.3 1642.4,673.7 1642.6,676.6 1642.8,678.5 1643.0,685.9 1643.2,691.1 1643.4,685.5 1643.6,694.3 1643.8,692.4 1644.0,680.9 1644.2,677.1 1644.4,675.8 1644.6,674.5 1644.8,661.3 1645.0,670.9 1645.2,692.0 1645.4,662.2 1645.6,669.0 1645.8,688.4 1646.0,670.3 1646.2,665.3 1646.4,660.6 1646.6,658.6 1646.8,658.3 1647.0,661.1 1647.2,676.6 1647.4,686.3 1647.6,680.6 1647.8,680.9 1648.0,674.3 1648.2,678.7 1648.4,655.4 1648.6,668.0 1648.8,661.4 1649.0,680.5 1649.2,676.9 1649.4,690.6 1649.6,703.4 1649.8,700.1 1650.0,678.4 1650.2,659.6 1650.4,659.4 1650.6,680.4 1650.8,674.7 1651.0,685.6 1651.2,726.2 1651.2,665.2 1651.4,691.0 1651.6,686.4 1651.8,684.5 1652.0,690.4 1652.2,681.1 1652.4,687.4 1652.6,700.2 1652.8,703.4 1653.0,690.3 1653.2,673.8 1653.4,665.9 1653.6,666.3 1653.7,732.5 1653.8,685.8 1654.0,720.7 1654.0,664.6 1654.2,655.0 1654.4,669.0 1654.6,682.0 1654.8,692.5 1655.0,710.7 1655.2,690.1 1655.4,699.0 1655.6,688.4 1655.8,686.7 1656.0,711.5 1656.2,679.4 1656.4,665.7 1656.6,663.8 1656.8,669.3 1657.0,670.5 1657.2,653.4 1657.4,678.6 1657.6,668.9 1657.8,665.6 1658.0,666.8 1658.2,667.6 1658.4,688.0 1658.6,682.0 1658.8,681.3 1659.0,683.6 1659.2,674.2 1659.4,663.5 1659.6,668.6 1659.8,683.8 1660.0,675.7 1660.2,674.5 1660.4,679.2 1660.6,673.4 1660.8,673.6 1661.0,670.6 1661.2,683.3 1661.4,688.1 1661.6,672.1 1661.8,676.7 1662.0,683.3 1662.2,675.4 1662.4,667.6 1662.6,656.8 1662.8,658.1 1663.0,665.3 1663.2,668.5 1663.4,670.1 1663.6,650.6 1663.8,667.5 1664.0,672.2 1664.2,658.4 1664.4,680.6 1664.6,683.5 1664.8,690.1 1665.0,533.0 1665.0,679.7 1665.2,682.2 1665.4,682.2 1665.6,671.9 1665.8,663.7 1666.0,675.7 1666.2,677.6 1666.4,682.4 1666.6,668.8 1666.8,662.0 1667.0,663.0 1667.2,662.8 1667.4,671.9 1667.6,687.5 1667.8,690.0 1668.0,680.9 1668.2,668.5 1668.4,672.6 1668.6,680.4 1668.8,663.9 1669.0,674.9 1669.2,683.6 1669.4,685.1 1669.6,666.5 1669.8,659.3 1670.0,667.2 1670.2,662.6 1670.4,680.6 1670.6,665.7 1670.8,662.7 1671.0,643.9 1671.2,662.1 1671.4,665.6 1671.6,658.5 1671.8,652.0 1672.0,654.8 1672.2,671.6 1672.4,652.2 1672.6,657.9 1672.8,655.8 1673.0,659.7 1673.2,666.2 1673.4,671.0 1673.6,685.6 1673.8,690.0 1674.0,683.2 1674.2,662.0 1674.4,644.9 1674.5,613.5 1674.6,662.3 1674.8,661.9 1675.0,657.9 1675.2,665.5 1675.4,673.9 1675.6,661.5 1675.8,652.1 1676.0,671.7 1676.2,656.1 1676.4,662.3 1676.6,652.0 1676.8,648.4 1677.0,656.1 1677.2,649.8 1677.4,659.3 1677.6,662.8 1677.8,647.8 1678.0,652.3 1678.2,657.7 1678.4,654.0 1678.6,653.6 1678.8,664.7 1679.0,651.5 1679.2,669.6 1679.4,663.1 1679.6,664.4 1679.8,657.5 1680.0,663.6 1680.2,653.6 1680.4,662.6 1680.6,650.1 1680.8,654.3 1681.0,643.7 1681.2,651.6 1681.4,646.1 1681.6,644.5 1681.8,649.8 1682.0,648.6 1682.2,650.5 1682.4,655.8 1682.6,648.8 1682.8,652.0 1683.0,650.9 1683.2,652.1 1683.4,649.3 1683.6,657.7 1683.8,634.8 1684.0,633.3 1684.2,634.1 1684.4,638.9 1684.6,634.5 1684.8,634.7 1685.0,631.5 1685.2,639.5 1685.4,634.8 1685.6,633.5 1685.8,639.6 1686.0,633.2 1686.2,632.4 1686.4,644.2 1686.6,644.2 1686.8,646.3 1687.0,651.2 1687.2,645.7 1687.4,635.0 1687.6,639.9 1687.8,654.1 1688.0,642.0 1688.2,644.1 1688.4,644.1 1688.6,640.1 1688.8,637.8 1689.0,644.9 1689.2,640.4 1689.4,639.0 1689.6,633.6 1689.8,639.7 1690.0,642.4 1690.2,633.6 1690.4,635.1 1690.6,632.3 1690.8,643.4 1691.0,642.4 1691.2,631.1 1691.4,644.8 1691.6,638.7 1691.8,630.5 1692.0,626.6 1692.2,634.6 1692.4,641.1 1692.6,641.7 1692.8,642.8 1693.0,641.9 1693.2,639.0 1693.4,634.6 1693.6,638.1 1693.8,637.4 1694.0,648.6 1694.2,644.8 1694.4,651.7 1694.6,617.0 1694.6,651.1 1694.8,649.6 1695.0,648.4 1695.2,647.8 1695.4,643.6 1695.6,646.2 1695.8,643.0 1696.0,649.6 1696.2,658.6 1696.4,657.3 1696.6,651.3 1696.8,653.6 1697.0,652.8 1697.2,658.5 1697.4,653.0 1697.6,642.7 1697.8,638.3 1698.0,637.9 1698.2,632.6 1698.4,649.3 1698.6,660.4 1698.8,644.3 1699.0,652.3 1699.2,652.6 1699.4,663.1 1699.6,654.5 1699.8,665.4 1700.0,662.1 1700.2,654.6 1700.4,649.3 1700.6,654.0 1700.8,646.3 1701.0,648.1 1701.2,655.2 1701.4,660.8 1701.6,661.2 1701.8,663.4 1702.0,661.9 1702.2,646.6 1702.4,643.2 1702.6,653.6 1702.8,653.9 1703.0,654.6 1703.2,664.8 1703.4,651.9 1703.6,650.4 1703.8,653.5 1704.0,650.2 1704.2,661.0 1704.4,661.9 1704.6,650.1 1704.8,655.7 1705.0,661.9 1705.2,665.0 1705.4,670.1 1705.6,657.5 1705.8,650.8 1706.0,658.1 1706.2,665.1 1706.4,672.9 1706.6,672.3 1706.8,672.5 1707.0,671.8 1707.2,671.3 1707.4,665.7 1707.6,658.3 1707.8,664.7 1708.0,671.3 1708.2,672.1 1708.4,666.7 1708.6,663.4 1708.8,649.5 1709.0,662.7 1709.2,664.4 1709.4,655.7 1709.6,656.9 1709.8,665.6 1710.0,677.6 1710.2,666.4 1710.4,663.0 1710.6,676.9 1710.8,675.4 1711.0,667.9 1711.2,673.0 1711.4,672.4 1711.6,662.0 1711.8,669.9 1712.0,670.8 1712.2,675.8 1712.4,673.8 1712.6,671.7 1712.8,671.9 1713.0,667.2 1713.2,682.6 1713.4,683.1 1713.6,676.6 1713.8,674.6 1714.0,684.3 1714.2,683.7 1714.4,681.3 1714.6,674.2 1714.8,670.6 1715.0,670.3 1715.2,682.9 1715.4,687.3 1715.6,686.7 1715.8,676.1 1716.0,671.6 1716.2,674.6 1716.4,666.1 1716.6,672.9 1716.8,682.7 1717.0,683.0 1717.2,683.7 1717.4,674.0 1717.6,676.3 1717.8,685.6 1718.0,695.1 1718.2,690.7 1718.4,688.5 1718.6,687.5 1718.8,687.7 1719.0,693.6 1719.2,692.2 1719.4,571.0 1719.4,683.5 1719.6,690.7 1719.8,688.1 1720.0,685.0 1720.2,684.0 1720.4,696.3 1720.6,693.4 1720.8,689.0 1721.0,687.6 1721.2,695.1 1721.4,694.7 1721.6,680.6 1721.8,698.3 1722.0,691.9 1722.2,692.2 1722.4,694.3 1722.6,700.5 1722.8,695.5 1723.0,704.7 1723.2,692.7 1723.4,683.4 1723.6,682.9 1723.8,686.7 1724.0,693.9 1724.2,690.7 1724.4,692.7 1724.6,681.5 1724.8,702.1 1725.0,695.4 1725.2,704.5 1725.4,699.8 1725.6,694.8 1725.8,696.6 1726.0,695.8 1726.2,694.9 1726.4,683.3 1726.6,690.9 1726.8,702.9" fill="none" stroke="#f00" stroke-width="2.0" stroke-linejoin="round"/>
</g>
<path d="M1205,822 L1205,478 L1800,478" fill="none" stroke="#000" stroke-width="1.8" stroke-linecap="square"/>
<path d="M1205,822 L1800,822" fill="none" stroke="#000" stroke-width="1.8" stroke-linecap="square"/>
<path d="M1800,478 L1800,822" fill="none" stroke="#f00" stroke-width="1.8" stroke-linecap="square"/>
<path d="M1205.00,787.50h5.50M1205.00,718.50h5.50M1205.00,650.50h5.50M1205.00,581.50h5.50M1205.00,512.50h5.50" stroke="#000" stroke-width="1.15" fill="none" shape-rendering="crispEdges"/>
<path d="M1244.50,822.00v-5.50M1318.50,822.00v-5.50M1393.50,822.00v-5.50M1467.50,822.00v-5.50M1542.50,822.00v-5.50M1616.50,822.00v-5.50M1690.50,822.00v-5.50M1765.50,822.00v-5.50" stroke="#000" stroke-width="1.15" fill="none" shape-rendering="crispEdges"/>
<path d="M1800.00,736.50h-4.50M1800.00,650.50h-4.50M1800.00,564.50h-4.50" stroke="#f00" stroke-width="1.15" fill="none" shape-rendering="crispEdges"/>
<path d="M1800.00,796.50h-2.40M1800.00,780.50h-2.40M1800.00,770.50h-2.40M1800.00,761.50h-2.40M1800.00,755.50h-2.40M1800.00,749.50h-2.40M1800.00,744.50h-2.40M1800.00,739.50h-2.40M1800.00,710.50h-2.40M1800.00,694.50h-2.40M1800.00,684.50h-2.40M1800.00,675.50h-2.40M1800.00,669.50h-2.40M1800.00,663.50h-2.40M1800.00,658.50h-2.40M1800.00,653.50h-2.40M1800.00,624.50h-2.40M1800.00,608.50h-2.40M1800.00,598.50h-2.40M1800.00,589.50h-2.40M1800.00,583.50h-2.40M1800.00,577.50h-2.40M1800.00,572.50h-2.40M1800.00,567.50h-2.40M1800.00,538.50h-2.40M1800.00,522.50h-2.40M1800.00,512.50h-2.40M1800.00,503.50h-2.40M1800.00,497.50h-2.40M1800.00,491.50h-2.40M1800.00,486.50h-2.40M1800.00,481.50h-2.40" stroke="#f00" stroke-width="1.15" fill="none" shape-rendering="crispEdges"/>
<text x="1145.21" y="794.80" font-size="20.66" fill="#000" textLength="53.28" lengthAdjust="spacingAndGlyphs">−400</text>
<text x="1145.21" y="726.00" font-size="20.66" fill="#000" textLength="53.28" lengthAdjust="spacingAndGlyphs">−300</text>
<text x="1145.21" y="657.20" font-size="20.66" fill="#000" textLength="53.28" lengthAdjust="spacingAndGlyphs">−200</text>
<text x="1145.21" y="588.40" font-size="20.66" fill="#000" textLength="53.28" lengthAdjust="spacingAndGlyphs">−100</text>
<text x="1186.14" y="519.60" font-size="20.66" fill="#000" textLength="12.34" lengthAdjust="spacingAndGlyphs">0</text>
<text x="1805.67" y="830.20" font-size="20.66" fill="#f00" textLength="24.69" lengthAdjust="spacingAndGlyphs">10</text>
<text x="1831.42" y="823.20" font-size="13.84" fill="#f00" textLength="19.16" lengthAdjust="spacingAndGlyphs">−2</text>
<text x="1805.67" y="744.20" font-size="20.66" fill="#f00" textLength="24.69" lengthAdjust="spacingAndGlyphs">10</text>
<text x="1831.42" y="737.20" font-size="13.84" fill="#f00" textLength="19.16" lengthAdjust="spacingAndGlyphs">−1</text>
<text x="1805.67" y="658.20" font-size="20.66" fill="#f00" textLength="24.69" lengthAdjust="spacingAndGlyphs">10</text>
<text x="1831.94" y="651.20" font-size="13.84" fill="#f00" textLength="8.27" lengthAdjust="spacingAndGlyphs">0</text>
<text x="1805.67" y="572.20" font-size="20.66" fill="#f00" textLength="24.69" lengthAdjust="spacingAndGlyphs">10</text>
<text x="1831.36" y="565.20" font-size="13.84" fill="#f00" textLength="8.27" lengthAdjust="spacingAndGlyphs">1</text>
<text x="1805.67" y="486.20" font-size="20.66" fill="#f00" textLength="24.69" lengthAdjust="spacingAndGlyphs">10</text>
<text x="1831.88" y="479.20" font-size="13.84" fill="#f00" textLength="8.27" lengthAdjust="spacingAndGlyphs">2</text>
<text transform="translate(1105.70,670.40) rotate(-90)" x="-2.28" y="0" font-size="25.56" fill="#000" textLength="40.39" lengthAdjust="spacingAndGlyphs">Dst</text>
<text transform="translate(1133.20,679.60) rotate(-90)" x="-2.04" y="0" font-size="25.56" fill="#000" textLength="63.86" lengthAdjust="spacingAndGlyphs">( nT )</text>
<text transform="translate(1873.90,724.50) rotate(-90)" x="-1.56" y="0" font-size="25.56" fill="#f00" textLength="149.08" lengthAdjust="spacingAndGlyphs">SW Pressure</text>
<text transform="translate(1905.60,689.30) rotate(-90)" x="-2.04" y="0" font-size="25.56" fill="#f00" textLength="77.30" lengthAdjust="spacingAndGlyphs">( nPa )</text>
<g clip-path="url(#clipBR)">
<path d="M1205,931 H1800" stroke="#000" stroke-width="2" stroke-dasharray="2 3.45"/>
<path d="M1205.0,995.5 1207.0,995.0 1209.0,993.0 1211.0,994.1 1213.0,996.6 1215.0,994.8 1217.0,1000.1 1219.0,1004.3 1221.0,1005.3 1223.0,1004.3 1225.0,1004.3 1227.0,1003.5 1229.0,1004.2 1231.0,1004.1 1233.0,999.3 1235.0,990.1 1237.0,994.0 1239.0,991.5 1241.0,992.9 1243.0,993.5 1245.0,993.4 1247.0,993.6 1249.0,992.8 1251.0,993.4 1253.0,992.2 1255.0,995.1 1257.0,993.7 1259.0,994.6 1261.0,993.4 1263.0,995.8 1265.0,994.5 1267.0,994.3 1269.0,995.7 1271.0,994.0 1273.0,994.7 1275.0,994.2 1277.0,994.4 1279.0,998.9 1281.0,1001.8 1283.0,1001.3 1285.0,1000.7 1287.0,1000.6 1289.0,1001.7 1291.0,1001.6 1293.0,1001.8 1295.0,1001.6 1297.0,1001.4 1299.0,1001.3 1301.0,999.7 1303.0,997.4 1305.0,993.2 1307.0,992.6 1309.0,993.9 1311.0,993.6 1313.0,993.3 1315.0,992.8 1317.0,994.6 1319.0,992.6 1321.0,994.1 1323.0,993.8 1325.0,993.4 1327.0,993.6 1329.0,993.4 1331.0,994.2 1333.0,994.5 1335.0,994.3 1337.0,995.4 1339.0,993.9 1341.0,995.5 1343.0,996.0 1345.0,993.7 1347.0,995.9 1349.0,997.5 1351.0,994.8 1353.0,997.0 1355.0,995.9 1357.0,997.7 1359.0,997.4 1361.0,998.8 1363.0,999.1 1365.0,998.5 1367.0,997.9 1369.0,997.3 1371.0,996.1 1373.0,999.1 1375.0,997.6 1377.0,995.3 1379.0,991.2 1381.0,992.5 1383.0,992.6 1385.0,992.1 1387.0,992.5 1389.0,991.6 1391.0,992.3 1393.0,990.7 1395.0,991.8 1397.0,991.9 1399.0,991.2 1401.0,991.8 1403.0,992.4 1405.0,992.5 1407.0,992.6 1409.0,991.8 1411.0,992.1 1413.0,992.6 1415.0,992.3 1417.0,993.5 1419.0,992.8 1421.0,994.4 1423.0,994.9 1425.0,998.6 1427.0,998.6 1429.0,998.4 1431.0,999.0 1433.0,999.2 1435.0,998.2 1437.0,999.2 1439.0,1000.1 1441.0,999.1 1443.0,1000.8 1445.0,998.4 1447.0,999.9 1449.0,999.8 1451.0,998.3 1453.0,998.5 1455.0,1000.1 1457.0,995.4 1459.0,990.6 1461.0,990.1 1463.0,992.1 1465.0,992.0 1467.0,991.0 1469.0,992.1 1471.0,991.7 1473.0,992.0 1475.0,993.9 1477.0,993.7 1479.0,995.7 1481.0,993.4 1483.0,991.9 1485.0,994.5 1487.0,992.3 1489.0,992.6 1491.0,993.8 1493.0,993.9 1495.0,993.9 1497.0,995.0 1499.0,994.6 1501.0,994.4 1503.0,993.8 1505.0,993.7 1507.0,995.3 1509.0,993.7 1511.0,995.4 1513.0,993.1 1515.0,990.9 1517.0,991.4 1519.0,991.6 1521.0,991.3 1523.0,992.2 1525.0,992.3 1527.0,992.0 1529.0,991.0 1531.0,992.1 1533.0,990.3 1535.0,992.0 1537.0,995.1 1539.0,992.8 1541.0,991.0 1543.0,992.6 1545.0,993.1 1547.0,993.6 1549.0,991.7 1551.0,992.1 1553.0,992.5 1555.0,992.8 1557.0,992.0 1559.0,992.6 1561.0,994.6 1563.0,992.9 1565.0,993.5 1567.0,993.9 1569.0,993.2 1571.0,993.9 1573.0,997.7 1575.0,994.7 1577.0,995.3 1579.0,996.5 1581.0,996.8 1583.0,996.4 1585.0,997.8 1587.0,996.6 1589.0,997.1 1591.0,997.4 1593.0,997.9 1595.0,997.8 1597.0,996.5 1599.0,996.4 1601.0,997.2 1603.0,997.8 1605.0,998.6 1607.0,997.4 1609.0,996.8 1611.0,999.5 1613.0,997.4 1615.0,999.7 1617.0,998.0 1619.0,997.5 1621.0,999.0 1623.0,999.2 1625.0,997.9 1627.0,997.4 1629.0,998.6 1631.0,997.3 1633.0,999.0 1635.0,997.2 1637.0,998.5 1639.0,998.5 1641.0,998.3 1643.0,998.6 1645.0,997.6 1647.0,997.4 1649.0,998.7 1651.0,999.3 1653.0,1000.1 1655.0,999.9 1657.0,999.5 1659.0,999.6 1661.0,999.7 1663.0,999.7 1665.0,999.5 1667.0,1000.8 1669.0,998.2 1671.0,993.5 1673.0,993.9 1675.0,995.4 1677.0,993.6 1679.0,995.7 1681.0,995.3 1683.0,997.0 1685.0,994.4 1687.0,995.3 1689.0,994.4 1691.0,994.8 1693.0,995.5 1695.0,995.5 1697.0,994.6 1699.0,996.0 1701.0,996.1 1703.0,995.9 1705.0,995.3 1707.0,995.3 1709.0,994.5 1711.0,996.4 1713.0,995.2 1715.0,997.1 1717.0,996.0 1719.0,996.6 1721.0,995.2 1723.0,996.3 1725.0,997.3 L1725.0,1009.2 1723.0,1009.7 1721.0,1008.9 1719.0,1009.9 1717.0,1011.1 1715.0,1010.6 1713.0,1009.2 1711.0,1008.5 1709.0,1008.9 1707.0,1007.9 1705.0,1009.0 1703.0,1008.5 1701.0,1009.7 1699.0,1008.6 1697.0,1009.3 1695.0,1009.7 1693.0,1009.1 1691.0,1009.8 1689.0,1008.5 1687.0,1008.4 1685.0,1008.2 1683.0,1007.3 1681.0,1008.2 1679.0,1009.6 1677.0,1008.2 1675.0,1008.6 1673.0,1008.5 1671.0,1007.4 1669.0,1007.7 1667.0,1008.9 1665.0,1009.1 1663.0,1008.7 1661.0,1009.3 1659.0,1008.0 1657.0,1009.4 1655.0,1009.0 1653.0,1008.6 1651.0,1009.7 1649.0,1009.4 1647.0,1008.4 1645.0,1007.9 1643.0,1007.1 1641.0,1009.7 1639.0,1010.1 1637.0,1008.1 1635.0,1009.1 1633.0,1009.4 1631.0,1009.7 1629.0,1008.5 1627.0,1009.2 1625.0,1009.0 1623.0,1008.0 1621.0,1008.2 1619.0,1008.4 1617.0,1008.2 1615.0,1008.9 1613.0,1008.1 1611.0,1010.1 1609.0,1009.2 1607.0,1007.4 1605.0,1009.2 1603.0,1008.9 1601.0,1007.6 1599.0,1009.1 1597.0,1007.2 1595.0,1008.5 1593.0,1007.5 1591.0,1007.4 1589.0,1007.0 1587.0,1007.1 1585.0,1007.4 1583.0,1008.2 1581.0,1006.0 1579.0,1008.4 1577.0,1007.8 1575.0,1006.9 1573.0,1006.7 1571.0,1005.3 1569.0,1005.1 1567.0,1005.3 1565.0,1004.9 1563.0,1004.7 1561.0,1005.8 1559.0,1005.1 1557.0,1005.6 1555.0,1004.0 1553.0,1005.7 1551.0,1004.6 1549.0,1007.0 1547.0,1006.2 1545.0,1003.5 1543.0,1006.4 1541.0,1005.3 1539.0,1004.0 1537.0,1005.2 1535.0,1004.5 1533.0,1003.9 1531.0,1003.5 1529.0,1004.5 1527.0,1003.1 1525.0,1003.6 1523.0,1004.0 1521.0,1005.5 1519.0,1004.0 1517.0,1003.7 1515.0,1003.3 1513.0,1007.0 1511.0,1006.7 1509.0,1008.8 1507.0,1007.0 1505.0,1009.5 1503.0,1008.1 1501.0,1007.5 1499.0,1007.8 1497.0,1006.4 1495.0,1007.0 1493.0,1006.5 1491.0,1008.3 1489.0,1007.6 1487.0,1008.5 1485.0,1005.7 1483.0,1004.2 1481.0,1005.8 1479.0,1006.5 1477.0,1006.7 1475.0,1006.0 1473.0,1006.4 1471.0,1005.6 1469.0,1004.3 1467.0,1007.7 1465.0,1005.5 1463.0,1006.6 1461.0,1003.0 1459.0,1003.2 1457.0,1006.4 1455.0,1009.6 1453.0,1008.7 1451.0,1009.8 1449.0,1009.9 1447.0,1009.1 1445.0,1009.6 1443.0,1009.5 1441.0,1008.5 1439.0,1007.9 1437.0,1010.2 1435.0,1009.5 1433.0,1007.9 1431.0,1009.8 1429.0,1008.7 1427.0,1009.4 1425.0,1009.4 1423.0,1004.0 1421.0,1004.3 1419.0,1003.3 1417.0,1003.4 1415.0,1005.4 1413.0,1002.4 1411.0,1002.9 1409.0,1002.9 1407.0,1002.8 1405.0,1004.0 1403.0,1003.1 1401.0,1003.2 1399.0,1003.9 1397.0,1001.7 1395.0,1002.9 1393.0,1003.1 1391.0,1003.8 1389.0,1004.1 1387.0,1002.1 1385.0,1003.6 1383.0,1002.4 1381.0,1004.0 1379.0,1004.6 1377.0,1006.2 1375.0,1009.8 1373.0,1009.6 1371.0,1010.6 1369.0,1009.6 1367.0,1009.4 1365.0,1010.2 1363.0,1008.8 1361.0,1007.9 1359.0,1010.0 1357.0,1009.2 1355.0,1008.9 1353.0,1008.5 1351.0,1008.0 1349.0,1008.6 1347.0,1006.7 1345.0,1005.8 1343.0,1004.1 1341.0,1004.8 1339.0,1005.2 1337.0,1004.2 1335.0,1005.0 1333.0,1004.2 1331.0,1005.1 1329.0,1004.6 1327.0,1004.0 1325.0,1005.7 1323.0,1004.3 1321.0,1003.5 1319.0,1005.0 1317.0,1003.8 1315.0,1003.7 1313.0,1003.5 1311.0,1004.5 1309.0,1003.0 1307.0,1005.2 1305.0,1002.9 1303.0,1007.6 1301.0,1010.9 1299.0,1010.1 1297.0,1010.8 1295.0,1011.1 1293.0,1010.6 1291.0,1011.7 1289.0,1011.5 1287.0,1010.5 1285.0,1010.1 1283.0,1010.4 1281.0,1012.0 1279.0,1006.2 1277.0,1004.9 1275.0,1004.6 1273.0,1004.6 1271.0,1005.7 1269.0,1005.7 1267.0,1006.6 1265.0,1005.1 1263.0,1005.1 1261.0,1004.0 1259.0,1003.8 1257.0,1004.5 1255.0,1003.5 1253.0,1005.3 1251.0,1004.5 1249.0,1003.7 1247.0,1005.8 1245.0,1004.6 1243.0,1004.5 1241.0,1003.4 1239.0,1004.9 1237.0,1003.3 1235.0,1005.4 1233.0,1008.2 1231.0,1011.1 1229.0,1012.1 1227.0,1011.5 1225.0,1011.5 1223.0,1011.0 1221.0,1011.0 1219.0,1012.2 1217.0,1010.5 1215.0,1012.2 1213.0,1008.2 1211.0,1008.9 1209.0,1008.9 1207.0,1009.6 1205.0,1009.9Z" fill="#000"/>
<path d="M1205.0,1000.3 1205.2,1003.7 1205.4,1006.2 1205.6,1007.3 1205.8,1009.0 1206.0,1013.4 1206.2,1004.1 1206.4,1004.3 1206.6,1005.1 1206.8,1001.3 1207.0,999.1 1207.2,999.9 1207.4,998.1 1207.6,992.9 1207.8,1001.1 1208.0,997.1 1208.2,994.7 1208.4,1002.0 1208.6,1004.0 1208.8,1007.5 1209.0,992.2 1209.2,998.9 1209.4,1000.1 1209.6,992.6 1209.8,1000.0 1210.0,995.7 1210.2,994.2 1210.4,991.5 1210.6,992.2 1210.8,992.5 1211.0,996.2 1211.2,997.2 1211.4,1000.0 1211.6,1002.8 1211.8,999.7 1212.0,1009.1 1212.2,996.1 1212.4,997.7 1212.6,1001.9 1212.8,999.2 1213.0,1000.7 1213.2,999.1 1213.4,999.7 1213.6,998.0 1213.8,1000.3 1214.0,994.4 1214.2,1000.4 1214.4,1001.1 1214.6,1003.6 1214.8,998.3 1215.0,1002.2 1215.2,1001.2 1215.4,995.5 1215.6,1003.0 1215.8,1005.8 1216.0,1004.2 1216.2,1003.0 1216.4,1000.7 1216.6,1007.2 1216.8,1006.7 1217.0,1000.7 1217.2,1002.8 1217.4,1001.6 1217.6,1008.9 1217.8,1011.0 1218.0,1008.5 1218.2,1004.8 1218.4,1006.9 1218.6,1002.0 1218.8,1005.0 1219.0,1005.3 1219.2,1006.0 1219.4,1006.6 1219.6,1004.6 1219.8,1009.5 1220.0,1007.8 1220.2,1008.1 1220.4,1012.1 1220.6,1010.2 1220.8,1007.9 1221.0,1007.0 1221.2,1010.2 1221.4,1012.1 1221.6,1011.5 1221.8,1011.4 1222.0,1007.7 1222.2,1004.3 1222.4,1003.9 1222.6,1004.3 1222.8,1006.3 1223.0,1009.5 1223.2,1008.5 1223.4,1008.8 1223.6,1003.6 1223.8,1003.2 1224.0,988.0 1224.0,1003.8 1224.2,1002.3 1224.4,1007.2 1224.6,1006.9 1224.8,1006.0 1225.0,1007.1 1225.2,1007.9 1225.4,1007.7 1225.6,1011.2 1225.8,1009.0 1226.0,1006.0 1226.2,1010.8 1226.4,1010.8 1226.6,1011.3 1226.8,1007.5 1227.0,1007.5 1227.2,1010.6 1227.4,1010.6 1227.6,1010.8 1227.8,1011.7 1228.0,1013.1 1228.2,1010.3 1228.4,1005.2 1228.6,1007.2 1228.8,1008.8 1229.0,1009.3 1229.2,1010.7 1229.4,1009.5 1229.6,1007.4 1229.8,1008.8 1230.0,1004.2 1230.2,1008.3 1230.4,1009.3 1230.6,1004.4 1230.8,1004.7 1231.0,997.1 1231.2,1003.3 1231.4,1006.8 1231.6,1005.6 1231.8,1008.4 1232.0,1007.4 1232.2,1002.6 1232.4,1005.2 1232.6,1007.3 1232.8,1002.5 1233.0,1002.5 1233.2,1005.9 1233.4,1008.4 1233.6,1004.2 1233.8,1000.2 1234.0,1002.1 1234.2,998.9 1234.4,1005.7 1234.6,1003.2 1234.8,1000.9 1235.0,996.3 1235.2,991.8 1235.4,993.0 1235.6,997.1 1235.8,1000.6 1236.0,999.1 1236.2,997.1 1236.4,997.3 1236.6,1008.0 1236.8,1008.0 1237.0,1002.8 1237.2,1004.4 1237.4,1008.0 1237.6,1008.0 1237.8,993.0 1238.0,995.8 1238.2,1000.8 1238.4,1005.4 1238.6,1002.7 1238.8,997.8 1239.0,1003.4 1239.2,1002.1 1239.4,1002.1 1239.6,1003.2 1239.8,996.4 1240.0,988.8 1240.2,993.6 1240.4,1002.9 1240.6,1008.0 1240.8,1008.0 1241.0,1004.6 1241.2,1005.1 1241.4,1000.4 1241.6,1003.9 1241.8,1004.0 1242.0,1003.5 1242.2,1004.8 1242.4,1008.0 1242.6,1002.1 1242.8,1003.5 1243.0,1000.5 1243.2,999.6 1243.4,1003.9 1243.6,1001.1 1243.8,998.9 1244.0,1005.7 1244.2,1005.1 1244.4,1001.6 1244.6,995.0 1244.8,1000.5 1245.0,1002.9 1245.2,998.6 1245.4,1002.9 1245.6,999.2 1245.8,996.8 1246.0,996.7 1246.2,994.0 1246.4,994.5 1246.6,993.8 1246.8,999.2 1247.0,1000.4 1247.2,989.4 1247.4,994.6 1247.6,1001.4 1247.8,999.4 1248.0,1005.3 1248.2,1005.3 1248.4,999.3 1248.6,999.9 1248.8,1003.2 1249.0,1000.6 1249.2,1001.6 1249.4,998.1 1249.6,999.3 1249.8,1003.6 1250.0,1007.2 1250.2,1006.5 1250.4,1003.7 1250.6,1002.6 1250.8,992.4 1251.0,995.9 1251.2,998.9 1251.4,1000.2 1251.6,996.2 1251.8,995.2 1252.0,1000.3 1252.2,1008.0 1252.4,997.4 1252.6,995.7 1252.8,996.5 1253.0,997.4 1253.2,1002.0 1253.4,1003.7 1253.6,1008.0 1253.8,1003.9 1254.0,1006.9 1254.2,1008.0 1254.4,999.3 1254.6,1006.2 1254.8,1001.6 1255.0,1003.3 1255.2,1000.1 1255.4,1007.6 1255.6,1004.7 1255.8,997.1 1256.0,997.8 1256.2,1004.3 1256.4,1007.3 1256.6,1005.5 1256.8,1008.0 1257.0,999.1 1257.2,1002.9 1257.4,1002.9 1257.6,1000.0 1257.8,1003.2 1258.0,1004.1 1258.2,1005.5 1258.4,1005.0 1258.6,1001.0 1258.8,1005.0 1259.0,995.7 1259.2,999.9 1259.4,1006.1 1259.6,1001.8 1259.8,1004.7 1260.0,1001.1 1260.2,999.1 1260.4,1000.0 1260.6,1005.8 1260.8,1006.8 1261.0,997.1 1261.2,1002.0 1261.4,1008.0 1261.6,1008.0 1261.8,1001.3 1262.0,1004.6 1262.2,1002.1 1262.4,1006.4 1262.6,995.7 1262.8,1004.7 1263.0,1002.7 1263.2,1004.9 1263.4,1001.1 1263.6,999.3 1263.8,1001.5 1264.0,1004.3 1264.2,996.5 1264.4,998.1 1264.6,1001.2 1264.8,1005.9 1265.0,1006.2 1265.2,1003.9 1265.4,1003.2 1265.6,1000.9 1265.8,1002.9 1266.0,1001.2 1266.2,997.8 1266.4,1001.2 1266.6,1002.5 1266.8,1003.4 1267.0,1002.6 1267.2,1000.0 1267.4,1008.0 1267.6,1008.0 1267.8,1002.8 1268.0,997.6 1268.2,994.7 1268.4,1002.5 1268.6,999.6 1268.8,1006.1 1269.0,1002.8 1269.2,1003.1 1269.4,1000.4 1269.6,1002.2 1269.8,1005.8 1270.0,1002.9 1270.2,1000.9 1270.4,1000.4 1270.6,997.9 1270.8,1008.0 1271.0,1006.4 1271.2,1006.0 1271.4,1006.2 1271.6,1004.5 1271.8,1008.0 1272.0,980.0 1272.0,1003.9 1272.2,1005.7 1272.4,1001.9 1272.6,1005.6 1272.8,1008.0 1273.0,1008.0 1273.2,1005.6 1273.4,1002.6 1273.6,1003.5 1273.8,1003.4 1274.0,995.4 1274.2,1001.2 1274.4,1004.2 1274.6,1008.0 1274.8,1008.0 1275.0,1008.0 1275.2,1002.7 1275.4,999.0 1275.6,1001.5 1275.8,1003.9 1276.0,1002.3 1276.2,1008.7 1276.4,1006.6 1276.6,1004.4 1276.8,1006.5 1277.0,1002.9 1277.2,1010.4 1277.4,1006.2 1277.6,1004.5 1277.8,1008.7 1278.0,1001.0 1278.2,1005.4 1278.4,1011.0 1278.6,1006.9 1278.8,1007.4 1279.0,1006.9 1279.2,1005.8 1279.4,1001.9 1279.6,997.8 1279.8,1006.8 1280.0,998.6 1280.2,998.2 1280.4,1008.7 1280.6,999.8 1280.8,1005.8 1281.0,1008.7 1281.2,1003.1 1281.4,1001.6 1281.6,1007.0 1281.8,1012.4 1282.0,1011.1 1282.2,1012.2 1282.4,1010.6 1282.6,1008.3 1282.8,1009.1 1283.0,1011.1 1283.2,1005.4 1283.4,1007.9 1283.6,999.7 1283.8,1004.8 1284.0,1009.5 1284.2,1012.8 1284.4,1014.0 1284.6,1010.6 1284.8,1005.8 1285.0,1006.4 1285.2,1002.9 1285.4,1002.6 1285.6,1007.0 1285.8,1004.3 1286.0,1007.0 1286.2,1002.0 1286.4,1002.2 1286.6,999.9 1286.8,1001.0 1287.0,1009.0 1287.2,1004.3 1287.4,1010.5 1287.6,1011.4 1287.8,1004.6 1288.0,1006.3 1288.2,1004.4 1288.4,1008.6 1288.6,1012.1 1288.8,1009.8 1289.0,1009.6 1289.2,1013.4 1289.4,1010.0 1289.6,1003.2 1289.8,1005.8 1290.0,1006.0 1290.2,1007.4 1290.4,1004.8 1290.6,1008.9 1290.8,1014.0 1291.0,1014.0 1291.2,1010.8 1291.4,1002.1 1291.6,1010.0 1291.8,1014.0 1292.0,1008.9 1292.2,1006.7 1292.4,1006.5 1292.6,1013.7 1292.8,1010.5 1293.0,1006.8 1293.2,1007.6 1293.4,1001.2 1293.6,998.4 1293.8,999.6 1294.0,999.1 1294.2,1006.8 1294.4,1010.0 1294.6,1009.2 1294.8,1007.0 1295.0,1003.4 1295.2,1004.6 1295.4,1008.1 1295.6,1011.0 1295.8,1012.8 1296.0,1010.2 1296.2,1007.3 1296.4,1008.4 1296.6,1003.5 1296.8,1001.8 1297.0,1003.9 1297.2,1002.5 1297.4,1003.7 1297.6,1002.6 1297.8,1011.3 1298.0,1008.0 1298.2,1003.3 1298.4,1003.6 1298.6,1003.8 1298.8,1001.0 1299.0,1000.4 1299.2,1003.6 1299.4,1002.5 1299.6,1002.9 1299.8,1005.8 1300.0,999.3 1300.2,996.6 1300.4,1000.9 1300.6,998.5 1300.8,1003.6 1301.0,1009.4 1301.2,1010.2 1301.4,1004.4 1301.6,1004.7 1301.8,1005.7 1302.0,1001.2 1302.2,998.9 1302.4,994.0 1302.6,996.7 1302.8,1003.7 1303.0,1003.3 1303.2,996.5 1303.4,999.9 1303.6,998.9 1303.8,991.9 1304.0,990.6 1304.2,989.1 1304.4,992.6 1304.6,989.2 1304.8,989.2 1305.0,993.8 1305.2,1003.9 1305.4,992.6 1305.6,993.7 1305.8,994.0 1306.0,990.1 1306.2,989.3 1306.4,994.3 1306.6,997.0 1306.8,992.9 1307.0,996.8 1307.2,993.9 1307.4,999.2 1307.6,997.0 1307.8,996.8 1308.0,999.1 1308.2,999.2 1308.4,994.9 1308.6,1000.0 1308.8,995.8 1309.0,989.5 1309.2,990.7 1309.4,990.3 1309.6,989.7 1309.8,998.4 1310.0,999.0 1310.2,993.8 1310.4,991.3 1310.6,996.1 1310.8,1001.3 1311.0,994.7 1311.2,989.6 1311.4,992.7 1311.6,989.7 1311.8,996.9 1312.0,996.5 1312.2,995.4 1312.4,995.9 1312.6,999.8 1312.8,997.1 1313.0,999.1 1313.2,1003.5 1313.4,1002.2 1313.6,996.5 1313.8,1001.2 1314.0,1004.8 1314.2,1002.1 1314.4,1001.2 1314.6,992.7 1314.8,1002.1 1315.0,999.9 1315.2,998.9 1315.4,997.7 1315.6,1002.8 1315.8,1003.8 1316.0,1008.0 1316.2,1008.0 1316.4,1007.7 1316.6,1003.7 1316.8,1000.6 1317.0,1003.5 1317.2,1006.8 1317.4,1003.1 1317.6,998.6 1317.8,999.3 1318.0,985.0 1318.0,998.1 1318.2,997.5 1318.4,996.8 1318.6,996.5 1318.8,995.2 1319.0,1001.8 1319.2,1003.7 1319.4,1000.7 1319.6,995.9 1319.8,1000.1 1320.0,993.0 1320.2,994.2 1320.4,998.5 1320.6,1002.4 1320.8,997.1 1321.0,1000.4 1321.2,1002.0 1321.4,997.1 1321.6,1000.7 1321.8,993.7 1322.0,995.7 1322.2,994.9 1322.4,996.2 1322.6,994.8 1322.8,996.0 1323.0,991.5 1323.2,997.2 1323.4,996.2 1323.6,996.0 1323.8,997.3 1324.0,997.6 1324.2,998.5 1324.4,1000.4 1324.6,998.8 1324.8,997.6 1325.0,1004.3 1325.2,1006.2 1325.4,1003.9 1325.6,996.0 1325.8,995.4 1326.0,1006.3 1326.2,1002.3 1326.4,1000.8 1326.6,1000.7 1326.8,1005.0 1327.0,999.3 1327.2,997.4 1327.4,997.0 1327.6,997.2 1327.8,996.1 1328.0,993.5 1328.2,996.5 1328.4,999.2 1328.6,998.1 1328.8,1002.0 1329.0,1000.3 1329.2,1000.2 1329.4,1003.1 1329.6,1001.4 1329.8,999.6 1330.0,999.5 1330.2,1001.5 1330.4,994.9 1330.6,994.7 1330.8,997.9 1331.0,998.3 1331.2,996.2 1331.4,1001.5 1331.6,1008.0 1331.8,1005.5 1332.0,1003.7 1332.2,1001.4 1332.4,1005.2 1332.6,998.9 1332.8,1001.4 1333.0,1006.7 1333.2,999.4 1333.4,996.7 1333.6,997.3 1333.8,994.6 1334.0,1000.4 1334.2,1001.1 1334.4,999.2 1334.6,1004.8 1334.8,1004.0 1335.0,1008.0 1335.2,1007.1 1335.4,1005.9 1335.6,1008.0 1335.8,1005.7 1336.0,1006.2 1336.2,1001.5 1336.4,995.5 1336.6,1006.2 1336.8,996.9 1337.0,999.7 1337.2,999.8 1337.4,1005.6 1337.6,1008.0 1337.8,1007.4 1338.0,1003.2 1338.2,1001.6 1338.4,998.1 1338.6,1002.2 1338.8,997.1 1339.0,991.6 1339.2,998.2 1339.4,1003.5 1339.6,1006.9 1339.8,1008.0 1340.0,1003.3 1340.2,1000.1 1340.4,996.4 1340.6,1004.7 1340.8,1006.2 1341.0,1000.6 1341.2,1003.5 1341.4,1004.2 1341.6,1005.2 1341.8,1005.5 1342.0,1006.0 1342.2,1004.8 1342.4,1004.2 1342.6,1004.0 1342.8,1000.2 1343.0,999.0 1343.2,1006.2 1343.4,997.8 1343.6,1001.9 1343.8,1001.1 1344.0,1001.3 1344.2,1000.1 1344.4,997.5 1344.6,1000.5 1344.8,1006.0 1345.0,1002.8 1345.2,1000.0 1345.4,1006.8 1345.6,1007.9 1345.8,999.3 1346.0,997.4 1346.2,1002.4 1346.4,997.5 1346.6,1005.0 1346.8,1003.8 1347.0,998.2 1347.2,994.7 1347.4,1000.9 1347.6,1005.1 1347.8,1003.3 1348.0,1004.9 1348.2,998.8 1348.4,997.7 1348.6,994.3 1348.8,1008.4 1349.0,998.5 1349.2,992.4 1349.4,992.5 1349.6,995.4 1349.8,1002.4 1350.0,998.6 1350.2,1001.7 1350.4,995.0 1350.6,994.9 1350.8,995.6 1351.0,994.9 1351.2,998.7 1351.4,992.5 1351.6,997.3 1351.8,1000.0 1352.0,999.0 1352.2,1006.1 1352.4,1001.1 1352.6,993.4 1352.8,992.7 1353.0,995.2 1353.2,996.7 1353.4,995.3 1353.6,992.8 1353.8,996.1 1354.0,996.4 1354.2,999.7 1354.4,1003.1 1354.6,1005.7 1354.8,1002.2 1355.0,1003.7 1355.2,993.6 1355.4,992.9 1355.6,997.2 1355.8,999.2 1356.0,998.9 1356.2,1003.9 1356.4,1000.1 1356.6,1002.1 1356.8,1003.9 1357.0,999.6 1357.2,1006.9 1357.4,1003.5 1357.6,1002.2 1357.8,996.3 1358.0,997.1 1358.2,1001.4 1358.4,1003.1 1358.6,993.3 1358.8,999.6 1359.0,993.3 1359.2,993.3 1359.4,993.8 1359.6,994.5 1359.8,1001.0 1360.0,998.7 1360.2,995.1 1360.4,998.1 1360.6,999.6 1360.8,999.3 1361.0,1002.5 1361.2,1002.8 1361.4,1002.9 1361.6,998.0 1361.8,996.4 1362.0,995.9 1362.2,1006.7 1362.4,1000.6 1362.6,1007.4 1362.8,1006.8 1363.0,1010.3 1363.2,1007.4 1363.4,1006.7 1363.6,1010.7 1363.8,997.7 1364.0,999.2 1364.2,1000.4 1364.4,997.0 1364.6,997.7 1364.8,995.6 1365.0,996.0 1365.2,1000.3 1365.4,1004.1 1365.6,1007.8 1365.8,1005.3 1366.0,1005.1 1366.2,999.8 1366.4,1004.3 1366.6,1006.7 1366.8,1006.8 1367.0,1000.9 1367.2,1000.0 1367.4,997.9 1367.6,999.3 1367.8,996.4 1368.0,1002.0 1368.2,1006.3 1368.4,1000.2 1368.6,1001.3 1368.8,998.2 1369.0,1004.8 1369.2,1003.5 1369.4,996.9 1369.6,996.5 1369.8,996.0 1370.0,998.8 1370.2,1003.3 1370.4,1005.2 1370.6,1006.0 1370.8,1008.7 1371.0,1004.2 1371.2,1003.5 1371.4,1002.9 1371.6,1004.5 1371.8,1004.2 1372.0,1006.9 1372.2,1001.5 1372.4,1004.7 1372.6,1002.9 1372.8,999.9 1373.0,1003.1 1373.2,999.0 1373.4,1003.7 1373.6,1001.5 1373.8,1001.5 1374.0,999.3 1374.2,1000.6 1374.4,1000.0 1374.6,995.3 1374.8,994.9 1375.0,995.4 1375.2,999.7 1375.4,1002.1 1375.6,1004.6 1375.8,999.6 1376.0,999.3 1376.2,997.5 1376.4,1000.3 1376.6,994.8 1376.8,990.6 1377.0,995.5 1377.2,994.7 1377.4,999.5 1377.6,994.8 1377.8,1002.0 1378.0,999.3 1378.2,993.9 1378.4,991.6 1378.6,993.5 1378.8,992.4 1379.0,992.0 1379.2,990.1 1379.4,992.9 1379.6,993.5 1379.8,1001.6 1380.0,1002.2 1380.2,999.0 1380.4,1007.0 1380.6,1002.7 1380.8,1001.0 1381.0,995.6 1381.2,990.2 1381.4,994.2 1381.6,997.8 1381.8,1005.2 1382.0,1004.1 1382.2,994.4 1382.4,996.9 1382.6,1002.4 1382.8,1001.9 1383.0,996.3 1383.2,998.9 1383.4,996.2 1383.6,993.0 1383.8,987.4 1384.0,994.3 1384.2,1003.6 1384.4,1004.4 1384.6,1002.8 1384.8,1000.5 1385.0,1003.3 1385.2,996.0 1385.4,991.3 1385.6,1001.4 1385.8,1000.4 1386.0,1002.4 1386.2,998.0 1386.4,999.5 1386.6,995.3 1386.8,1001.2 1387.0,999.9 1387.2,1000.9 1387.4,992.6 1387.6,992.2 1387.8,993.2 1388.0,994.7 1388.2,992.2 1388.4,990.8 1388.6,990.2 1388.8,997.4 1389.0,993.1 1389.2,998.7 1389.4,1000.6 1389.6,1001.5 1389.8,998.9 1390.0,996.6 1390.2,995.5 1390.4,996.1 1390.6,998.5 1390.8,994.2 1391.0,992.8 1391.2,996.2 1391.4,995.9 1391.6,1000.2 1391.8,997.8 1392.0,991.4 1392.2,1002.7 1392.4,1003.1 1392.6,995.5 1392.8,993.8 1393.0,1000.0 1393.2,997.3 1393.4,993.8 1393.6,998.3 1393.8,1007.0 1394.0,1001.1 1394.2,1000.3 1394.4,1007.0 1394.6,1003.2 1394.8,999.8 1395.0,1000.6 1395.2,1002.8 1395.4,1005.7 1395.6,994.4 1395.8,990.8 1396.0,999.9 1396.2,1001.5 1396.4,998.6 1396.6,993.8 1396.8,997.0 1397.0,989.2 1397.2,993.1 1397.4,998.4 1397.6,995.5 1397.8,1000.8 1398.0,1005.7 1398.2,1002.9 1398.4,999.3 1398.6,994.5 1398.8,998.0 1399.0,990.1 1399.2,990.8 1399.4,990.2 1399.6,994.8 1399.8,998.4 1400.0,984.0 1400.0,997.4 1400.2,998.5 1400.4,1001.3 1400.6,1000.6 1400.8,999.9 1401.0,999.9 1401.2,997.9 1401.4,996.7 1401.6,1002.5 1401.8,998.1 1402.0,996.2 1402.2,997.5 1402.4,994.3 1402.6,1006.0 1402.8,1000.5 1403.0,995.6 1403.2,992.6 1403.4,992.6 1403.6,1001.7 1403.8,996.7 1404.0,1001.4 1404.2,994.1 1404.4,994.3 1404.6,995.2 1404.8,998.0 1405.0,999.1 1405.2,995.2 1405.4,990.6 1405.6,996.2 1405.8,993.2 1406.0,992.7 1406.2,991.4 1406.4,993.9 1406.6,989.0 1406.8,993.8 1407.0,993.4 1407.2,994.3 1407.4,989.8 1407.6,998.3 1407.8,994.7 1408.0,991.9 1408.2,996.0 1408.4,997.3 1408.6,1000.9 1408.8,1001.1 1409.0,1002.8 1409.2,1001.6 1409.4,993.5 1409.6,995.5 1409.8,1003.8 1410.0,998.3 1410.2,998.7 1410.4,995.9 1410.6,994.9 1410.8,993.8 1411.0,994.9 1411.2,991.8 1411.4,989.3 1411.6,998.6 1411.8,992.3 1412.0,999.0 1412.2,995.4 1412.4,1002.3 1412.6,995.5 1412.8,993.1 1413.0,999.2 1413.2,994.1 1413.4,995.4 1413.6,999.5 1413.8,1004.6 1414.0,994.7 1414.2,997.9 1414.4,996.6 1414.6,997.6 1414.8,996.1 1415.0,1001.2 1415.2,995.8 1415.4,996.3 1415.6,990.8 1415.8,991.5 1416.0,995.0 1416.2,995.7 1416.4,994.8 1416.6,990.5 1416.8,997.6 1417.0,994.5 1417.2,995.7 1417.4,998.2 1417.6,999.0 1417.8,995.6 1418.0,1000.4 1418.2,1003.4 1418.4,999.2 1418.6,1003.3 1418.8,997.5 1419.0,998.9 1419.2,996.6 1419.4,994.8 1419.6,993.7 1419.8,1003.3 1420.0,997.7 1420.2,999.3 1420.4,999.3 1420.6,996.1 1420.8,999.4 1421.0,999.2 1421.2,992.5 1421.4,995.4 1421.6,993.3 1421.8,997.3 1422.0,997.8 1422.2,998.5 1422.4,998.5 1422.6,1001.0 1422.8,998.3 1423.0,1001.0 1423.2,1002.3 1423.4,1000.5 1423.6,1001.2 1423.8,1005.5 1424.0,1007.1 1424.2,1003.5 1424.4,998.2 1424.6,1002.8 1424.8,996.9 1425.0,985.0 1425.0,998.6 1425.2,1002.5 1425.4,995.1 1425.6,997.2 1425.8,1001.9 1426.0,997.3 1426.2,1003.5 1426.4,998.9 1426.6,998.6 1426.8,999.0 1427.0,1005.9 1427.2,1001.5 1427.4,1009.1 1427.6,1011.9 1427.8,1004.2 1428.0,998.5 1428.2,1000.0 1428.4,1000.3 1428.6,1007.2 1428.8,1007.2 1429.0,999.7 1429.2,1001.1 1429.4,1003.1 1429.6,999.2 1429.8,997.5 1430.0,1003.2 1430.2,1004.8 1430.4,999.5 1430.6,1003.0 1430.8,1012.8 1431.0,1010.5 1431.2,1006.2 1431.4,1010.3 1431.6,1008.9 1431.8,1007.8 1432.0,1002.1 1432.2,1001.4 1432.4,995.6 1432.6,995.6 1432.8,995.6 1433.0,1003.2 1433.2,1007.8 1433.4,1003.8 1433.6,1004.7 1433.8,1003.7 1434.0,1008.2 1434.2,1004.3 1434.4,997.7 1434.6,999.2 1434.8,1002.1 1435.0,1002.5 1435.2,997.9 1435.4,1002.7 1435.6,1002.1 1435.8,1003.0 1436.0,1005.1 1436.2,1009.7 1436.4,1009.4 1436.6,1004.4 1436.8,1004.3 1437.0,998.1 1437.2,995.9 1437.4,998.7 1437.6,996.8 1437.8,1003.9 1438.0,1005.0 1438.2,1006.1 1438.4,1000.0 1438.6,997.1 1438.8,997.1 1439.0,996.8 1439.2,1002.5 1439.4,1000.7 1439.6,996.0 1439.8,996.0 1440.0,999.3 1440.2,999.0 1440.4,1000.0 1440.6,996.8 1440.8,1002.7 1441.0,1004.4 1441.2,1009.4 1441.4,1005.9 1441.6,1007.5 1441.8,998.7 1442.0,996.2 1442.2,1000.4 1442.4,998.8 1442.6,1001.2 1442.8,1000.7 1443.0,997.4 1443.2,999.6 1443.4,1005.8 1443.6,1004.8 1443.8,1004.2 1444.0,1008.2 1444.2,1006.6 1444.4,1001.6 1444.6,1003.9 1444.8,1004.2 1445.0,1002.2 1445.2,1005.2 1445.4,1004.8 1445.6,1011.3 1445.8,1010.0 1446.0,1005.0 1446.2,1001.4 1446.4,1005.9 1446.6,1004.8 1446.8,1002.6 1447.0,1000.6 1447.2,1000.0 1447.4,999.8 1447.6,1006.3 1447.8,1003.8 1448.0,998.4 1448.2,1002.1 1448.4,1002.4 1448.6,1002.6 1448.8,1000.2 1449.0,1000.7 1449.2,1004.1 1449.4,999.6 1449.6,1006.0 1449.8,1007.9 1450.0,1004.4 1450.2,1003.6 1450.4,1004.9 1450.6,1002.4 1450.8,1001.3 1451.0,997.4 1451.2,1002.7 1451.4,1003.8 1451.6,999.3 1451.8,999.8 1452.0,1009.3 1452.2,1000.5 1452.4,1006.9 1452.6,1007.9 1452.8,1003.3 1453.0,1003.8 1453.2,1009.8 1453.4,1010.0 1453.6,1004.9 1453.8,1005.0 1454.0,998.7 1454.2,1000.3 1454.4,1004.6 1454.6,998.3 1454.8,1004.6 1455.0,1004.5 1455.2,1001.3 1455.4,1000.5 1455.6,993.3 1455.8,1008.4 1456.0,1002.5 1456.2,1001.7 1456.4,996.3 1456.6,991.2 1456.8,989.1 1457.0,988.6 1457.2,992.9 1457.4,1003.4 1457.6,1002.4 1457.8,1002.9 1458.0,1001.0 1458.2,1005.5 1458.4,993.7 1458.6,1001.6 1458.8,1005.6 1459.0,1006.4 1459.2,1006.0 1459.4,996.6 1459.6,997.2 1459.8,995.5 1460.0,997.5 1460.2,1000.5 1460.4,1010.0 1460.6,1002.6 1460.8,998.6 1461.0,1010.2 1461.2,1002.2 1461.4,1004.4 1461.6,998.2 1461.8,1000.7 1462.0,1010.3 1462.2,1002.9 1462.4,996.5 1462.6,997.0 1462.8,1003.9 1463.0,1000.7 1463.2,1004.3 1463.4,1006.0 1463.6,1010.3 1463.8,1004.4 1464.0,1001.3 1464.2,997.0 1464.4,992.9 1464.6,991.4 1464.8,1001.2 1465.0,989.2 1465.2,994.8 1465.4,998.3 1465.6,1001.2 1465.8,993.1 1466.0,1005.9 1466.2,999.7 1466.4,992.2 1466.6,997.1 1466.8,994.1 1467.0,997.2 1467.2,991.9 1467.4,991.7 1467.6,989.8 1467.8,995.9 1468.0,998.3 1468.2,1000.3 1468.4,999.4 1468.6,998.1 1468.8,994.8 1469.0,1001.8 1469.2,1000.9 1469.4,996.7 1469.6,1004.3 1469.8,1009.0 1470.0,1002.6 1470.2,1007.6 1470.4,1005.1 1470.6,1000.3 1470.8,1003.5 1471.0,994.7 1471.2,999.6 1471.4,1004.7 1471.6,1006.3 1471.8,998.6 1472.0,994.6 1472.2,1002.3 1472.4,995.2 1472.6,991.6 1472.8,994.4 1473.0,1001.2 1473.2,999.8 1473.4,1002.0 1473.6,991.0 1473.8,989.9 1474.0,988.2 1474.2,992.3 1474.4,993.5 1474.6,994.6 1474.8,989.0 1475.0,990.1 1475.2,1003.6 1475.4,997.5 1475.6,995.9 1475.8,988.3 1476.0,996.2 1476.2,996.3 1476.4,1004.7 1476.6,1007.0 1476.8,1005.2 1477.0,996.1 1477.2,1000.5 1477.4,993.4 1477.6,992.1 1477.8,995.6 1478.0,1003.3 1478.2,999.1 1478.4,997.4 1478.6,997.8 1478.8,1000.6 1479.0,995.5 1479.2,995.2 1479.4,1001.8 1479.6,1004.6 1479.8,999.8 1480.0,1001.0 1480.2,1002.6 1480.4,1005.4 1480.6,1003.3 1480.8,1002.8 1481.0,1001.6 1481.2,996.3 1481.4,994.6 1481.6,993.8 1481.8,989.4 1482.0,1000.4 1482.2,999.3 1482.4,999.0 1482.6,991.4 1482.8,989.9 1483.0,994.0 1483.2,1002.2 1483.4,996.8 1483.6,990.0 1483.8,992.3 1484.0,988.9 1484.2,1000.6 1484.4,991.1 1484.6,1007.0 1484.8,1002.9 1485.0,1003.2 1485.2,997.9 1485.4,998.7 1485.6,995.0 1485.8,1000.8 1486.0,1001.9 1486.2,1004.6 1486.4,1010.5 1486.6,1004.0 1486.8,1005.4 1487.0,1005.4 1487.2,1000.0 1487.4,1002.9 1487.6,999.4 1487.8,1002.4 1488.0,993.9 1488.2,996.9 1488.4,997.7 1488.6,991.8 1488.8,996.1 1489.0,995.9 1489.2,996.7 1489.4,1004.1 1489.6,997.7 1489.8,995.5 1490.0,992.1 1490.2,996.7 1490.4,1002.2 1490.6,997.1 1490.8,1002.5 1491.0,1001.1 1491.2,995.2 1491.4,997.1 1491.6,999.4 1491.8,989.4 1492.0,994.5 1492.2,996.2 1492.4,997.6 1492.6,989.5 1492.8,990.0 1493.0,989.5 1493.2,990.0 1493.4,1001.8 1493.6,1002.4 1493.8,999.4 1494.0,997.9 1494.2,1006.8 1494.4,1005.0 1494.6,1000.7 1494.8,1002.0 1495.0,1004.2 1495.2,996.9 1495.4,995.2 1495.6,1001.7 1495.8,1006.9 1496.0,1003.9 1496.2,1010.2 1496.4,1009.5 1496.6,1002.3 1496.8,1000.4 1497.0,1005.1 1497.2,1001.6 1497.4,1002.2 1497.6,1003.1 1497.8,996.9 1498.0,998.3 1498.2,996.9 1498.4,1001.7 1498.6,1004.8 1498.8,1000.8 1499.0,1004.4 1499.2,1004.4 1499.4,998.2 1499.6,999.6 1499.8,1001.9 1500.0,995.7 1500.2,1008.8 1500.4,1009.5 1500.6,997.7 1500.8,1001.0 1501.0,1003.4 1501.2,997.8 1501.4,996.0 1501.6,1008.2 1501.8,1005.4 1502.0,997.8 1502.2,1005.9 1502.4,1002.6 1502.6,997.5 1502.8,999.7 1503.0,999.7 1503.2,996.6 1503.4,993.7 1503.6,998.9 1503.8,998.7 1504.0,1003.2 1504.2,1001.1 1504.4,1002.8 1504.6,1006.9 1504.8,1005.1 1505.0,1006.5 1505.2,1007.5 1505.4,997.6 1505.6,995.2 1505.8,1005.6 1506.0,1002.6 1506.2,999.2 1506.4,994.3 1506.6,1004.4 1506.8,1012.6 1507.0,1008.6 1507.2,1010.2 1507.4,995.1 1507.6,992.4 1507.8,1001.5 1508.0,1003.6 1508.2,998.8 1508.4,1007.5 1508.6,995.3 1508.8,995.9 1509.0,1007.3 1509.2,1003.2 1509.4,995.9 1509.6,995.1 1509.8,991.0 1510.0,992.9 1510.2,998.8 1510.4,999.3 1510.6,1003.5 1510.8,994.8 1511.0,994.1 1511.2,1003.2 1511.4,1003.4 1511.6,1003.1 1511.8,1003.0 1512.0,1006.6 1512.2,1001.3 1512.4,1006.6 1512.6,998.9 1512.8,1004.7 1513.0,999.9 1513.2,996.5 1513.4,1006.1 1513.6,998.0 1513.8,995.9 1514.0,994.8 1514.2,996.4 1514.4,994.3 1514.6,999.8 1514.8,997.7 1515.0,999.9 1515.2,991.2 1515.4,987.1 1515.6,997.6 1515.8,1000.6 1516.0,999.1 1516.2,991.8 1516.4,995.9 1516.6,990.2 1516.8,999.5 1517.0,995.8 1517.2,994.8 1517.4,990.4 1517.6,995.5 1517.8,1000.8 1518.0,996.0 1518.2,1004.6 1518.4,1003.5 1518.6,998.8 1518.8,996.0 1519.0,987.3 1519.2,993.9 1519.4,993.7 1519.6,992.1 1519.8,996.5 1520.0,1002.5 1520.2,995.6 1520.4,997.0 1520.6,991.1 1520.8,995.3 1521.0,996.6 1521.2,992.2 1521.4,998.2 1521.6,1000.8 1521.8,999.6 1522.0,996.2 1522.2,996.4 1522.4,1000.2 1522.6,1002.6 1522.8,995.4 1523.0,1003.2 1523.2,996.4 1523.4,994.8 1523.6,1005.3 1523.8,999.3 1524.0,991.5 1524.2,992.0 1524.4,1000.9 1524.6,996.7 1524.8,996.5 1525.0,993.7 1525.2,988.3 1525.4,989.5 1525.6,993.2 1525.8,990.4 1526.0,990.8 1526.2,994.4 1526.4,993.4 1526.6,991.2 1526.8,992.1 1527.0,993.6 1527.2,995.6 1527.4,996.5 1527.6,991.6 1527.8,990.4 1528.0,997.4 1528.2,996.8 1528.4,989.5 1528.6,987.8 1528.8,992.3 1529.0,998.5 1529.2,1003.9 1529.4,1000.5 1529.6,999.8 1529.8,993.0 1530.0,996.3 1530.2,989.7 1530.4,991.7 1530.6,989.9 1530.8,995.1 1531.0,995.7 1531.2,998.5 1531.4,997.2 1531.6,998.6 1531.8,1008.6 1532.0,1002.6 1532.2,1001.1 1532.4,1008.0 1532.6,1000.6 1532.8,1002.4 1533.0,1000.1 1533.2,997.3 1533.4,991.5 1533.6,1001.5 1533.8,1002.6 1534.0,996.2 1534.2,994.6 1534.4,995.8 1534.6,997.7 1534.8,998.6 1535.0,1005.0 1535.2,1004.4 1535.4,1003.6 1535.6,999.7 1535.8,1004.7 1536.0,1000.9 1536.2,1001.5 1536.4,1000.8 1536.6,1003.7 1536.8,999.3 1537.0,995.8 1537.2,999.1 1537.4,1006.6 1537.6,1003.3 1537.8,996.3 1538.0,998.3 1538.2,1003.5 1538.4,1003.2 1538.6,1006.1 1538.8,1006.7 1539.0,998.9 1539.2,999.6 1539.4,997.6 1539.6,990.5 1539.8,992.7 1540.0,995.5 1540.2,994.3 1540.4,998.5 1540.6,997.4 1540.8,991.5 1541.0,1002.0 1541.2,998.2 1541.4,997.8 1541.6,999.8 1541.8,1005.0 1542.0,1001.4 1542.2,1001.5 1542.4,995.9 1542.6,999.6 1542.8,996.5 1543.0,1002.7 1543.2,1002.8 1543.4,1003.2 1543.6,1009.1 1543.8,1005.6 1544.0,998.2 1544.2,998.0 1544.4,996.5 1544.6,996.7 1544.8,999.5 1545.0,1001.2 1545.2,1003.1 1545.4,1003.2 1545.6,999.7 1545.8,1000.5 1546.0,999.3 1546.2,1003.2 1546.4,1005.8 1546.6,1007.1 1546.8,1003.7 1547.0,999.0 1547.2,994.6 1547.4,997.1 1547.6,998.1 1547.8,994.5 1548.0,999.6 1548.2,998.4 1548.4,997.2 1548.6,989.7 1548.8,1000.3 1549.0,1005.5 1549.2,999.5 1549.4,994.7 1549.6,998.7 1549.8,995.5 1550.0,997.1 1550.2,1000.3 1550.4,1001.2 1550.6,1007.8 1550.8,989.0 1551.0,994.1 1551.2,1000.1 1551.4,999.3 1551.6,1004.7 1551.8,1001.3 1552.0,1001.5 1552.2,1000.2 1552.4,994.7 1552.6,995.1 1552.8,997.4 1553.0,997.7 1553.2,993.7 1553.4,992.7 1553.6,996.8 1553.8,998.5 1554.0,1001.3 1554.2,1000.2 1554.4,1003.8 1554.6,1004.8 1554.8,1002.1 1555.0,1004.9 1555.2,1002.0 1555.4,998.6 1555.6,1002.4 1555.8,995.0 1556.0,997.3 1556.2,997.9 1556.4,1006.9 1556.6,1004.8 1556.8,1002.1 1557.0,997.6 1557.2,1008.7 1557.4,1001.2 1557.6,998.6 1557.8,994.4 1558.0,1002.7 1558.2,998.0 1558.4,1005.5 1558.6,1003.6 1558.8,1003.8 1559.0,1003.2 1559.2,1003.7 1559.4,1003.3 1559.6,997.4 1559.8,997.1 1560.0,1005.9 1560.2,1004.1 1560.4,1006.9 1560.6,1003.4 1560.8,998.8 1561.0,999.2 1561.2,1003.9 1561.4,1005.6 1561.6,1002.4 1561.8,1004.4 1562.0,1004.9 1562.2,1009.7 1562.4,1004.3 1562.6,1003.3 1562.8,1003.2 1563.0,1006.2 1563.2,999.0 1563.4,997.3 1563.6,995.4 1563.8,1005.2 1564.0,1002.4 1564.2,1006.8 1564.4,1004.6 1564.6,1002.5 1564.8,994.6 1565.0,1005.6 1565.2,1007.8 1565.4,1006.3 1565.6,1003.6 1565.8,1002.0 1566.0,1006.9 1566.2,1001.1 1566.4,997.0 1566.6,1003.6 1566.8,1001.8 1567.0,1005.3 1567.2,1003.8 1567.4,995.6 1567.6,999.5 1567.8,995.4 1568.0,996.2 1568.2,999.0 1568.4,1004.9 1568.6,1002.9 1568.8,998.2 1569.0,985.0 1569.0,1005.0 1569.2,1000.6 1569.4,991.8 1569.6,1003.8 1569.8,999.1 1570.0,1005.1 1570.2,1006.2 1570.4,1006.2 1570.6,1000.2 1570.8,1010.6 1571.0,1010.7 1571.2,1010.0 1571.4,1010.7 1571.6,1003.7 1571.8,1005.0 1572.0,996.6 1572.2,1006.1 1572.4,1003.2 1572.6,1007.1 1572.8,1001.2 1573.0,1011.7 1573.2,1007.2 1573.4,1003.1 1573.6,1002.8 1573.8,1001.5 1574.0,1004.0 1574.2,1008.9 1574.4,1005.5 1574.6,1007.2 1574.8,994.8 1575.0,996.6 1575.2,1000.5 1575.4,1004.0 1575.6,1005.4 1575.8,1010.4 1576.0,1010.3 1576.2,1006.3 1576.4,996.8 1576.6,1000.3 1576.8,1006.0 1577.0,1006.8 1577.2,1001.9 1577.4,1003.2 1577.6,1001.9 1577.8,1004.1 1578.0,1002.2 1578.2,999.8 1578.4,1011.7 1578.6,1012.0 1578.8,1008.5 1579.0,1001.3 1579.2,1011.1 1579.4,1000.1 1579.6,994.1 1579.8,1006.3 1580.0,1009.8 1580.2,1012.0 1580.4,1009.2 1580.6,1005.0 1580.8,1006.2 1581.0,1008.8 1581.2,997.2 1581.4,1002.9 1581.6,1003.2 1581.8,1008.1 1582.0,1010.3 1582.2,1004.6 1582.4,999.0 1582.6,1005.5 1582.8,1000.7 1583.0,1003.6 1583.2,1004.9 1583.4,1009.6 1583.6,1006.3 1583.8,1003.9 1584.0,1005.9 1584.2,1006.4 1584.4,1011.2 1584.6,1008.5 1584.8,1003.5 1585.0,996.2 1585.2,1004.7 1585.4,1011.1 1585.6,1001.9 1585.8,1009.1 1586.0,1009.7 1586.2,1008.7 1586.4,1009.4 1586.6,1003.0 1586.8,1005.1 1587.0,1002.2 1587.2,1002.2 1587.4,1002.0 1587.6,1000.6 1587.8,1008.9 1588.0,993.9 1588.2,1007.0 1588.4,1001.5 1588.6,999.8 1588.8,1003.0 1589.0,1009.2 1589.2,1010.5 1589.4,1006.9 1589.6,1008.9 1589.8,1006.1 1590.0,1011.3 1590.2,1010.3 1590.4,1012.0 1590.6,1012.0 1590.8,1007.7 1591.0,1003.9 1591.2,1005.8 1591.4,1009.8 1591.6,1012.0 1591.8,1008.1 1592.0,1000.3 1592.2,1003.1 1592.4,1002.6 1592.6,1004.6 1592.8,1007.5 1593.0,1000.8 1593.2,1003.8 1593.4,998.3 1593.6,1007.9 1593.8,1008.1 1594.0,1004.1 1594.2,1001.2 1594.4,1008.0 1594.6,1007.1 1594.8,1009.5 1595.0,1007.9 1595.2,1004.6 1595.4,1006.6 1595.6,1004.1 1595.8,1008.2 1596.0,1008.3 1596.2,1003.5 1596.4,1001.7 1596.6,1001.8 1596.8,1011.4 1597.0,1004.0 1597.2,1003.9 1597.4,1007.4 1597.6,1004.8 1597.8,1006.1 1598.0,1002.4 1598.2,1009.9 1598.4,1008.2 1598.6,1008.2 1598.8,1008.6 1599.0,1009.1 1599.2,1004.9 1599.4,998.2 1599.6,1004.0 1599.8,1007.4 1600.0,1004.0 1600.2,1003.6 1600.4,1000.0 1600.6,1003.1 1600.8,1007.1 1601.0,1002.4 1601.2,1004.7 1601.4,1001.3 1601.6,1007.7 1601.8,1005.4 1602.0,1000.8 1602.2,1008.8 1602.4,1002.6 1602.6,999.5 1602.8,1002.3 1603.0,1004.2 1603.2,1008.3 1603.4,1002.4 1603.6,1001.2 1603.8,1007.2 1604.0,1008.1 1604.2,1000.4 1604.4,1001.6 1604.6,1006.1 1604.8,1005.9 1605.0,999.7 1605.2,1001.1 1605.4,1004.2 1605.6,1005.0 1605.8,1003.9 1606.0,998.1 1606.2,996.5 1606.4,1003.6 1606.6,998.2 1606.8,1008.2 1607.0,1008.3 1607.2,1002.7 1607.4,1005.3 1607.6,1001.3 1607.8,1000.6 1608.0,1000.0 1608.2,1001.3 1608.4,1003.0 1608.6,1007.8 1608.8,1010.8 1609.0,1000.9 1609.2,998.1 1609.4,1006.1 1609.6,1008.7 1609.8,1003.2 1610.0,999.5 1610.2,1009.3 1610.4,1003.1 1610.6,1002.0 1610.8,997.0 1611.0,999.7 1611.2,1005.4 1611.4,1007.4 1611.6,1001.8 1611.8,1003.8 1612.0,1004.0 1612.2,1005.8 1612.4,1002.8 1612.6,1001.3 1612.8,999.0 1613.0,1001.3 1613.2,1001.5 1613.4,1000.4 1613.6,1000.5 1613.8,1000.0 1614.0,996.2 1614.2,1006.4 1614.4,1007.3 1614.6,1002.8 1614.8,1000.4 1615.0,1002.0 1615.2,1009.3 1615.4,1002.4 1615.6,1007.6 1615.8,997.7 1616.0,999.8 1616.2,999.8 1616.4,1001.0 1616.6,997.3 1616.8,1004.8 1617.0,1005.0 1617.2,1006.7 1617.4,1003.7 1617.6,1003.3 1617.8,1005.1 1618.0,1000.0 1618.2,1003.9 1618.4,1001.0 1618.6,1001.6 1618.8,1001.5 1619.0,1003.7 1619.2,1004.5 1619.4,1001.4 1619.6,997.5 1619.8,1004.0 1620.0,1003.4 1620.2,999.5 1620.4,996.9 1620.6,1004.7 1620.8,1003.5 1621.0,1003.0 1621.2,1002.3 1621.4,998.8 1621.6,998.2 1621.8,1004.8 1622.0,1003.5 1622.2,1003.7 1622.4,1005.0 1622.6,1007.6 1622.8,1012.0 1623.0,1011.7 1623.2,1012.0 1623.4,1004.6 1623.6,1002.7 1623.8,1003.7 1624.0,1002.3 1624.2,998.8 1624.4,999.6 1624.6,1003.1 1624.8,1004.5 1625.0,1009.6 1625.2,1007.1 1625.4,1000.4 1625.6,1001.0 1625.8,1002.1 1626.0,1001.2 1626.2,999.6 1626.4,1003.0 1626.6,1007.2 1626.8,998.0 1627.0,1000.1 1627.2,1007.3 1627.4,1012.0 1627.6,1004.6 1627.8,1007.1 1628.0,1002.3 1628.2,1000.2 1628.4,1004.3 1628.6,1007.3 1628.8,1010.1 1629.0,1007.5 1629.2,1006.7 1629.4,1008.3 1629.6,1007.7 1629.8,1012.0 1630.0,1009.3 1630.2,1007.5 1630.4,1004.2 1630.6,999.3 1630.8,1002.8 1631.0,1006.5 1631.2,1008.0 1631.4,1007.2 1631.6,1004.8 1631.8,1008.5 1632.0,1011.8 1632.2,1005.0 1632.4,1004.3 1632.6,1003.7 1632.8,999.6 1633.0,999.7 1633.2,997.9 1633.4,1001.9 1633.6,1004.4 1633.8,1010.6 1634.0,1004.7 1634.2,1009.1 1634.4,1005.9 1634.6,1006.5 1634.8,1004.6 1635.0,1003.2 1635.2,1012.0 1635.4,1011.1 1635.6,1009.4 1635.8,1006.8 1636.0,1002.4 1636.2,1005.6 1636.4,999.8 1636.6,1008.2 1636.8,1005.0 1637.0,1007.3 1637.2,1012.0 1637.4,1003.9 1637.6,1001.9 1637.8,1003.3 1638.0,1003.8 1638.2,1005.1 1638.4,1003.5 1638.6,1003.9 1638.8,999.9 1639.0,1002.6 1639.2,1008.6 1639.4,1005.3 1639.6,1011.2 1639.8,1006.3 1640.0,987.0 1640.0,1000.9 1640.2,1006.3 1640.4,1006.6 1640.6,1000.4 1640.8,999.6 1641.0,1001.5 1641.2,997.9 1641.4,999.9 1641.6,998.8 1641.8,998.8 1642.0,1002.3 1642.2,1003.8 1642.4,1006.9 1642.6,1006.9 1642.8,1010.8 1643.0,1002.9 1643.2,1005.3 1643.4,1006.9 1643.6,1001.8 1643.8,997.5 1644.0,997.6 1644.2,998.0 1644.4,1002.6 1644.6,1001.1 1644.8,1002.8 1645.0,1004.9 1645.2,1007.0 1645.4,1008.6 1645.6,1004.3 1645.8,1000.8 1646.0,997.5 1646.2,1001.1 1646.4,998.8 1646.6,996.8 1646.8,1002.2 1647.0,999.3 1647.2,999.7 1647.4,1005.4 1647.6,1001.6 1647.8,1005.2 1648.0,1001.6 1648.2,1005.8 1648.4,1006.8 1648.6,1006.0 1648.8,1002.2 1649.0,1004.6 1649.2,1004.9 1649.4,1004.6 1649.6,1005.8 1649.8,1001.6 1650.0,1008.2 1650.2,1009.8 1650.4,1001.9 1650.6,1002.6 1650.8,1003.2 1651.0,1006.8 1651.2,1005.1 1651.4,1010.7 1651.6,1006.3 1651.8,1003.6 1652.0,1004.3 1652.2,1003.7 1652.4,1000.1 1652.6,1002.4 1652.8,1002.0 1653.0,1001.1 1653.2,1000.6 1653.4,1007.5 1653.6,1005.0 1653.8,1005.3 1654.0,999.4 1654.2,999.9 1654.4,1009.6 1654.6,1010.3 1654.8,1009.7 1655.0,1006.2 1655.2,1002.2 1655.4,1003.4 1655.6,1005.1 1655.8,998.8 1656.0,1003.1 1656.2,1002.7 1656.4,1002.9 1656.6,1003.7 1656.8,1002.4 1657.0,996.4 1657.2,1001.3 1657.4,1002.3 1657.6,1003.7 1657.8,1001.2 1658.0,999.9 1658.2,1001.1 1658.4,1000.1 1658.6,1004.2 1658.8,1008.8 1659.0,1011.6 1659.2,1010.9 1659.4,1011.5 1659.6,1007.4 1659.8,1005.4 1660.0,1004.4 1660.2,999.2 1660.4,1002.3 1660.6,1002.8 1660.8,1002.0 1661.0,1004.3 1661.2,1009.0 1661.4,1003.4 1661.6,1008.4 1661.8,1010.7 1662.0,1007.5 1662.2,1009.5 1662.4,1006.5 1662.6,1005.6 1662.8,1007.1 1663.0,1004.2 1663.2,1005.0 1663.4,1004.6 1663.6,1009.4 1663.8,1004.8 1664.0,1006.5 1664.2,1003.4 1664.4,1007.4 1664.6,1009.2 1664.8,1008.8 1665.0,1006.9 1665.2,1005.0 1665.4,1009.3 1665.6,1009.9 1665.8,1009.1 1666.0,1007.6 1666.2,1004.6 1666.4,1002.9 1666.6,996.7 1666.8,1003.1 1667.0,1011.1 1667.2,1008.1 1667.4,1012.1 1667.6,1009.1 1667.8,1010.0 1668.0,1010.0 1668.2,1003.2 1668.4,999.8 1668.6,999.8 1668.8,1003.0 1669.0,1004.2 1669.2,1007.0 1669.4,1008.1 1669.6,1006.5 1669.8,1007.6 1670.0,1012.9 1670.2,1010.8 1670.4,1005.2 1670.6,1003.4 1670.8,998.5 1671.0,1000.2 1671.2,1003.2 1671.4,1003.6 1671.6,1007.2 1671.8,1007.9 1672.0,1000.5 1672.2,1002.9 1672.4,1002.4 1672.6,1002.4 1672.8,999.6 1673.0,1000.7 1673.2,1010.2 1673.4,1007.4 1673.6,1002.7 1673.8,1007.1 1674.0,1006.6 1674.2,1006.6 1674.4,997.1 1674.6,999.7 1674.8,1009.4 1675.0,1003.3 1675.2,998.7 1675.4,997.8 1675.6,1007.7 1675.8,1002.6 1676.0,1003.6 1676.2,996.6 1676.4,1003.0 1676.6,1008.0 1676.8,1003.2 1677.0,1008.3 1677.2,1000.4 1677.4,991.0 1677.6,999.5 1677.8,993.8 1678.0,1006.7 1678.2,1008.2 1678.4,999.7 1678.6,997.6 1678.8,997.4 1679.0,1005.1 1679.2,1008.7 1679.4,998.4 1679.6,996.9 1679.8,999.8 1680.0,999.4 1680.2,1002.1 1680.4,994.9 1680.6,998.4 1680.8,1000.2 1681.0,997.3 1681.2,999.6 1681.4,995.1 1681.6,1002.0 1681.8,996.6 1682.0,999.0 1682.2,1004.7 1682.4,999.9 1682.6,994.8 1682.8,1001.0 1683.0,997.3 1683.2,999.9 1683.4,1003.7 1683.6,1003.8 1683.8,1001.3 1684.0,996.6 1684.2,999.8 1684.4,1009.6 1684.6,1004.1 1684.8,1001.0 1685.0,1000.9 1685.2,1001.9 1685.4,1001.6 1685.6,1004.9 1685.8,1007.6 1686.0,1000.0 1686.2,1000.0 1686.4,1002.6 1686.6,1005.7 1686.8,1003.4 1687.0,1003.6 1687.2,1010.3 1687.4,1000.3 1687.6,1000.1 1687.8,996.1 1688.0,1000.0 1688.2,1005.5 1688.4,1004.4 1688.6,998.9 1688.8,1010.7 1689.0,1004.6 1689.2,1004.1 1689.4,1003.2 1689.6,1005.3 1689.8,1006.7 1690.0,1009.2 1690.2,1001.6 1690.4,1002.2 1690.6,1003.5 1690.8,1009.1 1691.0,1003.0 1691.2,1003.8 1691.4,1005.0 1691.6,998.0 1691.8,999.7 1692.0,1004.2 1692.2,999.4 1692.4,1000.9 1692.6,999.9 1692.8,1002.7 1693.0,1000.1 1693.2,1007.3 1693.4,1010.0 1693.6,1002.1 1693.8,998.6 1694.0,999.4 1694.2,994.1 1694.4,1007.3 1694.6,1008.0 1694.8,1002.2 1695.0,1000.0 1695.2,999.6 1695.4,1003.0 1695.6,1006.0 1695.8,1004.7 1696.0,1000.0 1696.2,996.7 1696.4,1002.5 1696.6,1002.4 1696.8,1002.7 1697.0,1002.6 1697.2,1011.4 1697.4,1003.4 1697.6,997.4 1697.8,1007.5 1698.0,1003.7 1698.2,1004.8 1698.4,1013.0 1698.6,1012.9 1698.8,1013.0 1699.0,1004.0 1699.2,995.6 1699.4,1000.7 1699.6,1005.9 1699.8,1002.6 1700.0,1003.2 1700.2,999.7 1700.4,1002.5 1700.6,995.8 1700.8,1001.2 1701.0,1002.0 1701.2,998.7 1701.4,1006.5 1701.6,1004.0 1701.8,997.9 1702.0,1002.1 1702.2,1005.9 1702.4,1003.9 1702.6,1001.4 1702.8,999.3 1703.0,1003.5 1703.2,1004.8 1703.4,1002.1 1703.6,994.6 1703.8,996.9 1704.0,999.1 1704.2,1002.2 1704.4,1009.5 1704.6,1008.0 1704.8,1005.8 1705.0,1005.7 1705.2,1004.4 1705.4,1003.0 1705.6,997.7 1705.8,998.5 1706.0,998.1 1706.2,1006.7 1706.4,1000.1 1706.6,998.2 1706.8,998.6 1707.0,1005.0 1707.2,1000.3 1707.4,994.5 1707.6,998.3 1707.8,1001.7 1708.0,992.1 1708.2,992.5 1708.4,996.4 1708.6,998.3 1708.8,1003.1 1709.0,1002.5 1709.2,1003.1 1709.4,1005.3 1709.6,1010.2 1709.8,1007.9 1710.0,993.9 1710.2,1007.1 1710.4,1000.9 1710.6,1004.1 1710.8,1006.9 1711.0,1000.7 1711.2,1005.4 1711.4,1002.3 1711.6,995.8 1711.8,999.0 1712.0,1002.8 1712.2,1002.1 1712.4,1007.5 1712.6,1001.1 1712.8,999.3 1713.0,1003.9 1713.2,1004.7 1713.4,1009.9 1713.6,1004.4 1713.8,1004.6 1714.0,1010.7 1714.2,1013.0 1714.4,1001.7 1714.6,1004.8 1714.8,1001.7 1715.0,1004.9 1715.2,1003.0 1715.4,1007.7 1715.6,1002.0 1715.8,1007.6 1716.0,1001.6 1716.2,1006.3 1716.4,1009.8 1716.6,1013.0 1716.8,1005.0 1717.0,1000.6 1717.2,1002.3 1717.4,1010.4 1717.6,1006.2 1717.8,1006.7 1718.0,1006.7 1718.2,1004.3 1718.4,999.7 1718.6,1011.7 1718.8,1006.9 1719.0,1002.7 1719.2,1011.4 1719.4,1010.1 1719.6,1003.7 1719.8,1004.2 1720.0,998.6 1720.2,1005.5 1720.4,1007.1 1720.6,1004.9 1720.8,1004.6 1721.0,1006.3 1721.2,1002.3 1721.4,999.0 1721.6,997.1 1721.8,1002.7 1722.0,1007.7 1722.2,1005.7 1722.4,1007.9 1722.6,1006.8 1722.8,1009.3 1723.0,1003.8 1723.2,999.4 1723.4,993.3 1723.6,999.2 1723.8,1001.0 1724.0,999.2 1724.2,1001.3 1724.4,1010.3 1724.6,1000.8 1724.8,999.1" fill="none" stroke="#000" stroke-width="2.0" stroke-linejoin="round"/>
</g>
<path d="M1726,112 V455" stroke="#1f77b4" stroke-width="2" stroke-dasharray="2 3.45"/>
<path d="M1726,480 V822" stroke="#1f77b4" stroke-width="2" stroke-dasharray="2 3.45"/>
<path d="M1726,847 V1017" stroke="#1f77b4" stroke-width="2" stroke-dasharray="2 3.45"/>
<path d="M1205,1017 L1205,845 L1800,845" fill="none" stroke="#000" stroke-width="1.8" stroke-linecap="square"/>
<path d="M1205,1017 L1800,1017" fill="none" stroke="#000" stroke-width="1.8" stroke-linecap="square"/>
<path d="M1800,845 L1800,1017" fill="none" stroke="#000" stroke-width="1.8" stroke-linecap="square"/>
<path d="M1205.00,974.50h5.50M1205.00,930.50h5.50M1205.00,888.50h5.50" stroke="#000" stroke-width="1.15" fill="none" shape-rendering="crispEdges"/>
<path d="M1205.00,1004.50h3.00M1205.00,996.50h3.00M1205.00,991.50h3.00M1205.00,986.50h3.00M1205.00,983.50h3.00M1205.00,980.50h3.00M1205.00,978.50h3.00M1205.00,975.50h3.00M1205.00,961.50h3.00M1205.00,953.50h3.00M1205.00,948.50h3.00M1205.00,943.50h3.00M1205.00,940.50h3.00M1205.00,937.50h3.00M1205.00,935.50h3.00M1205.00,932.50h3.00M1205.00,918.50h3.00M1205.00,910.50h3.00M1205.00,905.50h3.00M1205.00,900.50h3.00M1205.00,897.50h3.00M1205.00,894.50h3.00M1205.00,892.50h3.00M1205.00,889.50h3.00M1205.00,875.50h3.00M1205.00,867.50h3.00M1205.00,862.50h3.00M1205.00,857.50h3.00M1205.00,854.50h3.00M1205.00,851.50h3.00M1205.00,849.50h3.00M1205.00,846.50h3.00" stroke="#000" stroke-width="1.15" fill="none" shape-rendering="crispEdges"/>
<path d="M1800.00,974.50h-5.50M1800.00,930.50h-5.50M1800.00,888.50h-5.50" stroke="#000" stroke-width="1.15" fill="none" shape-rendering="crispEdges"/>
<path d="M1800.00,1004.50h-3.00M1800.00,996.50h-3.00M1800.00,991.50h-3.00M1800.00,986.50h-3.00M1800.00,983.50h-3.00M1800.00,980.50h-3.00M1800.00,978.50h-3.00M1800.00,975.50h-3.00M1800.00,961.50h-3.00M1800.00,953.50h-3.00M1800.00,948.50h-3.00M1800.00,943.50h-3.00M1800.00,940.50h-3.00M1800.00,937.50h-3.00M1800.00,935.50h-3.00M1800.00,932.50h-3.00M1800.00,918.50h-3.00M1800.00,910.50h-3.00M1800.00,905.50h-3.00M1800.00,900.50h-3.00M1800.00,897.50h-3.00M1800.00,894.50h-3.00M1800.00,892.50h-3.00M1800.00,889.50h-3.00M1800.00,875.50h-3.00M1800.00,867.50h-3.00M1800.00,862.50h-3.00M1800.00,857.50h-3.00M1800.00,854.50h-3.00M1800.00,851.50h-3.00M1800.00,849.50h-3.00M1800.00,846.50h-3.00" stroke="#000" stroke-width="1.15" fill="none" shape-rendering="crispEdges"/>
<path d="M1244.50,1017.00v-5.50M1318.50,1017.00v-5.50M1393.50,1017.00v-5.50M1467.50,1017.00v-5.50M1542.50,1017.00v-5.50M1616.50,1017.00v-5.50M1690.50,1017.00v-5.50M1765.50,1017.00v-5.50" stroke="#000" stroke-width="1.15" fill="none" shape-rendering="crispEdges"/>
<text x="1180.29" y="1018.20" font-size="13.84" fill="#000" textLength="19.16" lengthAdjust="spacingAndGlyphs">−1</text>
<text x="1155.46" y="1025.20" font-size="20.66" fill="#000" textLength="24.69" lengthAdjust="spacingAndGlyphs">10</text>
<text x="1190.89" y="975.20" font-size="13.84" fill="#000" textLength="8.27" lengthAdjust="spacingAndGlyphs">0</text>
<text x="1166.35" y="982.20" font-size="20.66" fill="#000" textLength="24.69" lengthAdjust="spacingAndGlyphs">10</text>
<text x="1191.21" y="932.20" font-size="13.84" fill="#000" textLength="8.27" lengthAdjust="spacingAndGlyphs">1</text>
<text x="1166.35" y="939.20" font-size="20.66" fill="#000" textLength="24.69" lengthAdjust="spacingAndGlyphs">10</text>
<text x="1191.35" y="889.20" font-size="13.84" fill="#000" textLength="8.27" lengthAdjust="spacingAndGlyphs">2</text>
<text x="1166.35" y="896.20" font-size="20.66" fill="#000" textLength="24.69" lengthAdjust="spacingAndGlyphs">10</text>
<text x="1191.09" y="846.20" font-size="13.84" fill="#000" textLength="8.27" lengthAdjust="spacingAndGlyphs">3</text>
<text x="1166.35" y="853.20" font-size="20.66" fill="#000" textLength="24.69" lengthAdjust="spacingAndGlyphs">10</text>
<text x="1231.48" y="1037.00" font-size="20.66" fill="#000" textLength="24.69" lengthAdjust="spacingAndGlyphs">12</text>
<text x="1305.69" y="1037.00" font-size="20.66" fill="#000" textLength="24.69" lengthAdjust="spacingAndGlyphs">13</text>
<text x="1379.85" y="1037.00" font-size="20.66" fill="#000" textLength="24.69" lengthAdjust="spacingAndGlyphs">14</text>
<text x="1454.54" y="1037.00" font-size="20.66" fill="#000" textLength="24.69" lengthAdjust="spacingAndGlyphs">15</text>
<text x="1528.70" y="1037.00" font-size="20.66" fill="#000" textLength="24.69" lengthAdjust="spacingAndGlyphs">16</text>
<text x="1603.34" y="1037.00" font-size="20.66" fill="#000" textLength="24.69" lengthAdjust="spacingAndGlyphs">17</text>
<text x="1677.54" y="1037.00" font-size="20.66" fill="#000" textLength="24.69" lengthAdjust="spacingAndGlyphs">18</text>
<text x="1751.99" y="1037.00" font-size="20.66" fill="#000" textLength="24.69" lengthAdjust="spacingAndGlyphs">19</text>
<text x="1419.07" y="1065.80" font-size="25.56" fill="#000" textLength="170.45" lengthAdjust="spacingAndGlyphs">July 2019 (UT)</text>
<text transform="translate(1108.90,1057.00) rotate(-90)" x="-2.52" y="0" font-size="25.56" fill="#000" textLength="252.70" lengthAdjust="spacingAndGlyphs">&gt;10 MeV Proton Flux</text>
<text transform="translate(1138.60,1017.80) rotate(-90)" x="-2.04" y="0" font-size="25.56" fill="#000" textLength="9.36" lengthAdjust="spacingAndGlyphs">(</text>
<text transform="translate(1138.60,1001.40) rotate(-90)" x="-1.32" y="0" font-size="25.56" fill="#000" textLength="36.58" lengthAdjust="spacingAndGlyphs">cm</text>
<text transform="translate(1128.50,966.00) rotate(-90)" x="-1.18" y="0" font-size="17.89" fill="#000" textLength="10.69" lengthAdjust="spacingAndGlyphs">2</text>
<text transform="translate(1138.60,947.00) rotate(-90)" x="-1.32" y="0" font-size="25.56" fill="#000" textLength="12.50" lengthAdjust="spacingAndGlyphs">s</text>
<text transform="translate(1128.50,932.40) rotate(-90)" x="-1.76" y="0" font-size="17.89" fill="#000" textLength="24.77" lengthAdjust="spacingAndGlyphs">−1</text>
<text transform="translate(1138.60,905.70) rotate(-90)" x="-1.32" y="0" font-size="25.56" fill="#000" textLength="22.37" lengthAdjust="spacingAndGlyphs">sr</text>
<text transform="translate(1128.50,883.30) rotate(-90)" x="-1.76" y="0" font-size="17.89" fill="#000" textLength="24.77" lengthAdjust="spacingAndGlyphs">−1</text>
<text transform="translate(1138.60,854.00) rotate(-90)" x="-1.92" y="0" font-size="25.56" fill="#000" textLength="9.36" lengthAdjust="spacingAndGlyphs">)</text></svg></body></html>
